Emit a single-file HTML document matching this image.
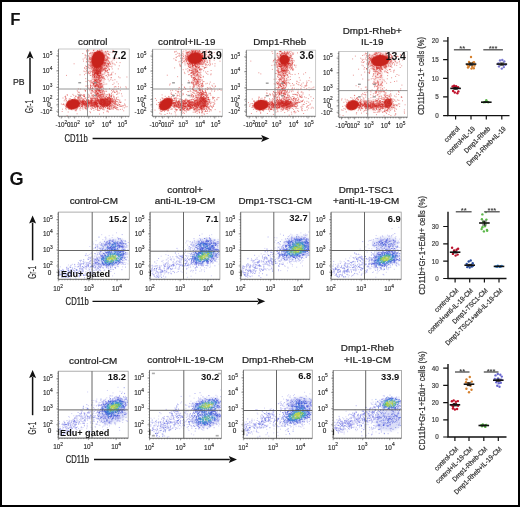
<!DOCTYPE html>
<html><head><meta charset="utf-8"><style>
html,body{margin:0;padding:0;background:#fff;width:520px;height:507px;overflow:hidden}
svg{display:block;will-change:transform}
</style></head><body>
<svg width="520" height="507" viewBox="0 0 520 507" font-family='"Liberation Sans", sans-serif'>
<rect x="0" y="0" width="520" height="507" fill="#fff"/>
<defs><filter id="bl" x="-50%" y="-50%" width="200%" height="200%"><feGaussianBlur stdDeviation="0.6"/></filter><filter id="bl2" x="-50%" y="-50%" width="200%" height="200%"><feGaussianBlur stdDeviation="1.5"/></filter></defs>
<text x="10.3" y="24.9" font-size="16.8" text-anchor="start" font-weight="bold" fill="#111" >F</text>
<text x="9.6" y="185.2" font-size="18.2" text-anchor="start" font-weight="bold" fill="#111" >G</text>
<text x="92.7" y="44.6" font-size="9.8" text-anchor="middle" font-weight="normal" fill="#222" stroke="#222" stroke-width="0.22" >control</text>
<rect x="58.5" y="49" width="70.8" height="67.3" fill="#fff" stroke="#c4c4c4" stroke-width="0.9"/>
<clipPath id="cf0"><rect x="58.9" y="49.4" width="70" height="66.5"/></clipPath><g clip-path="url(#cf0)">
<ellipse cx="98" cy="62" rx="9.5" ry="12" fill="#e04848" opacity="0.3" transform="rotate(10 98 62)" filter="url(#bl2)"/>
<ellipse cx="98" cy="82" rx="5.5" ry="10" fill="#e04848" opacity="0.2" transform="rotate(0 98 82)" filter="url(#bl2)"/>
<ellipse cx="104" cy="102" rx="10" ry="6" fill="#e04848" opacity="0.25" transform="rotate(0 104 102)" filter="url(#bl2)"/>
<ellipse cx="88" cy="103.5" rx="9" ry="4" fill="#e04848" opacity="0.18" transform="rotate(0 88 103.5)" filter="url(#bl2)"/>
<path d="M95.6 65.2h0m1.6-7.2h0m-4.3 0h0m10.9 8.1h0m-0.1-1.7h0m-3.7-1.3h0m-13.3 3.5h0m13.4-0.6h0m-6.5-10.2h0m6.3 5.2h0m2.3-5h0m-3.1 8.8h0m-8.1 10.6h0m8.1-3.2h0m-3.4-18.5h0m0.5 6h0m5.1 4.2h0m-4.2-11.9h0m-4.3 19.1h0m0-8.9h0m3.1 10.4h0m-9.2-16.8h0m12.1-2.1h0m2.2 7.3h0m-13.1 5.6h0m12.3 3.5h0m5.6-4.2h0m-3.1-9.6h0m-9.4-1.1h0m-4.3 6.2h0m16.5 6.4h0m-4.1-12.9h0m-11.7 13.4h0m14.5-4.6h0m-5.5 1.4h0m7.6 3.3h0m-6.2-2h0m-13.6 4h0m16.2-3.6h0m-15.2-13.7h0m7.6 16.7h0m-7.7 3.8h0m14.1-13.3h0m-2.8 6.8h0m-2 4.1h0m-1.8-14.6h0m9.2 5.9h0m-13 5.8h0m16.3-9.5h0m-17.3-0.6h0m7.6 0h0m10.4-4.6h0m-0.4-2.3h0m-15.5 14.3h0m10.9 4.3h0m-3.3-7.2h0m-1.9 3.6h0m-1.4-3.1h0m4.9-1.5h0m0.1 5.2h0m7.7-0.6h0m-13-9.1h0m0.1 11.9h0m-1-5.1h0m-4.3-2.2h0m8.9 1.8h0m-5.6 2.7h0m6.3-9.6h0m11.1 10.3h0m-16.8-7.5h0m1.9 0.7h0m-14-6.7h0m23.2-1.6h0m-10.1 17.4h0m4.5 5.9h0m-11.8-19.3h0m6.3 10.2h0m2 5.6h0m-0.1-9.2h0m5.6 0.7h0m-7.7 11.2h0m10-14.7h0m11.5-5.5h0m-12.3 5.5h0m-6.4 7.7h0m0.7-0.5h0m5.1-13.7h0m0.8 15.9h0m4.2-14.6h0m-8.3-3.6h0m-0.3 25h0m-9.7-2.2h0m14.1-13.1h0m-20.2 10.5h0m14.6-15.5h0m1.1 9.5h0m9-11.3h0m-6.6 21.7h0m4.9-14.4h0m-15.1 8h0m6.7-6.9h0m8.3-1.8h0m-21.6-5.6h0m0.4 11.2h0m15.4-10h0m-4.5 12.3h0m-0.4 4.5h0m-0.3-2.7h0m8.1 6.9h0m-11.4-9h0m-8 0.1h0m6.3-8.7h0m6.1 1.1h0m-2.8 1.9h0m14.4 1.1h0m-9.2 7h0m-6.5-0.7h0m-3.4-16h0m13.1 15.4h0m-5.9-1.1h0m4.5-17.3h0m-11.2 2.7h0m14.5 3.6h0m-10.3-4h0m-4.9 5h0m1.2 4.7h0m-6.9-1.7h0m19.3-1.7h0m-16.3-8.8h0m14 6.7h0m0.7 11.2h0m0.1-3.8h0m3.4 3.7h0m-3.8 5.2h0m-3.8-17.1h0m-0.7 26.4h0m-5.1-16.9h0m18-3.8h0m-9.6 7.4h0m-6.9-10.5h0m5.4 9.5h0m-0.1-9.4h0m-5.4-2.6h0m10.4 6.4h0m-8.6-10.4h0m17.1 21.6h0m-10.8-8.2h0m6.3 0.8h0m-10.4-1.3h0m-12 2.3h0m16.5-12.6h0m1.4 23.3h0m-11.7-25h0m8.5 9.5h0m-2-11.1h0m11.2 20.8h0m-2.4-0.9h0m1.1-1.5h0m-14.9-8h0m-5.8-10.5h0m10.1 13.7h0m-2.8-6.5h0m6.1 5.9h0m1.4-1.3h0m-6.7 4h0m5.1-13.8h0m-5.5 6.5h0m2.8 2h0m0.6 0.3h0m1.8-12.9h0m-0.9 21.1h0m2.3-11h0m1.5-6.8h0m-15.7 6.3h0m4.5 7.1h0m-2.1 7.3h0m3.5-9h0m8-1.5h0m4.9 5.8h0m-8.7-2.8h0m9.2 5.3h0m0-18.8h0m-10.2 14.6h0m-1.5 2.8h0m5.6-0.4h0m-7.7 13.5h0m13.5-22.6h0m-11.8 23.4h0m0.5-15.7h0m9.4-6.1h0m-13-0.9h0m7.3 10.1h0m4.5-9.3h0m-0.5 4.7h0m-3-5.1h0m-3.8 5.1h0m-2.4-12.6h0m0.1 11h0m8.4-4h0m6.4 6.5h0m-1.8-13.2h0m-5.1 15.7h0m-14-11.9h0m10.8 4.9h0m2.8 4.7h0m4.3 5.2h0m-13.6-18.1h0m2.5-4.8h0m3.8 10.8h0m-6.7-1.7h0m6.6-1.3h0m1.6-3.8h0m2.5 10.8h0m-2.8-10h0m-6.5 5.2h0m-3.4 0.8h0m8.3-3.1h0m2.5 9h0m-0.3-13.5h0m-2 6.9h0m4.5 4.2h0m-4.7-10.5h0m-5.4 4.7h0m3.2 2.6h0m6.9-3.3h0m10.4 2.9h0m-7.9 2.5h0m-11.2-1.1h0m4.3 20h0m0.2-9.6h0m3.2-2.4h0m0.5-10.1h0m1.6-8.1h0m3.9 1.3h0m-11.1 26.6h0m1-19.1h0m8.1 1.7h0m-12-0.3h0m7.4 5.7h0m-9.9 7.5h0m17.5-12.4h0m-7.5-5.6h0m7.3-1h0m-4.8 1.1h0m-10.2 8.9h0m13.3-4h0m-13.3 4.9h0m4.6-3.7h0m7.7 9.1h0m-14 7.7h0m5.7-12.6h0m-2.3-8.1h0m-9.8 14.9h0m23.7-22.8h0m-2.5 6.4h0m-7.5-0.1h0m1-6.9h0m-2.2 12.3h0m4.2-4.1h0m-8.8 1.8h0m0 12.9h0m10.3-13.3h0m-6.2-6.7h0m-3.4 2.6h0m5.7 9.1h0m-1.2 14.3h0m-3.8-19.9h0m0.8 1.6h0m3.6 2.9h0m-2.3-0.9h0m1 4h0m-8.4-17h0m11.3 1h0m-9.1 13.4h0m2.3 0.5h0m8.8-1.2h0m-0.6-3.9h0m-11.4-1.6h0m11.8-2.2h0m-5.5 10.6h0m-4.4-1.9h0m18.2-7.3h0m-10.8 1.5h0m7.4 5.8h0m-2-9.6h0m-6.6 4.9h0m-12.9 10.7h0m17.6-10.9h0m-2.6 4.1h0m-10.4-7.5h0m18.2 0.4h0m-17.6 4.8h0m17 4.3h0m-11.8 14.2h0m0.8-26.6h0m3.9 12.1h0m-0.8-3h0m-8.6-5.8h0m3.3 6.7h0m3.5-4.3h0m-3.5 9.8h0m12.8-10.5h0m-2.5-4.1h0m-7.2 12.4h0m10.5-8.3h0m-10.4 3.2h0m-8-3.2h0m4.2 4.1h0m4.4-0.2h0m-4.6 4.9h0m4.3-12.9h0m-3.4 4.7h0m9.2 0.6h0m-2.3-5h0m-4.2 20.4h0m-7.1 5.1h0m4.5-20.7h0m3 9.8h0m2.9-1.5h0m-3.1 16.2h0m1.8-21.4h0m4 1.9h0m7.2-13.3h0m-6.6 6.6h0m-3.8 22.4h0m-1.2-22.4h0m-1.8-5.7h0m-3.4 12.9h0m4.9-4.3h0m-2.8 7.3h0m5.9-8.6h0m1 0.2h0m-13.6 12h0m13.8-19.4h0m1.3 12.2h0m-17.8 8h0m12.5-4h0m1-9.4h0m-12.2 7.8h0m11.5-9.2h0m1.2 3.6h0m2.7-3.6h0m-8.3 8h0m12.2-7.1h0m-12 15.4h0m0.3-7.7h0m13-3.7h0m-1.3-7.2h0m-7.1 4.4h0m-2.7 10.5h0m16.5-13.1h0m-19.5 6.7h0m-2.8-0.6h0m11-4.9h0m-7-3.9h0m-0.8 12.8h0m5.1-10.5h0m-0.8 18h0m-1-11.4h0m7.4 0.6h0m-18.8 16.6h0m11-16.8h0m5.5 3.5h0m-4.2-16.7h0m-1.5 18.8h0m-3.4-19.6h0m3.8 6.2h0m4.7-1.5h0m-8.4 1.2h0m5.4-1.4h0m-2.2 12.5h0m5.2 9.9h0m-7.8-21.1h0m-14.1 18.4h0m13.8-15h0m7 1.5h0m-14.1 0.1h0m15.7 2.4h0m-2.4 1.7h0m6.1-4.9h0m-2.2-2.2h0m-0.2-3.7h0m-9.4 21.4h0m6.6-16h0m-8.2-7.4h0m4.8 16.8h0m2.1-3.4h0m-4.3 6.8h0m1.4-17.2h0m6.4 6.9h0m-5.7-7h0m-2 10.6h0m6.8-15.4h0m-2 12.3h0m-9.5 3.5h0m6.3-8.9h0m3.3 15.9h0m-7.1-9.6h0m-4.5 16.4h0m4.3-9.4h0m-0.3-3.6h0m1.9-2.5h0m4-9.9h0m11.9 9.3h0m-23.7 2.3h0m-1 2.5h0m8.5-7.5h0m10.9 1.9h0m-1.6 5.4h0m-11.9-1.3h0m8.1-0.3h0m-14.5-11.7h0m16.7 12.9h0m-3.9-3h0m16.6-9.9h0m-18.7 5.3h0m8-2.8h0m2.2-2.7h0m-5.7 1.3h0m-0.3-1.6h0m-13.5 13.6h0m14.1-12.3h0m-3.4 13.6h0m-5-11.1h0m7.8 7.4h0m4.5-0.9h0m-6.1-6.8h0m1.7-1h0m-7-4.3h0m2.3 1.6h0m-5.6 10.3h0m-0.9 0.1h0m2.3-2.4h0m14.3 1.5h0m-12.1-3.8h0m0.5 1.1h0m1-0.6h0m5.8 7.5h0m1.4-1.3h0m-6-6.8h0m0.7-2.6h0m-0.9 2.5h0m-3.8-0.8h0m9 0.6h0m-2.3 25.4h0m-15.9-26.5h0m18.5-0.1h0m0.7 6.3h0m-3.1-9.5h0m3.4 1.7h0m-2.4-0.7h0m-15.4 1.2h0m13 9.9h0m-4.9-8.2h0m8.5 3.3h0m0.3 17h0m-1.4-4.5h0m1.7-6.2h0m-6.4-15.3h0m9.3 0h0m-15.8-4h0m20.1 30.9h0m-13.9-27.1h0m5.4 0.9h0m5.1 7.2h0m-16.5 9.4h0m4.9-9h0m4.3-4.1h0m2.6-2.9h0m-9.2-2.5h0m5.9 8.7h0m3.3 1.2h0m-6.5-8.9h0m-8.8 3.2h0m14.1 9.2h0m-2.3-6.9h0m5.9 3h0m-2.2 4.7h0m-4.4 5.8h0m-1.6-15.6h0m-0.6-4.2h0m9.3 25.4h0m-6.9-12.4h0m6.4 3.5h0m3.8-18.2h0m-13.9 12.9h0m12.9-0.6h0m-12.7-6.8h0m2.1-4.2h0m12.2 4.7h0m-13.6 22.8h0m10.1-14.7h0m-10.7-1.5h0m12.7 4.5h0m-1.2-5h0m-3.8-3.6h0m-3.2 13.2h0m-8.5-14.3h0m10.7-2.5h0m-5.6 11.4h0m13.8 1.3h0m0.6-4.9h0m-9.4-12.9h0m-0.2 0.2h0m-2 13.9h0m0.1-1.7h0m-7.3 9.1h0m7.9-18.6h0m-5.6 2.7h0m9.1-5.8h0m-7.2 22.5h0m7.7-12.9h0m-3.3-0.4h0m-2.6 7.3h0m3.1-14.3h0m3.4 3.3h0m-7.9 24h0m-1.1-30.6h0m-7.6 12.2h0m1.9 2.7h0m5.9-7.9h0m3.4 16.6h0m10.1-1h0m-9.1-9.6h0m7.5 12.9h0m-10.6-11h0m4.2-2.9h0m4.6 5.4h0m-15.8 4.7h0m19-1.6h0m4.9-17.7h0m-11.9 12.8h0m-1.5-2.6h0m-3.1-7.8h0m3.9 8.8h0m-0.3-8.7h0m-5.7 13.8h0m8.6-6.1h0m-9 11.5h0m0-8.3h0m12-6h0m-0.5-7.9h0m-1.2 11.9h0m-16.1 1h0m3 6.2h0m3.8-12.5h0m6-0.3h0m0.2-2h0m1.4 5.4h0m2.9 0.9h0m-17.5-3h0m11.5 11.3h0m-9.9 2.4h0m3.9 8.5h0m3.1-15.1h0m1.9-16.1h0m5 19.6h0m2.7 0.1h0m-10.1-16.1h0m-3.2 10.9h0m8.2-6.2h0m-1.1 0.9h0m-1.4 8h0m7-11.8h0m-18.3 15.7h0m10.1-0.9h0m-7.8-14.8h0m4.8 10.7h0m7.8 9.5h0m-2.1-6.4h0m2.1-20.1h0m-0.3 19.1h0m0.9-11.5h0m-3.7 10.9h0m0.7-2.7h0m-2.6 3.3h0m-1.8-9.3h0m0.5 6.1h0m12.6-5h0m-0.4 16.2h0m-5.8-9.8h0m7.1-5.6h0m-9.5-10h0m-0.8 21.9h0m2-8h0m-3.9-3.1h0m-8.8 6.3h0m9.9-17.8h0m-2.5 2h0m6 18.6h0m-12.7-3.8h0m15.9-10.7h0m-13.7-4.2h0m3.1 10.6h0m11.8-11.9h0m-10 1.2h0m-3 19.2h0m9.4-4.5h0m-6-11.8h0m-4.6 8.8h0m-23.3 37.4h0m-2.9-5.2h0m12.2 12.1h0m-4.3-9h0m7 4h0m-0.7 5.2h0m-0.5-8.1h0m0.6 5.1h0m-15.7-1.9h0m0.9 1.1h0m10.6-6.3h0m-13 12.8h0m14-2.1h0m-10 0.3h0m20.1 0h0m-14.5-4.6h0m1 3h0m6-5.1h0m-13.1 5.4h0m5-1.5h0m5 3.3h0m3.2-9.6h0m-2.6 10.1h0m-6.2-4.5h0m10.5 1.4h0m-6-9.8h0m-8.8 8.5h0m11.3 7.5h0m-8.2-4.3h0m6.9-13.5h0m-7.5 9.4h0m1.6-1.7h0m4.9-3.8h0m0.1 0.7h0m-4.7 6h0m-0.4-1h0m12.1-3.5h0m-9.3 4.9h0m-1 1.7h0m-5.6-0.9h0m3.2-6.7h0m13-2.8h0m1.1 6.2h0m-3.1-6.4h0m0.6 10.3h0m-8.8-5h0m14.9-1.7h0m-17 0h0m5.7 2.9h0m-0.4 6.1h0m-3.9-4.6h0m9-8.1h0m-0.1 12.1h0m-16-9.3h0m1.2-3.4h0m8.4-1.8h0m3 13.6h0m-13.4-4.8h0m-0.9 4.8h0m5.9-5.6h0m5.2 2.4h0m-2.8-1.7h0m-1 0.6h0m-3.6 0.5h0m-4.8-1.4h0m22.4-2.1h0m-17.9 4.4h0m0-8.2h0m3.3 9.6h0m5.7-4.7h0m-8.3-2.6h0m14.1 2.9h0m-15.1-7.1h0m1.5 19.4h0m-0.9-10.8h0m7.7-1.9h0m-3.8-4.4h0m-1.9 13.5h0m1-3.8h0m-6.3-3.6h0m12.2 3.2h0m-8.2-0.3h0m7.5-7.2h0m0.4-0.7h0m-6.5 5h0m-2.4-5.7h0m5.1 8.5h0m0.6 2.1h0m-6.5-9.8h0m16.9 4h0m-4.5-4.4h0m0.1 4.6h0m-1.1-0.7h0m2.6-3.5h0m-13-0.9h0m12.7 0.6h0m-12.7 1.7h0m3.1-2h0m1.4 2.5h0m-1.7-1.1h0m3.7 1.4h0m1.1 2.8h0m-0.8-10.3h0m-3.8 6.7h0m6.8-4.7h0m-7.4 7h0m3.2 4.9h0m-0.6 0h0m-8.1-10.3h0m17.1 6.2h0m27.3-1.2h0m0-5.4h0m3.2 2.8h0m0.3 2.5h0m-20.7-5.5h0m21.7 4.6h0m-10.7 1.5h0m-0.2-3.2h0m3.7 2.8h0m9.9-0.4h0m2.6 7h0m-1.2-3h0m-11.1-3.7h0m-1.9-3.4h0m0.5 0.3h0m12 4.7h0m-14.6-9.8h0m2.7 6h0m-7.2-2.8h0m-8.2 6.8h0m15.3 8h0m0.3-10.9h0m10.3 1.1h0m-8.9-2h0m-5.4 7.5h0m11.2 0.9h0m-9.4-6.8h0m-3.8 3.8h0m-3.6-1.6h0m17.5 3.3h0m-14.3-1.2h0m1.6-7.4h0m-4.3 7.6h0m20.8-7h0m-16.8 1h0m22.9 5.4h0m-21.4-11.2h0m-0.9 11.9h0m17.8-5.8h0m-17.9-0.9h0m-8.4 5.6h0m5.6 0.7h0m-4.4-9.4h0m14 2h0m3.5 3.1h0m-13.7 2.5h0m14.1-10.2h0m6.9 9.7h0m-7.5-9.4h0m-10.3 6h0m12.5-4.4h0m-13.7-2.3h0m4.5 9.5h0m-10.1-3.8h0m15.4 8.7h0m1-7.5h0m-12.8-2.5h0m3.6 4.3h0m4.3 6.1h0m2.3-11h0m8.8 8.1h0m-10.1-6.7h0m-13.8-1.2h0m19.5 0.9h0m-15.6 4h0m10.9 1.6h0m2.9 3.2h0m-10.5-1.7h0m-1-1.1h0m8.2-1.8h0m5.5-1.1h0m1 3.6h0m-6.9-5.8h0m-6.2 0.2h0m3.9 2h0m22.3 2.7h0m-15.5-6h0m-10.4 2.1h0m6.3-2.8h0m10 1.8h0m-3.8-7h0m-7.5 10.4h0m1.3 1.3h0m0.7-1.8h0m-15.2-3.5h0m-3.2 5.4h0m18.6-3.3h0m-7.9-1.5h0m18.6 9.2h0m-13.3-1.7h0m-10.7-12.9h0m7.7 4.2h0m-0.5 4.3h0m25.1-3.4h0m-20.9 3.7h0m-0.5 2.6h0m12.6-8.7h0m-11.3 3.9h0m1.4-5h0m-14.8-3.2h0m16 10.1h0m-3.2-10.3h0m-3.1 6.5h0m-7.3-0.7h0m14.8 5.9h0m-5.1-0.1h0m-4-1.8h0m4.5 1.9h0m-0.8-2.8h0m-0.4-2h0m16.5 4.7h0m-12.6 7.1h0m6.8-15.4h0m-4.9 9.6h0m8.3 1.9h0m-7.8-10h0m-11.5 5.8h0m9.6-5.2h0m-6.2 2.5h0m3.1 2.9h0m-2.4-6.2h0m10.7 11.3h0m-9.4-2.3h0m3.8-1.5h0m0.3-5.7h0m0.6 7.1h0m-10.3 3.9h0m20.9-0.6h0m-0.7-4.3h0m-16.3-5.4h0m-3.3 2.9h0m5.5 2.2h0m-13.9 6.5h0m30-9.3h0m-11.2 2h0m-2.8-2.7h0m-2.8-2.5h0m2.1 3.2h0m1-3.3h0m-1.9 3.6h0m3.9-4.5h0m-1.3 8.2h0m1.3-5.4h0m-7.6 0.6h0m8.5 7.1h0m-6.2-8.8h0m3.7 3.4h0m-9-3.7h0m5.7 5.6h0m-7.7-6.8h0m11.9-0.8h0m-2.7 6.3h0m-1.6-5.5h0m0.4 2.8h0m2.8-2.1h0m5.2-3.3h0m-8.8 6.7h0m7.9-2.4h0m-2.9 0.1h0m1.4 9.2h0m-8-5.1h0m-3.7 2.1h0m15-3.8h0m-16.4 1.5h0m15.9 2.8h0m-2.3-11.7h0m-10.5 13h0m-3.8-1.2h0m21.8-1.5h0m-5.4-4.3h0m-16.4 0.9h0m7.2 0.2h0m6.3-0.4h0m-3.6 2.3h0m-1.3 5.7h0m3.1-7.1h0m-4.6-2.8h0m10.9 3.1h0m-17-2.8h0m6.6 0.4h0m8.6-2.8h0m-4.2 5.2h0m-11.6-0.4h0m7.5 1.8h0m-2.5-0.8h0m-8.5-5.5h0m17.2 8.5h0m-5.6-6.6h0m7.7-6h0m-13.2 11.1h0m10.2-6.8h0m-17.8 9.9h0m14.3-9.4h0m-0.7 7.2h0m-18.5 0.8h0m23.3-12.7h0m0.2 1.2h0m2.6 8.7h0m7.8-4h0m-15.8 6.6h0m-4.5-7h0m1.9 2.5h0m-5 2.2h0m11.4-1.6h0m8.1-1.6h0m-2.8-0.9h0m-3.8-5.5h0m-3.9 7h0m-4.9-1.7h0m1.1-0.5h0m-13 0.5h0m11.6 0.3h0m-3.6 1.6h0m12.9-0.5h0m-8.9 6.4h0m10.2-1.7h0m1.3-5h0m-9 5.8h0m-3-5h0m6.5 2h0m-4.5 2.4h0m0.7-1h0m8.7-0.3h0m-2.4-7.2h0m-14.3 2.1h0m12.5 8.5h0m-11.9-4.8h0m2.6-4.1h0m4.1 5.7h0m3.4 1.9h0m-8.4-1.1h0m13.4-3.3h0m-3.2-2.6h0m-10.9 0.7h0m3.1 13.2h0m1.1-5h0m4.8-5.4h0m3.8-4.3h0m1.2 4.6h0m-17 0.9h0m14.5-0.6h0m7.2-3.5h0m-7.5 4.7h0m-9.9 1.8h0m-3.9-10h0m13.9 0.8h0m-4.5-2.2h0m1.3 2.1h0m1.9-1.6h0m0.7 5h0m-2.7 0.8h0m0.5-5h0m-18.9 5.4h0m11.4-1.9h0m9.6-6.1h0m-8.3 5.5h0m-2.1 3.7h0m6.4-4.6h0m-5.9 6.5h0m2.3-0.9h0m7.7-9.9h0m-10.7 7.6h0m10 3.1h0m3.2 1h0m-8.2-4.9h0m8-0.9h0m2-4.7h0m-2.8 5.7h0m-18.4 4.6h0m16-3.8h0m-9.7-2h0m18.1-1.4h0m-34.9-0.1h0m15.9 2.9h0m5.6-3.1h0m-3.1 7.8h0m-4.2 3.6h0m6.3-12.2h0m9.3 6.7h0m-12.8 0.7h0m-5.6-6.7h0m20.8 2.7h0m-17 3.1h0m15.5-2.2h0m-19-1.3h0m15.5 4.5h0m10.1-4.1h0m-16.4 0.8h0m11.8-3.6h0m0.7-7.2h0m-3.5 8.3h0m-2.4 5.5h0m-11.5-3.1h0m10 2.6h0m-8.2-6.3h0m-7 14.2h0m12.2-11.1h0m-9.2 4.6h0m6.8 2h0m9.7-5.6h0m-0.9-4.5h0m-7.4 2.1h0m-6.6 2.4h0m7.9 5.6h0m-22.5-8.4h0m17.1 0.8h0m9.4 3.5h0m-2.8-3.5h0m3.3 3.3h0m-16.4-2.4h0m3.3-3.7h0m10.6 4.9h0m-0.2-3.7h0m-2.2-0.2h0m4.1 6.5h0m9.6 2.3h0m-17.9-6.9h0m-1 3h0m20.5 1.6h0m-29.3-7.8h0m6.4 7.1h0m9-0.9h0m12.5-4.5h0m-18.4 11.2h0m8.3-11h0m-16.6-3h0m-2.9 6.4h0m17.4 3.7h0m-1.3-6.8h0m-4.2 10.4h0m-7.2-6.9h0m12.6 1.8h0m-3-0.5h0m8.5-2.6h0m-8.9-0.1h0m-3.6-0.1h0m4.7 1.6h0m11.5 4.4h0m-12.5-2.8h0m5.2 0.6h0m-1.9-1.9h0m-3.5-4.2h0m9.4 8.3h0m-1.5-3.5h0m-2.7-3.5h0m-14.4 4.5h0m13.9-4.9h0m-8.2 7.3h0m-5.8 1.9h0m17.1 2.5h0m-9.5-9.6h0m1.5 0.7h0m2-3.6h0m9-0.1h0m-11.1 5.3h0m-0.2-3.9h0m6.3 0.2h0m-11.2 1.1h0m7.2 7.2h0m-6.2-2.9h0m2.2-5.3h0m3.2 2.5h0m8.3 5.9h0m-10.5-1.7h0m11.5-2h0m-12.3 0.3h0m4.5-2.2h0m-1.1 1.3h0m9.7 1.8h0m-9.2-0.5h0m11.6-7.7h0m0.1-1.6h0m-6.5 7.7h0m6.6-1.3h0m-13.8-4.3h0m-5.4 6.3h0m7.1-6h0m5.4-0.2h0m-6.8 1.3h0m14.7 7.7h0m-12.7-12.2h0m3 6.6h0m0.5 2h0m-4.6 1.4h0m8.1-2.9h0m-8.7-2.7h0m7.6-2.5h0m-5.9 1.4h0m-8.7 5.4h0m9.6-2.3h0m6.3-6.1h0m-6.6 7.2h0m6.3-5.5h0m-0.8 5.2h0m4.5 3.7h0m-5.7 4h0m-3.8-10.3h0m-2.4-2.1h0m2.2-3.7h0m-0.4 9.2h0m7.5-3.1h0m2.8-1.2h0m-10.6-4.9h0m-4.4 4.3h0m15.5 5.3h0m-17.7 0h0m10.8-3h0m-3.1-0.3h0m-3.9-5.7h0m3.1 11.9h0m10.4-6.1h0m-14.9 0.3h0m11.2 2.2h0m-10.1 0h0m2.6 0.6h0m-1.4-7.7h0m3.2 8.7h0m-8-3.4h0m13.6-1.1h0m-10.4 9.4h0m10.1-3.9h0m-12.2 2.4h0m-4.8-8.4h0m16.3 7.2h0m-11.3-7.8h0m7.6-4.9h0m3.1 9.7h0m-7.4-0.1h0m8.3-0.9h0m-1.7 4.7h0m-6.8-5.3h0m-0.4 3.4h0m0.8-2.2h0m3.7-1.5h0m10.7-0.6h0m-2 3.5h0m-0.7-3.8h0m-2.6 3.5h0m-10.5-1.9h0m3.3-1.1h0m9.7-2.7h0m-20.2-3.9h0m8.3 4.2h0m3.2 4.7h0m11.8-1h0m-8.8-4h0m0.8 8h0m5.2-12.7h0m-3.1 13.6h0m-0.4-11.9h0m-7.7 8.1h0m4.9-5.4h0m-8.8 6.8h0m-3 1.8h0m9.1-4.3h0m-9.1-3.5h0m13.6-3.4h0m9.4 0.3h0m-22.2 5.6h0m11.4 2.6h0m-5.7-3.6h0m0.9-1.4h0m-15.8 5.9h0m19.1-3.1h0m-5.9 0.4h0m4.1-1.3h0m7.5-6.3h0m-5.7 2.5h0m-3.8 9.9h0m-5.2-6.2h0m3.3 4h0m-2.6-10.1h0m10.1 5.1h0m-5.6 5.6h0m-3.9-5.6h0m7 3h0m-4.5 2.4h0m18.6-5.6h0m-2.5-6.5h0m-3.1 6.8h0m-8.6 0h0m-5.2-3.6h0m1.6 9.9h0m10.4-6.3h0m-11.2-1.4h0m-4.6 9.6h0m12.6-6.4h0m-7.8-4.4h0m12.1 6.9h0m-15.2 0.8h0m-1-1.3h0m0.9-4.1h0m9.8 3.3h0m3.5-4.9h0m3.8 8.4h0m-10.7-3.4h0m-5.1-2.4h0m-3.7 0.9h0m10.2 4.9h0m5.1-2.1h0m-8.8-4h0m0.1 1.8h0m-10.7 2.1h0m2.5-5h0m10.6 0h0m11.1 1.6h0m-0.6 4.9h0m-13.9-3h0m12-2.8h0m-8.1-0.8h0m-0.2 0.7h0m0.2 5.2h0m8.8-3.3h0m-8 2.8h0m-3.3-7.4h0m9.4 0.5h0m-1.2-0.1h0m6-0.3h0m-6.6 9.8h0m-12.2-0.1h0m1-12.5h0m10.4 9.5h0m-6.3-12.4h0m1 8.5h0m-2.1 0.1h0m-9.5-1.1h0m24.1 8.1h0m-14.5-8.6h0m5.1 6.8h0m2.2-8.6h0m-3.8 5h0m8.6 4.1h0m-6.2 0.1h0m-6.2 1.2h0m-0.2-4.4h0m9.1-5h0m-10.9-3.3h0m5.8 6.6h0m-3.3 2.1h0m-12-2h0m14.8-0.9h0m4.7 7.7h0m-8.3-10.3h0m-1.1 4h0m8-3.7h0m2.8-0.6h0m-1.1 5.5h0m-2.5 6.7h0m-4.9-8.9h0m5 3.9h0m-3.6-42.2h0m2.8 2h0m10.2-3.3h0m-7.1 0.8h0m-13.7 3.3h0m16.9-3.5h0m-4.6-5.1h0m1 11.2h0m0.4 0.8h0m-11.8-10.4h0m13.6 2.5h0m-9.3-3.7h0m14-3.6h0m-10.8 1.1h0m2.2 10h0m5.5-15.4h0m4.1 8.3h0m-9.8 13h0m2.4-16.7h0m-2.7 2.9h0m-1.7 2.3h0m9 3.9h0m-10.8 14.1h0m1.8-15.4h0m5 3.7h0m-1.8-1.8h0m11.7-2h0m-15.3 1.3h0m1.3-4h0m4.8 4h0m-2.3 3h0m0.5-12.4h0m5.1 5.4h0m1.6-1.7h0m-3.1 5.6h0m-15.6-10.4h0m7.5 16.7h0m-3.7-2.8h0m14.3-2.4h0m-2-5.8h0m-3.3 4.2h0m2.1 2.8h0m-3-8.1h0m-1.7 6.4h0m-5.3-9.6h0m6 4h0m0.4 1.8h0m5.3-10h0m-5.2 14.1h0m3.8 4.2h0m-9.6 25.4h0m-7.5-3.6h0m3.9-1.9h0m-1.7-0.6h0m1.6-0.1h0m-1.3-2.3h0m0.5 1.6h0m-1.8-13.6h0m6.4 18.1h0m-2.7-4h0m-0.4 2.9h0m3.4-14.2h0m-3.8 6.3h0m-2.6-12.6h0m9.9 21h0m-13.9-18.4h0m8-0.9h0m-9.4 9h0m5.2 10.8h0m0.7-15h0m5.3 10.3h0m-3.7 8.9h0m-0.4-24.2h0m-0.5 14.7h0m2.4 9.8h0m-4.8-13.6h0m4.4 8.8h0m-1-4.6h0m1.5 7.6h0m-1.8-15.3h0m-0.4-5.5h0m-0.5 22.3h0m-2.3-15.3h0m-3 17.7h0m4.4-25h0m3 17.3h0m-3.7-0.6h0m5.5 4.4h0m-6.2-17.2h0m1-0.6h0m-1.8-5.7h0m4.9 13h0m-1.8-9.1h0m2.5-1.4h0m0.4 23.3h0m-0.8-6.1h0m-3-13.8h0m1.4 8.7h0m2 2.6h0m1.1 8.5h0m-1.6-15h0m-1.7-0.8h0m-3.9 17.8h0m4.9-11.4h0m-5.1-11.2h0m9.1-5.6h0m-2.1 17.4h0m-1.9 2.4h0m-3.2-4.2h0m5.5-6.3h0m-0.2 4.3h0m-7 2.2h0m0.2-8.8h0m7.5 5.9h0m1.2 11.2h0m-4.1-17h0m1.9 6h0m-1-11.9h0m-2.3 21.3h0m-1-13.6h0m-1 4.4h0m1.4-1.1h0m-0.7 8.3h0m-1.8-13.8h0m1.3 3.4h0m2-6.1h0m0.8 5.3h0m-2.3 15h0m4.4-2.2h0m-3.9-12.7h0m3.6 0.9h0m-4.4 5.4h0m3.3 10.7h0m0.2-25.7h0m5.6 13h0m-6.7 2.5h0m4.1 7.1h0m-3.4-10.3h0m-1.1 6.1h0m-0.9-5h0m0.3-11.2h0m1.1-1.8h0m-0.3-0.4h0m-0.5 18.5h0m-2.7 8.8h0m2.6-13.8h0m0.8-7.1h0m-7.2 8.4h0m9-14.3h0m3.1 5.3h0m-2.1 7.1h0m-3.5-4.2h0m2.2 15.5h0m-6-13.9h0m2.6-4.1h0m6.1 9.2h0m-5.5-4.9h0m-1.4-10.4h0m0.7 14.6h0m3.4-2.9h0m-2.4-3.8h0m-4.9-2.9h0m2.6 15.6h0m6 3h0m-3.8-23.1h0m1.9 4.3h0m-3.9 9.4h0m-2.4-12.5h0m2.1 7.9h0m5.5 4.6h0m3 5.4h0m-8-18.2h0m6.3 22.8h0m-7.8-11.4h0m0.6-0.6h0m2.9-8.4h0m1.5 19.4h0m-1.7 3.9h0m-1.6-10.2h0m2.5 3.6h0m-3.7-12.6h0m1.2 12.7h0m2.7-21.2h0m0.9 15.8h0m-1.6 2.6h0m2.7 3.9h0m-7.3-18h0m3 10.6h0m4.6-11.5h0m-4.2 7.6h0m-1.9-4.7h0m3.7 19.5h0m0.4-10.6h0m1.3-8.5h0m1.1 7.7h0m-6.4-9h0m1.7 12.6h0m4.8-18.5h0m1.9 21.1h0m-6.9-21.1h0m0 11.2h0m5.4-7.2h0m-4.1 3.4h0m2.3 14.5h0m-6.5-0.2h0m7.3-5.4h0m-3.3-13.1h0m-6.2 15.6h0m0.2 4.7h0m13.3-2h0m-8.5 1h0m-5.5-7.4h0m7.4 12.1h0m0.9-21.9h0m-5.4 8.4h0m8.7 6.9h0m-5.4 6.4h0m-1.1-2.9h0m2.9-1h0m-1.1-20.8h0m3.8 14.4h0m-6 6.6h0m3.5-21.9h0m-1.2 21.8h0m-1.6-22.4h0m-5.7 10.9h0m5.1 3.9h0m3.1-1.6h0m-1.3 9.6h0m0.7 3h0m0.8-21h0m0.5 9.4h0m0.2 9.3h0m1.8 2.8h0m0.5-10.4h0m1.5-2.2h0m-9-13.6h0m6.5 19.2h0m-4.9 1.9h0m-3 3.9h0m2.5-9.7h0m6.7-9.3h0m4.8 6.9h0m-4.6 5.6h0m-3.1 0.6h0m-4 2.7h0m8.1-18.9h0m-9.9 1.3h0m11.3 3h0m-6 0.2h0m0.6 0.4h0m-4 2h0m-0.8-4.6h0m8.3 15.5h0m0.3-1.4h0m-1.8-12h0m-1.1 6.3h0m-7.4-13.9h0m2.7 9.3h0m1.6 4.4h0m0.1-3.2h0m-3.5 15.4h0m12.3-5.5h0m-5-10.9h0m-6.5-5.8h0m5.6 21.1h0m0.5-23.4h0m1 14.1h0m-7.7-8.2h0m6.3 9.9h0m-6.4 7.9h0m10.4-0.9h0m-3.9-4.7h0m-3.4 3.3h0m-2.5-16h0m4.3 2.2h0m0.4 13.4h0m0.5-15.3h0m-1.8 7.8h0m0.7-9.9h0m1.1 3.4h0m1.8 13.4h0m-4.4-22.4h0m-0.2 0.9h0m5.2 14.7h0m-0.7 8.4h0m4.4 3h0m-10.5-23.1h0m6.5 15.7h0m-6.4-10.8h0m5.1 5.2h0m-1.6-7.2h0m-1 21.1h0m3.8-8h0m-8-19.8h0m6.5 10.3h0m-0.4 17.4h0m-3.4-3.2h0m0-21.7h0m7.8 23.8h0m-7-12.9h0m-1.4 0.9h0m-2.7-12.5h0m8 9h0m-3.4 11.8h0m0.5-6.7h0m-0.8 8h0m-0.4-9.2h0m-1.8 2.1h0m4.6-11h0m-1.2-3.4h0m-4.2 12.9h0m-0.4-2.6h0m2.5-2.9h0m3.2-4.2h0m-1.1 19.2h0m-3-19.4h0m-1.1 16.6h0m-2.6-21h0m6.3 1.1h0m1.5 2.4h0m3.3 2h0m-10.5 14.5h0m8.9 1.5h0m-6.5-20h0m3.2 20.3h0m2.8-9.5h0m-2.9-12.6h0m-5 11.3h0m4.7 10.3h0m0.6-3.4h0m-5.7-3.6h0m1.4 5.3h0m2.2-12.9h0m-3.4 9.3h0m4.4-15.2h0m4.5 11.3h0m0.6 10.7h0m-6.9 2.3h0m1.5-2.3h0m-2.4-19.3h0m5.3 3.6h0m5.8-7.4h0m0.7 17.9h0m-6.7 1.7h0m-1.1-15.3h0m-2.2 4.5h0m6.6 5.2h0m-3.4-8.2h0m-1-2.9h0m-3.4 11.9h0m7.3 11h0m-5-19.1h0m-3.5 20.7h0m5.9-9.6h0m1.2-11.9h0m-1.3-1.9h0m1.6 12.3h0m-4.3-8.5h0m0.9-4.6h0m2 22.6h0m-0.8-23.8h0m5 16.8h0m-10-10.4h0m5 13.9h0m3.4-16.1h0m-5.5 17.3h0m3.1-19.7h0m3.6 21.8h0m-4.2-25h0m-4.8 1.9h0m6 18.7h0m-3.9-7.6h0m3.7-4.8h0m-2.8-5.2h0m-2.7 8.4h0m2 6h0m-1-15.8h0m-0.5-0.5h0m0.8 9.6h0m9.1-3.2h0m-7.3-4h0m-6 20.6h0m1.4-10.6h0m5.4 8.7h0m-7.8-10.9h0m8.4-0.9h0m1.1-9.2h0m-7.1 2.1h0m4.8 7.2h0m3.5-6.3h0m-0.4 16h0m3.6 1.7h0m-8.4-7h0m-1.8-10.3h0m1.1 13.9h0m2.3-8.7h0m-0.7 1.5h0m-3.7 1.1h0m-0.9-8.3h0m2.2 0.1h0m2.4 12.8h0m0.1-14.7h0m1.3 8h0m-1.1-8h0m-0.6-0.5h0m-0.4 21.7h0m-3.3-11.8h0m-1.4 5.1h0m-0.1-6.3h0m3.2-9.7h0m-5.6 22.7h0m6.8-1.8h0m1.1-17.5h0m-6.6 16.9h0m6.5 2.1h0m1.8-6.2h0m-2.7 0.7h0m7-2.4h0m-5.2-4.8h0m-1.9 6.1h0m4.4-6.7h0m-9.5 0.2h0m1.2-2.4h0m5.1-6h0m-1.3 0.6h0m6.4-2.9h0m-2.9 18.5h0m-6.2-5.7h0m2.8 11.9h0m4.9-7.9h0m-2.1 3.8h0m4.5 1.3h0m-2.5-17.8h0m-2 15.3h0m-0.1-1.2h0m-0.8-11.9h0m1 18.5h0m1.3-17.5h0m-4.2-1.2h0m-1.8-2.8h0m6.7 16.8h0m-4.5-7.6h0m0.9-10.1h0m1.3 16.5h0m1.2-3h0m-2.4 6.1h0m-1.8-7h0m-0.6 0.3h0m-0.6-4.8h0m2.5-11.2h0m-4.2 18.2h0m7.1-13.2h0m-4-0.3h0m-3.5 15h0m4.1 0.4h0m-2.4-17.2h0m-2.3 21.6h0m8.9-22.6h0m-6.5 12.3h0m5.9-13h0m-7.4 5.3h0m4.7 11.6h0m-1.4 7.4h0m3.2-11.8h0m-2.2 11.8h0m1.8-8.8h0m5-5.1h0m-7.6-9.7h0m-3.6 1.8h0m9.9 0.1h0m-6.3 17.4h0m2.3-18h0m-0.8 16.2h0m-4.1-6.6h0m1.1 6.6h0m1.3-14.3h0m4 1.7h0m-4.3 20.5h0m0.7-6.6h0m-2.4-9.5h0m3.7 8.8h0m5.4 6h0m-3.6-16.1h0m-3.2 0.7h0m4.6 5.8h0m-8.7-8.9h0m6.8 12.6h0m4.7-2.2h0m-8.6-9.4h0m-1.5 15.7h0m-1.6-4.3h0m2.1-19.5h0m3.9 19.8h0m1-14.5h0m-3.3-5.9h0m-2.4 2.1h0m1.7 7.6h0m6-3h0m-4.3 14.7h0m-5.8 14.1h0m-3.3-4.4h0m4.9 1.2h0m1.1 5.6h0m-13.4-6.9h0m0.3-0.4h0m14 1.1h0m-9.3-3.9h0m3.2 2.9h0m-3.4 2.5h0m-1.9-2.8h0m14.9 1.2h0m-2.4 2.1h0m-0.9-1.2h0m-10.8 4.1h0m11.8-6.9h0m-4.9 5.3h0m-0.1-3.9h0m-3.3-0.6h0m-1.5 1.6h0m-0.9 1.2h0m11.6 2.8h0m-4.6-3.5h0m3.2-1.7h0m1.9 1.8h0m-4.4 2.2h0m-1.2-0.1h0m-7.6-2.9h0m7.6 0.5h0m-8.3 2.2h0m0.1-3.3h0m13.3 1h0m-5.6 2.2h0m6 0h0m-8.7-3.9h0m7.2 2.8h0m-0.8-1.9h0m-8-2h0m2.4 1.8h0m-1.9 0.4h0m2.9 0.9h0m-2.8-0.4h0m8.7 0.3h0m-7.8 3.6h0m-2.3-8.6h0m-0.6 4h0m9.4 0.6h0m1.3 1.8h0m-10.3-0.4h0m-1.2-0.5h0m-1.6 0h0m11.4 2.5h0m-4.5-1.3h0m-6.4-3.4h0m4.3 5.8h0m10-6.9h0m-15.2 6.6h0m0.7-3.3h0m8.9 2.4h0m-5.1-2.4h0m10.6 3.2h0m-15.4-1.2h0m-1.4-4.6h0m12.9 2.5h0m1.8-3h0m0.7 5.6h0m-13.1-1.5h0m11.5-2.2h0m-15.1 1.6h0m12.3-2.3h0m5.1 4h0m-11.1-0.8h0m6.8 1.1h0m0.9-3.6h0m-11.1 2.6h0m0.1 3.1h0m-0.6-3.6h0m6-2.7h0m6.4 3.8h0m-6.3 0.3h0m4.9-4.1h0m-9.3 1.5h0m2.5 5.5h0m4.6-6.4h0m-2.9 3.2h0m-5.7-3.1h0m10.9 6.1h0m-11-6.3h0m2.3 1.2h0m11.2-0.2h0m-7-3.3h0m8.4 1.5h0m-1.9 2.3h0m-11.4-0.5h0m11.9 0.2h0m-3.3 4.4h0m-1.2-9h0m5.8 3.8h0m-2.7 1.6h0m2.9-5.3h0m-6.9 3.8h0m-1.2 3.1h0m0.3-1.6h0m-0.8 2.7h0m-6.8-8.9h0m4.5 7.3h0m-3.1-3.8h0m8.3 0.8h0m-0.3-3.5h0m-0.7 4.2h0m-5.9 2h0m-1-1.3h0m10.8-0.5h0m-2.1-3h0m-10.7-2.1h0m-2.3 8.8h0m11.4-3.3h0m5.6 1.7h0m-11.7-0.6h0m3 3.6h0m7.5-4.1h0m-12.9-1.8h0m15.3 7.1h0m-14.6-9h0m3.5 4.5h0m-4.4-1h0m1-3.9h0m7.2 2.4h0m-1.4 1.3h0m-3.6 4.1h0m2.8-6.3h0m6.6 5h0m2-4.3h0m-9.7 2h0m1.6-1.4h0m-5.7 0.5h0m13.1-0.8h0m-13 0.8h0m0-1h0m-0.9 0.1h0m8.2 1.6h0m-8.3 0.7h0m2.5-1.7h0m13.5 2.2h0m-5-1.9h0m-9.3-1.7h0m14.3 1.6h0m-14.5-0.4h0m12.7-0.8h0m-13.7-0.8h0m9.4 1.2h0m1.4 0.4h0m-6.9 3.2h0m5.7-4.1h0m-6.8 4.1h0m8.6-3.5h0m-11.4 3.8h0m10.1-1.7h0m-7.2 3.4h0m9.7-1.1h0m1.4-7.5h0m-7.4 3.3h0m-2.2-2.2h0m1.9 4.5h0m4.2-0.9h0m0.2 2.1h0m-8.7-0.8h0m2.8-1.9h0m1.3-1h0m-3.4 2.2h0m8.7-1h0m-2.1-4.4h0m-6.3 7.5h0m3.5-3.8h0m6.3 1.2h0m-2.2 1.4h0m-8-4.8h0m10.2-0.1h0m-9.4 4.3h0m11.4-0.9h0m-2 1.1h0m-7.2 2.5h0m0.5-6.8h0m-1.3 2.9h0m-0.8-0.7h0m-2-2.4h0m7.2 2.9h0m-8-4.4h0m2.6 5.5h0m3.4-3.5h0m-3.6 0.6h0m12 1.8h0m-13.8-1h0m10.5 2.5h0m-5.9-1.4h0m2.9-0.6h0m-1-2.5h0m1.3 4.3h0m-10.1-2.7h0m-0.5 1.7h0m8.8-3.2h0m-7.7 2h0m4.1 2h0m-1-3.3h0m0.6 6.5h0m5.3-4h0m-5.8-0.7h0m0.8 3.1h0m5-4.7h0m1.9 2.7h0m-6.6-0.8h0m5.5 4.5h0m-3.2-4.9h0m-4.5-2.7h0m7.3 3.7h0m-10 2h0m1.5-4.7h0m10.4 0.7h0m-6.3 2.6h0m1.8-3.7h0m3.2 5.9h0m5.2-3.3h0m-1.2 1.2h0m-1.3-1.4h0m-3-4.2h0m-5.2 8.7h0m-5.2-1.4h0m3.4-0.9h0m10.1 1h0m-9-2.3h0m7.3-0.4h0m-2.2-2.2h0m1.5-2.7h0m4.3 5.4h0m-1.1-1.6h0m-11.4 1.4h0m4.7-1.4h0m6.2-3.1h0m-10 2.7h0m-2 2.2h0m5.3-1.1h0m6.3-2.2h0m-3.6-0.6h0m-2.5 1.9h0m-5 1.5h0m-1.6-3h0m12.4 3h0m-2.3-3.2h0m-10.3 0.6h0m13.3 3h0m-12.3-3.1h0m3.7 2.3h0m-6.6 2.1h0m9.7-1.8h0m5-2h0m-3.6 4.5h0m-10.9-4.7h0m13.8 4.3h0m1.7-1.1h0m-14.8-0.7h0m4.4-2.8h0m-3.5-1.4h0m4.6 6.3h0m-2.1-9.9h0m2.7 8.7h0m9.2-1.4h0m-9.6-0.4h0m1-0.3h0m3.8-2.6h0m-1.4 1.8h0m-4.6 6.3h0m6.2-5.7h0m-8.6-0.6h0m7.8-1.3h0m-10.5 0.2h0m1.5 0.7h0m12.9 0.4h0m-0.5 0.4h0m-14.5 0.7h0m8.9 2h0m2.1-4.4h0m-6.2 3.9h0m6.4-0.6h0m-8.5-2.5h0m13.8 2h0m-14.3-2.2h0m14.6 2.1h0m-17.4-0.6h0m5.6-1.5h0m-3.2 4.7h0m-1.2-3.7h0m2.3 1.1h0m-0.5 1.4h0m5.3 1.7h0m7.9 0.9h0m-9-2h0m-4.2 0h0m2.3-4.2h0m4 1.1h0m3.9 2.8h0m-3.3-2.7h0m3.3 0.7h0m5.2 0.2h0m-0.9-3.7h0m-3.7 4.8h0m-2.1-4.1h0m-7 2.9h0m9.6 2.4h0m-11.7-5.7h0m2.1 2.5h0m4.2-1.9h0m-1.7-1h0m-3.5 9.3h0m5.4-13h0m3.6 6.5h0m-7.1-3.8h0m1.4 2.5h0m5.8-1.4h0m-1.3 4.1h0m2.3 1.1h0m-7.6-0.7h0m-5.8 1.5h0m0.1 0.5h0m4.3-2.9h0m-3.1-1.2h0m4.7 0.9h0m11.9 0.7h0m-4.5-2h0m-3.5 1.4h0m-2.1 0.5h0m-1.9-12.9h0m1.3-4.8h0m3.8-0.1h0m1.8 2.4h0m-1.7-2.3h0m-7.1 9.9h0m6.6-7.2h0m-11.4 7.9h0m14-8.1h0m-14.1 5.9h0m0 2.6h0m11.7-9.7h0m-2.8 0.2h0m-3 7.5h0m-7.4-4.4h0m2.3 9.6h0m4.7-4.4h0m1.2-5.2h0m-1.4 3.8h0m-0.7 0.5h0m-5.4 2.1h0m9.2-7.6h0m4.7 2.6h0m-1.5-7.3h0m-10.5 9.3h0m8.8 0.2h0m-1.3-12.3h0m-11.6 14.8h0m14.3-5.9h0m-4.7 0.1h0m-7.4 7.4h0m0.8 0.4h0m2-3.9h0m3.6-5h0m6.2-2.6h0m-6 9.5h0m-6.9-2.6h0m2.6 1.2h0m0.3 1h0m-2.9 1h0m2.3-1.2h0m8.5-8h0m1.1 1.6h0m-8.2 5.1h0m10.8-4.3h0m-4.1-4.7h0m2.5 3.1h0m-3.2-3.5h0m-6.7 10.2h0m-2-3.3h0m0.5 5.4h0m3.5-2.4h0m7.3-7.3h0m-6.3 11.9h0m-4.9-2.5h0m13.1-7.1h0m-13.7 7.8h0m7.6-12.1h0m-6.6 10h0m4 3.1h0m35-10.6h0m-7.3 7.3h0m5.7-4.6h0m-3.9-1.8h0m8.8 4.3h0m-6.1-20h0m-5.9 14.9h0m-5.5-14h0m5.2 19.1h0m-3.5-25.4h0m20.7 19.6h0m-12.8 2.7h0m-7.3-20.4h0m7.7 18.8h0m3.6 4.8h0m-2.7-1.5h0m-6.5-17.4h0m3 2.6h0m-0.7-2.7h0m2.1 5.4h0m-1.1-7.2h0m-4-2.8h0m-1.4 5.1h0m-2.3 4.6h0m-2.8-13.2h0m19.1 23.8h0m-11.8-26.2h0m2.3 15.3h0m3.3 3.4h0m-9.1-13.2h0m13.4 14h0m-6.7-9h0m7.4 18.2h0m-9.2-18.1h0m-0.1-12.8h0m3.2 10h0m-4.9 0.9h0m12.4 14.1h0m-10 11.5h0m-1.7-22.9h0m-3.4-5h0m2.4-7.5h0m0.4 15.9h0m8.7 2.7h0m-4 2.6h0m-3.6-15.1h0m-0.5-3.9h0m7.2 21.4h0m-11.5-18h0m12.6 22.2h0m-1.9-4.6h0m-6.1 11.2h0m-1-23.2h0m8 15.3h0m1.2 2.4h0m-13.3-23.3h0m10.9 10.8h0m-0.6 7.4h0m4.2-0.4h0m-4 5.3h0m9.9 15.8h0m-4.6-5.9h0m-1.7 0.8h0m9 4h0m-16-6.1h0m0.4 3.2h0m7.8 2.3h0m-3.5 1.9h0m-0.8-1.2h0m-2.6-6.8h0m-2.7 3.6h0m4-6.5h0m8.5 8.5h0m2.4-1.7h0m-9.6 0.4h0m5.5-1.9h0m-11.2-0.7h0m14.4 9.1h0m-3-4.3h0m-4.9-3h0m-4.1 4.7h0m1.1-6.4h0m-0.2 2.9h0m-0.2-6h0m-1.8 0.8h0m15.2 7.3h0m-15.3-7.8h0m7.8 4.9h0m6.9 1.3h0m-7.5 2.4h0m4.4-11.5h0m-7.2 7.3h0m-0.9 4.6h0m6.8-2.9h0m-6.3-3.7h0m8.8 4.1h0m-2.9 3.9h0m-9.5-8.3h0m8.5 3.4h0m1.7-2.3h0m-4.1 2.3h0m-2 1.2h0m2.3-6.1h0m-7.5 6.4h0m8.5-6.5h0m-7.8 1.1h0m5.3 0.6h0m6.6 8h0m-2.3-3.1h0m2.8 0.7h0m-56.4-31.4h0m19.2 3.2h0m-11.6-14.8h0m-6.9 30.8h0m0.2 0.7h0m11.9-3h0m4.5 4.1h0m-5.5-7.5h0m-0.5 2.9h0m-6.8 4.6h0m9.6-7.3h0m30.4-11.3h0m7.6-0.9h0m-2.9 25.4h0m-5.7-4.9h0m3.3 11.7h0m13.6-32.1h0m-7.6-11.2h0m-4.3 26.6h0m5-14.6h0m-13.3-11.3h0m11.6 2.4h0m-5.6 23.3h0m13.1-5.4h0m-14.2 3.7h0m0.5 10.2h0" stroke="#d42a26" stroke-width="0.62" stroke-linecap="square" fill="none" opacity="0.78"/>
<ellipse cx="98" cy="59.3" rx="6.6" ry="8.6" fill="#c8201a" opacity="1" transform="rotate(15 98 59.3)" filter="url(#bl)"/>
<ellipse cx="73" cy="104.2" rx="7.2" ry="5.3" fill="#c8201a" opacity="1" transform="rotate(-12 73 104.2)" filter="url(#bl)"/>
<ellipse cx="105" cy="102.6" rx="6.3" ry="4" fill="#c8201a" opacity="0.72" transform="rotate(0 105 102.6)" filter="url(#bl)"/>
<ellipse cx="97.5" cy="70" rx="4.4" ry="5" fill="#c8201a" opacity="0.5" transform="rotate(0 97.5 70)" filter="url(#bl)"/>
</g>
<path d="M58.5 89H129.3M87.5 49V116.3" stroke="#8a8a8a" stroke-width="0.9" fill="none"/>
<path d="M58.5 49V116.3H129.3" stroke="#777" stroke-width="0.8" fill="none"/>
<rect x="78.3" y="82" width="2.8" height="1.4" fill="#8a8a8a" opacity="0.85"/>
<rect x="93.9" y="82" width="2.8" height="1.4" fill="#8a8a8a" opacity="0.85"/>
<rect x="78.3" y="94.7" width="2.8" height="1.4" fill="#8a8a8a" opacity="0.85"/>
<rect x="93.9" y="94.7" width="2.8" height="1.4" fill="#8a8a8a" opacity="0.85"/>
<path d="M56.3 55.7h2.2M56.3 70.9h2.2M56.3 87.4h2.2M56.3 99.5h2.2M56.3 104.9h2.2M56.3 111.3h2.2M57.4 51h1.1M57.4 53.8h1.1M57.4 56.6h1.1M57.4 59.4h1.1M57.4 62.2h1.1M57.4 65h1.1M57.4 67.8h1.1M57.4 70.6h1.1M57.4 73.4h1.1M57.4 76.2h1.1M57.4 79h1.1M57.4 81.8h1.1M57.4 84.5h1.1M57.4 87.3h1.1M57.4 90.1h1.1M57.4 92.9h1.1M57.4 95.7h1.1M57.4 98.5h1.1M57.4 101.3h1.1M57.4 104.1h1.1M57.4 106.9h1.1M57.4 109.7h1.1M57.4 112.5h1.1M57.4 115.3h1.1M61.3 116.3v2.2M68.8 116.3v2.2M74.6 116.3v2.2M88.7 116.3v2.2M106.2 116.3v2.2M121.5 116.3v2.2M59.5 116.3v1.1M62.3 116.3v1.1M65 116.3v1.1M67.8 116.3v1.1M70.5 116.3v1.1M73.3 116.3v1.1M76 116.3v1.1M78.8 116.3v1.1M81.5 116.3v1.1M84.3 116.3v1.1M87 116.3v1.1M89.8 116.3v1.1M92.5 116.3v1.1M95.3 116.3v1.1M98 116.3v1.1M100.8 116.3v1.1M103.5 116.3v1.1M106.3 116.3v1.1M109 116.3v1.1M111.8 116.3v1.1M114.5 116.3v1.1M117.3 116.3v1.1M120 116.3v1.1M122.8 116.3v1.1M125.5 116.3v1.1M128.3 116.3v1.1" stroke="#555" stroke-width="0.6" fill="none"/>
<text x="52.3" y="58" font-size="6.3" text-anchor="end" fill="#2a2a2a" stroke="#2a2a2a" stroke-width="0.132">10<tspan dy="-3" font-size="4.8">5</tspan></text>
<text x="52.3" y="73.2" font-size="6.3" text-anchor="end" fill="#2a2a2a" stroke="#2a2a2a" stroke-width="0.132">10<tspan dy="-3" font-size="4.8">4</tspan></text>
<text x="52.3" y="89.7" font-size="6.3" text-anchor="end" fill="#2a2a2a" stroke="#2a2a2a" stroke-width="0.132">10<tspan dy="-3" font-size="4.8">3</tspan></text>
<text x="52.3" y="101.8" font-size="6.3" text-anchor="end" fill="#2a2a2a" stroke="#2a2a2a" stroke-width="0.132">10<tspan dy="-3" font-size="4.8">2</tspan></text>
<text x="50.8" y="107.2" font-size="6.3" text-anchor="end" font-weight="normal" fill="#333" stroke="#333" stroke-width="0.22" >0</text>
<text x="52.3" y="113.6" font-size="6.3" text-anchor="end" fill="#2a2a2a" stroke="#2a2a2a" stroke-width="0.132">-10<tspan dy="-3" font-size="4.8">2</tspan></text>
<text x="61.3" y="126.9" font-size="6.3" text-anchor="middle" fill="#2a2a2a" stroke="#2a2a2a" stroke-width="0.132">-10<tspan dy="-3" font-size="4.8">2</tspan></text>
<text x="68.8" y="126.9" font-size="6.3" text-anchor="middle" font-weight="normal" fill="#2a2a2a" stroke="#2a2a2a" stroke-width="0.22" >0</text>
<text x="75.2" y="126.9" font-size="6.3" text-anchor="middle" fill="#2a2a2a" stroke="#2a2a2a" stroke-width="0.132">10<tspan dy="-3" font-size="4.8">2</tspan></text>
<text x="89.5" y="126.9" font-size="6.3" text-anchor="middle" fill="#2a2a2a" stroke="#2a2a2a" stroke-width="0.132">10<tspan dy="-3" font-size="4.8">3</tspan></text>
<text x="106.7" y="126.9" font-size="6.3" text-anchor="middle" fill="#2a2a2a" stroke="#2a2a2a" stroke-width="0.132">10<tspan dy="-3" font-size="4.8">4</tspan></text>
<text x="122.3" y="126.9" font-size="6.3" text-anchor="middle" fill="#2a2a2a" stroke="#2a2a2a" stroke-width="0.132">10<tspan dy="-3" font-size="4.8">5</tspan></text>
<text x="126.4" y="59.1" font-size="10.4" text-anchor="end" font-weight="bold" fill="#111" >7.2</text>
<text x="186.8" y="44.6" font-size="9.8" text-anchor="middle" font-weight="normal" fill="#222" stroke="#222" stroke-width="0.22" >control+IL-19</text>
<rect x="152.6" y="49.3" width="69.8" height="67" fill="#fff" stroke="#c4c4c4" stroke-width="0.9"/>
<clipPath id="cf1"><rect x="153" y="49.7" width="69" height="66.2"/></clipPath><g clip-path="url(#cf1)">
<ellipse cx="195" cy="58.5" rx="10.5" ry="8.5" fill="#e04848" opacity="0.3" transform="rotate(0 195 58.5)" filter="url(#bl2)"/>
<ellipse cx="201" cy="102" rx="8" ry="7" fill="#e04848" opacity="0.22" transform="rotate(0 201 102)" filter="url(#bl2)"/>
<ellipse cx="186" cy="105" rx="10" ry="4" fill="#e04848" opacity="0.18" transform="rotate(0 186 105)" filter="url(#bl2)"/>
<ellipse cx="196" cy="78" rx="4" ry="9" fill="#e04848" opacity="0.15" transform="rotate(0 196 78)" filter="url(#bl2)"/>
<path d="M199 62.3h0m-18.5 2.9h0m17.7-3.4h0m1-0.4h0m-7.1 3h0m3-12.1h0m-7.2 8h0m-7.2 6.1h0m16.2 9.2h0m-13-17.3h0m7.3 4.1h0m15.5 4.8h0m-18.1-0.5h0m-2.1-5.4h0m10.4 0.9h0m-6.7 5h0m4.6-8.7h0m-2.1-6.1h0m8.1 7.7h0m-1 9.3h0m-11.1-11.9h0m7.2 6.2h0m-1.4 0.6h0m-1.6-8h0m6.9 2.9h0m-4.2 7h0m3.4-15.4h0m-8.6 10.3h0m17.4-4.9h0m-13.6 4.1h0m6.8-2.8h0m-3.8-1.6h0m-6.4-1.6h0m9 0.5h0m-0.2 5.8h0m-12.2-8.6h0m7.2 11.5h0m20.3 2.5h0m-9.3-6.1h0m-12.8 2.2h0m-13 3.7h0m15.9-3.5h0m-8.7-9.5h0m3.5 6h0m7.2-2.6h0m0.6 6.2h0m-11.6-3.5h0m-3.2-2.4h0m18.1-2.9h0m7.8 6.6h0m-7.5-1.6h0m0.4 5.9h0m-6.5-9.2h0m-3.4 15.3h0m1.3-14.6h0m-1.9 4.9h0m-0.5-6.5h0m7.3 6.7h0m-6.3-0.3h0m-3.7 3.7h0m-0.8-7.2h0m8.3-1.3h0m-8 16h0m7.3-21.1h0m1.4-0.4h0m3.1 10.9h0m8.7 3.2h0m-16.1 0h0m-0.7-6.3h0m2.1 3.6h0m-3 1.3h0m13.5 4.2h0m-22.2-4.7h0m10 0.8h0m-9.5-4.5h0m17.4-4.8h0m-8.1-1.2h0m-3.6 4.3h0m5.8 14.2h0m2.6-18.1h0m3 6.8h0m-2.5-2.2h0m0.7-6.8h0m-11.8 5.7h0m1.4 6.7h0m22.8 1h0m-11.6-4.3h0m-9.3-9h0m7.9 6.2h0m3.5 0.8h0m-5.2-3.3h0m-13.3 2.8h0m18.7 6.6h0m3.8-12.8h0m-16.1 11.9h0m4.7 10.9h0m-1.4-6h0m-10.2-7.5h0m4.1 8.3h0m5.4-16.5h0m-9.2 2.9h0m-6.1 2h0m35.4 0h0m-18.9-5.8h0m4.9 3.7h0m-7.6 12h0m8.1-14.6h0m8.2 4.3h0m-7.1 1.9h0m5.3 2.3h0m-11.2 1.8h0m-0.7-3.5h0m14.3-8.7h0m-19.4 6h0m5 9.8h0m-7.5 6.8h0m21.8-18.9h0m-10.2 1.6h0m4.2 5.8h0m0.6 0.5h0m8.2-6.5h0m-9.1 0.9h0m-4.7 2.9h0m-0.6 0.8h0m-6.2-2.4h0m1.2-6.3h0m-0.3 4.1h0m2.9-4.1h0m-3.3 8.3h0m14.3-0.8h0m-12.3-3.2h0m-0.8 3.1h0m4.1 9.4h0m4.2-10.9h0m3.5 0.2h0m-12.4 7.9h0m17.2-0.8h0m-19.4 5.8h0m4.9-7.5h0m12.9 8.5h0m-22.9-18.3h0m21.6 7h0m-5.8-3.5h0m-20.9 19.5h0m-1.2-19.6h0m19 2.9h0m5.3-3.6h0m-12.3 0.7h0m-9.3-3.7h0m30.4-0.4h0m-13.6 17.1h0m7.3-11.5h0m-2.6-2.2h0m-11.4 8.9h0m8.1 2.9h0m-4.2-11.7h0m4.6 0.7h0m-5.2-3.8h0m4.9 7h0m11.4-3.3h0m-26.2 5.6h0m29.4-8.5h0m-22.7 4h0m-15.4 0.5h0m25.1-5.8h0m-17.8 2.7h0m20 14.1h0m3.5-10.9h0m-13.3-1.4h0m10.8-2.6h0m-3.2 9.3h0m-10.8-8.4h0m10.4 2.6h0m-4.5-2.8h0m1.9 14.3h0m-0.3-10.7h0m-1-8.9h0m-0.3 9.4h0m-4 1.4h0m-14.1-9.7h0m20 9.6h0m-2.5-4.9h0m3.5 9h0m4.6-7.5h0m-9.4 7.9h0m7.4-1.9h0m-7.2-9.9h0m3.6 1.1h0m8.1 8.2h0m-24.9 1.3h0m26.3-0.3h0m-14.5-10.1h0m11.8 10.2h0m-8.1-12.4h0m-10.9 9.8h0m4.7-6.3h0m10.4 9.5h0m-19.6-8.5h0m25.3 1.3h0m-11.8 5.3h0m-7-10.6h0m10.3 15.9h0m6.4-10.2h0m-0.2-2.4h0m-4.7 8.4h0m0.1-5.7h0m-5 7.4h0m12.1-11.8h0m-6.9 4.6h0m5.1 1h0m1.2-0.3h0m-12.9-3.1h0m8-2.8h0m2.4 3.4h0m-14.1-2.5h0m7.4 15.4h0m5.7-11.3h0m-11.3 12.7h0m3.5-12h0m-0.2 8.2h0m3.3-11.3h0m-0.2-3.3h0m-8.7 6h0m-12.8 9.5h0m34.8-17.5h0m-12.7 9.4h0m-6.3-4.7h0m4.5 17.5h0m-1.1-14.1h0m-1.8 5.3h0m23-0.1h0m-9-12.7h0m-2.8 7h0m2 6.1h0m-9.2-8.6h0m2.6 3h0m-8.8 0.2h0m7.6-2.8h0m-2.3 3.1h0m7.9-1.9h0m-28-5.4h0m23.3 6h0m-3.4-3.5h0m-2.2 9.7h0m5.2-5.7h0m-6.1 2h0m12.3-2.6h0m-12.2-5.9h0m3.6 1.3h0m-10.4 11.9h0m6 5.4h0m2.6-19.6h0m-6.2 13.1h0m11-4.2h0m-4.4 2.1h0m13-1.3h0m-13.9-10.2h0m6.4 17.6h0m-0.2-17.3h0m-1.9 15.8h0m-6.6-4.2h0m14.4 5.5h0m-6.8-5h0m-5.8-3.9h0m0.3 7.5h0m-14-4.4h0m6.4-6.4h0m-2.1-1.2h0m11.8 4.6h0m13.4-2.9h0m-10.4 4.6h0m0 6.8h0m-1.7-7.9h0m-1.9-0.7h0m1 6h0m0-5.7h0m-0.1 4.2h0m-3 1.5h0m-0.9-1.5h0m18.2-4.6h0m-15.8-7.1h0m6.9 6.6h0m0.9-4.2h0m-1.4 15.3h0m-2.2-12.9h0m-12.5 3.2h0m15 2.2h0m-14.3-8.5h0m1.1-0.1h0m6 7.3h0m16.4-2h0m-2.5 3.9h0m-8.2 1h0m2 6.5h0m-17.9-0.1h0m12.3-3h0m-3.2-11.8h0m0.6 5.9h0m3.4-6.1h0m3.4 7.3h0m-11.9-9.5h0m-7.3 5.7h0m14.5-3.8h0m-4.3 3.8h0m5.2 3.9h0m5.9-1.5h0m1.3-8.7h0m-3 8.5h0m-13-5.1h0m11.6 3.4h0m-13.1-2.5h0m21.6 6.4h0m-10.5 4.2h0m-8.3-8.6h0m13.9-2.4h0m-15 7.2h0m8.4-12.1h0m-3.5-0.7h0m22.1 2.3h0m-19.1 1.8h0m-7.6 2.3h0m10.3 12.5h0m0.5-1.2h0m-11-8.1h0m9.3-6h0m-6.3-1.1h0m12.3 2.7h0m-8.4 4.4h0m-8 1.1h0m8 0.5h0m-1.9-2.3h0m7.4 5h0m-9.1 0.9h0m-2.9-6.8h0m8.6 1.2h0m-20.4-4.9h0m18.5 9.9h0m-3.5 3.9h0m-9.1-7.9h0m17.4-2.1h0m-1.5 5.8h0m-8.2-1.3h0m13.5-6.4h0m-25.8-3.3h0m11-0.3h0m9.7 0.6h0m16.2 6.8h0m-28.8-2.4h0m21.7 3.8h0m-18.8 4.1h0m4.8 6.8h0m-1.6-9.9h0m7.7-7.1h0m-4.3 10.3h0m4.1-7.9h0m0.7 11h0m2.9-8.1h0m-6.6-5.3h0m4.4-1.1h0m-2.4-2.5h0m3.5 1.6h0m-6.1 8.6h0m-2.5-3.2h0m11.4 9.7h0m-23-14.2h0m19.6 9.4h0m-9.1-4.3h0m3.5 13.1h0m-2.2-21.1h0m-10.2 0.5h0m21.9 3.3h0m5.5 5.7h0m-11.7 1.2h0m3.2 1.4h0m-14.1-7.7h0m3.6 3.7h0m1.4-8.3h0m-1.5 18.7h0m19.4-18.2h0m-12.5 6.3h0m-8.7 5.5h0m6.4 5.2h0m2.7-12.4h0m-23 3.6h0m25.7-6.4h0m1.1 8.5h0m-20.3-3.4h0m16.2 4.3h0m-1.8-4.6h0m-3.9-1.3h0m2.2-5h0m5.2 4h0m-1-1h0m-0.5 4h0m3.8 1.6h0m0-3.8h0m-7.5 0.1h0m-8.8 1.8h0m18 3.7h0m-14.8-1.4h0m9-0.8h0m3-0.7h0m8.8-4.9h0m-4.3 10.6h0m-10.3-13.7h0m10.2 5.7h0m-6 3.8h0m3.5 2.9h0m-19.2-12.9h0m12.6 7.4h0m4.6-1.3h0m-5.8 13.9h0m11.1-6.5h0m-3.7-11.6h0m-8 5.2h0m-8-4.1h0m9.2-3h0m3.8 10h0m-6.3-4.4h0m6.8 4.4h0m-2.8-10.2h0m-12.9 21.4h0m5.8-15.4h0m-9-1.8h0m9.1 8.9h0m-15.6-11.9h0m17.2 3.8h0m-2.7 0.6h0m-5.5 4.9h0m20.6-2.8h0m-12.2 8.1h0m6.2-14.7h0m-7.7 3.3h0m5.1 10.7h0m-5.8-7.8h0m5.5-6.9h0m-3.3 11.4h0m8.3-6.4h0m4.9 5.1h0m4.9-2.4h0m-18.4-5.1h0m-6.9 9.1h0m14.8 0.2h0m-7.6-5.8h0m4.9 5.7h0m9.1-3.8h0m-26.8-5.3h0m-0.4 1.6h0m7.6 5.3h0m7.8 4.6h0m8.8-10.5h0m-0.7 3h0m-2.9 8.4h0m-12.8-7.3h0m19.6-6.3h0m-9.3 6.4h0m-5.6-8.2h0m-1.8 2.2h0m13.9 6.1h0m-3.7-8.4h0m-0.7 8.2h0m3.6-5.6h0m-0.5 12.8h0m6-14.7h0m-22.2-1h0m16.9 10.9h0m-5.6-8.4h0m8.3 14.3h0m-10.6-9.5h0m9.5 2.9h0m0.6-5.7h0m-7.5 1.2h0m-6.7 0.9h0m2.6 4.7h0m-0.4-2.6h0m-4.6-7.5h0m16.9-0.2h0m4 11.3h0m-31.6-6.4h0m14.4 2.5h0m1.4-3.9h0m11 1.8h0m-2.5-3.2h0m-11.1 13.5h0m1.5-15h0m2.2 12.9h0m-1-10.7h0m7 9.7h0m-7.1-7.3h0m0.6 18.4h0m0.8-5.9h0m-0.6-8.1h0m-14.2 0h0m15.3-4.5h0m-4.1-6h0m-7.1 10h0m6.2-2.2h0m3.2-2.8h0m-2.7 14.7h0m-4.2-14h0m5.6-4.5h0m-3.7 12.6h0m13.6-5.8h0m17.7 2.5h0m-16-8.4h0m0.4 15.2h0m-10.8 1.8h0m-5-17.4h0m5.9 1.4h0m4.9-2.3h0m-3.7 13.5h0m-2.2-4.3h0m9.3-9.5h0m-16.9 8.8h0m11.3-3.2h0m-8.4 9.8h0m-2.3-8.7h0m8.9 5.1h0m-3.9-9h0m18.3-2h0m-8.6 5.1h0m-9.5 1.6h0m1.9 2h0m-17.3-0.4h0m19-7.6h0m-1.5 20.3h0m15.7-11.9h0m-12.6-4.5h0m8.5-1.7h0m-15.8 8.5h0m-2-8.8h0m7.3 4.8h0m-1.5-2.6h0m16.9 6.4h0m-20.1 1.2h0m9.9-7h0m-6.7-0.3h0m-10-1.1h0m19.8 10.6h0m5.7-11.7h0m-16.3-3.7h0m-5.7 1.5h0m11.9 10.6h0m-9.2 6.8h0m6.4-16.6h0m1.9 4.8h0m3.8 1.8h0m10.7 3.9h0m-21.4-0.2h0m9.4-11.8h0m-40.7 51.8h0m8.5 6.2h0m-5.1-3.4h0m9.6-1.3h0m-7.8-6.5h0m15.7 0.5h0m-2.6 6.2h0m-3.1-5h0m-4.5 4.4h0m-10.5 8.3h0m1.9-3.6h0m0.6 1.3h0m6.1-5.4h0m-8.3 1h0m4.7-3.3h0m-3.7-0.9h0m8-2.5h0m-6.7 8.9h0m-1.4-2.1h0m-0.4-4.2h0m1.8-0.7h0m-2.4 8.6h0m0.3-10.9h0m4 7h0m5-2.3h0m-0.3 1.5h0m-8-2.8h0m7.2-2.6h0m-0.4 6.6h0m6.7-1.3h0m-13.4-0.2h0m4-9h0m-4.4 15.1h0m-0.7-8.6h0m11.8 0.5h0m-1.7-3.9h0m-6.7 4.5h0m-1.4-9h0m2.1 14.7h0m-2.6-2.7h0m6.6-1.1h0m-7.9-4.4h0m17.6-9.5h0m-7.2-1.2h0m-4.6 12.3h0m16 2.2h0m-13.4-8.8h0m-9.2 7.8h0m4.4 3h0m-2.9-1h0m17.1-1.8h0m-10.5 6.4h0m1.9 2.3h0m2.5-4.5h0m-11.5-2.4h0m12.8-3.6h0m-18.3 7.5h0m13.8-4.1h0m-1.5 7.5h0m3.6-4.1h0m-2.4-6.4h0m-7.4-2.3h0m11.8 3.2h0m-2.7-4.8h0m-10.7 7.3h0m4.8-1.1h0m4.7-8.5h0m-3.7 12h0m11.8 0.8h0m-10.5-10.8h0m-8.4 6.1h0m8.9 0h0m-3.1-2.9h0m0.8 2.6h0m4.8-2.3h0m-11.2 0.2h0m15.6-4.3h0m-9 6.5h0m6.4-6h0m-5 3.9h0m0.1-4.7h0m3.5 9.6h0m4.3-5.3h0m-2.3 7.1h0m1.8-2.2h0m-17.3-2.8h0m13.2-4.2h0m-8.6 1.9h0m9.9-8.2h0m-8.2 4.4h0m8.5 15.6h0m6.8-20.8h0m-13.1 21.5h0m-8.5-14.2h0m8.5-1.8h0m-3.8 15.6h0m-2-11.4h0m7.3 0.1h0m6-2.5h0m5.4 2.4h0m1-0.8h0m-10.9 4.2h0m-6-8.2h0m-0.4 13.6h0m-2.7-2.8h0m2.2 0.3h0m2.6-6h0m-8.3-4.5h0m7.6 0.2h0m2.5 8h0m41.7-1.1h0m1.9-12.3h0m-3.6 17.3h0m-1.2-15.5h0m0 3.4h0m-4.6 9.2h0m2.1-12.7h0m-2.2 17.9h0m-0.8-7.5h0m4.6 2.9h0m-2.1-12.3h0m-1.6-0.5h0m14.3 7.1h0m-12.8 6.2h0m4.3-8.3h0m-0.2 2.6h0m2.2 8h0m-6.3-9.8h0m0.6 7.3h0m2.5-2.5h0m2.2-8.3h0m-3.4 11.8h0m3.5-3.4h0m-5.3-6.8h0m-2.5 0.5h0m3.5-6.7h0m5.4 3.9h0m-4 7.9h0m-3.6-14h0m6.7 12.9h0m-5.3 4.2h0m5-12.1h0m-4.3-4.7h0m-0.8 18.4h0m-2.5-3.4h0m-3-6.5h0m10.8 11.7h0m-2.1-5.6h0m5.5-18.5h0m-15 25.1h0m18.3-7.5h0m-10.5-2h0m-0.2-5h0m-0.2 2.8h0m3 4.7h0m1.4-0.6h0m-8.6 4.7h0m-7.5-7.4h0m13.2-3.8h0m6.8-3.2h0m-13.4 3.4h0m7 7.5h0m-1.3-0.7h0m-3.6-7.4h0m3.6-4.3h0m0.3 5.5h0m2.2-3.6h0m-5.3 2.6h0m0.7-2.5h0m0.4-2h0m3.5 11.7h0m-2.4-5h0m-3.8-4.5h0m2.9 0.4h0m-4.2 6.2h0m5.1-3.3h0m-3.5 2h0m0.5-2.2h0m3.9 6.7h0m2.5-7.7h0m2-3.2h0m-6.1 14.3h0m11.1-6.8h0m-11.9-2.9h0m-3.7 1.3h0m3.4-3.6h0m7.1-0.1h0m2.2 9.4h0m-4.6-8.3h0m-5-8.2h0m3.4 10.1h0m0.5-2.4h0m0.4-4.8h0m-11.7 11.5h0m14.3-21h0m0.9 16.2h0m-6.3-6.9h0m-3.7 13h0m1.2-4.3h0m2.5 11.7h0m4.6-19.1h0m-6 1h0m-4 2.7h0m10.9 4.2h0m-1.9-1.1h0m-4.8 1.3h0m1.5 10.7h0m8.2-9h0m-5.2-13.7h0m-3.2 25.4h0m-2.9-9.2h0m8.8-7h0m-6.3-0.3h0m4.4 2.7h0m3.1 6.8h0m-7.9-10.4h0m0.3-1.6h0m-0.8 4.7h0m5.7-8.8h0m-9.9 4.7h0m4.7 7.1h0m-2.1 6.2h0m1.2-10h0m2.5 8h0m1.1-6.6h0m-3.7 0.8h0m4.1-3h0m-1.8-8.7h0m-2.2 17.6h0m8.4-7.3h0m-15.5 11.1h0m7.6-4.9h0m-0.9 2.2h0m7.7-14.2h0m-6-0.8h0m2.2 4.7h0m-7.7-3.8h0m7.5-2.7h0m3.6 11.4h0m-5.4 5.6h0m-3.3-4.2h0m-1.8-5.9h0m8.6-1.2h0m-3.2 6.9h0m7.1 3.8h0m-4.7-9.1h0m-8.2 11.5h0m14.4-22.5h0m-4.4 12.3h0m-0.7 2h0m-3.9-1.8h0m0.7 6.8h0m-1-10h0m4 7h0m-1-2.1h0m4.5 4.8h0m-5.4-7.7h0m1.9-9.7h0m-5.1 6.8h0m3 1.9h0m9.9 6.5h0m-8.9 8.8h0m-1.8-15h0m5.4 6.7h0m-1.3 2.3h0m-5.6-10.9h0m-1.6 4.4h0m7.5-6.7h0m-6.7-1.7h0m11 12.5h0m-7.7-11.8h0m-5.4 3.3h0m4.6-3.6h0m-1.1 14.5h0m1-6.5h0m-9.1-2.2h0m8.4-2.4h0m-5.3 3.6h0m1.5-2.8h0m-2.5 2.7h0m10.9-4.4h0m-2.6-4h0m1.1 12.1h0m-4.1 2h0m-2.2-4.9h0m11.1-0.4h0m-12.1 6.8h0m7.2-8.3h0m-10.2-9.4h0m1.3 19.7h0m7.8-13.7h0m3.7 13.6h0m-8.6-5.8h0m-3.5-0.6h0m15-10.5h0m-7.6 4.6h0m-0.7 4.2h0m1.7 4.7h0m1 0.9h0m2.1 0.3h0m-7.3-4h0m1.3-7.3h0m10.1 6.6h0m-8.3-14h0m-1.2 16.8h0m0.2-7.7h0m7.2 1.4h0m-7.8 1.2h0m0.4 6.8h0m3.5-6.6h0m-4-0.9h0m8.8-0.5h0m-4.4-7.4h0m-1.5 13.2h0m4.1-2.1h0m-3 0h0m2.1 10.1h0m-3.7-16.8h0m1.7 4.2h0m0.2 5.1h0m-2.1-7.1h0m0.7-4.7h0m-0.2 2.1h0m0.8 5.9h0m-2.9-7.7h0m1.2 3h0m-0.9 8.1h0m4.7-11.6h0m0 15.5h0m0.8-6.4h0m-5.2 8.6h0m-1-19.1h0m1.7 10.6h0m-4.8-8.8h0m13 7.8h0m-5.2-4.1h0m-9.9 2.4h0m12.3-2.9h0m-13.5 2.9h0m6.5 1.1h0m-3.2-1.9h0m2.1 7h0m3-0.1h0m-0.9-17.6h0m-8.2 15.6h0m12.2 2h0m-4.1-15.6h0m-1.8 12.9h0m8.1-4.4h0m-8.4-2.5h0m6.8 9.6h0m-12.2 2h0m3.9-15.7h0m-2.9 4.3h0m1.5 0.4h0m6 6.3h0m-2.7-11.7h0m0.3 5.3h0m-6 4.8h0m1.4-11h0m12.9 15.7h0m-0.3-4.8h0m-8-1.2h0m-4.1 4.8h0m7-6.1h0m-9.2 1.2h0m15.1 9.1h0m-3.3-10.6h0m-3.2 5.4h0m0.3 2.8h0m-3.7-19.7h0m-7.6 8.3h0m4.5 9.2h0m10.6-3.9h0m-2.3 0.5h0m-1.6-3.3h0m-2.5 9.8h0m0.6-7.2h0m6.3 6h0m-6.8-4.3h0m-2.7-0.7h0m5.7-0.8h0m-0.6 2.1h0m-11.7-6.9h0m11.3 1.9h0m-4.5 1.5h0m11.1 0.1h0m-9.7-1.5h0m-2.4 5.6h0m0.9 2.5h0m8.2-1.9h0m0.5-3.9h0m-12 0.1h0m10.3-8.7h0m-8 15.5h0m7.1 1.5h0m1-7.5h0m-1 4.6h0m-2-6.2h0m1.5-0.6h0m9-2.7h0m-16.9-3.1h0m11.1 5.2h0m-3.9 1.1h0m0.6-7.2h0m-0.9 5.1h0m4.3 7.1h0m-10.1-9.4h0m7.9 12.7h0m0.9-7.9h0m1.5-12.9h0m-7.2 8.1h0m-2.1 9h0m5.7-1.6h0m-1.8 1.9h0m3.9-7h0m0.7-2h0m3.6-2.2h0m-8.9 1.2h0m1.4 14.1h0m-3.4 2.7h0m9.4-8.1h0m-8.7 3h0m-9.8-9.8h0m16.5 4.3h0m6.6-3.8h0m-16.5 2.7h0m8.3 11.3h0m-10.2-9.1h0m13.1-4.9h0m-7.4-3.1h0m5.3 12h0m-0.8-3.5h0m1.8-2.1h0m-1.2 5.5h0m2.5-1.8h0m-5.3 1.2h0m-7.1-14.6h0m13.8 11.2h0m-11.6-4.2h0m3.9 3.8h0m-2.7 5.5h0m-1.4 3.9h0m7.7-19.7h0m-8.3 10.3h0m6.5-2.9h0m-1.1 3.5h0m-5-0.6h0m14.9-4.2h0m-14.4 7.7h0m10.3 2.3h0m-8.6-6.6h0m3.6-0.8h0m0.9 7.6h0m0.7-6.5h0m-3.3 10.7h0m-4.5 1.2h0m8.6-11.3h0m-6.5 10.3h0m8.6-5.4h0m3.8-16h0m-8.7 8.8h0m-3.6 2.2h0m5.5 2.7h0m-3-10.9h0m3.1 11.4h0m6.9 1.9h0m-9.3-12.3h0m12 2.8h0m-11.2 8.4h0m1.4 3.5h0m-6.8-12h0m5.3-3.2h0m-3.4 15.5h0m4-8.8h0m-3.9 0.9h0m2.4-6.7h0m3.6-1.2h0m2.2 5.6h0m-15.7-7.2h0m11.3 4.1h0m6.8 13.3h0m1.3-2.9h0m-3.3-8.9h0m-0.3 1h0m-6-5.5h0m0.5 10.5h0m-0.5-9h0m4.3 12h0m-4.4-0.7h0m-3.3-3.3h0m-9.1-2.8h0m-8.9 7.3h0m1.4-0.2h0m11-7.7h0m-7.5 11.3h0m4.4-4.4h0m-6.4-5.5h0m-7.9 14.2h0m12.6-11.9h0m2.6-3.4h0m11.5 11.6h0m-19.2-4.4h0m-1.3 1.7h0m0.5-3.2h0m19.2 2.2h0m-14.6-6.5h0m-11.3 8.6h0m18.8-3.6h0m6.7 0.3h0m-17.8-0.8h0m5.6 0.3h0m23.3 1.8h0m-19.9-2.6h0m-8.6-2.4h0m-10.7 1.7h0m3.2-4.4h0m5.2-0.6h0m20.7 10.5h0m-21 2.5h0m14.6-14.6h0m-5.7 4.9h0m-15.8 2.4h0m26 2.2h0m-23.5-3.5h0m6.3 5.8h0m5.9-6.8h0m-7.3-3.2h0m0.6 9.2h0m-9.6-2.3h0m16.2 2h0m-9.3 0.3h0m24.3 4.4h0m-28.7-7.4h0m12.8 0.5h0m-7 2.3h0m30 2.1h0m-29.7-6.6h0m15.2 2.2h0m-13.5 3.6h0m11.6-0.7h0m-6.3 0.8h0m-2.6-7.7h0m4.1-0.9h0m11.4 6.8h0m-26.5-1.8h0m22.8-1.6h0m-3.9-0.8h0m-4.4 1.6h0m5-2.8h0m-14.5 4.2h0m5.6 0.6h0m0-5.9h0m11.2 5.1h0m0-2h0m-9.9 5.1h0m-12 1.6h0m19.9-5.8h0m-3.8 2.1h0m-7.8-1h0m-1.7-6.8h0m10.5 6.2h0m4 1.5h0m0.5 0.7h0m-15.9 1.4h0m33.8-5.7h0m-35.6 4h0m19.6 1h0m5.6-7.6h0m-10.4 5.9h0m7.9-4.4h0m-11.1 1.7h0m-1.7 0.7h0m0.1-5.2h0m1 5.9h0m-3.1-11.6h0m-2.8 9.3h0m-1.6 7.2h0m16.2-5.7h0m-17.1 2.1h0m3.3 3.3h0m15.5-5.2h0m-4.5-2.2h0m-19.9 5.3h0m29.1-3.7h0m-19.5-4.8h0m24.2 1.9h0m-28.2 3.3h0m19.7 0.8h0m-11.1-0.1h0m7.8-0.2h0m-6.2-0.1h0m-11.5 4.5h0m3.7-8.5h0m2.4 4.3h0m11.3-4.8h0m-18.9 5.3h0m15-4.1h0m-13.7 4.1h0m8.9-5.8h0m-6.6 10h0m-1.7-1.4h0m-4.2 1.4h0m28.3-6.8h0m-20.6 4h0m-5.1-0.2h0m22.2-1h0m-8-1.3h0m6.1-2.1h0m5.3 2.5h0m-17.3-5.1h0m-1.1 6h0m15.3-6h0m-12.4 3h0m-9.7 2.2h0m3.9 2.8h0m-17.5-0.4h0m7.2-8.7h0m21.9 5.2h0m-3.5-2h0m-10.7 0.7h0m9-0.3h0m-3.3-0.1h0m5.9-0.9h0m-20.9-4.7h0m18.6 8.7h0m8.9-2.7h0m-19-2.4h0m17.2 2.8h0m2 1.7h0m-11.4-5.7h0m-3.6 8.5h0m0.6-0.3h0m-9.4 1.1h0m40.1 0.3h0m-22.3-7.6h0m-7.7 1.9h0m6.5-4.4h0m-9.5 9h0m9.1-0.1h0m6.4-6.1h0m-19.9 5.2h0m12.5-1.2h0m-7.6 3h0m11.8 0.4h0m-7.7-1.5h0m2.7-5.2h0m-0.2-2.3h0m-0.9 5.9h0m7.9-4h0m-18.3 1.1h0m-6.7 0.2h0m42.3 2.6h0m-30.5-2.7h0m22.9-1.5h0m-17 3.4h0m-5.6-2h0m-8.6-0.4h0m26.9 7.2h0m-14.2-2.2h0m6.7-1.9h0m-5.4 3.5h0m6.3-4.6h0m-7.2 3.7h0m-3.3-5.3h0m2.9 0.7h0m13.9 2.7h0m-12.2-2.8h0m13.6 3.1h0m6 1.5h0m-20.7-4.7h0m-0.7 2.4h0m9.7 1h0m7.1-6.5h0m-13.9 0.3h0m-9.6 2.7h0m3.4-1.2h0m-7.8 6.8h0m10.8-0.6h0m-7.1-10.5h0m4.6 10.2h0m0.4-1.5h0m-4.7 3.2h0m13.6-1.1h0m-6.4 0.7h0m3.1-5.7h0m-6.4 1.8h0m-2.4-4h0m9.4 6.1h0m-3.8 0.4h0m16.9-6.8h0m-12 1h0m-8.1 3.7h0m-15.6 1.3h0m29-0.2h0m-1.8 4.1h0m-9.1-2.3h0m16.4-1.9h0m-29.2-2.1h0m13.4-4.7h0m2.2 7.6h0m-1.8-3h0m15.6-1.4h0m-21.8 2.1h0m18.6 1.8h0m-9.4-3.5h0m10.4 4.4h0m-26.8-1.7h0m-6 3.7h0m27.2-6.8h0m-17.2 1h0m-4.1 2.8h0m11.2-7.5h0m4.4 9.5h0m-11.3-4.9h0m27.9 1.7h0m-21.4 0h0m12-3.8h0m-7.9-2h0m-13.4 0.3h0m21.9 5.9h0m-1 2.9h0m-6.2-3.1h0m3.3 0.7h0m-13.3-2.4h0m8.2 1h0m-5.4-0.5h0m9.4 1h0m2.7 2h0m-0.3 0.5h0m2.6 1.4h0m-1.9-6.5h0m15.3 5.6h0m-9.7-1.3h0m-10.9-6h0m3.5 2.6h0m-7.5-5.8h0m17.6 3.2h0m-23.9 5.2h0m15-4h0m-5.2 3.3h0m1.5 0.9h0m5.6-2.9h0m-21.6 8.1h0m11.1-10.1h0m10.3 5.1h0m-12.4 5.6h0m-15.6-3.4h0m20.8-3.1h0m3.3-1.7h0m0-3.5h0m-6.5 10.1h0m-19.7-2h0m3.1-6.6h0m28.1 1.4h0m-13.1-3.5h0m4.1 4.2h0m-4.7-4.4h0m7.2 6.3h0m8.9 0.3h0m3.4 2.2h0m-39.2 1.5h0m24.5-8.7h0m4.9 6.5h0m-17.9-7.1h0m20.2 2.2h0m7 2.5h0m-18.2-5h0m10.4-1.2h0m-17.2 1.3h0m27.2 9.7h0m-17.4-6.7h0m8.3 5.2h0m-13.6 3.1h0m5.4-3.5h0m-19.4-3.8h0m15 6.6h0m4.4-10.5h0m19.5 1.9h0m-17.6-1.8h0m6.1 4.6h0m-8.7-1.9h0m-2.6-1h0m-7.5 6.2h0m20.8-8.4h0m-18.6 5.8h0m30.9-2h0m-23.2-0.1h0m5 0.2h0m7.6 3.8h0m-4.8 1.9h0m-7.1-6.9h0m29-4.4h0m-41-1.4h0m17.3 4.2h0m6.4-3.3h0m-10.9 5.4h0m-8.5 4.9h0m6.2-2.2h0m-1.2-0.9h0m0.7-0.3h0m3.2-2.4h0m4.8 1.6h0m-12.7-2.8h0m12.8 7.7h0m-15.9-5.6h0m16 4.6h0m2.3-7.1h0m-6.1 6.7h0m1.9-3.6h0m7.6-26.2h0m-2.9 12h0m-2.4-12h0m5-9.2h0m1.4 2.4h0m-2.7 23.5h0m-3.2-27.4h0m0.4-2.7h0m2.2 15.6h0m-3.8 5.8h0m8.3-17.9h0m-8.7 14.9h0m8.3 1.6h0m-4.3-1.8h0m1.6 2.8h0m3.1-6.9h0m-5.9-8.4h0m-7.6 3.3h0m2.8 20.7h0m2.1-12.8h0m3.7 10.5h0m-2.9-19.4h0m8.4 8.6h0m-7.1-15.6h0m-2.2 2.1h0m6.3 15.6h0m-6.3 12h0m1.8-22.9h0m-4.3 18.1h0m8.5-14.7h0m3.8 9.4h0m-7.9-22h0m4.7 26.1h0m-3.8-7.1h0m-5.9-9.6h0m1.6 3.6h0m6.1-3.2h0m-4.1 6.6h0m2.5 1.1h0m-0.4-12.2h0m-2.5 23.4h0m4.5-9.5h0m-4.5-18.2h0m5.1 11.5h0m-4.4 5.1h0m-3.1 12h0m4.7-26.8h0m1.4 3.5h0m-4.2 17.6h0m-0.6-16.4h0m0.9 6.7h0m9.2 12.4h0m-9.1 4.9h0m4.8-3.3h0m0.1-20.3h0m-4.2 13.3h0m1.6 9.8h0m-3-15.3h0m5.4 1.7h0m-4.1 10.5h0m4.7-27h0m-2.9 19.7h0m-1.8 1.7h0m4-5.3h0m3.2-6.1h0m5.4-1.9h0m-4.1 18.2h0m-10.7-18.7h0m9.5 19.9h0m-1.3-7.6h0m-7.3-1.3h0m6.4-11.3h0m-9.8 2h0m13.3 11.9h0m-3.3 6.1h0m-1.3-0.8h0m-2.5-13.1h0m-1.3 5.7h0m5.4 9.3h0m-4.4-14.5h0m-7.4-10.5h0m6.8 10.5h0m8 5.1h0m-9.7-16.3h0m-0.1-2.9h0m12.8 23.7h0m-4.9 1.1h0m-8.1-7.8h0m2-2.2h0m2.4-15.4h0m2.3 2.7h0m-4.8-3h0m7.9 19.6h0m-12.3 4.9h0m12-2.3h0m-0.7 7.7h0m-8.5-7.1h0m-3.6-17h0m7.9 1.4h0m6.1 14h0m-11.8-3.3h0m8 6.9h0m-2.9-9h0m4.8 3.6h0m-1.8 10.7h0m0.8-1.9h0m-2-24.6h0m-6.8 4.7h0m2 0.8h0m4.4 3.6h0m-10.1 14.7h0m7.1-14.1h0m-3.9 18.1h0m-0.7-28.4h0m3.8 7.9h0m2.6-7.6h0m4.7 22.5h0m-3.1-11.9h0m-0.6 2.6h0m1.8 9.3h0m-2.6-7.4h0m-3.3-7.7h0m8.3 5.5h0m-4.8 7.1h0m-8.6-6.7h0m5.4-3.2h0m-3.9 9.4h0m5.8-7.5h0m-3.9 15h0m5.3-12.6h0m0.9 6.8h0m-5.4 1.1h0m3.7-9.9h0m0.4-10.1h0m5.7 13.8h0m-2.1-0.4h0m-3.5 2.7h0m-7.8-3.7h0m5.3-12h0m-2 18.4h0m1 8.6h0m7-22.3h0m-5.9 5.1h0m1.8 4.1h0m1-10.8h0m-3 4h0m2.9-2.6h0m-4 15.1h0m0.1-18.5h0m5.6 3.8h0m-0.6 8.3h0m1.5 5.3h0m-4.3-10.2h0m3.8 3.5h0m-5.7-11.9h0m-4.4-0.1h0m6.6 12.9h0m3.8 7.7h0m-3.6-23.8h0m-7.3 24.9h0m4.9-13.9h0m1.3 3.3h0m1.2-8.6h0m7.1 4.7h0m-11.8-3.6h0m4.2-3h0m1.6 3.7h0m-3.7-0.8h0m-1.3-7.3h0m-0.7 16.5h0m4.3 1.9h0m7.2-3h0m-9-3.6h0m9.5 13.6h0m-11.7-16.1h0m5.4-4h0m-5.7-0.5h0m2 19.8h0m-1.2-24.9h0m10.6 27.3h0m-4.1-13.2h0m-8.3-7h0m2.1 0.3h0m1.4 13h0m2.4-19.6h0m-0.1-2.4h0m-1.3 26.9h0m-2.5-16.9h0m-0.2 20.4h0m5.6-0.3h0m1.8-1.2h0m-2.9-17.5h0m5.4 17.5h0m-7.9 0.5h0m5.8-4h0m-1.4 0.5h0m-7.3-17.6h0m-1.2 18.1h0m3.6-22.8h0m-2.6 8h0m3.7-0.1h0m2.2 6.2h0m1.8 2.4h0m9.2 3.9h0m-9.4-12.8h0m-2.7-4.2h0m2.1 23.5h0m-8.8-27.2h0m11.4 24.6h0m-2-9.7h0m-0.1 3.9h0m-6.9-10.3h0m3.4 5.7h0m-2.1-4.1h0m7.4 3.8h0m-0.5-1.2h0m-7.2-8.5h0m3.2 11.4h0m2.1-4.7h0m0.5-11.2h0m0.7 22.2h0m-6.8-20h0m4.8-4.6h0m7.5 29.7h0m-12.5-24.2h0m6.5-2.4h0m-1.1 15.1h0m-1.5 1.1h0m-2.4 5.8h0m0-2.6h0m3.8-12.2h0m0.4 6.8h0m-0.1-2h0m-0.8-0.3h0m0.3 1.5h0m-3.6-2.3h0m-1.5 4h0m5.5-10.9h0m3.8 13h0m-8.2-19.3h0m6.5 21.2h0m-7.4 2.4h0m3.2-17.5h0m-4.1 5.4h0m6.2 15.2h0m-4.1-12.2h0m2.7-0.4h0m5.3 5.8h0m-8.1-0.4h0m4-13.9h0m1.1 14.2h0m-0.5-0.2h0m-5.1 4.4h0m4-14.8h0m-3.8 20.9h0m10-19.3h0m-4.1-3.5h0m-5.6-1.6h0m1.5 24.9h0m5.9-18.8h0m-3.8-6.1h0m0.6-0.7h0m-1 22.2h0m-0.1-2.2h0m-3.2-7.4h0m7-5.9h0m-9.6-1.5h0m11 11.5h0m-5.9 3.3h0m2.7-2.2h0m-7.1-5.3h0m1-10.8h0m2.3 1.5h0m6.2 12.9h0m1.1-1.6h0m-5.5-12.5h0m2.5 21.3h0m-5.4-9h0m2.1-8.5h0m4 0h0m-1.7 27h0m-9.1-2h0m-0.5 4.6h0m0.8 2.9h0m-11.1-4.1h0m0.1 0.3h0m15.9-3.4h0m-15.8 2.9h0m-2.2-2h0m8.5 1.1h0m0.8-0.7h0m5.2 3.6h0m-13.5-4.9h0m6.4-1.2h0m-5.7 1.4h0m19.2 7.7h0m-5.5-6.8h0m-7.2-1.6h0m1.6 1.5h0m0.2 0.7h0m-2 3h0m7-1.8h0m-8-0.1h0m4.6-1.9h0m4.5-4.7h0m-11.5 4h0m-5.3 1.5h0m0.3-0.7h0m9.1 5.6h0m-2.1-0.5h0m-3.3-4h0m2.6 4.3h0m10.3 0.2h0m-10.2-7h0m-7.8-1.4h0m20.7 1.1h0m-13 3.2h0m4.1-1.1h0m3.5 1.3h0m-2 3.8h0m11.2-5.7h0m-4.8 3.6h0m-20.2-0.2h0m0.4-3.2h0m0.2 2h0m16 3.1h0m-8.8-4.8h0m16.3 1.7h0m-19.8-3.1h0m18.2-0.9h0m-8.3 0.5h0m-13.7 1.9h0m15.6 0h0m-4.7 1h0m12.4 1.9h0m0.8-1.1h0m-14.3-3.1h0m9.2 2.8h0m-1.7 0.9h0m2.5-1.1h0m-12.8 2h0m6.8-5.6h0m-13.3 1.5h0m22.9 0.8h0m-0.8-0.2h0m-20.2 3.5h0m18.5 2.4h0m-17.1-5.8h0m1.8 2h0m4.8 3.6h0m8.1-4.7h0m-14.5-2.3h0m-2.2 4.2h0m-3.3-2.8h0m6.1 4.4h0m4.6-4.2h0m-9 2.7h0m21.9-2.1h0m-18.6-5.4h0m9.7 3.1h0m4.5-1.9h0m2.7 7.3h0m0.4-3.5h0m-11 1.6h0m-8.5 2.2h0m-0.2-3h0m-2.3-0.7h0m17.5 2.7h0m-5.9-2.2h0m2.1 0h0m0 2.9h0m-10.7-5.8h0m0.6 6.1h0m-0.4-1.7h0m14.1-1.1h0m4.4-1.7h0m-2.5 3.3h0m-1.9 0h0m-15.7-7.9h0m17.8 3.7h0m5 2.2h0m-6.5 0.9h0m3-1.8h0m-7.9 0.5h0m3.7-0.6h0m2.7 2.4h0m-2.9 1.5h0m-16.4-4.6h0m10.7 2.9h0m-7.5-4.2h0m17.8 2.6h0m-9.4 2.2h0m-11.1-3.4h0m26.2 1.5h0m-4.2 4h0m-9.3-7.8h0m13.8 6.1h0m-4.6-4.2h0m-7.3 4.3h0m9.1-4.3h0m-1.2 5.2h0m-8.2-5.4h0m11.1 2.7h0m-3.1 2.1h0m-16.5-5.5h0m0.7 4.9h0m12.4-2.7h0m-18.2 3.5h0m22.9-2.9h0m-18.4-2.8h0m3.7 6.4h0m-8-2h0m5.4 0.7h0m9.9-6.1h0m4.9 6.6h0m-14.6-1.9h0m0.1-1.2h0m2.1-3.4h0m11.8 4.8h0m-19.6-2.1h0m2.7 3.5h0m1.3-2.9h0m-0.2 4.1h0m6.9-1.7h0m14.3-0.9h0m-1.9-2.4h0m-18.5 0.2h0m16.2 3.3h0m-17.8-1.9h0m1.5-4.5h0m2.9 2.9h0m2.6-0.6h0m6.2 2.1h0m3.7 1h0m-4.9-0.9h0m-12.4-1.6h0m-1.1-1.2h0m4.9 0.2h0m-3.2 1.4h0m0.7 1.7h0m15.2 2.6h0m1.9-2.7h0m-4-2.5h0m0.6 2.8h0m-13.4-3.5h0m1.6 3.2h0m14.9 1.6h0m-12.2-5.6h0m17.3 1.5h0m-11.6 3.1h0m8.3-1.8h0m-21 2.1h0m18.4-4.1h0m-11.2 8.1h0m12.9-3.7h0m-11.7 0.9h0m-2.4-3.4h0m-0.3 4.1h0m11.1-4h0m2.6 2.3h0m-5.5-1.2h0m-11.1-0.3h0m11.7 3.4h0m-14.6-1.6h0m22.4-3.2h0m-18.9 2.7h0m1.2 0.3h0m11.5 1.6h0m-5.1-5.8h0m-11.1 2.6h0m14.8-1.6h0m-4.1 6.5h0m-3.8-2.6h0m6-3.2h0m-7.4-3h0m-4.1 5.8h0m17.1-2.9h0m-3.1-1.4h0m5.6 1.5h0m0.3 1.3h0m-12-5.5h0m-8.1 6.9h0m6-3h0m-10.2 3.5h0m17 1.9h0m-16.6-4.9h0m9.1 2.6h0m-7-3h0m16.3 1.9h0m-8.4-1.9h0m1.6 3.4h0m-11.3-1.7h0m0.1 1h0m14.5-3.9h0m-4.9 3.6h0m-2.1-4.2h0m18.6 2.4h0m-22.5-1.4h0m1.2 1.9h0m5.5 2.3h0m-4.2-2.7h0m-3.8 0.9h0m-1.8-6.1h0m8.9 4.3h0m-8.7 2h0m0.8 0.9h0m10.6-2.8h0m-1-3h0m7 3h0m3.8 2h0m0.3-0.6h0m-6.4-1.8h0m-5.6 6.9h0m-5-7.1h0m18.4-2.8h0m1.5 4.3h0m-18.8 5.4h0m15.4-4.3h0m-12.2 0.1h0m13.3-1.8h0m0.5-2.9h0m-5.9 0.6h0m-5.5 5.4h0m4.2-3h0m-10.5-0.9h0m-6.2-1.9h0m15 4.4h0m0.8 0.7h0m-5.7-1.9h0m4.4 3.3h0m2.2 0.7h0m-14.2-1.7h0m16.1 1h0m-15.3-0.5h0m10.3-1h0m2-3.2h0m4.6 5.9h0m-18.3-5h0m3.1-2.6h0m13.6 1.2h0m-9.4-0.4h0m11.9-2.7h0m-3 4.7h0m-11 6.6h0m18.5-5.9h0m-25.2-0.8h0m5.2 2.7h0m4-4.2h0m1.8 8.5h0m0.3-7.2h0m-10.1 1h0m25.6-3.7h0m-6 5h0m-19.4-1.2h0m2.5-1h0m10 2.2h0m-4.8 1.5h0m15.7-1.9h0m-8.4 0.2h0m5.2-1.2h0m-5 1h0m-13.7 1.5h0m-2.8-3.6h0m23.9 3.9h0m-7.1 0.9h0m6.1-3.3h0m-20.1 0h0m5.3 0.8h0m16.7-4.7h0m-18.1 4.7h0m11-0.8h0m-13.4 2.5h0m11.1-5.9h0m-6.2 3.5h0m14.6-1h0m-21.1 6.2h0m8.9-5.8h0m0.2 2.5h0m-3.7-3.5h0m5.3-0.1h0m-11.4-12.5h0m2.8-1.1h0m0.5-1.8h0m-2.2 8.6h0m-2.9 2.2h0m1.6-0.5h0m6.3-13h0m-5.6 13.2h0m2.2-6.7h0m-5.2 4.4h0m12-6.7h0m-4.7 2.7h0m3.7-4.6h0m-8.4 12.5h0m8.6-12.2h0m-2.4 3.1h0m2.7 10.2h0m-3-5h0m-3.1-3.8h0m-5 8.8h0m3.4-5.7h0m6.1-0.9h0m-10.1 2.4h0m2.5-3h0m0 9.2h0m4.2-6.3h0m3.5-6.9h0m-12.1 3.3h0m14.4-4.1h0m-14.3 7.9h0m7.6-1.1h0m0.6-1.4h0m-6.7 0.6h0m4.8 0.9h0m-5.1-5.3h0m-0.5 8.5h0m-0.5-4.3h0m11.4 0.2h0m-5.7-3.4h0m5.6 2h0m24.9-21.8h0m6.7 19.7h0m0.8-4.9h0m-4.2-12.4h0m0.2 14.6h0m-11.7-18.8h0m12.4 15.6h0m2-1.6h0m0.9 6.2h0m0.4-3.8h0m-5.8-2.1h0m-10.9-4.5h0m2.3-1.8h0m0-9.1h0m7 5.7h0m3.2-3.8h0m-15 4.3h0m22.8 22.8h0m-15.6-34.7h0m2.8 29.7h0m-5.8-21.8h0m10 11.3h0m-1.4 6.7h0m-8.7-15.7h0m17.6 24.6h0m-10.7-8.1h0m2.7-24h0m8.1 24.4h0m-17.9-10.5h0m4 2h0m6.8-6.7h0m-7.2-4h0m17.5 19.5h0m-15.2-6.5h0m1.6 5.8h0m-40.2-14.4h0m2.9 8.7h0m-0.6 1.1h0m43 13.9h0m-7.1-3.5h0m7.2-9.1h0m-0.7 3.1h0m-2.7 22.2h0m10.3-22.3h0m-5.2 10.8h0m-8.5-5.5h0m7.6 3.7h0m0.6-10.4h0m0.7 15.8h0m-6.8-1.3h0m11.9 9.4h0m-5-10.7h0m2.1-1.9h0" stroke="#d42a26" stroke-width="0.62" stroke-linecap="square" fill="none" opacity="0.78"/>
<ellipse cx="195.2" cy="58.2" rx="7.7" ry="5.9" fill="#c8201a" opacity="1" transform="rotate(-8 195.2 58.2)" filter="url(#bl)"/>
<ellipse cx="166" cy="104.2" rx="7.9" ry="5.5" fill="#c8201a" opacity="1" transform="rotate(-38 166 104.2)" filter="url(#bl)"/>
<ellipse cx="202.8" cy="102" rx="3.9" ry="5.3" fill="#c8201a" opacity="0.55" transform="rotate(0 202.8 102)" filter="url(#bl)"/>
</g>
<path d="M152.6 89H222.4M181.4 49.3V116.3" stroke="#8a8a8a" stroke-width="0.9" fill="none"/>
<path d="M152.6 49.3V116.3H222.4" stroke="#777" stroke-width="0.8" fill="none"/>
<rect x="172.1" y="82.1" width="2.8" height="1.4" fill="#8a8a8a" opacity="0.85"/>
<rect x="187.5" y="82.1" width="2.8" height="1.4" fill="#8a8a8a" opacity="0.85"/>
<rect x="172.1" y="94.8" width="2.8" height="1.4" fill="#8a8a8a" opacity="0.85"/>
<rect x="187.5" y="94.8" width="2.8" height="1.4" fill="#8a8a8a" opacity="0.85"/>
<path d="M150.4 56h2.2M150.4 71.1h2.2M150.4 87.5h2.2M150.4 99.5h2.2M150.4 104.9h2.2M150.4 111.3h2.2M151.5 51.3h1.1M151.5 54.1h1.1M151.5 56.9h1.1M151.5 59.6h1.1M151.5 62.4h1.1M151.5 65.2h1.1M151.5 68h1.1M151.5 70.8h1.1M151.5 73.6h1.1M151.5 76.3h1.1M151.5 79.1h1.1M151.5 81.9h1.1M151.5 84.7h1.1M151.5 87.5h1.1M151.5 90.3h1.1M151.5 93h1.1M151.5 95.8h1.1M151.5 98.6h1.1M151.5 101.4h1.1M151.5 104.2h1.1M151.5 107h1.1M151.5 109.7h1.1M151.5 112.5h1.1M151.5 115.3h1.1M155.4 116.3v2.2M162.7 116.3v2.2M168.4 116.3v2.2M182.4 116.3v2.2M199.6 116.3v2.2M214.7 116.3v2.2M153.6 116.3v1.1M156.3 116.3v1.1M159 116.3v1.1M161.7 116.3v1.1M164.4 116.3v1.1M167.2 116.3v1.1M169.9 116.3v1.1M172.6 116.3v1.1M175.3 116.3v1.1M178 116.3v1.1M180.7 116.3v1.1M183.4 116.3v1.1M186.1 116.3v1.1M188.9 116.3v1.1M191.6 116.3v1.1M194.3 116.3v1.1M197 116.3v1.1M199.7 116.3v1.1M202.4 116.3v1.1M205.1 116.3v1.1M207.8 116.3v1.1M210.6 116.3v1.1M213.3 116.3v1.1M216 116.3v1.1M218.7 116.3v1.1M221.4 116.3v1.1" stroke="#555" stroke-width="0.6" fill="none"/>
<text x="146.4" y="58.3" font-size="6.3" text-anchor="end" fill="#2a2a2a" stroke="#2a2a2a" stroke-width="0.132">10<tspan dy="-3" font-size="4.8">5</tspan></text>
<text x="146.4" y="73.4" font-size="6.3" text-anchor="end" fill="#2a2a2a" stroke="#2a2a2a" stroke-width="0.132">10<tspan dy="-3" font-size="4.8">4</tspan></text>
<text x="146.4" y="89.8" font-size="6.3" text-anchor="end" fill="#2a2a2a" stroke="#2a2a2a" stroke-width="0.132">10<tspan dy="-3" font-size="4.8">3</tspan></text>
<text x="146.4" y="101.8" font-size="6.3" text-anchor="end" fill="#2a2a2a" stroke="#2a2a2a" stroke-width="0.132">10<tspan dy="-3" font-size="4.8">2</tspan></text>
<text x="144.9" y="107.2" font-size="6.3" text-anchor="end" font-weight="normal" fill="#333" stroke="#333" stroke-width="0.22" >0</text>
<text x="146.4" y="113.6" font-size="6.3" text-anchor="end" fill="#2a2a2a" stroke="#2a2a2a" stroke-width="0.132">-10<tspan dy="-3" font-size="4.8">2</tspan></text>
<text x="155.4" y="126.9" font-size="6.3" text-anchor="middle" fill="#2a2a2a" stroke="#2a2a2a" stroke-width="0.132">-10<tspan dy="-3" font-size="4.8">2</tspan></text>
<text x="162.7" y="126.9" font-size="6.3" text-anchor="middle" font-weight="normal" fill="#2a2a2a" stroke="#2a2a2a" stroke-width="0.22" >0</text>
<text x="169" y="126.9" font-size="6.3" text-anchor="middle" fill="#2a2a2a" stroke="#2a2a2a" stroke-width="0.132">10<tspan dy="-3" font-size="4.8">2</tspan></text>
<text x="183.2" y="126.9" font-size="6.3" text-anchor="middle" fill="#2a2a2a" stroke="#2a2a2a" stroke-width="0.132">10<tspan dy="-3" font-size="4.8">3</tspan></text>
<text x="200.1" y="126.9" font-size="6.3" text-anchor="middle" fill="#2a2a2a" stroke="#2a2a2a" stroke-width="0.132">10<tspan dy="-3" font-size="4.8">4</tspan></text>
<text x="215.5" y="126.9" font-size="6.3" text-anchor="middle" fill="#2a2a2a" stroke="#2a2a2a" stroke-width="0.132">10<tspan dy="-3" font-size="4.8">5</tspan></text>
<text x="221.8" y="59.1" font-size="10.4" text-anchor="end" font-weight="bold" fill="#111" >13.9</text>
<text x="279.7" y="44.6" font-size="9.8" text-anchor="middle" font-weight="normal" fill="#222" stroke="#222" stroke-width="0.22" >Dmp1-Rheb</text>
<rect x="246.4" y="50.2" width="69.2" height="66.1" fill="#fff" stroke="#c4c4c4" stroke-width="0.9"/>
<clipPath id="cf2"><rect x="246.8" y="50.6" width="68.4" height="65.3"/></clipPath><g clip-path="url(#cf2)">
<ellipse cx="284.3" cy="61" rx="7.5" ry="8.5" fill="#e04848" opacity="0.3" transform="rotate(0 284.3 61)" filter="url(#bl2)"/>
<ellipse cx="283" cy="79" rx="4.5" ry="10" fill="#e04848" opacity="0.16" transform="rotate(0 283 79)" filter="url(#bl2)"/>
<ellipse cx="283" cy="104" rx="12" ry="5" fill="#e04848" opacity="0.22" transform="rotate(0 283 104)" filter="url(#bl2)"/>
<path d="M280.9 58.6h0m0-7.7h0m1.6 2.4h0m-1 2.7h0m6.2 1.2h0m-7.1-2.6h0m5.7 4h0m4.3 5.4h0m-7.9-8.1h0m-2.5-1.6h0m-1.1 5h0m6.2-3.5h0m4.4-4.2h0m-12.8 3.3h0m2.3-1.3h0m11.2 16.1h0m1.9-15h0m-7.3 3.2h0m-6.5 5.1h0m5.1 4.9h0m3.2-6.5h0m0.3 6.8h0m-2.6-9.2h0m4.2 2.6h0m-1.8 10.1h0m7.4-10.8h0m-15.7 11.8h0m13.8-9.3h0m-9.9 2.1h0m-3.2 1h0m4.7-6.8h0m1-3.1h0m-2.5 6.9h0m-0.8 0.8h0m-0.5-0.8h0m-4.6 3.4h0m5.6-9.6h0m5 3.8h0m-0.4-2h0m1.5 2.1h0m-3.7-7.9h0m-0.8 12.2h0m6.5-1.8h0m1.1 3.5h0m1.7-6.9h0m-7 2.8h0m0.6 1.2h0m0.2 2.2h0m-2.6-13.9h0m4.8 10.7h0m-4.1 0.9h0m-3.9-2.3h0m6.1-1.8h0m-15.2-8.5h0m17.3 5.4h0m-3.9 1.4h0m3 2.5h0m4 5.4h0m-5.4-5.7h0m-4.6 7.8h0m0.7-10.3h0m-1.6 5.5h0m11.6-1.2h0m-9-0.3h0m-3.3 5.2h0m5.6 3h0m2.9-6.5h0m-8.6 0.8h0m8.2-3.7h0m-5.7-1.4h0m-0.9-1.8h0m3.4 9.4h0m2-10.3h0m5.9 12.6h0m-12.7-17.9h0m3.3 5.6h0m5.5-2.1h0m-3.1 15.5h0m-3.1-6.8h0m-2.6 0.3h0m3.6-4.8h0m-10.7 1.2h0m6 6.1h0m7-11.6h0m5.4 12.6h0m-11.3-5.9h0m-3.5-8.3h0m5.3 17.3h0m-5-4.6h0m13.8-9.8h0m-9 9.7h0m6.2-2.4h0m-7.9 10.9h0m-5-12.1h0m14.8-6.6h0m-6.1 8.3h0m1.4 7.4h0m-5.5-4.5h0m2.5-8.7h0m2.2-4.8h0m1.9 9.6h0m-2.6-3.5h0m-1.6 4.8h0m1.3-6.8h0m-6.2 4.2h0m11.9-4h0m-3.8 1.2h0m-0.1-2.5h0m-13.2-3h0m10.8 3.7h0m0.7 2.7h0m-7.6 4.6h0m10 3h0m1.8 5.6h0m-4.1-2h0m3.4-7.5h0m2.5-5.8h0m-17 4.1h0m9.4-2.9h0m-3.5 4.4h0m9.8-1.2h0m-4.6-4h0m-6.1 6.8h0m2.5-4.7h0m12.3 8.3h0m-4-8.1h0m-3.6 6h0m6.4 2.3h0m0.7 0.9h0m-0.2 0.1h0m-4.8-16.8h0m-4.9 11.3h0m-0.5 3.9h0m1.9-6h0m-3.9 7.6h0m4.6-13.3h0m-0.3 9.7h0m-5.5 6.3h0m4.9-12h0m-7.6 4.9h0m16.1-4.6h0m-10.3 2.1h0m3.1-0.2h0m7.2-0.3h0m0.1 1.5h0m-4.8-7.3h0m-1.8 3.1h0m-10.4-0.2h0m5.2-3.9h0m2.5-2.2h0m-1.1 13.6h0m9.6-1.7h0m-15.2-1.8h0m9.9-2.8h0m-9-4.7h0m9.1-0.2h0m-0.6-2.8h0m4.7 4h0m0.8 3.2h0m-6.8-6.7h0m-12.6 12h0m13.4-1.5h0m6.9-5.1h0m-0.9 1.8h0m-7.2-4.2h0m-2.5 3.7h0m10-1.7h0m-9.6 1.3h0m-0.6 12.4h0m5.1 1.8h0m-8.1-4.1h0m6.4-16h0m-3.5 12.7h0m1.8-3.9h0m7.9-11.2h0m-3.3 16.8h0m-7.1-1.6h0m6.2-0.7h0m1.5-1.2h0m-10-8.3h0m5.6 15.1h0m-3.4-13.4h0m4.3-0.3h0m-4.3-2.4h0m6.8 4.9h0m0.1-3.8h0m-6.8-5.5h0m7.5 6.3h0m-3.7 2.3h0m6.5-2.7h0m-12.3 2.9h0m1.2 1.1h0m-1.7-1.1h0m9.6-7.2h0m-10.9 17.7h0m4.6-6.5h0m-2.7-3.7h0m9.4 3.9h0m-5.9-11.3h0m2.5 10.7h0m-0.4 0.4h0m8.1-1.9h0m-10.9 7.6h0m14.3-2.4h0m-16.4-7.3h0m2.7 1.6h0m-6.6 12.1h0m12-14.5h0m2.8-5.5h0m-6.6 4.9h0m-0.5 6.4h0m-4 1h0m8.2-2.6h0m1.9-4.1h0m-13 3.2h0m10.6 6.8h0m-4.1-5.5h0m7.6-2.5h0m-4-2h0m-4.5 6.9h0m7.8-2.7h0m-5.7-2.9h0m-2.4 0.9h0m2.2 8.8h0m1.5-8.7h0m-1.4 0.1h0m2.1-5.3h0m0.3 8.4h0m5.6 3.4h0m-3.9-1.7h0m1.6-2.5h0m-3.4 1.6h0m-1.2-13.3h0m0.8 16.1h0m-2.1-1.1h0m5.8-9.3h0m-10.1-6.2h0m10.2 16.4h0m-8.2-7h0m0.1-6.8h0m7.4 5.2h0m-4 7.8h0m-1-4.5h0m1.3 11.1h0m-0.3-8.3h0m3.3 5.1h0m-6.2-14.5h0m0.8-0.8h0m-6.2 5.6h0m11.8-6.9h0m-1.2 13h0m-6.8-7.9h0m11.5 3.8h0m-6.4 5.6h0m-0.1-13.8h0m-3.2 1.9h0m1 5.7h0m7.9-7h0m-4.1 11.3h0m-5.3-6.5h0m1.2-1.8h0m1.5 3.4h0m3.2-3.5h0m-1.8 7.1h0m-2.9-5.7h0m3.9-6h0m-4.7 0.3h0m6.6 3.9h0m-3.7 4.5h0m7.5 2.6h0m-6.4-10.6h0m-6-2.8h0m6.5 2.2h0m0.3 13.1h0m-2.1 1.5h0m-1-12.4h0m5.6 11.8h0m-0.8-4.2h0m-6.7-5.7h0m-0.4-4.2h0m10.6-1h0m-7.3 12.2h0m2 7.6h0m-0.9-6.4h0m1.7-9.1h0m-1.4 12.6h0m6.1-5.8h0m-13.3-5.2h0m-3.5-0.3h0m7.6-5.1h0m-5.9 0.4h0m8.2 4.7h0m-3.6 3.5h0m9.4 2.4h0m-6.5-7.2h0m-5.5 6.6h0m6.2-6h0m5.5 7.6h0m-2.3-11.5h0m-10.8 17.7h0m6.1-8.1h0m6.8-8.1h0m-9.6 0.2h0m0.5 5.6h0m9.2 6.6h0m-10.7-15.7h0m-5.7 7.5h0m15.8 5.9h0m-12.7 1.8h0m6.8-4.9h0m9.2-7.9h0m-6.4-3h0m0.3 7.9h0m-7.3-2.9h0m1 10.6h0m4.6-1.3h0m-1 3.9h0m-11-8.8h0m13.8-3.8h0m0.4 10.9h0m2.8-2.4h0m-1.2-5.5h0m1.2 6.6h0m-2.6-4.9h0m-4.5-0.3h0m2.1 4.1h0m-7.5-4.8h0m16.1 4.2h0m-4.9-4.7h0m-11.6 1.6h0m6.6 4.8h0m10.1-0.8h0m-13.3 2.8h0m4.8-3.7h0m7 5.8h0m-12.9-8.7h0m-4.2 0.8h0m4.5-2.7h0m3.5-1.7h0m-5.4 12.2h0m6-18.9h0m2.8 2.1h0m-6.7 10.8h0m4-4.3h0m6.5 8.4h0m-10.1-7.9h0m-3.7 2h0m10.9-10.5h0m-6.9 0h0m6.9 6.1h0m-0.5 5.7h0m1.3-5.5h0m-5.8 2.7h0m1-1.3h0m-4.6 4.8h0m2.4 4.8h0m4.4-16.7h0m4.4 5.2h0m-10.4-2.6h0m-1.9 2.7h0m9.1-1.6h0m-8.6 7h0m6.5-5.2h0m0.4-3.5h0m-2 2.9h0m8.2 3.5h0m-16.3-1h0m12.2-1.3h0m-0.8 4.5h0m-2.9-2.6h0m-1.3 0.6h0m-5.4-1.5h0m7.2 2.8h0m-2.4-2.4h0m5.6 4.9h0m-15.6 4.3h0m6.9-5.6h0m0.2 0.4h0m5.9-1.7h0m0.5 1.7h0m1.2 1.4h0m-1.7-2.2h0m-2.5 6.6h0m2.4-10.9h0m-2 9.6h0m-5.5 3.5h0m14.6-18.5h0m-11.2 6.8h0m4.6-2.5h0m-8.7 2.4h0m8.9-4.4h0m-2.8-2.4h0m9.4 5h0m-8.9-1.2h0m-3.3-5.9h0m4.6 13.8h0m1-6.6h0m3.5-0.7h0m-5.2 1.8h0m-1.4 0.4h0m7.3 6.2h0m-5.5-2.3h0m-7.3-6.9h0m9 3.5h0m-12.2 4.3h0m13.5-13h0m-5.8 11.5h0m11.8-10.4h0m-15.6 15.4h0m4.2-10.6h0m-1.3 1.4h0m7.7 4.6h0m-10-6.3h0m4.9-2.8h0m13.9-1.9h0m-11.6 1.7h0m1.6 8.8h0m1.8-10.9h0m-1 10.6h0m-0.8-6.5h0m-32.2 49.9h0m3.6-9.4h0m6.5 7.4h0m-11.2-3.1h0m6.4 5.6h0m0.7-0.8h0m13-1.9h0m-9.3-6.6h0m-7.9 5.5h0m-0.7 2.1h0m5.7 0.8h0m-7.3-1h0m10.1-3.3h0m-3.9 2.2h0m3 2.6h0m4.3-3.7h0m-4.4 2.8h0m-5-3.7h0m5.5 6.1h0m-2.4-9.9h0m2.6 6h0m3.6 5.1h0m-13.1-6.4h0m7.8 4.2h0m10.3-7.7h0m-6.4 8.1h0m-5-2.4h0m4.4 4.4h0m5.2-8h0m-1.7 5.7h0m3.8-10.3h0m-13.1 9.7h0m-8.1-7.6h0m8.5 0h0m1.5 5h0m2.6 2.5h0m13.1-4.8h0m-17.3 5.7h0m6.2-17.2h0m-7.1 16.4h0m0.4 3.1h0m6.6-8.9h0m-16.8 4.1h0m-1.5-2.3h0m21-8.6h0m-18.4 9.6h0m18.8 5.1h0m-17.5-3.3h0m5.5 2.3h0m7.7-4.1h0m-6.2 0.4h0m-1 2.7h0m6.5-9.4h0m-6.5 11.3h0m2.2 4.3h0m5.7-17.5h0m-13.2 10.3h0m4.2-2.3h0m6.7-2.5h0m-0.4 10.1h0m-12.2 2.5h0m35.1-7.9h0m-25.8 7.4h0m-11-6.7h0m4.3-5.7h0m-1.5 2.9h0m15.1 2.8h0m-4.4-0.5h0m-7.8-1.4h0m-1.1 0.7h0m2.4 6.5h0m9.3-7.5h0m-1.4-5h0m-1 11.1h0m-9.7-8.7h0m9.6 1.1h0m-4.8 0.9h0m11.6 5.9h0m-12.1-0.9h0m19.5-5.1h0m-21.3 1.5h0m5.9 0.2h0m-5.4 3.9h0m-5-1.6h0m0.8-1.1h0m10-2.2h0m-3.5-6.8h0m0.9 11h0m5.9-6.6h0m-5.7 5.3h0m9.4-2.1h0m-5.1 1.5h0m11.8-1.9h0m-17.9-3.4h0m0 7.7h0m3.4-4.5h0m-1.4 4.5h0m-1.8-10h0m15.5 5.8h0m-11.1-3.9h0m-1.5 1.6h0m7.9 6h0m-9.9 1.2h0m3.6-1.8h0m-7.3 1.3h0m7-3.7h0m3.7-4h0m3.2 2.1h0m-10 7h0m11.7-1.2h0m-18.1 0.1h0m17.5 0.4h0m-5.2-3.8h0m8 0.1h0m-19.1-1.8h0m0.1-1.5h0m2.1 1.9h0m0.6-1h0m5.2 6.9h0m3.3-9.1h0m-2.4 6.9h0m-5-8.2h0m1.5 11h0m20.1-8.5h0m-4.1 9.5h0m-23.2-4.7h0m11.9-1.2h0m-2.3-1.9h0m-4-3.2h0m3.9 3.5h0m20.8-3.1h0m-20.6 0.7h0m32.7 1.1h0m-17.3 8.4h0m-18.1-7.4h0m36.8 2.5h0m-1-12.3h0m6.2 7.1h0m-45.1 4.9h0m12.8-7.7h0m26 7.7h0m-3.8 7.6h0m-18.3-8.3h0m22.4-7.2h0m-2.4 2.1h0m-11.5 6.2h0m-3-2.3h0m-7.9 4h0m13.6-11.4h0m-7.3 6.5h0m11.6 2.4h0m-16.4-2.6h0m-3.6 2.7h0m35.6-9.3h0m-36.1-1.5h0m11 10.5h0m8.6-8.4h0m-6.6 4.7h0m7 2.6h0m-4.8 1.1h0m-2-4h0m-7.9 1.9h0m20.7 0h0m3.3-1.2h0m0 0.5h0m-7-0.7h0m-11.7 5.3h0m3.9-4.7h0m18.2 3.9h0m-20.4-3.8h0m-3.2 4h0m8.2-3.2h0m0.5-6.2h0m-3.7 4.8h0m13.1-2.4h0m-4.7 5.4h0m6.2-2.5h0m-13 2.9h0m-3.1-5.4h0m6 1h0m-9.6-1.8h0m3.8 2h0m4.6 6.3h0m-1-8.6h0m17.3 2h0m0.1 0.2h0m-14-1.2h0m-5.7 7h0m30.9 0.6h0m-31.5-2.2h0m-9.1-3h0m17.9-1.7h0m-7.7 2.6h0m-9.8 1.2h0m29 3.4h0m-18.4-0.2h0m0.2 0.2h0m3.2-10.6h0m15.8-5h0m-20.4 13h0m11.4-0.8h0m-7.7-1.7h0m-2.7 1.1h0m12.4 2h0m-13.3 3.9h0m3.7-7.5h0m-5.3 8.5h0m-3.4-0.3h0m1.4-13.8h0m2.6 10.8h0m13.9-6.8h0m-2.8 1.7h0m-3.2 3.4h0m-18.6 2.4h0m15.7 0.2h0m1 0.2h0m19.3-7.7h0m-10.5 1.5h0m10 4.3h0m-20.1-2.5h0m15.2-7h0m-2 4.9h0m-9.2-0.8h0m-3.3 4.8h0m8.3-5.7h0m-12.4 4.9h0m13.4-6.8h0m-6.7 3.5h0m-8.3 2.7h0m4.9 0.3h0m-14.5 0.3h0m21.2-5.7h0m13.1-2.3h0m-12.2 6.9h0m-6.5-0.1h0m12-9.2h0m-7.1 11h0m-18.9 8.1h0m12.2-9.5h0m-2.4-3.3h0m5.9-2h0m-10.4 5.4h0m9.4-7.4h0m0.8 1.9h0m3.1-0.4h0m-17 3.2h0m1.5 5.3h0m26.4-1.3h0m-15.3-0.7h0m10.3-3.5h0m-14.9-4.2h0m1.9 4.9h0m-2.3 0.2h0m-4.1-1.2h0m10.7 5h0m-14.2-1.3h0m0.4 1.3h0m16.7-1.6h0m-4-1.7h0m-2.1-1h0m1.8 2.2h0m-30.7 2.8h0m30.7-0.8h0m-2.9-7.9h0m27.2 8.4h0m-30.6-7.4h0m-10.3 3.5h0m15.3-4.4h0m9.9 9.1h0m-12.7-8.1h0m7.2 2.9h0m-6.2 9.8h0m-11-8.6h0m12.5-1.4h0m4.7 2h0m-23.9-11h0m12.5 10.3h0m12.7-3.9h0m0.7 6.6h0m13.4-3.1h0m-28.1 0.5h0m15.5-5.5h0m0.8 6.7h0m-31.4 0.8h0m26-10.2h0m12.9 1.1h0m-12 8.9h0m-13.3-7.6h0m20.8-3.3h0m-34.5 7.2h0m46.3-7.2h0m-21.7 5.1h0m-11.1 4.6h0m6.4-2.1h0m13.9 2.2h0m-16.3-0.9h0m1.5-3.1h0m12.6 1.7h0m-19.9 5h0m-0.5-7.8h0m19.5-2.8h0m4.7 5.8h0m-6.7 1h0m1.5 2.3h0m-20.7-2.3h0m23.4 8.5h0m-24.8-6.8h0m27.3-6.4h0m8.9 11h0m-18.5 0.7h0m-10.8-9.3h0m5.6 3h0m25.1 1.2h0m-27.7-5.3h0m15.9 2.3h0m-4.7 2.4h0m-9.6-4.3h0m-3.8-5.7h0m10.8 8.4h0m-20 8h0m18.2-7.8h0m-2.1 1.1h0m15.5 2.5h0m-23.9-2.2h0m6.1-1.9h0m20.2 1.3h0m-24.1-5h0m2.2 3.9h0m-5.3-2.8h0m24.2 1.7h0m-23.1 0.7h0m1.3-2.1h0m7.2 0.3h0m8.2 5.7h0m-3.9-5.5h0m2.5-6.9h0m-7.7 11.3h0m-5.5-0.9h0m9.5 4.3h0m-13.7-6.2h0m-10.1-1.4h0m24.1 5.8h0m1.8-3.5h0m-9.2-1.8h0m5.5 2.8h0m10.3-7.2h0m-30.2 4.7h0m24.6 3.9h0m-3.9-2.4h0m-2.2 3.8h0m7.7-13h0m-2.2 7.2h0m-5.2 5.9h0m11.3 3h0m-13.7-6.7h0m10.7-4.6h0m-4.8 3.7h0m1.5 9.2h0m-2.2 3h0m-7.3-16.5h0m14 5.4h0m-5.4 3.3h0m-4.4-2.3h0m-11.2-1.1h0m21.9-3.2h0m-12.4-6.7h0m8.7-3h0m2.2 12h0m-14.2 6.2h0m-2.2-8.4h0m9.3 1.1h0m-7.4-0.9h0m6.5-7.2h0m11.5 5.4h0m-19.4-0.4h0m-2.8 1.8h0m4.7 4.2h0m17.3 6.5h0m-20.9-11.5h0m8.9 2.5h0m-2.1-6.4h0m1.8 9.3h0m-1.1-0.3h0m11.1-10.1h0m-25.8 10.4h0m18.6-9.4h0m-1.5 11.7h0m0.1-5.2h0m-11.3 1.8h0m12.9-0.3h0m-14.6-6.7h0m7.9 6.6h0m-6.2-6.7h0m25.5 13h0m-8.4-11.7h0m-4.7 5.1h0m19.9-1.3h0m-14.8 9.7h0m-0.6-7.7h0m-10 1.4h0m9 2.9h0m-4.3-1h0m-14.4-16h0m11.9 10.7h0m8.3 0.7h0m5-1.6h0m-11.8-9h0m0.2 15.5h0m-10.5-1.1h0m1-9.8h0m8.6 8.3h0m11.9-5.3h0m-12.3 0.9h0m0.2 1.4h0m-3.8-0.1h0m4.8-0.5h0m-2.2 2.3h0m-0.5 0.9h0m-5.9 2.4h0m5.1 0.2h0m13.5-3.6h0m6.3-3.7h0m-16.4 0.8h0m-4.7 2.4h0m7.6 0.4h0m2.8 2.2h0m1.6-7.9h0m-4.3-0.7h0m-8.5 2.5h0m-2.5 5.1h0m2.8-1.5h0m5.7 7.6h0m-12-14.4h0m20.5-2.3h0m-18.3 12.3h0m3.3-3.9h0m14.7 5.4h0m-12.6-5.2h0m4.5-6.7h0m12.7 0.6h0m-6.1 14.8h0m-21.7-8.6h0m2.4-2.6h0m32.6 5.5h0m-36.2 3.4h0m19.4-6.7h0m-9.5-1.3h0m14.1 2.2h0m-4.8 2.7h0m4.1 4.9h0m-7.2-10.6h0m2.4 3h0m4.5-5.5h0m-17.1-0.7h0m15.2-0.8h0m-14.1 6h0m-8.3 5h0m17.3 2.1h0m10.6-1.1h0m6.6-6.4h0m-13.9 0.5h0m-10.4-2.1h0m13.5-0.5h0m-16.2-0.4h0m-5.9 9.8h0m11.7-10.4h0m7.7-0.2h0m9.7-1.7h0m-18.9 9.2h0m-9.1 0.8h0m6.5-6.5h0m-11.9-5.1h0m20.1 7.5h0m4.1 3.8h0m-15.1 2.3h0m6.6-5.7h0m7.8 2.7h0m-9.1 0.1h0m14.3-3.8h0m-22.2 8.3h0m17.1-8.9h0m-12.4 6.1h0m2.3-4.2h0m1.1-2.7h0m19-0.2h0m-28.4 2.3h0m11.4 1.2h0m-0.1-0.6h0m10.3-2.1h0m-8.1-0.2h0m2.3 0.1h0m5.2 7.9h0m3.7-3.1h0m-10 0.6h0m-7.2 0.1h0m3.3-8.7h0m1.3-5.5h0m17.5 4.4h0m-6.3 2.3h0m-10.2 9.5h0m-17.4 0.3h0m19-5.7h0m-12.5-5.7h0m19.9 8.3h0m0.4 0h0m9.1-1.7h0m-27.4 0.2h0m-2.3-3h0m5.8 2.7h0m-7.8 2.5h0m13.5-9.5h0m9.6 5.7h0m6.7 1.9h0m-20.8-2h0m-3.2-0.1h0m16.6 1.7h0m-22.1-6h0m22.9 6h0m-15.4 2.3h0m-2.9-9h0m-5.5 6.7h0m24.6-1.3h0m-12-4h0m9.1-0.6h0m-4 5.9h0m-7.5-1.8h0m-3.6 4.8h0m12.9-0.8h0m2.3-1h0m1.4 7.1h0m15-8.2h0m-14-6.3h0m-18.6 10.8h0m22-6.9h0m-10.6-4.2h0m2.8 0.9h0m6.1 1.5h0m4.5 10.2h0m-23.4-3.1h0m11-8.2h0m-5.7 6.4h0m13.5-0.4h0m-7.7-14.6h0m12 4.4h0m0.6 5.4h0m-28.6 7.8h0m5.6-5.2h0m-4.2 2.8h0m-7.9 7.5h0m18.8-4h0m11.8-16.9h0m8.8-11.5h0m-6.3 4.3h0m-7.3-0.2h0m5.3-11.5h0m-1.6 7.5h0m-1.8-6.8h0m5.1 5.8h0m3 2.7h0m3.3 0.3h0m-14.5 7h0m2.5-2h0m1.5-22.9h0m-6.5 8.2h0m8.5 10.9h0m5.6-10.3h0m-2 10h0m-5.1-0.5h0m9.1-10.9h0m7.3 15.2h0m-13.6-10.2h0m-2.2 4.1h0m9.3 3h0m-0.6 0.8h0m3.8-7.8h0m-24.7 10.5h0m-1.1-6.6h0m-6.3 1.7h0m6.1-1.4h0m0.8 14.7h0m-10.3-17.4h0m10.3 6.5h0m-1-17.8h0m-0.2 3.6h0m-4.9 12h0m12.1-9.5h0m-3 20.7h0m-5.8-1.6h0m0.7-22.6h0m0.3 11.7h0m-3.7 5.1h0m-2.7-8.4h0m3.4 10.3h0m3.6-6.9h0m-0.6-14.2h0m1.5 29h0m1.9-5.2h0m-4.7-18.2h0m-3.4-7.8h0m13.7-1.1h0m-6.7 5.6h0m-0.7 21.8h0m0.1-2.9h0m-4-11.4h0m-0.3-3.3h0m1.6 1.1h0m-4.3-5.4h0m-2 13.8h0m11.2 1.8h0m-4-22.4h0m-3.5 29.5h0m0.4-28.4h0m5.5 8.8h0m2.5 17.9h0m-5.2-2.1h0m3.3-17h0m-5.7 11.6h0m-0.3 10.7h0m6.2-6.8h0m1.4-17.5h0m-4.4 0.4h0m1.7-0.4h0m-5.4 5h0m3.1-5h0m2.9-4.5h0m-0.9 0.5h0m-6.1-1.8h0m6.1 24.3h0m-0.1-24.4h0m-2.8 5.8h0m-0.2 8.2h0m0.3-7h0m6.6-5.8h0m-11.6 21.9h0m7.5-6.6h0m4.6 8.2h0m-3.7-18.8h0m-3.2-1.6h0m-2.6 22.3h0m11.4-14.3h0m-6.4 5.8h0m-0.3 3.3h0m-0.1-0.8h0m-5.6-9.1h0m8-11.7h0m-6.5 33.5h0m0.6-18.4h0m1.4 7.3h0m4.1-16.5h0m-4.1-4.6h0m-1.8-1h0m6.1 26.3h0m-5.7 3.4h0m3.1-28.9h0m3.8 17.4h0m-3.9-8.8h0m4.1-2.5h0m-4.8 10.2h0m3.7 10.7h0m-2.2-22h0m0.8-5.6h0m-6.6 28.4h0m4.6-8.9h0m-2.6 6.3h0m5.8-9.2h0m0.3-0.5h0m-2 2.2h0m-3.8 6.2h0m-3.8-6.6h0m2.1-0.4h0m-11.8 10.6h0m10.7-16.2h0m4.3 0.6h0m0-1.2h0m2.5 3.3h0m3.1-9.1h0m-4.4 5.2h0m1.7-10.4h0m3.7 5.2h0m-8 15.3h0m5.6 7.4h0m-5.3-17.5h0m1.2 16.5h0m10.2-17.4h0m-9.7 10.2h0m3.1 5.6h0m-3.3-0.8h0m2.6 4.8h0m-3.3-28.8h0m3.9 9.6h0m-5.4 17.9h0m2.9 2.3h0m3.8-15.2h0m-2.3 10.8h0m-2.8 2.9h0m3.3-18.4h0m-1.6-4.7h0m0.4 24.1h0m-1.2-22.4h0m-5.2 9.2h0m10.3 13.9h0m-4.4-19.7h0m3.8 4.2h0m5.5 3.5h0m-6.9 0.3h0m-3.4 13.1h0m2.5-16.5h0m-1.9 3.2h0m1.3-0.3h0m-2.3-19.3h0m1.2 24.8h0m-3.8-4.7h0m4 11.2h0m2.5-10.7h0m-0.8-12.9h0m-5.8 12.6h0m4.8-12.2h0m-1 10.1h0m6.4-10.8h0m-5.5-0.6h0m-4 16.7h0m7.8-12.3h0m-7.7 19.1h0m-5.2-5.4h0m8.8-15.5h0m7 6.1h0m-10.2-4h0m1.4 13.4h0m-3.6-1.1h0m1.8 3h0m3.3-0.8h0m-1.5-23.7h0m3.6 29.7h0m3.9 0.6h0m-7.7-20h0m2.4 11h0m-8.6 5.6h0m9.5-22.8h0m-5.4 2h0m5.2 4.1h0m-3.3-8.2h0m0.1 25.4h0m8.3-21.1h0m-10.8 22.5h0m4.1-28.9h0m-1.7 26.2h0m-1.7-11.3h0m7.7-17.1h0m-10.6 19.2h0m6.3-4.5h0m-1.5 8h0m-1.4-15.4h0m-0.9 22.3h0m5.7-26.5h0m-2.2 23h0m2.8-24.6h0m-4.7 6.7h0m3.8-6.9h0m-1.4 27.8h0m-5.4-19h0m2.4-1.2h0m3.1 4.7h0m-3.6 8.3h0m-0.1 7.1h0m6.7-7.3h0m-8.3-1.6h0m9.3 5.6h0m-7.3-23.5h0m7.4 9h0m-1.4 16.2h0m-2.5-25.8h0m4.9 27.2h0m-3.9-17.2h0m2 7.2h0m-6.2 1.9h0m-0.7-18.3h0m-4 28.5h0m8.8-18.8h0m-6.1-4.8h0m3.8 18.5h0m1.7-15.7h0m-2.6 12.3h0m2-14.7h0m1.3 11.8h0m-4 2.1h0m1.8 3.5h0m-2.3 4.5h0m3.3-8.2h0m6.2-19.7h0m-9.6 0.8h0m2.9 6.3h0m-2.5-7h0m1.7 25.1h0m3.5-7.7h0m-1.1-0.2h0m-6.9 8.7h0m4.8-13.9h0m-0.8-8.7h0m4.2 1.7h0m-8.4 14h0m8 5.4h0m-3.2-12h0m-3.3 12.9h0m-0.5-13.6h0m0.7-3.7h0m0-5.5h0m9.7 26.6h0m1.1-11.3h0m-1.8-6.3h0m-3.9 16.3h0m-0.5-18.7h0m3.2-2.6h0m-5.2-1.5h0m0.6-0.7h0m1 11h0m4.8-17.1h0m-14.6 28h0m11 4.8h0m-1.3-3.3h0m-4.3 2.5h0m3.7-21.8h0m-4.9 9h0m9-4.7h0m2.4 4.5h0m-5.2-13.5h0m7 16.3h0m-6.8 4.7h0m-0.6 5.2h0m-3.7-1.5h0m-0.9-8.9h0m-1.1 5.2h0m8 3.9h0m-7.2-7.9h0m1.3-21.6h0m-0.4 14.9h0m0.2-5.2h0m7-7.7h0m-3.1 3.7h0m-0.2 19.8h0m-4.5-7.8h0m6.4-17.9h0m-6.3 27.9h0m7.3-23.3h0m-0.7 4.2h0m-3.4 16.9h0m-7.4 5.9h0m11.6-12.1h0m-1.6-1.5h0m-8.3 6.9h0m5.8-18h0m-6.5 17.2h0m5.6-9.1h0m4.2-7.8h0m-5.9 6.8h0m-1-4.5h0m2.4-8.3h0m2.1 21h0m-4.4-7.3h0m-3.9-14.8h0m9.1 5.8h0m-0.1 5.1h0m2.7 21.6h0m-4.4-8.9h0m-3.5-22.1h0m6.5 15.9h0m-4.2 1.4h0m3.5-1.2h0m-1.5 10.7h0m2.6-5.8h0m-4.7-0.9h0m-1.9-14.1h0m9.4 4.6h0m-12-3.5h0m7.2 14.5h0m-2.6 7.1h0m-1.3-1.3h0m4 0.1h0m-3-29.3h0m3.7 14.1h0m3.4-3.8h0m-9.1-3h0m8.1 3h0m-5.5-7.5h0m-5 27.8h0m3.6-14.3h0m-2.1 2.6h0m6.5 9.9h0m4.8-13.3h0m-6.5-10.1h0m1.2 11.2h0m-2.3 2.8h0m-0.3-4.5h0m1.2 9.2h0m1.9 3.2h0m0-12.7h0m-4.1 0.2h0m4.7 14.8h0m-6.7-5.8h0m-0.3-0.3h0m-0.1-18.8h0m-0.4 1.8h0m8.1-0.1h0m-3 17h0m-1-7h0m2.9-17.2h0m-2.6 7.3h0m-0.2 21.4h0m8-0.3h0m-5-21.4h0m-4.6 14.8h0m1.7 6.4h0m0.9-10.4h0m5.8 0.9h0m-1.7-15h0m-9.3 0.1h0m8.3 26.7h0m0.4-29.3h0m-5.5 27.3h0m-0.4-20.7h0m-5.3 24.9h0m3.4-22.1h0m8.5 9.6h0m0.8-14.7h0m-7.1 10.3h0m3.8-2.4h0m0.5 3.9h0m4-16.7h0m-3.9 24h0m-4.2-22.3h0m-5.1 26.9h0m5-8.7h0m4.1-12h0m-1.2 1.3h0m-6 16h0m-3.2-5.7h0m-4.5 17.8h0m16.5 3h0m-15.9-0.3h0m19.3 4.4h0m-18.4-6h0m3.6 5h0m4.8-4.1h0m4.5 4h0m4.8-4h0m-6 6.3h0m-9.5-5.8h0m4.1 1.4h0m-2 1.4h0m-6.6-4.1h0m19-0.8h0m-11.9 3.4h0m-6.9 1h0m18.8-1.8h0m-8.3 3.5h0m-6.6-3.6h0m-4.4 1.6h0m5.9-7.7h0m5.7 1.1h0m-11.8 4.5h0m9.9-0.1h0m-3.7 2.1h0m8.7-0.3h0m6.6 2.4h0m-4.6-4.1h0m-0.2-0.2h0m0 0.9h0m-4.7-2.1h0m3.7 1.5h0m-7.2-2.4h0m6.9 1.3h0m-5.4-2.6h0m-1.7 7.1h0m-4.1-1.9h0m1.9-4.4h0m4.5 5.7h0m3.9-3.6h0m-2 0.2h0m-9-0.4h0m7.2 4.3h0m1.3-3.1h0m4.7-2.4h0m-16.6 5.6h0m9.2-2.7h0m2-1.7h0m-11.3 5.4h0m7.7-3.3h0m8.6-1.6h0m-15.2 3.7h0m2.5-7.3h0m2.6 2.3h0m14.2 2h0m-8.8-0.2h0m-10.9-0.5h0m8.7 0.1h0m-6.4 0.8h0m16.9-0.9h0m-16.7 2.7h0m2.5-5.5h0m12.7 3.3h0m0.1-5.8h0m0 2.5h0m-17.2 3h0m0.3-3.8h0m20.4 2.3h0m-19 5.4h0m15.5 1.2h0m-16.1-6.6h0m15.9 5.1h0m-9.7-0.4h0m10.2-3.7h0m-5.9 2.7h0m3.8-1h0m-11.9 1.8h0m11.6-3.2h0m-8.4 0.9h0m3 1.9h0m4-0.8h0m-11.6-0.5h0m0.5-1.1h0m16-3.4h0m-6.1 1.7h0m6.9-3.2h0m-5.9 9.6h0m-2.7-8.3h0m5.8 2.8h0m-4.9-2.4h0m4.3 1.7h0m0 1h0m-17 1.3h0m3.3-1.1h0m14.8 2.1h0m-0.8-3.8h0m-16.5 2.3h0m12.7-2.1h0m-6.7 3.4h0m-1.4-0.9h0m-2.6-2.3h0m-2.1 3.6h0m14.9-0.2h0m3.7 0.9h0m-17.1-3.1h0m13.5-1.6h0m-4.4 3.1h0m-7.6-3.2h0m14.1 5.5h0m-3.2 1.9h0m4.6-6.4h0m-1.2 0.3h0m-11.3-0.4h0m0.1 1.9h0m9.9-5.6h0m-8.4 9.1h0m-0.8-6h0m0.5-2.3h0m-8.9 6.9h0m20.9-4.9h0m-19.6 0.7h0m4.4 3.1h0m9.1-3.9h0m-8 3.1h0m-2 4.1h0m6.1-5h0m-6.3-1.7h0m6.5 3.2h0m-6.9-1h0m15-0.1h0m-12.4 0h0m-2.2-3.5h0m17.4 3.4h0m-8 4.8h0m1.9-8h0m4.1-1.2h0m-14.9 7h0m0-1.3h0m15.8 2.5h0m-3.3-4.8h0m-5.5 2.9h0m6.4-1.5h0m-7.6-2.2h0m-9.6 7.6h0m10.2-7.5h0m0.2-0.6h0m-5.9 3.9h0m3.7 1.2h0m-1.4-0.2h0m3.3-0.6h0m-5 1.3h0m5.4-0.5h0m-1.3-3.3h0m5.8-1.6h0m4.4 0.6h0m-3.6 0.9h0m-7.3-0.9h0m-6.2 1.8h0m10.4-0.2h0m7.9-2.8h0m-16.2 5.6h0m12.4-3.4h0m-11.2 5.4h0m12.2-4.3h0m-13.6 1.8h0m3.7-5.5h0m-3.2 2.3h0m10 2.8h0m1.5-1.2h0m-0.2 1h0m-2.9 0h0m-8.4-1.4h0m8.2-1.6h0m3.9-2.6h0m-10.9 4h0m-2.8 0.1h0m14.7 0.6h0m-2.2 0.8h0m-15.3 1.3h0m10.3 0.1h0m6.6-7.5h0m-16.1 2.6h0m-1.9 0.2h0m4.8 2.8h0m3.7-3.4h0m12 1.5h0m-0.8 1.2h0m-16.5 2.1h0m8.8-1.9h0m-10.2-3.6h0m15.6 1h0m-14.7 3.9h0m8.7-4.8h0m-6.3 8.3h0m15.4-4.5h0m-5.9-1.1h0m-1 0.6h0m6.1-3.3h0m-15.2 5.9h0m-2.6-1.6h0m17.7-1.3h0m-18.5 0h0m7.1 0.3h0m12.2 1.7h0m-15.8 1.2h0m11.6-4.2h0m-14.1 5.9h0m17.5-6.2h0m-4 1.7h0m-8.6 1.2h0m0.7-2.8h0m6.5 3.7h0m4.7-5.4h0m-1.3-1h0m-16.9 5.3h0m5.5 1.1h0m2.8 1.5h0m7.9 0.2h0m-0.4-5.2h0m-10 2.2h0m11.6-3.4h0m-16.6 2.3h0m7.4 0.8h0m5.3 0.1h0m-7-2.4h0m7.1 0.2h0m-11.3 3.9h0m3.5-2.5h0m-2.8-2.7h0m-3.3 2.5h0m9.2-2.5h0m12.3 0.7h0m-8.9 0h0m-6.8 0.3h0m-4.5 0.4h0m15.9-2.1h0m-0.1 4.4h0m4.1 2.4h0m-15.7-3h0m18.3-17.2h0m16.5-0.1h0m-7.2 4h0m-3.4-2.6h0m3.4-3h0m-4.4 9.6h0m13.7-7.5h0m-6.3-2.4h0m-4.8 10.6h0m-12.6-5.9h0m19.4-5.3h0m-5.6 6.9h0m-9.5-3.2h0m15.5-6.3h0m-15.7 9h0m7.5-9.1h0m-8.1 14.8h0m13.2-10h0m7-5.5h0m-5.2 4.4h0m-4.8 1.9h0m-2.2-3.3h0m1.8 4.2h0m-3.9 0h0m1.3 2h0m15.8-4h0m-19.8-2.1h0m3.3 7.4h0m-3.1 1.9h0m10.6-5.1h0m-6.6 4.5h0m-5.5-4.8h0m13.9-0.4h0m2.2-7.9h0m0.3 9.5h0m-36 4.6h0m6.7-3.2h0m0.8-0.9h0m-6.8 5.4h0m3-1.4h0m1.3-2.2h0m-3.5 3.4h0m0.6-1.3h0m-2.2 0.7h0m9.8-6.6h0m-8.5 4h0m6.9-3.2h0m2.3 0.2h0m-1.2 0h0m-0.1 1.7h0m-7.3 1.1h0m0.8 0.6h0m3.5-0.8h0m-5.2 5.9h0m3.4-4.2h0m-4.9-0.1h0m12.9 0.2h0m-15.1 0.3h0m11.1-2.2h0m-2.8-4.6h0m-8.4 7.6h0m6.5-2.6h0m-1 2.6h0m8.6-4.4h0m-2.7 4.6h0m-20.9-21.4h0m-2-1.1h0m-8-11.7h0m62.7 37.3h0m-9.9 15.1h0m-0.6-19.5h0m8.9 6.8h0m-3.5-2.2h0m-8.4-1.8h0m10.3 7.1h0m-1.7 4.2h0m-1.4-1.1h0m-6.1-11h0m3.9 14.5h0m-3.4-1.4h0m9.6-0.9h0m-11.5-13.4h0m11.2 2h0" stroke="#d42a26" stroke-width="0.62" stroke-linecap="square" fill="none" opacity="0.78"/>
<ellipse cx="284.3" cy="59.8" rx="5" ry="5" fill="#c8201a" opacity="1" transform="rotate(-20 284.3 59.8)" filter="url(#bl)"/>
<ellipse cx="261" cy="105" rx="7.7" ry="5.2" fill="#c8201a" opacity="1" transform="rotate(-8 261 105)" filter="url(#bl)"/>
<ellipse cx="285.5" cy="104" rx="8" ry="3.6" fill="#c8201a" opacity="0.45" transform="rotate(0 285.5 104)" filter="url(#bl)"/>
</g>
<path d="M246.4 89.6H315.6M275 50.2V116.3" stroke="#8a8a8a" stroke-width="0.9" fill="none"/>
<path d="M246.4 50.2V116.3H315.6" stroke="#777" stroke-width="0.8" fill="none"/>
<rect x="265.8" y="82.5" width="2.8" height="1.4" fill="#8a8a8a" opacity="0.85"/>
<rect x="281" y="82.5" width="2.8" height="1.4" fill="#8a8a8a" opacity="0.85"/>
<rect x="265.8" y="95.1" width="2.8" height="1.4" fill="#8a8a8a" opacity="0.85"/>
<rect x="281" y="95.1" width="2.8" height="1.4" fill="#8a8a8a" opacity="0.85"/>
<path d="M244.2 56.8h2.2M244.2 71.7h2.2M244.2 87.9h2.2M244.2 99.8h2.2M244.2 105.1h2.2M244.2 111.3h2.2M245.3 52.2h1.1M245.3 54.9h1.1M245.3 57.7h1.1M245.3 60.4h1.1M245.3 63.2h1.1M245.3 65.9h1.1M245.3 68.7h1.1M245.3 71.4h1.1M245.3 74.1h1.1M245.3 76.9h1.1M245.3 79.6h1.1M245.3 82.4h1.1M245.3 85.1h1.1M245.3 87.9h1.1M245.3 90.6h1.1M245.3 93.4h1.1M245.3 96.1h1.1M245.3 98.8h1.1M245.3 101.6h1.1M245.3 104.3h1.1M245.3 107.1h1.1M245.3 109.8h1.1M245.3 112.6h1.1M245.3 115.3h1.1M249.2 116.3v2.2M256.4 116.3v2.2M262.1 116.3v2.2M275.9 116.3v2.2M293 116.3v2.2M308 116.3v2.2M247.4 116.3v1.1M250.1 116.3v1.1M252.8 116.3v1.1M255.5 116.3v1.1M258.2 116.3v1.1M260.8 116.3v1.1M263.5 116.3v1.1M266.2 116.3v1.1M268.9 116.3v1.1M271.6 116.3v1.1M274.3 116.3v1.1M277 116.3v1.1M279.7 116.3v1.1M282.3 116.3v1.1M285 116.3v1.1M287.7 116.3v1.1M290.4 116.3v1.1M293.1 116.3v1.1M295.8 116.3v1.1M298.5 116.3v1.1M301.2 116.3v1.1M303.8 116.3v1.1M306.5 116.3v1.1M309.2 116.3v1.1M311.9 116.3v1.1M314.6 116.3v1.1" stroke="#555" stroke-width="0.6" fill="none"/>
<text x="240.2" y="59.1" font-size="6.3" text-anchor="end" fill="#2a2a2a" stroke="#2a2a2a" stroke-width="0.132">10<tspan dy="-3" font-size="4.8">5</tspan></text>
<text x="240.2" y="74" font-size="6.3" text-anchor="end" fill="#2a2a2a" stroke="#2a2a2a" stroke-width="0.132">10<tspan dy="-3" font-size="4.8">4</tspan></text>
<text x="240.2" y="90.2" font-size="6.3" text-anchor="end" fill="#2a2a2a" stroke="#2a2a2a" stroke-width="0.132">10<tspan dy="-3" font-size="4.8">3</tspan></text>
<text x="240.2" y="102.1" font-size="6.3" text-anchor="end" fill="#2a2a2a" stroke="#2a2a2a" stroke-width="0.132">10<tspan dy="-3" font-size="4.8">2</tspan></text>
<text x="238.7" y="107.4" font-size="6.3" text-anchor="end" font-weight="normal" fill="#333" stroke="#333" stroke-width="0.22" >0</text>
<text x="240.2" y="113.6" font-size="6.3" text-anchor="end" fill="#2a2a2a" stroke="#2a2a2a" stroke-width="0.132">-10<tspan dy="-3" font-size="4.8">2</tspan></text>
<text x="249.2" y="126.9" font-size="6.3" text-anchor="middle" fill="#2a2a2a" stroke="#2a2a2a" stroke-width="0.132">-10<tspan dy="-3" font-size="4.8">2</tspan></text>
<text x="256.4" y="126.9" font-size="6.3" text-anchor="middle" font-weight="normal" fill="#2a2a2a" stroke="#2a2a2a" stroke-width="0.22" >0</text>
<text x="262.7" y="126.9" font-size="6.3" text-anchor="middle" fill="#2a2a2a" stroke="#2a2a2a" stroke-width="0.132">10<tspan dy="-3" font-size="4.8">2</tspan></text>
<text x="276.7" y="126.9" font-size="6.3" text-anchor="middle" fill="#2a2a2a" stroke="#2a2a2a" stroke-width="0.132">10<tspan dy="-3" font-size="4.8">3</tspan></text>
<text x="293.5" y="126.9" font-size="6.3" text-anchor="middle" fill="#2a2a2a" stroke="#2a2a2a" stroke-width="0.132">10<tspan dy="-3" font-size="4.8">4</tspan></text>
<text x="308.8" y="126.9" font-size="6.3" text-anchor="middle" fill="#2a2a2a" stroke="#2a2a2a" stroke-width="0.132">10<tspan dy="-3" font-size="4.8">5</tspan></text>
<text x="313.9" y="59.2" font-size="10.4" text-anchor="end" font-weight="bold" fill="#111" >3.6</text>
<text x="372.2" y="33.5" font-size="9.9" text-anchor="middle" font-weight="normal" fill="#222" stroke="#222" stroke-width="0.22" >Dmp1-Rheb+</text>
<text x="372.2" y="44.7" font-size="9.9" text-anchor="middle" font-weight="normal" fill="#222" stroke="#222" stroke-width="0.22" >IL-19</text>
<rect x="338.8" y="51.5" width="68.7" height="65.7" fill="#fff" stroke="#c4c4c4" stroke-width="0.9"/>
<clipPath id="cf3"><rect x="339.2" y="51.9" width="67.9" height="64.9"/></clipPath><g clip-path="url(#cf3)">
<ellipse cx="380" cy="61" rx="11.5" ry="8.5" fill="#e04848" opacity="0.3" transform="rotate(0 380 61)" filter="url(#bl2)"/>
<ellipse cx="372" cy="105" rx="12" ry="4.5" fill="#e04848" opacity="0.2" transform="rotate(0 372 105)" filter="url(#bl2)"/>
<ellipse cx="379" cy="80" rx="4" ry="9" fill="#e04848" opacity="0.12" transform="rotate(0 379 80)" filter="url(#bl2)"/>
<path d="M391 61.6h0m-14.2-8.6h0m-8.9 19.5h0m11.2-4.7h0m9.5-2h0m-13.1-11.5h0m2.6 8.1h0m0-2.7h0m1.9-7.3h0m7.5 1.3h0m-7.5 2.3h0m10.1 1.5h0m-18.4 2.1h0m14.4-6.2h0m-17.5 5.3h0m19 16.9h0m-9.4-8h0m-2.1-2h0m-5.9-5.5h0m3.9 4.2h0m25.4-3.2h0m-30.2 11.6h0m7.5-13.7h0m6.8 7.2h0m-2.4-2.5h0m-0.8-9.9h0m5.6 13h0m-11.5-3.8h0m16.4-0.6h0m-38.3-3.5h0m27.3 4.2h0m-13-3.2h0m13.8 6h0m5.8 5.9h0m-12.9-12.7h0m2.3 5.8h0m19.8-3h0m-15.3-6.3h0m-10.9 17.8h0m9.6-2.7h0m6.8-12.7h0m-4.8-2.4h0m3.4 4.7h0m1.7 8.9h0m-11.4-2.3h0m8-8.9h0m-0.8 11.4h0m-1-1.7h0m1.6 1.8h0m-4.4-10h0m-2.5 12.1h0m-1.8 2.1h0m18.5-16h0m-19.1 6.7h0m14.1 8h0m4.3-16h0m-5.4 1.5h0m2.1 6.2h0m2.8-3.7h0m-5.4-7.4h0m-14.2 12.2h0m9 1.9h0m17.5-10.5h0m-28.7-1.4h0m5.3 14h0m7.8-9.8h0m2.4 0.8h0m-3.3 1.1h0m-13 6h0m13.1 8.5h0m-1.6-18.2h0m0.6-0.9h0m-1.6 2.4h0m2.8-3.7h0m-3.4 3.5h0m-7.1 2.5h0m14.1 4.5h0m-3.5-5.3h0m5.3-1.3h0m-17.9-2h0m19.4 2h0m-5.8-5.1h0m-15 25.9h0m25.7-8h0m-14.3-14.9h0m2.2 2.6h0m14.1-7.5h0m-19.3 11.7h0m0.6-0.9h0m10-6.2h0m-3.2 3.5h0m-15 3.4h0m2.2 4.8h0m8.7-6.1h0m7.9-6.9h0m-14.2 15.4h0m12.3-7.1h0m-22.6-1.5h0m8.4-4.5h0m4.6 6.1h0m-0.8-3.6h0m5.4 9.7h0m-5.9-7.7h0m27.8-2.4h0m-16.5-6.7h0m-15.5 5.6h0m34.5-2.9h0m-13.8 1.5h0m-10 10.6h0m-8.5-9h0m-2.7-2h0m17.9 0.3h0m-16.9 8.3h0m10.8-4.8h0m15.2 1.5h0m-8.1-9.6h0m-9.5 16.8h0m6.8-2.7h0m-19.2-6.8h0m27.2 10h0m-2.8-4.2h0m-10.8 0.6h0m9.1-12h0m-0.9 11.5h0m-13.1 5.8h0m15-5.2h0m-14.9-3.3h0m4.1 8.8h0m20.4-17.4h0m-3.4 8.6h0m-23.3-6.4h0m19.3 5.8h0m-19-2.4h0m2.4 0.3h0m18.6-4.5h0m-10.6 11.1h0m12.8-10.8h0m-20.1 2.4h0m-8.1 3h0m4-1.7h0m8.3 6h0m-0.2 10.7h0m1.7-12.3h0m1.4-4.1h0m4 1.5h0m-20.2-3.5h0m27 2.8h0m-12.6 8h0m-0.8-11.1h0m-20.9 0.1h0m9.1 8.1h0m10.5-11.2h0m10 11.4h0m8.9-4.5h0m-30.1 0.4h0m17.6 4.3h0m-18.2-1.8h0m17.3-1.4h0m-20.3-4.5h0m13.2 0.8h0m8.9-1.5h0m-3.9-2.5h0m-3.9 12.6h0m-4.6-7.2h0m-8.3-7.2h0m18.4 14.5h0m-11.3-8.2h0m8.5-2.1h0m-2.2 0.4h0m4.6-1h0m-9.7-5h0m3.7 15.1h0m-10.6-11.5h0m5 8.3h0m3.8-5.3h0m-5.7 0.6h0m5.1-3.7h0m15.8 7.6h0m-13.8-0.5h0m21.5 0.9h0m-24.9-2.9h0m14.8 2.4h0m-12.5-1.7h0m-7.4-2.4h0m6.2 0.2h0m15.5 1h0m-1.8-0.1h0m-22.8 9h0m8-9h0m14.8 9h0m-8.3-0.4h0m-5.9-3.7h0m-3.5 2.3h0m2.9-2.3h0m-5.3 5.4h0m24.1-12.2h0m-13.8-3.8h0m6 5.4h0m3.9 0.3h0m-12.4-4.7h0m7.7 4.1h0m2.8 0h0m-9.1-2.4h0m-3.8 3.6h0m5.9-7.8h0m20.6 12.4h0m-38.5-3.5h0m26.2-5.9h0m-21.3 8.7h0m6.3-3.8h0m19.8-0.9h0m-3-4.9h0m-27.4 3.9h0m12.8 6.2h0m-6.7-6.8h0m3.4-1.5h0m3.7 4.9h0m-10.6-6.4h0m5.8 13.3h0m12.1-2.3h0m-18.9-12.8h0m18.3 7.2h0m1.9 9.8h0m0.3-3.9h0m-9.9 3.1h0m-2.2-6.7h0m-11.7-4.2h0m24.3-4.4h0m-10-2.1h0m3.8 5.2h0m-6.5 1.2h0m2.5 2h0m1.7 7.2h0m13.5-9.3h0m-8.8-4h0m2.7 9.3h0m-10.7-10.3h0m9.8 9.5h0m-14.1 0.4h0m20.2-9.7h0m-16 0.1h0m8.1 1.4h0m12 8.2h0m-16.6-5.5h0m10.5-0.5h0m-12 3.8h0m12.9 7.8h0m-12.9-16.2h0m-4.6 6.9h0m13.7 3h0m-5-5.6h0m-8.7 7.5h0m18.8-3.6h0m-5.5 5.4h0m-5.1-8.7h0m12.5-1.9h0m-15.2 6.8h0m-1.4-8.1h0m13.4 5.3h0m-15.6-2.8h0m11.5 8.2h0m-3.2 2.3h0m-1.7 2.8h0m7-17.6h0m-8.1 9.7h0m0.2-8.3h0m4.5 5.6h0m-17.2-6.8h0m10.2 13.4h0m2.8-4.8h0m8.3-3h0m-8 1.4h0m7.5-4.1h0m-4.5-0.2h0m-2 11.6h0m-7.6-3.5h0m7.3-2h0m3.7-1.1h0m0.4 10.8h0m-11-17.6h0m12.6 8.6h0m10.3-6.8h0m-10.7 1h0m-10.3 0.2h0m-2.9-2h0m4.4 4.7h0m3.5 5.9h0m-8.3-5.2h0m0.5 5.7h0m-0.7-7.4h0m1.6 8.9h0m-4.3-13.7h0m7.1 4.6h0m-4 9.5h0m5.3-15.6h0m-3.5 5.3h0m-2.1 0.6h0m4.6 6.2h0m24-9.4h0m-24.4 12.7h0m18-3.1h0m-16 8h0m2.6-4.8h0m-6-14.8h0m15.8 1.3h0m-19.5 7.4h0m1.1 3.3h0m8.1-5.9h0m-4.8 10.7h0m16-2.9h0m-22.2 4.4h0m11.8-0.2h0m2.8-15.1h0m-18.2 0.9h0m23.9 0.2h0m3.4-5.4h0m-8 7.7h0m-16.8 4h0m8.1-4.6h0m-14.2-3.8h0m12.1 4.8h0m-0.8 13.7h0m3-11.6h0m1 6.6h0m7.4-2.1h0m-17.8-4.3h0m11.7 2.4h0m-4.5-2.9h0m-2.8-3h0m11.1-1.4h0m-9.9 2.7h0m9.9 3h0m-12.8-4.6h0m0-3.7h0m30.1 12.4h0m-14.4-8.6h0m1.8 11.4h0m2.9-5.3h0m-17.9 11.3h0m14-10.2h0m-3.6-2.9h0m12.6 13.2h0m-11.4-11.4h0m-4.1 0.7h0m-1.4-5.2h0m12.8-2.5h0m-6.8 6.5h0m9.1 6.3h0m-24.9-15.3h0m16.2 4.5h0m-11.4 6.6h0m-1.8-9.9h0m8.2 9.7h0m-2-7.5h0m3.3-0.3h0m-16.7 8.9h0m19.5 0.2h0m-3.2-3.8h0m-15.5-10.8h0m-1.4 16h0m10.3 0.5h0m8.9-11.6h0m-4.6-2h0m-2.6 7.3h0m9.1-5.7h0m-18.3 11.2h0m3.8-2.9h0m-3.9-10h0m-3.5 10h0m21 14.3h0m11.1-19.2h0m-32.9-0.6h0m19.4 2.8h0m-1.3-8.6h0m-3 18.3h0m-2.6-14.1h0m-5.6-1.2h0m20.4 5.2h0m-14.6-3.9h0m11-1.8h0m-13.4 2.3h0m-14.2 9.8h0m14.4-3.1h0m6.8 1.2h0m-3.9 9.3h0m8.2-17.2h0m-6.2 15.3h0m-11.2-10.7h0m18-4.6h0m7.1 2.5h0m4.9 3.5h0m-10.6 0.1h0m6.1-1.4h0m-9.2-1.3h0m-1.6 1.7h0m-6.7-1.5h0m6.5 0.3h0m4.6 0.1h0m-9.1-3h0m-6.3-1.7h0m8.4 4.7h0m-12.3 5.2h0m11.8-3.9h0m1.8-6.3h0m-8 4.4h0m8.8 0h0m-4.3 6h0m-12.4-7.1h0m17 4.5h0m-4.1-2.3h0m1.1 4.4h0m-3.6-3.7h0m14.4-7.7h0m-19.4 0.5h0m16.8 0.7h0m-0.8-3.3h0m-8.3 14.4h0m-2.3-6.9h0m-10.3 9.8h0m12.9-8.2h0m-1.8-9.2h0m0.5 4.4h0m-5.7 1.3h0m0.4-2.1h0m-15.6-2.2h0m26.6 6.1h0m-4.6 1.5h0m16.3-1.2h0m-13.5-2.1h0m2.1 4.4h0m-20.9 10.2h0m26-11.5h0m-13.2-2.9h0m-0.9 9h0m3.8-13.8h0m3.8 6h0m-4.9-8.7h0m1.6 9.1h0m-1.7 0h0m0.4 9.1h0m-12.2-16.3h0m24-2h0m-3.9 6.4h0m-5.5-7.1h0m-3.1 7.9h0m-14.2 1.8h0m18.9-3.3h0m-13.4 10h0m10.7-14.7h0m-5.9 9.1h0m3 2.4h0m-6-2.4h0m14.2 0.9h0m-10.9-8.6h0m-2.4 6.6h0m-6.9 17h0m14.4-10.6h0m-0.4 0.8h0m0.4-1.9h0m10.2-5h0m-18.6 1.7h0m11.4-5h0m-2.9 6.3h0m-15.2-0.1h0m29.9-9h0m-3.1 1.4h0m-12.5 1.3h0m2.2-2.6h0m-4.6 3.5h0m-2.6 1.1h0m15.7-5.5h0m-6.8 0.8h0m-10.8 5.1h0m7.4 5.8h0m7.8-5.9h0m-10.7 8.3h0m-6-12.7h0m17 6.3h0m-1-3.8h0m1.2 8.4h0m-42.1 42.6h0m12.5-10.6h0m-7.9 8.5h0m7.3-3.9h0m-10.9 4.3h0m6.9-4.6h0m3.5-8.7h0m-2.7 7.5h0m2.7 0.3h0m6.3 0.3h0m-13.5-3.7h0m3.3 5.8h0m9.6-1.2h0m-8.4-2.9h0m0-0.2h0m-6.3 8h0m2.6-8.5h0m11 7.6h0m-6.9-10.2h0m-5.5 4.6h0m9.7 0.7h0m-10.3-2.3h0m2.5 6h0m2.8 0.5h0m1.8-7.6h0m3 4.1h0m3.6-1.8h0m-9.7 3h0m8.6 0.1h0m0.4 2.1h0m-2.6 6.4h0m-5.2-9.4h0m4.9-5.5h0m-1.4 9.7h0m-9.5-9.5h0m1.1 12.7h0m16.9-14h0m-19.3 4.4h0m16.8 3.5h0m-6.3-4.4h0m0-0.1h0m-0.5 0.1h0m-8.8 4h0m9.3 0.5h0m-4 3.8h0m-8.8-9.7h0m13.2 3.7h0m-3.6-0.2h0m3.7 1.8h0m2.8-5.9h0m-12.1 7.2h0m4.8-2.2h0m-8.7 5.5h0m19.1-5.9h0m-1.9 1.6h0m-5.1 0.7h0m4.2-1h0m-2.8-1.4h0m-6.4 3.8h0m2 0.4h0m-7.7 7.4h0m17.4-6.4h0m-7.7-8.7h0m-4.1 0.8h0m5.5 3.4h0m-3.5-7h0m-8.7 1.2h0m17.8 6.1h0m-7.8-1.2h0m-9.3 2.7h0m6.3-3.9h0m5.7-6.9h0m-0.7 12.5h0m0.4-10.1h0m-14.6 16.9h0m19.3-12.6h0m-7.9 4.6h0m6.5-3h0m-7 2.6h0m5.9 6.1h0m31.3-13.6h0m6.7 11.4h0m-1.6-11.5h0m-7.2-2h0m1.6 12.7h0m3.8-6h0m-2.5 2h0m-1.3-7.2h0m-2 12.7h0m-0.8-13.1h0m5.3 3.7h0m-3.2 2.4h0m0.7-8.6h0m3.8 8.9h0m2.8 2.9h0m-8.1-6h0m-0.5-8.4h0m5.1 7.2h0m0.9 4.1h0m-3.9 6.8h0m-2.9 0.6h0m2 1.9h0m5.5-12.6h0m2.1 4.5h0m-5-3.9h0m-1.4-0.1h0m-1 5.7h0m4.1 2.1h0m1.3-6.2h0m-1.6-0.8h0m-0.6 4.1h0m-0.7-6.7h0m-5.5 11.8h0m1.4-10.9h0m4.2 1.1h0m0.1 8.2h0m-7-6h0m7.6-7h0m0.5 13.6h0m-2.5-4.8h0m-1.1 2.4h0m-0.8-4.6h0m-0.5-3.4h0m6.4 3.1h0m-0.9-7.2h0m-7.4 3.2h0m11 9.8h0m1.1-7.6h0m-5.7 3.8h0m-3.1 1.1h0m0.8-0.5h0m-6.2-7.2h0m2.8 12.8h0m6.7-12.5h0m-1.4 1.9h0m-5.8-1.6h0m14.6 4.7h0m-10.9 5.5h0m1.3-11.1h0m6.7 15.6h0m-4.8-14.4h0m-3.1 4.6h0m-3.7 11.9h0m4-15.1h0m-1 1.1h0m-8 2.2h0m13.1 0.4h0m-2.6-1.4h0m-7.7 3.1h0m8.6-7.7h0m-6.5 2.2h0m-0.6-9h0m3.2 8.9h0m1.9 8.4h0m-3.7-12.9h0m2.9 10.5h0m5.4 1.2h0m-4.6-4.2h0m-6.6 3.1h0m8.9-3.7h0m-3.8 2.4h0m2.6 0.4h0m-0.1-9.6h0m-3.4-0.6h0m4.8 20h0m-5.7-12.8h0m3.7-2.7h0m5.1 4.3h0m1.7 9.7h0m-5.9-14.2h0m2.9 2.3h0m-7.5 0.2h0m6.8-2.8h0m-4.8 7.9h0m-0.2 0.1h0m5.4-6.5h0m-8.6-3.3h0m8.7 8.2h0m-4.2-4.4h0m3.5-0.4h0m5.9 3.7h0m-15.4 3.5h0m6.6-5.1h0m-1.5 5.7h0m-1.1 1.7h0m-1-3h0m-2.6 0.2h0m1.9-5.6h0m6.1-2.5h0m-0.8 3.6h0m2.7 4.2h0m-3.7-5.1h0m-4.1 7.5h0m2.4-12.5h0m-2-3h0m-0.3 6.8h0m4 6.4h0m2-12.8h0m-4.6 11.3h0m2.9-2.9h0m-4 3.4h0m2.5-4.5h0m-0.1 0.1h0m1.4 6.2h0m-0.8-8.1h0m-0.6 2.2h0m2.1 4.3h0m4.1 0.6h0m-11.8-8.1h0m1.5 5.3h0m12.8 0.8h0m-10.3 4.3h0m4.2-10.3h0m-5.6 10.7h0m6.1-16.6h0m-5.4 12.4h0m-2.1-2.7h0m1.6-7.8h0m1.3 5.3h0m2.8-5.5h0m0 6.3h0m-6.6 7.4h0m4-3.7h0m7.2 0h0m-2.2-1h0m-5.4-0.1h0m-3.6 1.4h0m8.6-0.2h0m-5.4-7.7h0m-0.2 4.3h0m-2.4 10.3h0m2.1-8.4h0m1.2 0h0m-5.9-5.4h0m7.5 4.6h0m1.5-2.3h0m1.5 3.6h0m-3.1-1h0m4-0.2h0m1.7 0.7h0m-4.6-0.5h0m0.2 2.1h0m-3.3 1.5h0m11.4-1.1h0m-8.8-6.3h0m-3.1-0.1h0m3.6 0.6h0m4.8 1.3h0m-8.9-2.3h0m2.9 3.6h0m3.6-2.7h0m-2.1 7.8h0m-2.2-12.6h0m1.8 12.9h0m0.6-4.7h0m-8.3 7.5h0m6.2-13.1h0m-0.5 6.3h0m1.3-5h0m8.5 10.1h0m-5-2.9h0m-5-8.4h0m-3.2 10.4h0m4.9 2.7h0m-8.4-1.5h0m9.7-8.7h0m1.5-0.6h0m-4.1 5.6h0m1.5-1.1h0m0.3 3.5h0m-3.8-14.2h0m-0.3-2h0m10.2 8.2h0m-7.1 4.7h0m-2.6-3.9h0m3.7 2.4h0m2-1.2h0m-5.3-5.7h0m-3.6 8.1h0m7.1-3.2h0m3.2-10.7h0m-2 7.1h0m-3.5 4.4h0m-1.5-0.2h0m3.7 12.5h0m-1-7.8h0m2.9-7.8h0m-1.2 2.5h0m1.5-0.8h0m0.6-1.5h0m-5.5 8.2h0m5.3 0.1h0m3.5 0.7h0m-7.2-0.4h0m-2.9-0.6h0m4.4-4.5h0m-4 5.7h0m-4.6-5.8h0m2.1-0.8h0m3.5-2.2h0m-0.6 5.2h0m9.2 6.8h0m-7.7-10.1h0m2.9-2h0m-7.5 8.5h0m3.8 2.6h0m2.7-14h0m-0.2 9.1h0m-0.8-8.7h0m-5.6 15.2h0m-33-9h0m28.6 8.1h0m-1.2-5.4h0m-2.2 3.4h0m-7.2 0.4h0m6.2-3.1h0m1.5 0.3h0m-10.8 3.7h0m3.4-5.4h0m-14.8-4h0m23.2 4.5h0m-5.3-0.8h0m5.7-0.8h0m-16.6-2.9h0m5.3 5.7h0m17.9 0.8h0m-16.9-5.6h0m12 5.4h0m-7 0.3h0m5.1-0.3h0m5.9-6h0m-15.8 2.9h0m-2.7 7.4h0m10.8-4.6h0m3.4-1.9h0m0.4 0.1h0m-0.7 2.2h0m4.4-6.1h0m-17.7 2.3h0m0.8 3.3h0m14.2-2.1h0m0.9 3.6h0m-13.2-0.7h0m16-3.3h0m-28.8 3h0m19.7 0.2h0m1.8-1.9h0m-4.1-2.3h0m15.6 7h0m-16.6-7.1h0m4.5 7.2h0m-3.1-7.1h0m7.1 3.2h0m-13.7-1.4h0m7.6-2.7h0m1 7.1h0m6.1-0.1h0m-2.5-3.9h0m-1 3.8h0m-4.5-2h0m-5.3-1.5h0m1.1-3.2h0m7 9.7h0m-16.6-8h0m15-0.7h0m-0.3 4.6h0m-14.1-2.8h0m17.5 2h0m9.8-1.1h0m-4.6-2.2h0m-17 0.1h0m3.7 4.2h0m9.4-2.6h0m-13 0.4h0m3.8-1.5h0m-10.4 5.7h0m18.3 4.1h0m16.6-8.6h0m-3.7-1.4h0m4.5 1.1h0m-36.6 0.1h0m21 5.1h0m1.3 0.2h0m-6.2-9.7h0m-0.2 1.9h0m5.3-3.7h0m-14.3 2.8h0m8.6 6.5h0m-3.3-6.9h0m-1.6 3.4h0m13.2 0.8h0m1.8-8.7h0m3.1 14.9h0m-18.2 1.5h0m-8.2-5.2h0m2-4.6h0m14.3 2.5h0m-1.6-1.3h0m-17-4.2h0m7.9 1.8h0m3-2.1h0m2.8 6.5h0m-3 2.5h0m5.6-1.2h0m-8.7-2.1h0m-4.3-6.3h0m-2.6 4.5h0m15.8 7.5h0m0.6-7.4h0m5.9 1.4h0m-8.3 0.1h0m7.7 4.4h0m-19.1-4.5h0m7.6-0.3h0m22.6-0.7h0m-38.4 3.3h0m15.7-5.4h0m21.5 8.8h0m-9.5-5.3h0m-13.9 3.6h0m3.8-3.6h0m0.5-0.2h0m-14.4-4.2h0m5.6-2.8h0m0.9 5h0m7.8 1.2h0m-1.9 3.4h0m-13.1-4.7h0m14.6-1h0m12.9 2.2h0m-2.2 2h0m-10.9 1.3h0m-9.5-6.6h0m8.4-3.5h0m-0.2 6.6h0m-10.5-2.5h0m3.5 10.2h0m20.4-5.3h0m-8.3 2.1h0m-0.8-0.2h0m6.2 2.6h0m1.4-8h0m-3.6 5h0m0.4 3.2h0m-2.9-7.8h0m4.7 4.7h0m-7.2-1.9h0m1.2-0.8h0m1.9-1.9h0m2.9 2.3h0m8-0.2h0m-12.9-4.6h0m17.1 3h0m-22.1-0.2h0m4.1 0.6h0m13.5-1.2h0m-15.4 0.1h0m6.7-3.5h0m3.1 3.8h0m-19.3 5.5h0m0.8-2.3h0m10.7-4.1h0m-13.4-0.2h0m19.3 1.9h0m-10.6 3.1h0m4.9-2.6h0m-7.3-4.4h0m3.2 5h0m0.4 0.1h0m1.3-1.7h0m1.7 1.8h0m-17.6-1.1h0m16.3-1.3h0m9.4 4.8h0m1.4-1.3h0m-5.5-1.8h0m2.4-2.3h0m-7.1 2.9h0m-0.1-4.7h0m0.4 2.5h0m-4.4 3.1h0m13.7-1.6h0m-17.8-0.8h0m7.7-2.6h0m-3.3 3.5h0m0.1 0.9h0m-5.8 0.7h0m4.9-1.6h0m5.8-1.9h0m8.1-3.8h0m-6.7 7.2h0m-3.6-2.1h0m-7.2 0.1h0m10.5-1.7h0m-1.2 0.7h0m-8.3 0.8h0m1.9 2.9h0m0 1.5h0m6.1-4.2h0m-5.7 1.3h0m-2.4-5.8h0m11.7-1.6h0m5.7 4.6h0m3.5 2.3h0m0.5-5.1h0m-16.7 5.1h0m-0.9-0.5h0m3.2 1.7h0m12.7-8.3h0m-6.4 2.9h0m8.1-0.9h0m-19.9 5.9h0m5.4 0.5h0m4.3-4.3h0m-16.1 5.7h0m11.4-3.8h0m-0.7-0.4h0m-3.4 0.9h0m7.9-3.8h0m-14.8 5.3h0m19.8-3.3h0m-8.4 0.2h0m4.6 1.2h0m-7.7-2h0m8 3.3h0m-7 0.1h0m-21.6-2.5h0m26.4-4.6h0m-6.1 6.6h0m14.9 0.5h0m-20.1 1.5h0m7.7-0.2h0m-9-7.3h0m-1.7 6.6h0m22.5-1h0m-8.1-1.1h0m0.1-2.7h0m8.4 5.4h0m-2.2-2.6h0m-0.9 3.1h0m13.5 0.3h0m-26.4-5.5h0m13.1 3.8h0m-2.6-1.3h0m-11 0.3h0m-5.2 0.4h0m30.2 1.3h0m-25.4-4.7h0m26.5 4.4h0m-23.7-0.2h0m1.5-4.8h0m3.8 4.6h0m9.4-5.1h0m1.5 2.9h0m-28.2 3.6h0m24.3-1.3h0m-1.4-4.2h0m-2.5-2.2h0m-9.6 12.3h0m18.9-6.3h0m-9.4-0.9h0m1 0.3h0m-12.7-1.6h0m-8-1.5h0m14.2 3.7h0m19.6-5.9h0m-1 3.5h0m-20.7 1h0m21.4-2.9h0m-21 4.8h0m10.5-39.4h0m-3.2 24.2h0m4.2-7.5h0m-1.1-11.3h0m-4.1 9.4h0m5.4-5.5h0m-9.8 17.3h0m6.9-6.7h0m-0.1-13.1h0m-2.2 3.4h0m5.6-10.4h0m-1.9 29.3h0m2.9-5.6h0m-5-24h0m7.1 27.4h0m-8.2 0.6h0m5.9-20.7h0m0.5 11h0m-3.7-3.8h0m-3.5-2.3h0m3.1 3.5h0m0.4 1.4h0m0.2 3h0m-2.1-1.2h0m-0.2 3.8h0m6.1-1.8h0m-6.7-13.3h0m2.2-4.1h0m-0.4 18.3h0m3.3 2.8h0m-7.4-23.8h0m-1.4 21.5h0m12.1 1.1h0m-7.7-23.7h0m-0.5 26.2h0m-3.4-9.7h0m0.8-9.6h0m7.9 10.1h0m-2.9-11.7h0m0 11.4h0m1.1-7h0m0.3-3.7h0m-0.8-4.6h0m-1.4 5.8h0m-2.7 8.8h0m1.1 0.1h0m2.1-0.7h0m2.4-9h0m-4.1-6.5h0m1.3 20.9h0m-0.7 10.6h0m-0.3-7.7h0m5.3-13.2h0m-6.7 14.2h0m-1.1-7.2h0m2.1-1.7h0m6.5 6.4h0m-1.5-5.9h0m0.7-10.6h0m-4.6 9.4h0m-4.4-4h0m0.7-2.7h0m2.8 16.3h0m7.9-20.9h0m-6.6-2.8h0m-0.7-1.1h0m0.7 14.2h0m-0.3-0.4h0m0.5 13.6h0m-7.7-3.8h0m11.9-9.2h0m-1.3 7.8h0m5.3 3.6h0m-2-5.2h0m-3.3-17.6h0m-0.1 17.6h0m-7.7 8h0m-3.5-25.9h0m7.8 16h0m1.3-19.5h0m-3.7 16.6h0m3-15.4h0m0.2 16.7h0m-9.1-4.4h0m12.1-11.8h0m-7.2 13.1h0m0.7-10.5h0m3.6 6.9h0m-0.5 17.4h0m-2.4-18.4h0m3.8 19.9h0m-3-18.6h0m13.7 16.9h0m-9.8 1.3h0m-4.6-22.9h0m4.9-4.2h0m2.4 21.9h0m-5.6-17.2h0m-3.8 20.1h0m0.6-22.2h0m0.2-3.7h0m-0.1 14.1h0m6-2.5h0m-1.9 12.2h0m-5.4 5.5h0m7.2-3.4h0m-0.7-25.7h0m-2.7 23.8h0m4.2-16.3h0m-5.6 17.6h0m2.1 1.7h0m-8.2-22.1h0m9.6 20.1h0m0.7-1.2h0m2.2 5.4h0m0-1h0m-4.4-18.6h0m-1.6 14.2h0m15-0.7h0m-13.1-19.5h0m-3 15.3h0m6.4-10.8h0m-5.7 9.3h0m5.8-1.1h0m1.3-1.7h0m-1 8.5h0m-5.1-21.8h0m7.9 22.5h0m-7.1-1.6h0m2.9-20.4h0m-8.6 9.2h0m9.2-7.7h0m-2 19.4h0m-4.4-11.4h0m6.3 11.3h0m-4.1-18.6h0m1.5-3.5h0m-0.2 17.7h0m5.4-6.3h0m-8 6.5h0m5.3 5.1h0m1.7-5.9h0m-8.1-15.8h0m-0.5 13.3h0m8.8-0.1h0m-4.2 6h0m-3.4-17.1h0m11.7 17.8h0m-6.1-4.2h0m-1.3 0.3h0m3.5 19.2h0m-18.1-4.6h0m-3.7 4.8h0m23-3h0m-1 2.4h0m-17.8-2.5h0m9.4 2.5h0m3 2h0m-4-4.9h0m-3.6 4.4h0m-9-1.4h0m10.3-1.2h0m-10.7 2.2h0m5.7 3h0m-0.4-5.7h0m-2.8 5.4h0m19.2-3.5h0m-16.6 0.2h0m8.8 1.4h0m-8.3-1.1h0m0.6 2.5h0m13.9-1.2h0m-14.1-1h0m18.4-3.4h0m-10 3.2h0m-10.7 0.4h0m-2.7-1.3h0m10.5-2.2h0m-10.1 2h0m13.3 0.1h0m1.7-3.7h0m-12.4 2.3h0m-0.5-3.1h0m12.6 5.6h0m7.6-0.5h0m-24.6 1.2h0m-0.4-2h0m18.4-1h0m-8.1 3.5h0m6.1-5.2h0m-11.1 2.7h0m8.6-0.7h0m4.6-3.1h0m-15.3 0.4h0m3.8 3.8h0m11.5-1.7h0m-4.4 1.1h0m-5.2 0.5h0m6.5 1.8h0m3-5.1h0m4.8 5.4h0m-16.2-6.1h0m6 8.1h0m-4-5.1h0m-3.4 0h0m2.5 1.1h0m-1.9 0.4h0m19.1-2.9h0m-22.2 2.1h0m5.2-3.3h0m2.1 5h0m-7.3 2.9h0m19.3-4.9h0m-12.9 1.5h0m-0.1-1.2h0m8.6 1.5h0m-15.5 0.6h0m2.8-0.5h0m18.4 0.4h0m-7.3-5.8h0m-14.9 3.3h0m11.4-2h0m-5.7 4.6h0m12.8-0.7h0m7.1-3.6h0m-3.9-2.9h0m-6 9.2h0m-9.5-2h0m14.7-2.1h0m-6.4 4h0m-15.4-2.4h0m17-2h0m2.4 1.8h0m-1.3-1h0m-18.4 0h0m18.4 2.2h0m1.9-3.3h0m0.7 1.7h0m-13.8-2.3h0m18.2 2.1h0m-8.8 0.7h0m-16.5 2.2h0m21 1.1h0m-6.3-4h0m-1.5 1.3h0m4.2-1.4h0m-9.1-1.7h0m-6-0.2h0m-0.6 0.9h0m20.2-0.3h0m-2-1.9h0m-12.6 3.3h0m10.2-4.3h0m-16.4 1.9h0m3.9 0.5h0m-0.8 1.8h0m12.4 0.4h0m-5.4-3.1h0m9.8 2.6h0m-19.9-2.7h0m19.5 0.1h0m-13.1 4.1h0m-1.8-2h0m7.8 2.8h0m-13-5h0m13.8 2h0m-8.3 2.8h0m0.1-3.9h0m-2.6 0.4h0m13.4 2.8h0m6.4-1.7h0m-17.3 0.7h0m11.4 3.4h0m-13.1-3.8h0m15.4-1.7h0m-6.9 4.6h0m0-1.6h0m-11.7-7.1h0m-1.9 0.4h0m19.5 2.4h0m-5.3 5.6h0m-12.9-2.1h0m0.5-2.3h0m7.8 1.9h0m5.2 1.3h0m-0.5-0.8h0m-4.5-0.8h0m11.4 0.2h0m-10.8 1.7h0m14.4 0.1h0m-4.1-3.9h0m-13.6 1h0m-4.8 2.6h0m19-5.2h0m-1.8 2.3h0m-10.8 0.7h0m-7.2 1.7h0m12.7-1.3h0m10.7 1.6h0m-23.3 1.2h0m8.1-0.4h0m3.4-5.9h0m-9.5 4.5h0m2-3.9h0m1.2-0.2h0m13.7-2.5h0m-0.3-0.1h0m-3.8 3h0m1.4 4.7h0m-5.5-1.2h0m-4-0.4h0m8.8 1.7h0m6.6-1.4h0m-16.9-0.7h0m13.2 0.7h0m-9.2-0.1h0m11.1-3.7h0m5.3 4.5h0m-5 0.5h0m1.5 0.4h0m-15.5 1.2h0m-5.6-5h0m23 0.2h0m-3.6-0.2h0m-9.6-5.3h0m-12.1 5.5h0m11.5 2.8h0m-2.6 0.7h0m6.4-0.9h0m-14.2 0.4h0m6.7-0.1h0m13-0.9h0m2.7 0h0m-3.1-4h0m-16.7 5.4h0m8.4-0.2h0m-1.7 0.1h0m3.1-2h0m6.8 0.2h0m6.2 0.8h0m-23 0.1h0m10.6-0.2h0m-2.8 0.7h0m3.5-2.2h0m-5.4-0.4h0m15.8 3.2h0m-0.4-3.9h0m-7.1 5.8h0m-2.5-3h0m7.3-3.6h0m-14.9-0.2h0m4.9 6.5h0m-6.5-4.1h0m3.9-2.8h0m6.9 4h0m8.5 1.3h0m-22.4-5.3h0m7.4 6.4h0m14.8 0.7h0m-4.5-7.4h0m-11.4 4.9h0m16.6-0.3h0m-11.5-0.7h0m-5.2 1.2h0m2.2 0h0m-2.4-3.2h0m-0.8-0.7h0m8.2 1.2h0m7.9 1.4h0m-14.4-0.4h0m16.3-4.6h0m-10.3 6.2h0m-7.7-1.8h0m18-1.6h0m-10.2 3.6h0m3.9-1.9h0m-18.4-0.6h0m20-1.2h0m-3.2 1.8h0m5.2-0.6h0m-13.8-3.5h0m10.3 6.3h0m-3.2-2.3h0m-15.3 1.8h0m2.7-1.2h0m17.3-4.3h0m-18.9 6.8h0m22.4-1h0m0.7-3.4h0m-13.7 5.2h0m-0.7-7.8h0m-9.8 2h0m18.8 0.6h0m1.4 2.8h0m2.6-4.3h0m2.2 1.3h0m-8-2.6h0m-13.7 5h0m3.9-3.8h0m10.8 5h0m-21.4-8.2h0m-0.1 0.2h0m2.7-1.4h0m5.4-2.3h0m-3.6-5.8h0m4.7 6.2h0m5.1-3.2h0m-13.5 5.8h0m8.8-10.6h0m1.2 2.5h0m-9.2 10.7h0m4.8-5.8h0m2.6 2.6h0m-1.8 1.2h0m1.5-11.1h0m-3.4 9h0m5.1-3.8h0m-9.1 6.8h0m7.3-4.8h0m1.6-5.1h0m-2.1 3.2h0m-7.6 5.4h0m4.2-3.1h0m6-3.4h0m-4.7 2h0m27.5-24h0m8.7 5.9h0m-13.9 6.4h0m12-7.2h0m1.4 16.3h0m-11.8-7.6h0m4.2-11.9h0m3.3 28.4h0m7.2-2.3h0m-14-18.6h0m13.4 10h0m-1.8 11.6h0m-4.3-4.4h0m2.2-14.9h0m5.1 4h0m-10.3-7.3h0m8.9 12.6h0m-6-8.9h0m6.9 15.1h0m-3.8 3.3h0m-1.2-5.8h0m2.2-2.5h0m-7.9-9.2h0m-3.5-9.8h0m0.9 0.4h0m-32 12.7h0m-2.7-10.5h0m5.3 11.6h0m46.4 18h0m-6.5-10.3h0m-2.6 2.3h0m3.6 9.7h0m-4.4-2h0m9.3 8.7h0m-0.2-1.3h0m-4.6-8h0m-4.8 11.4h0m4.2-23h0m5.3 17.6h0m-2.5-12.6h0m-7.1 8.7h0m1.7-1.1h0m6-4.1h0" stroke="#d42a26" stroke-width="0.62" stroke-linecap="square" fill="none" opacity="0.78"/>
<ellipse cx="380.2" cy="60.6" rx="9" ry="5.7" fill="#c8201a" opacity="1" transform="rotate(-5 380.2 60.6)" filter="url(#bl)"/>
<ellipse cx="352.5" cy="105.2" rx="6.6" ry="5" fill="#c8201a" opacity="1" transform="rotate(-18 352.5 105.2)" filter="url(#bl)"/>
<ellipse cx="388" cy="103.2" rx="3.8" ry="4.6" fill="#c8201a" opacity="0.8" transform="rotate(0 388 103.2)" filter="url(#bl)"/>
</g>
<path d="M338.8 90.6H407.5M367.7 51.5V117.2" stroke="#8a8a8a" stroke-width="0.9" fill="none"/>
<path d="M338.8 51.5V117.2H407.5" stroke="#777" stroke-width="0.8" fill="none"/>
<rect x="358" y="83.6" width="2.8" height="1.4" fill="#8a8a8a" opacity="0.85"/>
<rect x="373.1" y="83.6" width="2.8" height="1.4" fill="#8a8a8a" opacity="0.85"/>
<rect x="358" y="96.1" width="2.8" height="1.4" fill="#8a8a8a" opacity="0.85"/>
<rect x="373.1" y="96.1" width="2.8" height="1.4" fill="#8a8a8a" opacity="0.85"/>
<path d="M336.6 58.1h2.2M336.6 72.9h2.2M336.6 88.9h2.2M336.6 100.8h2.2M336.6 106h2.2M336.6 112.3h2.2M337.7 53.5h1.1M337.7 56.2h1.1M337.7 59h1.1M337.7 61.7h1.1M337.7 64.4h1.1M337.7 67.1h1.1M337.7 69.9h1.1M337.7 72.6h1.1M337.7 75.3h1.1M337.7 78h1.1M337.7 80.8h1.1M337.7 83.5h1.1M337.7 86.2h1.1M337.7 88.9h1.1M337.7 91.7h1.1M337.7 94.4h1.1M337.7 97.1h1.1M337.7 99.8h1.1M337.7 102.6h1.1M337.7 105.3h1.1M337.7 108h1.1M337.7 110.7h1.1M337.7 113.5h1.1M337.7 116.2h1.1M341.5 117.2v2.2M348.8 117.2v2.2M354.4 117.2v2.2M368.1 117.2v2.2M385.1 117.2v2.2M399.9 117.2v2.2M339.8 117.2v1.1M342.5 117.2v1.1M345.1 117.2v1.1M347.8 117.2v1.1M350.5 117.2v1.1M353.1 117.2v1.1M355.8 117.2v1.1M358.5 117.2v1.1M361.1 117.2v1.1M363.8 117.2v1.1M366.5 117.2v1.1M369.1 117.2v1.1M371.8 117.2v1.1M374.5 117.2v1.1M377.2 117.2v1.1M379.8 117.2v1.1M382.5 117.2v1.1M385.2 117.2v1.1M387.8 117.2v1.1M390.5 117.2v1.1M393.2 117.2v1.1M395.8 117.2v1.1M398.5 117.2v1.1M401.2 117.2v1.1M403.8 117.2v1.1M406.5 117.2v1.1" stroke="#555" stroke-width="0.6" fill="none"/>
<text x="332.6" y="60.4" font-size="6.3" text-anchor="end" fill="#2a2a2a" stroke="#2a2a2a" stroke-width="0.132">10<tspan dy="-3" font-size="4.8">5</tspan></text>
<text x="332.6" y="75.2" font-size="6.3" text-anchor="end" fill="#2a2a2a" stroke="#2a2a2a" stroke-width="0.132">10<tspan dy="-3" font-size="4.8">4</tspan></text>
<text x="332.6" y="91.2" font-size="6.3" text-anchor="end" fill="#2a2a2a" stroke="#2a2a2a" stroke-width="0.132">10<tspan dy="-3" font-size="4.8">3</tspan></text>
<text x="332.6" y="103.1" font-size="6.3" text-anchor="end" fill="#2a2a2a" stroke="#2a2a2a" stroke-width="0.132">10<tspan dy="-3" font-size="4.8">2</tspan></text>
<text x="331.1" y="108.3" font-size="6.3" text-anchor="end" font-weight="normal" fill="#333" stroke="#333" stroke-width="0.22" >0</text>
<text x="332.6" y="114.6" font-size="6.3" text-anchor="end" fill="#2a2a2a" stroke="#2a2a2a" stroke-width="0.132">-10<tspan dy="-3" font-size="4.8">2</tspan></text>
<text x="341.5" y="127.8" font-size="6.3" text-anchor="middle" fill="#2a2a2a" stroke="#2a2a2a" stroke-width="0.132">-10<tspan dy="-3" font-size="4.8">2</tspan></text>
<text x="348.8" y="127.8" font-size="6.3" text-anchor="middle" font-weight="normal" fill="#2a2a2a" stroke="#2a2a2a" stroke-width="0.22" >0</text>
<text x="355" y="127.8" font-size="6.3" text-anchor="middle" fill="#2a2a2a" stroke="#2a2a2a" stroke-width="0.132">10<tspan dy="-3" font-size="4.8">2</tspan></text>
<text x="368.9" y="127.8" font-size="6.3" text-anchor="middle" fill="#2a2a2a" stroke="#2a2a2a" stroke-width="0.132">10<tspan dy="-3" font-size="4.8">3</tspan></text>
<text x="385.6" y="127.8" font-size="6.3" text-anchor="middle" fill="#2a2a2a" stroke="#2a2a2a" stroke-width="0.132">10<tspan dy="-3" font-size="4.8">4</tspan></text>
<text x="400.7" y="127.8" font-size="6.3" text-anchor="middle" fill="#2a2a2a" stroke="#2a2a2a" stroke-width="0.132">10<tspan dy="-3" font-size="4.8">5</tspan></text>
<text x="405.9" y="60.3" font-size="10.4" text-anchor="end" font-weight="bold" fill="#111" >13.4</text>
<text transform="translate(13 84.7) rotate(0) scale(0.92 1)" font-size="9.5" text-anchor="start" fill="#222" stroke="#222" stroke-width="0.22">PB</text>
<path d="M30 93.8L30 57.7" stroke="#111" stroke-width="1.5" fill="none"/>
<path d="M30.00 50.70L33.50 58.70L30.00 57.10L26.50 58.70z" fill="#111"/>
<text transform="translate(33.2 112.9) rotate(-90) scale(0.65 1)" font-size="10.0" text-anchor="start" fill="#333" stroke="#333" stroke-width="0.22">Gr-1</text>
<text transform="translate(64.5 141.7) rotate(0) scale(0.73 1)" font-size="10.5" text-anchor="start" fill="#222" stroke="#222" stroke-width="0.22">CD11b</text>
<path d="M92.6 138.5L262.2 138.5" stroke="#111" stroke-width="1.3" fill="none"/>
<path d="M269.40 138.50L261.20 141.90L262.80 138.50L261.20 135.10z" fill="#111"/>
<path d="M447.9 37V115.6H509.5" stroke="#111" stroke-width="1.4" fill="none"/>
<path d="M443.1 115.6h4.8M443.1 96.9h4.8M443.1 78.3h4.8M443.1 59.6h4.8M443.1 41h4.8M455.6 115.6v4M471 115.6v4M486.3 115.6v4M501.8 115.6v4" stroke="#111" stroke-width="1.2" fill="none"/>
<text transform="translate(438.7 117.9) rotate(0) scale(0.9 1)" font-size="7.0" text-anchor="end" fill="#444" stroke="#444" stroke-width="0.22">0</text>
<text transform="translate(438.7 99.2) rotate(0) scale(0.9 1)" font-size="7.0" text-anchor="end" fill="#444" stroke="#444" stroke-width="0.22">5</text>
<text transform="translate(438.7 80.6) rotate(0) scale(0.9 1)" font-size="7.0" text-anchor="end" fill="#444" stroke="#444" stroke-width="0.22">10</text>
<text transform="translate(438.7 61.9) rotate(0) scale(0.9 1)" font-size="7.0" text-anchor="end" fill="#444" stroke="#444" stroke-width="0.22">15</text>
<text transform="translate(438.7 43.3) rotate(0) scale(0.9 1)" font-size="7.0" text-anchor="end" fill="#444" stroke="#444" stroke-width="0.22">20</text>
<circle cx="452.6" cy="86.5" r="1.2" fill="#c0102a"/>
<circle cx="454.1" cy="85.8" r="1.2" fill="#c0102a"/>
<circle cx="456.1" cy="86.1" r="1.2" fill="#c0102a"/>
<circle cx="458.1" cy="87.3" r="1.2" fill="#c0102a"/>
<circle cx="453.1" cy="91" r="1.2" fill="#c0102a"/>
<circle cx="458.4" cy="91.4" r="1.2" fill="#c0102a"/>
<circle cx="454.8" cy="92.5" r="1.2" fill="#c0102a"/>
<circle cx="457.4" cy="93.2" r="1.2" fill="#c0102a"/>
<circle cx="454.6" cy="87.3" r="1.2" fill="#c0102a"/>
<path d="M453.4 87.4h4.4M453.4 89.3h4.4M455.6 87.4V89.3" stroke="#111" stroke-width="0.9" fill="none"/>
<path d="M450.3 88.4h10.6" stroke="#111" stroke-width="1.6" fill="none"/>
<circle cx="467.5" cy="64.9" r="1.2" fill="#d6812e"/>
<circle cx="469" cy="61.9" r="1.2" fill="#d6812e"/>
<circle cx="471" cy="57" r="1.2" fill="#d6812e"/>
<circle cx="473" cy="62.6" r="1.2" fill="#d6812e"/>
<circle cx="474.5" cy="65.6" r="1.2" fill="#d6812e"/>
<circle cx="468" cy="67.5" r="1.2" fill="#d6812e"/>
<circle cx="471.5" cy="68.6" r="1.2" fill="#d6812e"/>
<circle cx="473.8" cy="68.2" r="1.2" fill="#d6812e"/>
<circle cx="470" cy="63.4" r="1.2" fill="#d6812e"/>
<circle cx="472.2" cy="66.7" r="1.2" fill="#d6812e"/>
<circle cx="474" cy="62.3" r="1.2" fill="#d6812e"/>
<circle cx="468.8" cy="66.4" r="1.2" fill="#d6812e"/>
<path d="M468.8 63h4.4M468.8 65.2h4.4M471 63V65.2" stroke="#111" stroke-width="0.9" fill="none"/>
<path d="M465.7 64.1h10.6" stroke="#111" stroke-width="1.6" fill="none"/>
<circle cx="483.8" cy="102.2" r="1.2" fill="#5cb84a"/>
<circle cx="485.3" cy="102" r="1.2" fill="#5cb84a"/>
<circle cx="486.8" cy="101.8" r="1.2" fill="#5cb84a"/>
<circle cx="488.3" cy="102.2" r="1.2" fill="#5cb84a"/>
<circle cx="486.3" cy="100.3" r="1.2" fill="#5cb84a"/>
<path d="M484.1 101.9h4.4M484.1 102.4h4.4M486.3 101.9V102.4" stroke="#111" stroke-width="0.9" fill="none"/>
<path d="M481 102.2h10.6" stroke="#111" stroke-width="1.6" fill="none"/>
<circle cx="498.3" cy="63.4" r="1.2" fill="#7a78d0"/>
<circle cx="500" cy="60.4" r="1.2" fill="#7a78d0"/>
<circle cx="502.3" cy="60" r="1.2" fill="#7a78d0"/>
<circle cx="504.3" cy="61.5" r="1.2" fill="#7a78d0"/>
<circle cx="505.3" cy="64.9" r="1.2" fill="#7a78d0"/>
<circle cx="499" cy="66.4" r="1.2" fill="#7a78d0"/>
<circle cx="501.8" cy="68.6" r="1.2" fill="#7a78d0"/>
<circle cx="503.8" cy="67.1" r="1.2" fill="#7a78d0"/>
<path d="M499.6 63h4.4M499.6 65.2h4.4M501.8 63V65.2" stroke="#111" stroke-width="0.9" fill="none"/>
<path d="M496.5 64.1h10.6" stroke="#111" stroke-width="1.6" fill="none"/>
<path d="M453.9 49.8H470.7M483.3 49.8H502.9" stroke="#666" stroke-width="1.5" fill="none"/>
<text x="462.3" y="51.4" font-size="7.6" text-anchor="middle" font-weight="bold" fill="#444" >**</text>
<text x="493.1" y="51.4" font-size="7.6" text-anchor="middle" font-weight="bold" fill="#444" >***</text>
<text transform="translate(424.4 76) rotate(-90) scale(0.825 1)" font-size="9.2" text-anchor="middle" fill="#333" stroke="#333" stroke-width="0.22">CD11b+Gr-1+ cells (%)</text>
<text transform="translate(460.1 129.3) rotate(-45) scale(0.92 1)" font-size="6.9" text-anchor="end" fill="#333" stroke="#333" stroke-width="0.22">control</text>
<text transform="translate(475.5 129.3) rotate(-45) scale(0.92 1)" font-size="6.9" text-anchor="end" fill="#333" stroke="#333" stroke-width="0.22">control+IL-19</text>
<text transform="translate(490.8 129.3) rotate(-45) scale(0.92 1)" font-size="6.9" text-anchor="end" fill="#333" stroke="#333" stroke-width="0.22">Dmp1-Rheb</text>
<text transform="translate(506.3 129.3) rotate(-45) scale(0.92 1)" font-size="6.9" text-anchor="end" fill="#333" stroke="#333" stroke-width="0.22">Dmp1-Rheb+IL-19</text>
<path d="M448 211.7V278.5H506.5" stroke="#111" stroke-width="1.4" fill="none"/>
<path d="M443.2 278.5h4.8M443.2 261.2h4.8M443.2 243.8h4.8M443.2 226.5h4.8M455.1 278.5v4M469.7 278.5v4M484.4 278.5v4M499 278.5v4" stroke="#111" stroke-width="1.2" fill="none"/>
<text transform="translate(438.8 280.8) rotate(0) scale(0.9 1)" font-size="7.0" text-anchor="end" fill="#444" stroke="#444" stroke-width="0.22">0</text>
<text transform="translate(438.8 263.5) rotate(0) scale(0.9 1)" font-size="7.0" text-anchor="end" fill="#444" stroke="#444" stroke-width="0.22">10</text>
<text transform="translate(438.8 246.1) rotate(0) scale(0.9 1)" font-size="7.0" text-anchor="end" fill="#444" stroke="#444" stroke-width="0.22">20</text>
<text transform="translate(438.8 228.8) rotate(0) scale(0.9 1)" font-size="7.0" text-anchor="end" fill="#444" stroke="#444" stroke-width="0.22">30</text>
<circle cx="452.1" cy="247.7" r="1.2" fill="#b8102a"/>
<circle cx="454.1" cy="250.4" r="1.2" fill="#b8102a"/>
<circle cx="456.6" cy="249.7" r="1.2" fill="#b8102a"/>
<circle cx="458.1" cy="248.7" r="1.2" fill="#b8102a"/>
<circle cx="452.9" cy="253.9" r="1.2" fill="#b8102a"/>
<circle cx="455.6" cy="255.6" r="1.2" fill="#b8102a"/>
<circle cx="457.6" cy="254.6" r="1.2" fill="#b8102a"/>
<circle cx="454.6" cy="251.8" r="1.2" fill="#b8102a"/>
<path d="M452.9 251.3h4.4M452.9 253h4.4M455.1 251.3V253" stroke="#111" stroke-width="0.9" fill="none"/>
<path d="M449.8 252.2h10.6" stroke="#111" stroke-width="1.6" fill="none"/>
<circle cx="466.7" cy="263.9" r="1.2" fill="#2a4ea0"/>
<circle cx="468.7" cy="261.5" r="1.2" fill="#2a4ea0"/>
<circle cx="470.7" cy="260.5" r="1.2" fill="#2a4ea0"/>
<circle cx="472.7" cy="263.2" r="1.2" fill="#2a4ea0"/>
<circle cx="467.2" cy="267.1" r="1.2" fill="#2a4ea0"/>
<circle cx="469.7" cy="267.6" r="1.2" fill="#2a4ea0"/>
<circle cx="471.9" cy="266.5" r="1.2" fill="#2a4ea0"/>
<circle cx="468.5" cy="265.7" r="1.2" fill="#2a4ea0"/>
<circle cx="471.2" cy="265.3" r="1.2" fill="#2a4ea0"/>
<circle cx="472.9" cy="265.8" r="1.2" fill="#2a4ea0"/>
<path d="M467.5 264.4h4.4M467.5 265.9h4.4M469.7 264.4V265.9" stroke="#111" stroke-width="0.9" fill="none"/>
<path d="M464.4 265.2h10.6" stroke="#111" stroke-width="1.6" fill="none"/>
<circle cx="482.4" cy="214.4" r="1.2" fill="#5cb84a"/>
<circle cx="485.9" cy="212.1" r="1.2" fill="#5cb84a"/>
<circle cx="481.9" cy="219.2" r="1.2" fill="#5cb84a"/>
<circle cx="486.4" cy="219.6" r="1.2" fill="#5cb84a"/>
<circle cx="483.4" cy="222" r="1.2" fill="#5cb84a"/>
<circle cx="485.4" cy="223.4" r="1.2" fill="#5cb84a"/>
<circle cx="481.6" cy="229.1" r="1.2" fill="#5cb84a"/>
<circle cx="483.9" cy="231.4" r="1.2" fill="#5cb84a"/>
<circle cx="486.9" cy="230" r="1.2" fill="#5cb84a"/>
<circle cx="482.4" cy="227.2" r="1.2" fill="#5cb84a"/>
<circle cx="484.9" cy="226.3" r="1.2" fill="#5cb84a"/>
<circle cx="487.2" cy="230.8" r="1.2" fill="#5cb84a"/>
<path d="M482.2 221.1h4.4M482.2 225h4.4M484.4 221.1V225" stroke="#111" stroke-width="0.9" fill="none"/>
<path d="M479.1 223h10.6" stroke="#111" stroke-width="1.6" fill="none"/>
<circle cx="495.8" cy="266.4" r="1.2" fill="#3a8ee0"/>
<circle cx="497.8" cy="265.7" r="1.2" fill="#3a8ee0"/>
<circle cx="499.8" cy="266.9" r="1.2" fill="#3a8ee0"/>
<circle cx="501.8" cy="266" r="1.2" fill="#3a8ee0"/>
<circle cx="497" cy="266.7" r="1.2" fill="#3a8ee0"/>
<circle cx="500.8" cy="266.5" r="1.2" fill="#3a8ee0"/>
<path d="M496.8 266.1h4.4M496.8 266.6h4.4M499 266.1V266.6" stroke="#111" stroke-width="0.9" fill="none"/>
<path d="M493.7 266.4h10.6" stroke="#111" stroke-width="1.6" fill="none"/>
<path d="M455.8 211.8H471.6M484.2 211.8H499.7" stroke="#666" stroke-width="1.5" fill="none"/>
<text x="463.7" y="213.4" font-size="7.6" text-anchor="middle" font-weight="bold" fill="#444" >**</text>
<text x="491.9" y="213.4" font-size="7.6" text-anchor="middle" font-weight="bold" fill="#444" >***</text>
<text transform="translate(425 245.4) rotate(-90) scale(0.85 1)" font-size="9.2" text-anchor="middle" fill="#333" stroke="#333" stroke-width="0.22">CD11b+Gr-1+Edu+ cells (%)</text>
<text transform="translate(459 290.9) rotate(-45) scale(0.92 1)" font-size="6.9" text-anchor="end" fill="#333" stroke="#333" stroke-width="0.22">control-CM</text>
<text transform="translate(473.6 290.9) rotate(-45) scale(0.92 1)" font-size="6.9" text-anchor="end" fill="#333" stroke="#333" stroke-width="0.22">control+anti-IL-19-CM</text>
<text transform="translate(488.3 290.9) rotate(-45) scale(0.92 1)" font-size="6.9" text-anchor="end" fill="#333" stroke="#333" stroke-width="0.22">Dmp1-TSC1-CM</text>
<text transform="translate(502.9 290.9) rotate(-45) scale(0.92 1)" font-size="6.9" text-anchor="end" fill="#333" stroke="#333" stroke-width="0.22">Dmp1-TSC1+anti-IL-19-CM</text>
<path d="M448 363.9V437H506.5" stroke="#111" stroke-width="1.4" fill="none"/>
<path d="M443.2 437h4.8M443.2 419.8h4.8M443.2 402.6h4.8M443.2 385.4h4.8M443.2 368.2h4.8M454.9 437v4M469 437v4M483.8 437v4M498.3 437v4" stroke="#111" stroke-width="1.2" fill="none"/>
<text transform="translate(438.8 439.3) rotate(0) scale(0.9 1)" font-size="7.0" text-anchor="end" fill="#444" stroke="#444" stroke-width="0.22">0</text>
<text transform="translate(438.8 422.1) rotate(0) scale(0.9 1)" font-size="7.0" text-anchor="end" fill="#444" stroke="#444" stroke-width="0.22">10</text>
<text transform="translate(438.8 404.9) rotate(0) scale(0.9 1)" font-size="7.0" text-anchor="end" fill="#444" stroke="#444" stroke-width="0.22">20</text>
<text transform="translate(438.8 387.7) rotate(0) scale(0.9 1)" font-size="7.0" text-anchor="end" fill="#444" stroke="#444" stroke-width="0.22">30</text>
<text transform="translate(438.8 370.5) rotate(0) scale(0.9 1)" font-size="7.0" text-anchor="end" fill="#444" stroke="#444" stroke-width="0.22">40</text>
<circle cx="451.9" cy="401.2" r="1.2" fill="#c0102a"/>
<circle cx="453.7" cy="400.4" r="1.2" fill="#c0102a"/>
<circle cx="455.9" cy="401.7" r="1.2" fill="#c0102a"/>
<circle cx="457.9" cy="401.1" r="1.2" fill="#c0102a"/>
<circle cx="451.7" cy="405.2" r="1.2" fill="#c0102a"/>
<circle cx="458.1" cy="405.7" r="1.2" fill="#c0102a"/>
<circle cx="452.9" cy="408.6" r="1.2" fill="#c0102a"/>
<circle cx="454.9" cy="409.5" r="1.2" fill="#c0102a"/>
<circle cx="457.1" cy="409" r="1.2" fill="#c0102a"/>
<circle cx="454.1" cy="404" r="1.2" fill="#c0102a"/>
<circle cx="456.1" cy="404.5" r="1.2" fill="#c0102a"/>
<circle cx="453.1" cy="406.7" r="1.2" fill="#c0102a"/>
<path d="M452.7 403.8h4.4M452.7 405.9h4.4M454.9 403.8V405.9" stroke="#111" stroke-width="0.9" fill="none"/>
<path d="M449.6 404.8h10.6" stroke="#111" stroke-width="1.6" fill="none"/>
<circle cx="466.5" cy="379.4" r="1.2" fill="#d6812e"/>
<circle cx="469.8" cy="377" r="1.2" fill="#d6812e"/>
<circle cx="466" cy="382.3" r="1.2" fill="#d6812e"/>
<circle cx="471.8" cy="381.6" r="1.2" fill="#d6812e"/>
<circle cx="468" cy="384.7" r="1.2" fill="#d6812e"/>
<circle cx="470.5" cy="385.7" r="1.2" fill="#d6812e"/>
<circle cx="466.4" cy="388.8" r="1.2" fill="#d6812e"/>
<circle cx="471.5" cy="389.7" r="1.2" fill="#d6812e"/>
<circle cx="469" cy="392.3" r="1.2" fill="#d6812e"/>
<circle cx="468.5" cy="383.3" r="1.2" fill="#d6812e"/>
<path d="M466.8 382.8h4.4M466.8 385.6h4.4M469 382.8V385.6" stroke="#111" stroke-width="0.9" fill="none"/>
<path d="M463.7 384.2h10.6" stroke="#111" stroke-width="1.6" fill="none"/>
<circle cx="481.3" cy="425.1" r="1.2" fill="#5cb84a"/>
<circle cx="482.8" cy="424.4" r="1.2" fill="#5cb84a"/>
<circle cx="484.8" cy="425.6" r="1.2" fill="#5cb84a"/>
<circle cx="486.3" cy="425" r="1.2" fill="#5cb84a"/>
<circle cx="482" cy="426.3" r="1.2" fill="#5cb84a"/>
<circle cx="485.3" cy="426.9" r="1.2" fill="#5cb84a"/>
<path d="M481.6 425.1h4.4M481.6 425.8h4.4M483.8 425.1V425.8" stroke="#111" stroke-width="0.9" fill="none"/>
<path d="M478.5 425.5h10.6" stroke="#111" stroke-width="1.6" fill="none"/>
<circle cx="495.5" cy="375.4" r="1.2" fill="#6a68d0"/>
<circle cx="497.8" cy="374" r="1.2" fill="#6a68d0"/>
<circle cx="500.3" cy="374.7" r="1.2" fill="#6a68d0"/>
<circle cx="501.8" cy="376.6" r="1.2" fill="#6a68d0"/>
<circle cx="494.8" cy="378.9" r="1.2" fill="#6a68d0"/>
<circle cx="501.3" cy="379.6" r="1.2" fill="#6a68d0"/>
<circle cx="496.3" cy="382.3" r="1.2" fill="#6a68d0"/>
<circle cx="498.8" cy="383.3" r="1.2" fill="#6a68d0"/>
<circle cx="500.8" cy="382.8" r="1.2" fill="#6a68d0"/>
<circle cx="497.3" cy="385.7" r="1.2" fill="#6a68d0"/>
<circle cx="499.5" cy="386.8" r="1.2" fill="#6a68d0"/>
<circle cx="498.1" cy="378.5" r="1.2" fill="#6a68d0"/>
<path d="M496.1 379.2h4.4M496.1 381.3h4.4M498.3 379.2V381.3" stroke="#111" stroke-width="0.9" fill="none"/>
<path d="M493 380.2h10.6" stroke="#111" stroke-width="1.6" fill="none"/>
<path d="M455 372H469.5M483.8 372H498.5" stroke="#666" stroke-width="1.5" fill="none"/>
<text x="462.2" y="373.6" font-size="7.6" text-anchor="middle" font-weight="bold" fill="#444" >**</text>
<text x="491.1" y="373.6" font-size="7.6" text-anchor="middle" font-weight="bold" fill="#444" >***</text>
<text transform="translate(425 400.7) rotate(-90) scale(0.85 1)" font-size="9.2" text-anchor="middle" fill="#333" stroke="#333" stroke-width="0.22">CD11b+Gr-1+Edu+ cells (%)</text>
<text transform="translate(458.8 449.4) rotate(-45) scale(0.92 1)" font-size="6.9" text-anchor="end" fill="#333" stroke="#333" stroke-width="0.22">control-CM</text>
<text transform="translate(472.9 449.4) rotate(-45) scale(0.92 1)" font-size="6.9" text-anchor="end" fill="#333" stroke="#333" stroke-width="0.22">control+IL-19-CM</text>
<text transform="translate(487.7 449.4) rotate(-45) scale(0.92 1)" font-size="6.9" text-anchor="end" fill="#333" stroke="#333" stroke-width="0.22">Dmp1-Rheb-CM</text>
<text transform="translate(502.2 449.4) rotate(-45) scale(0.92 1)" font-size="6.9" text-anchor="end" fill="#333" stroke="#333" stroke-width="0.22">Dmp1-Rheb+IL-19-CM</text>
<text x="93.8" y="204.3" font-size="9.9" text-anchor="middle" font-weight="normal" fill="#222" stroke="#222" stroke-width="0.22" >control-CM</text>
<rect x="58.3" y="212.1" width="71" height="67.2" fill="#fff" stroke="#999" stroke-width="0.8"/>
<clipPath id="cg0"><rect x="58.7" y="212.5" width="70.2" height="66.4"/></clipPath><g clip-path="url(#cg0)">
<ellipse cx="112.5" cy="258.3" rx="13.8" ry="7.3" fill="#5a6ade" opacity="0.22" transform="rotate(-17.2 112.5 258.3)" filter="url(#bl2)"/>
<ellipse cx="113" cy="245" rx="12.9" ry="5.8" fill="#5a6ade" opacity="0.22" transform="rotate(-5.7 113 245)" filter="url(#bl2)"/>
<path d="M107 266.5h0m15.5-8.4h0m-21.3-1.4h0m17.3 10h0m-13.3-1.8h0m-8.2-1.2h0m20.2 1.3h0m1.5-1.4h0m6.1 0.8h0m1.1-1.6h0m-25.8 4.6h0m14.9-0.2h0m-16.9-9.8h0m25.5 2.9h0m-24.6-3h0m22.9 12.2h0m-25.5-8.3h0m-3.1 0.2h0m22.3 3.6h0m-12.4 3.3h0m21.5-11.2h0m-35.4-2.7h0m17.8-2.6h0m-16.2 5.3h0m13.1 13.4h0m-8.2-6.9h0m21.2 0.1h0m5.6 3.1h0m-21.2-15.2h0m1.6 0.7h0m17.5 9.9h0m-24.3-3.6h0m30-11.2h0m-10.3 16.5h0m11.2-11.5h0m-35.2 6.8h0m25.3 7.2h0m-18.3 1.2h0m1-14.1h0m-8.9 7.1h0m-1.1 2.6h0m28.5-12h0m7.1 13.2h0m-3.7 0.1h0m-6.5 3.5h0m-16.6 2.7h0m23.3-8.9h0m-15.7 5.9h0m20.2-7.8h0m-27.6-3.3h0m26.1-8.5h0m-1 12.6h0m-2.1 9.1h0m-15.4-17.7h0m18.6-2.1h0m3.2 10.8h0m-16 8.4h0m13.1-17.1h0m1.4 1.2h0m-35.8 0.4h0m5.1 7.7h0m29.4-14.2h0m-17.6 20.8h0m-10.7-3.4h0m14.7 1h0m11.1-1.7h0m2.9-13.4h0m-31.7 10.5h0m33.8 2.9h0m-28.9-0.1h0m9.3 4.5h0m-6.6-19.1h0m-8.4 14h0m20.1-23.4h0m5.2-1.2h0m-2.2-5.8h0m-10.8 4.2h0m4.4 3h0m14.3 6.4h0m-22.7-11.7h0m-1.4 7.4h0m2.3 8.5h0m3.1-4.7h0m16.8-2.9h0m-1.3-3.1h0m-15.1 4h0m-9 3.3h0m27.2-1.4h0m-26.7 1.7h0m28.1-0.7h0m-13.7-6.2h0m0.2-3h0m-12.1 4.9h0m4.9-5.1h0m18.4 3h0m2.1 0.5h0m-16.3-5.2h0m0.6 3.3h0m-13.7 1.7h0m-3.3 1.3h0m0.8 2h0m11-2.8h0m17.6-2.1h0m-14.2 1.9h0m12.7 0.7h0m-7.9-6.5h0m-21.3 17.7h0m34.9-9h0m-15.6 5.4h0m-5.1-9.6h0m-7.7 6.6h0m4.8-6.7h0m-3.7 4.3h0m1.4 4.7h0m27.4-2.7h0m-0.9 1.5h0m-23.6-0.1h0m17.3-6.9h0m-0.6 1.5h0m-17.9 11.2h0m16.8-6.3h0m6.8-5.3h0m-17.1 7.3h0m16-0.7h0m-22.6 2.7h0m-2.9-2.4h0m-9.4-1.9h0m31.4-5.7h0m0.4 0.3h0m-12.2-0.3h0m13.5 3.9h0m0.7-1h0m-0.3 2.8h0m-10.7 29.4h0m9.8-13.2h0m-7.9 10.7h0m-19.5-17.6h0m14.1 15.6h0m-13.2-11h0m-2.8-10.2h0m30.6 14.2h0m-29 3.7h0m5.9-16h0m-5.1 15.6h0m-0.9 8.8h0m-4.9-17.7h0m24.4 6.7h0m-19.6-3.5h0m27.9-18.7h0m-20.5 10.1h0m-1.6 12h0m-1.6-13.2h0m1.5-7.6h0m-6.3 13.7h0m0-10h0m-7.8 7.4h0m6.8 14.6h0m4.1-2.2h0m-19.4-3.7h0m-3.7 8.8h0m17.9-16.2h0m31.4-8.9h0m-31.7 24.5h0m-3-15.2h0m20.3 11.2h0m14.1-23.9h0m-36 21.3h0m6 11.7h0m31.5-26.2h0m-23.1 14.8h0m-4.4-16.3h0m-5.2 23.9h0m5.5-13.4h0m-13.9 3.2h0m19.4 3.6h0m25.6-17h0m-10.5 16h0m6.6-19.6h0m-24.4 23.3h0m-3.1-18.1h0m5.6 2.3h0m-5.7 0.9h0m25.9-0.1h0m-32.1 17.8h0m-0.7-9.3h0m10.3 3.2h0m-5-7.5h0m20.3 8.7h0m-20-0.1h0m-0.5-6.5h0m0.1 1.2h0m-9.2 6h0m-2.1-6.5h0m16.8 6h0m-36.6 3.9h0m17.5 0.6h0m14.3-9.3h0m-1-6.4h0m-25.4 14.8h0m-1-6.6h0m18.2-1.7h0m-12.5 11.2h0m10.3 0.9h0m13.3-7.1h0m-12.9-3h0m-14.3 5.5h0m18.7-7.7h0m-18.7 2.3h0m-10.1 8.9h0m4.7-1.8h0m30.1-13.4h0m-25.8 8h0m15.4 0.1h0m8.3-1.9h0m-31.2 5.6h0m21.6-3.4h0m-3.6 2.5h0m3.5-0.9h0m5.2-3.8h0m-5.4 6.1h0m7.1-8.1h0m-14.7 14.1h0m17.1-21.4h0m-16.9 17.8h0m16.1-7.9h0m-29.8 9.3h0m5.1-8h0m11.2 5.7h0m-9.7-2.9h0m-5.2 4.1h0m23.2-10h0m2 4.9h0m-8.1 7.1h0m-17.7 1.3h0m11.6-6.6h0m6.7-1.7h0m5.7-1.7h0m-7-1.9h0m-4.7 1.2h0m4.5 9h0m-4.2-6.7h0m-11.8 5h0m-3.5-3.1h0m18.2-4.7h0m16.5-7.4h0m-24 10.8h0m13.5-1.7h0m1.9-0.5h0m7.1-9h0m-4.9 7.8h0m4.6 0.2h0m-24.8 9.7h0m24.8-11.2h0m-26.5 3.7h0m18.7-6.5h0m-2.6 9.5h0m-5.4-1.1h0m-2.4 1.1h0m15.7-14h0m-18.2 6.7h0m-7.5 11.1h0m0.5 2.1h0m17.4-11h0m-3.6 9.3h0m16.2-13.6h0m-16.3 4h0m1.5 6.5h0m-12.9-4.2h0m15.4 2.9h0m-11 0.2h0m7.2 5.2h0m-10.7-0.4h0m24.9-8.9h0m-28 4h0m0.8 5.7h0m11.3-4.1h0m-2.7-6.9h0m-6.3 5.8h0m11.2-3h0m14.2-4.9h0m-5.9 1.5h0m-18.8 7.8h0m22-7.7h0m-19.9-0.5h0m18.3 6h0m-7.7-1.1h0m-7.8 2.1h0m8.6-3.2h0m-8.2-4.2h0m-9 11.6h0m6.4-1h0m11.5-10.8h0m4.7-0.1h0m-28.1 10.5h0m8.7-2.5h0m-4.8-0.7h0m23.2 2.4h0m-11.2 4.4h0m-1.9-7.7h0m20.1-7.3h0m-6.2-4h0m-20 9.8h0m20 1.3h0m-27.7-3.9h0m20.6-2.6h0m-16.1 9.8h0m23.8-8.1h0m-8.8 1.1h0m-14.5 7.5h0" stroke="#acacee" stroke-width="0.8" stroke-linecap="square" fill="none" opacity="0.72"/>
<path d="M126 254.6h0m-9.1-4.4h0m-8.4 2.4h0m0.5-0.8h0m17.1 7.9h0m-29.4-2.8h0m27.3 5.6h0m3.7-12.4h0m-7.3 1.3h0m-0.4 12.3h0m-26.9 0h0m7.4-8.3h0m19.5-0.6h0m-23 2.7h0m0.6 6.8h0m3.1 6.5h0m-1.4-4.4h0m27.9-9.3h0m-9 7.3h0m-15.4-14.1h0m-8.8 22.7h0m8.1-14.8h0m20.4-10.3h0m-6.9 20.1h0m2.3-17.6h0m-18.3 19.4h0m-4-16h0m12.5 13.3h0m9.2-23.1h0m6 9.5h0m-37.9 1.9h0m14.1-1.1h0m5.2 15.7h0m19.1-13.8h0m1.5 1.3h0m-10.3 10h0m-4.3 0.1h0m11.7-5h0m-12 4.1h0m0.8-17.1h0m10.2 9.8h0m4 0.2h0m-20.6 5.4h0m-5.9-1.6h0m20.1-0.5h0m3.5-11.6h0m-4.2 11.8h0m-16.2-6.5h0m-0.9 10.2h0m6.5-24.3h0m-1.2 0.1h0m-4.9 0.9h0m26.7-1h0m-14.5 6h0m4.9-8.9h0m-12.8-1.4h0m4.7 9h0m17.2 6.9h0m-23.3-12.6h0m7.8-1h0m-12.2 8.1h0m7.5-1.6h0m-0.8-5h0m6.2-2.4h0m-6.4 4.6h0m-3.5-0.3h0m-3.9 4.1h0m9.8-4.8h0m5 0.6h0m7.6-3h0m-2.7-2.2h0m-22.9 7.4h0m19.2-5.9h0m3.9 8.2h0m4.6-0.4h0m-26.3-1.6h0m25.2-2.3h0m-0.7 5.5h0m-14.5-4.1h0m3.8-4.4h0m11.2 0.8h0m-17.3 3.9h0m16.1-1.4h0m-2.2-5.7h0m-1.3-0.8h0m-16 6.7h0m7.8-3.1h0m-6.1 5.3h0m19.1-0.3h0m-12.2-4.2h0m-7.2 8.3h0m-5.7-1.4h0m-2-1.1h0m0.4-3.4h0m16.2 4.1h0m-9.8 0.5h0m15.5-5.8h0m-0.4 2.5h0m4.9-4h0m-13.1 0.2h0m13.1-7.5h0m-26.7 24.8h0m8.5-6h0m15.4-2.7h0m-0.9-6.4h0m-20.7 8.9h0m27.7 13.9h0m-12.1 2.5h0m-16.9-9.6h0m-8.6 3h0m35 0.6h0m-19.3-10.1h0m-6-8.6h0m6.5 4.9h0m4 24.6h0m-1.6-6.8h0m-18.6-12h0m18.7 10.6h0m-11.4-6.5h0m-5.4 2h0m5.2 0.5h0m6.5 3.4h0m9-17.5h0m-4.4 18.1h0m-8.5 1.5h0m-7.8 0.1h0m29.5-7.7h0m-10.4 9.8h0m-11-0.1h0m-0.6-7.8h0m10 2.9h0m-11.5 1.6h0m28.1-17h0m-0.7 8.2h0m2.4-13.5h0m-15.1 23.2h0m-9.4-19.4h0m-13 17.7h0m15 1.9h0m-2.2-16.1h0m10 19.9h0m-32.5-8.7h0m6.9 3.9h0m4.3 3.1h0m-18.8-2.4h0m9.5-2.4h0m-3 2h0m19-6.8h0m-14.4 3.7h0m8.2 8h0m-10.8-0.6h0m-5.1 4.6h0m-12.8-1.6h0m18.5-13.7h0m14.8-6.9h0m-28.2 13.8h0m16.7-5.9h0m-3.5 12.6h0m3.4-10.6h0m-4.1 0.5h0m11.7-3.7h0m5.3 3.3h0m-24.6 9.8h0m18.7-9.5h0m-27.4 5.5h0m21.8 8.4h0m-4.7-9.4h0m0.7-3.2h0m9.6-3.9h0m-21.6 7.1h0m15-1h0m-3-5.6h0m5.7-7.9h0m-4.4 18.4h0m13.9-7.1h0m-28 5.6h0m-0.6 3.6h0m3 1.1h0m16.1-6.3h0m-26.7 0h0m17.3 0.5h0m9.2-5.5h0m-22.9 6.2h0m23.7-4.1h0m1.7-6.9h0m-18.3 16.1h0m6.7-2.9h0m19.5-7.8h0m-1.3-5.2h0m-20.4 4.8h0m6.2 6.7h0m14.9-4.2h0m-9.1-0.9h0m-0.8 5.8h0m-14.6-1.9h0m3.2-1.5h0m21.6 2.2h0m-27.5 1.5h0m24.8-5.6h0m-2.9 5.4h0m-18.7-0.7h0m22.5-10.3h0m-23.7 13.4h0m18.6-17h0m-0.6 9.4h0m5.3-6.9h0m-13 8h0m-8.8 1.8h0m-4.5 7.4h0m24.5-10.3h0m-24.5 6.3h0m-0.7-3.7h0m21.9 6.2h0m-6.6-6.6h0m-6.8 3.5h0m4.5 2h0m0.3-0.7h0m8.5-10.7h0m1.9-4.7h0m-26.6 18.8h0m4.3 0.5h0m-2.2-6.1h0m19.8-4.8h0m8.2 3.9h0m-32.2 6.9h0m25-15.1h0m0.5 2.5h0m-17 8.8h0m10.2-7.3h0m4.6 7.6h0m-21.4-2h0m29-6.4h0m-27 11.2h0m4.4 1.4h0m-6.5-4.6h0m17.1 1h0m-1.6-3.6h0m10.1 2.7h0m8.6-11.2h0m-28.3 8.8h0m10.4-2.5h0m-0.9-4.8h0m-13.5 12.1h0m-2-5.9h0m28.2-0.9h0m-13.3-2.6h0m9.5-7.8h0m-2.9 16.4h0m-14.6-2.5h0m29.5-5.2h0" stroke="#7a7ae6" stroke-width="0.8" stroke-linecap="square" fill="none" opacity="0.72"/>
<path d="M117.6 248h0m-18.4 15.3h0m19.4-1.8h0m8.1-15.6h0m-20.1 7.2h0m-3.7 11.4h0m-0.4-2.2h0m7.7-8.1h0m1.5-5.2h0m6 15.6h0m-5.8-0.4h0m5.2-2.3h0m-13.4 2.8h0m17.1-10.3h0m-7.6 10.5h0m0.2-0.6h0m10-14.8h0m-5.3 6h0m4 2.3h0m0.6-6.2h0m2.9 2.3h0m-19.7 9.6h0m4.1-10.7h0m4.8-2.8h0m8.1 1.2h0m-6.2 11.6h0m-10.4 1.1h0m14.8-9.4h0m-23.1 7.2h0m12.9-14.2h0m-11.2 13.4h0m23-5.7h0m-8.5 9.1h0m-10.5-10.6h0m4.1 0.8h0m13.5-7.9h0m2.2 8.1h0m-13.5-3.9h0m2.1-6.7h0m-2.8 20h0m11.3-5.9h0m-12.6 7.8h0m3.8-15.6h0m11.5 4.5h0m-23.1 12.1h0m21.7-11.2h0m-0.1-1.8h0m-2.4-7.7h0m-20.8 14h0m-3 2.5h0m11.7 1.5h0m-3.7-5.7h0m11.1 4.7h0m9.7-5.1h0m-12.8-6.5h0m11.3 1.4h0m-2.9 7.8h0m4-7.3h0m-11.7-5.7h0m9.6 9.6h0m-13.3 7.9h0m0.9-1.1h0m11.7-16.9h0m-1.4 5.1h0m-14.4 3h0m14.6-4.7h0m-13.4 7.5h0m11.1-8.5h0m3.6 12.9h0m-11.9-10.7h0m-8.2 6.4h0m22.8-4.2h0m-9.4-6.3h0m-8.3 4.5h0m-4.1 10.9h0m17.5-1h0m-10.3-12.8h0m6.9 13.4h0m3.3-0.4h0m-4.8-12.8h0m6.2 2.1h0m-0.7 10.1h0m-8 4.9h0m11.7-13.4h0m-13.5 9.9h0m13.6-19.7h0m-14.4 20.8h0m-8.3-4.5h0m2.8-6.5h0m16.5-2.4h0m1.8 9.3h0m-12.7-8.3h0m2.3 11.4h0m-11.7 0.7h0m4.9-8.3h0m14.8 1.8h0m-17.1-1.7h0m1.7 0.1h0m-6.2 4.3h0m9.4-7.7h0m-5.2 10.4h0m14.7-11.5h0m-15.1 12h0m15.3-10.1h0m-14.8 1.8h0m18.1-4h0m0 8.2h0m-10.9-7.9h0m11.9 6.5h0m-16.6-6.8h0m15 3.2h0m-17.9 2.6h0m-1.3 7.6h0m22-11.6h0m-0.9-6.7h0m-25 12.2h0m7.5-7.7h0m13.4 10.3h0m-12.4 4h0m1 0.3h0m3.1 0.3h0m-0.5-1.8h0m7.1-13.3h0m-9.4 5.6h0m-3.4 4.4h0m6.1 3.8h0m-5.8-6.5h0m18-6.7h0m-6.4 11.1h0m-0.3-13.9h0m7.1-1.7h0m-23.3-9.6h0m22.8 8.9h0m-20.6-0.6h0m16.8 0.2h0m-9.4 2.2h0m3 0.8h0m-6.6-3.8h0m18.5 2.1h0m-9.6 1.1h0m-6.2 1.4h0m5.9-6.6h0m-7.3 2h0m9.3 1.5h0m-7.4-2.7h0m10.5 6.4h0m-8.9-2.7h0m9.2-1.5h0m-5.7-4.9h0m-5.3 10.7h0m0.7-3.4h0m4.6-0.7h0m0.8 2.3h0m5.1-5h0m-1.1-2.9h0m-17.9 9.8h0m10-3.6h0m8.1-2.6h0m2.7-2.4h0m-6.1 0.6h0m-7.7-2.1h0m9.5 9.4h0m-14.5-0.8h0m14-7.8h0m-0.8 4.7h0m1.4-3.5h0m-2.7-1h0m5.3 3.1h0m-21.6 9h0m27.1-5.1h0m-4.8-7.1h0m0.7 3.8h0m-10.6 1h0m-1-6.7h0m9.4 11.1h0m5-8.3h0m-13.3-3.1h0m-5.5 4.7h0m2.7 2.1h0m2-4.7h0m10.4 4.3h0m-8.4 4h0m-3.1-2.4h0m-0.2-1.9h0m3.5 3.5h0m1.1-8.4h0m7.6 1.7h0m-9.5 9.9h0m-0.4-5.1h0m4.6-3.1h0m4.3 2.6h0m-7.1 1.8h0m-6.5 0h0m11.8-3.1h0m-0.4-3.4h0m2.6 0.8h0m-8.9 2.5h0m-1.3 2.5h0m-1.1-4.8h0m12.9-0.7h0m-1.7 3.8h0m-7.6-2h0m12.9-3.9h0m-17.7 3h0m10.6-0.5h0m0.5 3.6h0m-3.6-3.4h0m5 2.1h0m-8.9 3.7h0m9.6-10.6h0m-2.4 5.4h0m4.8 1.1h0m-15.1 1.6h0m9.7 1.7h0m-3.2-5.8h0m-6.5 9.3h0m5.6-7.6h0m8.4-3.7h0m-7.3 10.7h0m1.1-8.2h0m-9.6-0.5h0m3.5 2.3h0m7.5-0.2h0m-6.1 2.4h0m1.3-5.8h0m10.5 1.4h0m-30.1 29h0m4.7-12.3h0m16.8-12.8h0m-19.2 17.1h0m9-0.8h0m0.9-8.3h0m-3.9-0.3h0m8-1.8h0m-5.6 4.6h0m3.8-5.1h0m13.5 0.4h0m-1-1h0m-2.2-9.7h0m-4.1 19.1h0m-2.2 4h0m11.6-10.2h0m-10.4-10.8h0m0.3 21.3h0m-7-21.3h0m-0.1 8.5h0m20.2-8.8h0m-31.4 21.5h0m24.1-2.1h0m-27.7 3.6h0m4.7-19.2h0m28.2 3.9h0m-10.9 11.8h0m-14.5 0.5h0m17-13.6h0m-10.8 0.1h0m-9.5 16.9h0m12.8-17.1h0m-6.5 5.7h0m1.3-0.1h0m0.5 1.4h0m22.6-4.6h0m-22.4 12.7h0m2.6-15.3h0m-7.2 14.2h0m11.1-16.3h0m-9.7 10h0m21.4 1.3h0m-21.1-9.1h0m20.9 0.9h0m-10.9 12.9h0m9.6-21.1h0m-7.3 4.6h0m2.5 2h0m-3.8 13.9h0m-4.6-10.3h0m-2.7 12h0m0.2-0.4h0m18.5-17h0m-19.5 0.8h0m8.1 4.4h0m-14.3 9.9h0m0.3-3.6h0m1 7.4h0m14.9-16.1h0m-14.2 8.7h0m5.4-4.2h0m11.9-5.5h0m-14.8 10.5h0m19.7-13.3h0m-6.6 6.8h0m-7.4-4.6h0m13-3.2h0m-18.7 10.3h0m9.3 13.4h0m-19.6-2.5h0m9.9-10.3h0m1 5.7h0m-3.9 3.2h0m1.6-12.2h0m14.5-3.3h0m8.4 7.1h0m-43.6 19.1h0m-2.8-5.6h0m19.5-7.4h0m-34.6 7.6h0m31.4-4.2h0m-14.5 5.8h0m12.8 3.1h0m-7.6-0.6h0m-12.9-7.5h0m-10.5 7.6h0m9.9 0.7h0m-10.8-3.8h0m23.1-2.7h0m10.8 4.5h0m-0.9-8.4h0m-32.2 7.8h0m39.9-8h0m-32.9 10.2h0m15.6-8.4h0m6-1.8h0m-21.6 9.9h0m31.5-6.4h0m-17.4-4.5h0m15.2 5.4h0m-25.4 2.7h0m26.1-9.3h0m-24.2 5.4h0m8.5-7.8h0m2.6 15.2h0m-0.7-4.9h0m0.7-10.8h0m-7 9.9h0m7.3-6.7h0m-15.5 7.3h0m5.3-0.1h0m-7.9 3.3h0" stroke="#3c4cd6" stroke-width="0.8" stroke-linecap="square" fill="none" opacity="0.72"/>
<path d="M120 260.2h0m0.6-4.5h0m-16.6 4.2h0m5 4.1h0m12.1-8.1h0m-12-1.7h0m10.2 5.2h0m-15.4 1h0m4.4 4.6h0m3.6-0.9h0m12.9-6.1h0m-6-3.6h0m-10 9.2h0m-6.8-4.6h0m4.1 4.5h0m0.5-1.5h0m1 0.5h0m-1.6-1.9h0m2.4-5.1h0m13.9 1.5h0m-3.6 4.3h0m3.3-6.2h0m-11.5-1.1h0m-4 5.1h0m3.2 4.1h0m-1.9-8.4h0m10.1 5.9h0m5.4-8.7h0m-14.6 11h0m-2.1-0.6h0m-3.5-5h0m11.7-4h0m3.8-1.2h0m-0.3 1.7h0m-1.5 0.5h0m-11.9 4h0m12.3-3.6h0m0.6 5.4h0m-9.8-6.7h0m9.3-1h0m-13.6 11.3h0m15.8-8.9h0m-4.2 7.7h0m1.5-7.7h0m-5.7 7.4h0m-2.3-7.4h0m4.5 7.8h0m7.3-6.9h0m-0.2 3.2h0m-1.8-7.4h0m-14.8 7.1h0m17.2-7.2h0m-6.9 11.8h0m-0.1-9.8h0m-7.7 10.6h0m4.1-0.9h0m10.2-10.8h0m-3.8 9.9h0m-1.5-10.9h0m-2-0.8h0m3.7 3.5h0m-0.2-2.6h0m-10.6 9.2h0m13-5.4h0m-8.2-1.3h0m8.5-1.4h0m-11.3 3.7h0m8.9-5.7h0m-1.9-0.2h0m-10.7 11h0m7.3-11.7h0m8.7 6.1h0m-9.8 7.2h0m4.9-0.1h0m-10.6-0.9h0m-1-1.4h0m9.4 1.6h0m-10.9-2.8h0m3 3.3h0m8.3-0.8h0m-1.3-8.4h0m-1.1 8.7h0m-8.6 0h0m6.5 2.2h0m3.7-2.3h0m1.7-12.6h0m-7.3 15h0m7.2-11.1h0m1.4 9.3h0m-14.3-4.5h0m3.6-2.7h0m10-4.1h0m1.5 2.1h0m-2.6 0.9h0m-4.6 8.7h0m13.5-9.1h0m-17.5 4.2h0m6.2-9.2h0m3-4.2h0m-12.1 1.1h0m6.9-2.2h0m3.2 1.3h0m0.6 0h0m1.8-3.3h0m0.6 4.8h0m5.5-2.5h0m-7.6 2.7h0m2.1 2.5h0m2.5 4.3h0m-5.8-8.5h0m5 3.9h0m-1.7-4.1h0m-0.2 0.3h0m6.6 4h0m-10-1.6h0m1.9-4.2h0m-4.7 1.4h0m4.4 5.6h0m-3.5-6.8h0m5.1-0.6h0m-4 3.6h0m2.8 0.5h0m-1.8 2h0m-5.3-1.2h0m4.3-1.3h0m0.3 4.4h0m2.7-3.7h0m1.3-0.1h0m-2.7-2.5h0m-2.2 0.2h0m3.2 2h0m-1.6 2.5h0m-2.6-6.3h0m5.3 7.1h0m3.7 4.2h0m-1.8-1.8h0m-8.2 0.8h0m-1.9 11.3h0m-3.9-5.6h0m15-3.2h0m-12.6 7.9h0m-2.6-5.7h0m1 5.7h0m9-1.3h0m-9.9-4.3h0m1.4-1h0m13.5-2.7h0m-4.1-5.3h0m-10.2 7.7h0m9-2.1h0m-10 8.4h0m6.4-1.2h0m-3.1-5.1h0m7-10.5h0m2.2 6.6h0m3.1 8.2h0m-16.3 0.5h0m14.4-0.6h0m-0.4-8.7h0m-9.9 10h0m5-9.6h0m-8 7.4h0m2.7 1.8h0m3.2 2.6h0m12.4-5.2h0m-18.7-10.3h0m16 1.6h0m2.9 4.4h0m-15.7-0.9h0" stroke="#3466d6" stroke-width="0.8" stroke-linecap="square" fill="none" opacity="0.72"/>
<path d="M105.9 257.6h0m2.8-5.9h0m8.4 6.3h0m-4.8 6h0m-6.9-3.8h0m11 0.2h0m-5.9-5.4h0m9.8 3.4h0m-13.5 2.9h0m8.8-6.3h0m-0.1-2.4h0m1.2 5.9h0m-14.4 0.2h0m14.6-0.5h0m-4.6 6h0m-4.9-7.3h0m-2 5.5h0m-0.8-3.4h0m11.4 2h0m-3.8-8.7h0m7.3 1.1h0m-16.1 6.2h0m6.7-3.6h0m5.2 4.8h0m-4.4 0h0m3.7-7.4h0m-4.5 0.5h0m8.1 1.1h0m-11.4 1.4h0m7.3-2.7h0m-9.4 9h0m0.6-0.2h0m2.1-2h0m0.2-4.4h0m-1.2 3.7h0m12.4-3.9h0m-1.1 4.6h0m-10-3.6h0m10.3-2.2h0m-16.5 5.1h0m18 1.3h0m-7.7 0.5h0m-6.2-1.2h0m10.9-1.5h0m-5.4-4.5h0m10.2-0.8h0m-2.8 4.8h0m-2.9-3.3h0m-1.6 6.1h0m-6.2 0.4h0m0.4-5.6h0m-0.5 6.8h0m12.1-5.9h0m-11.5 1.6h0m3.3 2h0m0.2-6.3h0m-5.9 2h0m9 3.3h0m0-4.9h0m-0.2-11.2h0m0.4 2.2h0m0.7 7.1h0m0.5-6.3h0m-4.2-0.6h0m2.6-2.1h0m0.2 10.1h0m-3-8.7h0m-4.7 2.5h0m4.4 13.9h0m3.6-8.5h0m-6.5 1.1h0m0.4 7.9h0m11.7-7.1h0m-7.4-2.9h0m-3.5 4.4h0m2.7 3.9h0m6.7 0h0m-1.4-0.2h0m-7.9-6.7h0m11.5 4.1h0m-2.8 1.1h0m-1.9-4h0m-8.3 1.5h0m4.9 0.9h0m-10.8 2h0m3.4-1.6h0" stroke="#3494d0" stroke-width="0.8" stroke-linecap="square" fill="none" opacity="0.72"/>
<path d="M114.7 257.5h0m-0.4-3.3h0m2.2 5.9h0m-10.3-0.9h0m6.6-4.4h0m0.7 0.3h0m-1.7 5.5h0m-0.5-2.7h0m7.2-1.8h0m-8.9 1.6h0m5.6 2.9h0m-2-4.2h0m-6.4 1.7h0m1.4-0.9h0m10.9-0.7h0m0.2 0.2h0m1.2 1.9h0m-1.5-2.6h0m-6.4 5.1h0m5.5-3.6h0m-7.7-3h0m-0.8 2.7h0m0.6 4.1h0m5.7-2.2h0m-10.6 0.3h0m3 0.6h0m-1.3 0.8h0m6.4-0.2h0m-7.5-4h0m6.3-0.7h0m0.2 3.3h0m-0.3 0.3h0m-4.1 2h0m2-3.3h0m0.3-2h0m-0.3 7.9h0m0.7-8h0m3.1 1.8h0m0.3-1.1h0m-4 4.7h0m-2.3 1.6h0m-2.9-1.6h0m10.3-3.9h0m-6.8 3h0m2.2-5.2h0m0.2-1.5h0m3.1 3.2h0m-0.5-2.7h0m-0.7 1.3h0m4.4 2.6h0m-1.6-2.4h0m-7.8 6h0m1.7-3.3h0m5.6-0.3h0m-4-1.1h0m2.3-2.9h0m-2.9 3.4h0m8.5-1.2h0m-8.2 4.6h0m6.3-1.9h0m-3.4 1.4h0m-7.4-0.9h0m1.5 2.6h0m0.4-5.9h0m-0.8 6.7h0m-1.4-1.8h0m7.2-3.4h0m0 1.3h0m3.9 1.4h0m-11.2-2.2h0m6.7-1.7h0" stroke="#3cacb0" stroke-width="0.8" stroke-linecap="square" fill="none" opacity="0.72"/>
<path d="M114.7 258.4h0m-1.5-1.3h0m3.3 1.8h0m-7.9 0.1h0m5.8-0.2h0m-3.5 3.5h0m0.9-6.3h0m1 4h0m2.6-3.7h0m-4 2.8h0m-3.4-1.2h0m8.4 1.2h0m-4.8 0.6h0m4.3-0.5h0m-4.1-2.6h0m-5 2.8h0m0 2.1h0m5.6 0.6h0m-2.3 0.1h0m-3.4-4h0m8.9-0.2h0m-7.5 3.5h0m6.5-4.7h0m-3.2 4.7h0m-1.9-2.5h0m1.1-0.3h0m2-3.2h0m-2.2 2.5h0m2.1 2.1h0m1.3-2.8h0m-3.5-1.2h0m2.1 0.7h0" stroke="#6cc250" stroke-width="0.8" stroke-linecap="square" fill="none" opacity="0.72"/>
<path d="M109.2 260h0m5.1-1.7h0m0.8 0.8h0m0-3.2h0m-4.2 2.5h0m5.3-2.4h0m-4.1 2.2h0m-0.2 0.4h0m-1.9-2.6h0m5.1 0.4h0m-3.2 1.9h0m0.6 1.3h0m1.4-1.9h0m-3.2 1.5h0m-2.9 0.1h0m0-0.4h0m4.2 0.3h0m0.6-2.6h0m-2.5 1.9h0m-0.5-0.8h0m-1.9 2.1h0m6.2-4.1h0m-3.5 2.2h0m0.9 1h0m-2.4-1.3h0m0-0.3h0m2.8 0.6h0m1.6-0.6h0m0.5 0.9h0m-5.8 0.7h0m5 0h0m-2.9 1.7h0m4.1-2.5h0m-4.5 0.6h0m5.9-0.9h0m-3.9-0.8h0m-1 1.4h0m3 1.8h0m1.5-4.5h0m-6.2 4h0m3.2-4.4h0m-0.8 3.3h0" stroke="#c8d83c" stroke-width="0.8" stroke-linecap="square" fill="none" opacity="0.72"/>
</g>
<path d="M58.3 250.5H129.3M92.2 212.1V279.3" stroke="#555" stroke-width="0.9" fill="none"/>
<path d="M58.3 212.1V279.3H129.3" stroke="#666" stroke-width="0.8" fill="none"/>
<path d="M56.3 219.7h2M56.3 233.9h2M56.3 250h2M56.3 265.9h2M56.3 272.2h2M57.3 214.1h1M57.3 216.9h1M57.3 219.7h1M57.3 222.5h1M57.3 225.3h1M57.3 228.1h1M57.3 230.8h1M57.3 233.6h1M57.3 236.4h1M57.3 239.2h1M57.3 242h1M57.3 244.8h1M57.3 247.6h1M57.3 250.4h1M57.3 253.2h1M57.3 256h1M57.3 258.8h1M57.3 261.6h1M57.3 264.3h1M57.3 267.1h1M57.3 269.9h1M57.3 272.7h1M57.3 275.5h1M57.3 278.3h1M58.3 279.3v2M88.8 279.3v2M117 279.3v2M59.3 279.3v1M62.1 279.3v1M64.8 279.3v1M67.6 279.3v1M70.3 279.3v1M73.1 279.3v1M75.9 279.3v1M78.6 279.3v1M81.4 279.3v1M84.1 279.3v1M86.9 279.3v1M89.7 279.3v1M92.4 279.3v1M95.2 279.3v1M97.9 279.3v1M100.7 279.3v1M103.5 279.3v1M106.2 279.3v1M109 279.3v1M111.7 279.3v1M114.5 279.3v1M117.3 279.3v1M120 279.3v1M122.8 279.3v1M125.5 279.3v1M128.3 279.3v1" stroke="#555" stroke-width="0.55" fill="none"/>
<path d="M58.7 270.3v6" stroke="#222" stroke-width="1" fill="none"/>
<text x="52.8" y="222" font-size="6.4" text-anchor="end" fill="#2a2a2a" stroke="#2a2a2a" stroke-width="0.132">10<tspan dy="-3.1" font-size="4.9">5</tspan></text>
<text x="52.8" y="236.2" font-size="6.4" text-anchor="end" fill="#2a2a2a" stroke="#2a2a2a" stroke-width="0.132">10<tspan dy="-3.1" font-size="4.9">4</tspan></text>
<text x="52.8" y="252.3" font-size="6.4" text-anchor="end" fill="#2a2a2a" stroke="#2a2a2a" stroke-width="0.132">10<tspan dy="-3.1" font-size="4.9">3</tspan></text>
<text x="52.8" y="268.2" font-size="6.4" text-anchor="end" fill="#2a2a2a" stroke="#2a2a2a" stroke-width="0.132">10<tspan dy="-3.1" font-size="4.9">2</tspan></text>
<text x="51.3" y="274.5" font-size="6.4" text-anchor="end" font-weight="normal" fill="#333" stroke="#333" stroke-width="0.22" >0</text>
<text x="58.1" y="290.6" font-size="6.4" text-anchor="middle" fill="#2a2a2a" stroke="#2a2a2a" stroke-width="0.132">10<tspan dy="-3.1" font-size="4.9">2</tspan></text>
<text x="88.8" y="290.6" font-size="6.4" text-anchor="middle" fill="#2a2a2a" stroke="#2a2a2a" stroke-width="0.132">10<tspan dy="-3.1" font-size="4.9">3</tspan></text>
<text x="117" y="290.6" font-size="6.4" text-anchor="middle" fill="#2a2a2a" stroke="#2a2a2a" stroke-width="0.132">10<tspan dy="-3.1" font-size="4.9">4</tspan></text>
<text x="127.1" y="221.7" font-size="9.4" text-anchor="end" font-weight="bold" fill="#111" >15.2</text>
<text x="60.9" y="277" font-size="9.1" text-anchor="start" font-weight="bold" fill="#111" >Edu+ gated</text>
<text x="185" y="193" font-size="9.9" text-anchor="middle" font-weight="normal" fill="#222" stroke="#222" stroke-width="0.22" >control+</text>
<text x="185" y="204.3" font-size="9.9" text-anchor="middle" font-weight="normal" fill="#222" stroke="#222" stroke-width="0.22" >anti-IL-19-CM</text>
<rect x="150.1" y="212.1" width="69.8" height="67.2" fill="#fff" stroke="#999" stroke-width="0.8"/>
<clipPath id="cg1"><rect x="150.5" y="212.5" width="69" height="66.4"/></clipPath><g clip-path="url(#cg1)">
<ellipse cx="205" cy="256.2" rx="13.8" ry="6.8" fill="#5a6ade" opacity="0.22" transform="rotate(-17.2 205 256.2)" filter="url(#bl2)"/>
<ellipse cx="205.5" cy="244.5" rx="12.9" ry="5.8" fill="#5a6ade" opacity="0.22" transform="rotate(-5.7 205.5 244.5)" filter="url(#bl2)"/>
<path d="M212.7 262.9h0m-24.7-9.6h0m25.3-3.6h0m-37.4 18.3h0m41.1-6.2h0m-13.4 3.8h0m-9.3-1h0m12.9-0.3h0m-21.9-11.7h0m10.5 11.2h0m-0.9-8.8h0m19.8 4.6h0m-26.7 3.3h0m3.6-0.8h0m25.8-14h0m-32.4 17.8h0m32.3-20.2h0m-37.2 16.5h0m35.9-3.6h0m-22.4 4.5h0m25.4-3.7h0m-28.4 7.9h0m24.3-8.3h0m-24.5 7.2h0m10.9 4.7h0m6.9-8h0m-12 4.6h0m17.5-8.1h0m-22.7 4.4h0m3.1-9.7h0m24.7-8.8h0m-23.8 6h0m23.5-1h0m-28.3 11.8h0m23.1 0.1h0m-11.2-28.2h0m-5.8 7.8h0m-3.9 8.5h0m26.8-9.5h0m-6.7 0.2h0m5.6-1.6h0m-29.7 7.6h0m4.1-5.2h0m9.2 1.4h0m-14.1 1.9h0m0.4-4.2h0m5.7 4.9h0m15.8-7.9h0m-10.8 3.1h0m6.6-2.4h0m-18.8 2.5h0m6.3 5.8h0m11.5-8.4h0m-6.5 6.2h0m8.7-6h0m-0.2-0.9h0m1.5 0.4h0m10.7 3.3h0m-11.5-1.2h0m2.7-1.8h0m-19.3 3.2h0m8.9 0.9h0m16.9 2h0m-18.2-4.4h0m-1.7 3.6h0m0.9-1.1h0m-2.5-1.7h0m0.9 2.4h0m-9.8-0.5h0m13.6-4.5h0m0.1 2.5h0m3-1.5h0m12.3 5h0m-20.5-3.9h0m-2.2 2h0m-2.2-0.6h0m25.2-2h0m-25.4 13.6h0m16.9 14.6h0m-18.4-4.1h0m6 0.8h0m-8.5 0.5h0m0.7-3.4h0m5.6 8.4h0m-1.4 1h0m-4.7-11.1h0m17.9 3.9h0m-7.5-11.7h0m-11.3 11.1h0m31.9-8.6h0m-35.1 10.9h0m22.4 4.1h0m-1.5-28.7h0m-1 28.4h0m-11.5-22.3h0m17.8 14.8h0m-19.9-5.2h0m17.3-16.6h0m-9.7 29.8h0m-28.3-1.2h0m33-1h0m-5.6-21.8h0m-11.9 23h0m26.6-33.7h0m-2.1 28h0m-7.6 7.9h0m-4.1 1.9h0m8.8-1.6h0m-18-15.2h0m-23.4 4h0m34.1-14.5h0m14.5-11.2h0m-29.5 37.5h0m7.2-7h0m4.1 5.3h0m-4.6-14.5h0m1.7-6.1h0m-5.2 8.4h0m3.3 9h0m6.9-4.3h0m-4.5 13.2h0m-0.8-27.9h0m11.7 16.6h0m-10.9 5.4h0m-5.6-5.1h0m30.3-3.8h0m-23 10.5h0m18.6 3.9h0m-24.4-20.2h0m1.3-6.8h0m2.7 7.2h0m13.7 11.7h0m-18.3-4.6h0m-6.8 4h0m-18.2 4.6h0m12.2-6.7h0m36.8 1.1h0m-6.9-0.1h0m6.3 1.5h0m-26.6-15.3h0m10.1 14.4h0m-13.6 2.2h0m6.8 4.4h0m0.9 4.1h0m25.4-14h0m0.8-5.7h0m-11.6 8.8h0m-27.8-6.4h0m44.8-5.3h0m-26.7-6.1h0m26.8 15.5h0m-23.3-11.6h0m-14.4 12.4h0m-5.6-1.8h0m1-5.2h0m-12.7 20.5h0m-5.9-6h0m0.6-0.2h0m11.4-12.9h0m-14 4h0m-3 11.4h0m35.3-10.7h0m-8 1.5h0m-3.3-5h0m-12.9 13.5h0m-3.6-3.4h0m12.9-4.1h0m-13.8 0.2h0m17.1 5.8h0m-17.2-3.9h0m19.1 0.8h0m-17.6-13.2h0m17.7 4.8h0m-12.7-1h0m-0.3-5.4h0m20.1 8.7h0m-18.8-12.2h0m-1.1 20.2h0m-1.7-4.8h0m20-5.5h0m-29.7 9.4h0m4 3h0m-2.9 3.6h0m26.9-21h0m0.2-1.1h0m-9 16.6h0m2.5-16.6h0m-15.4 19.2h0m10.2-8.6h0m-3.1-3.7h0m-9.3 7.9h0m-4.9 0h0m17.8-10.8h0m12.3 0.3h0m2.8 3.6h0m-22.8 5.5h0m-4.2 3.8h0m15.3-9h0m7.9-6.5h0m-19.9 15.1h0m20.4-12.8h0m-3.9 5.6h0m-21.7 8.2h0m7-1h0m11.1-5.8h0m6.1-10h0m-4.3-5.6h0m-5.9 19h0m13.6-8.8h0m-5.8 1.9h0m-18.2 12.5h0m2.9-4.2h0m-7.1 1.1h0m23.6-0.6h0m-8.3-2.7h0m0.1-0.3h0m-2.1-8.8h0m2.9 2.2h0m-2.9 9.5h0m-6.8-6.6h0m17.3-7.9h0m-15.6 7.3h0m2.9-0.7h0m-15.8 6.2h0m9.8 1.2h0m0.8-7.7h0m5.1-2.2h0m-12.6 6.1h0m12.4-1.4h0m-10.2 10.5h0m19.9-12.1h0m0.7-10.2h0m-22.5 19.8h0m8.5-7.1h0m13.8-8.1h0m-23.6 10.4h0m2.5-8h0m8.5 5.3h0m22.8-0.1h0m-14.8-2.2h0m-7.7-0.3h0m15.6-0.4h0m-29.1 7.9h0m15.8 2.9h0m-11.2 1.2h0m21.9-19.5h0m-26 17.4h0m13.1-9.1h0m0.8-4.3h0m-12.7 10.3h0m15.7-5.2h0m12.1-5.7h0m-8.2 6.8h0m2.6-2.7h0m-24.7 8.1h0m23.8-3.9h0m-15.6 2.1h0m-8.5 2h0m12.7-3.5h0m7-8.7h0m12.6 2.6h0m-22.4 8.2h0m13.8-1.3h0m-23.4 2.3h0m12.7-2.3h0m8.2-6.4h0m13.5-1.7h0m-16.9 5.2h0m5.4-0.8h0m3-0.9h0m-17.2 8.7h0m4.6-8.8h0m-7.8 4.2h0m13.5-1.8h0m-8.8-4.9h0m4.8 7.9h0m-6.8-0.9h0m-0.6-2.6h0m-1.3 8.3h0m-4.2-3h0m6.9 3h0m-6.5 0.3h0m2.2-5.4h0m10.6 1h0m20.9-5h0m-25.9-3.5h0m-2.9 14.9h0m-1.3-9h0m21.1 0.4h0m2.3-16.5h0m-7.4 11.5h0" stroke="#acacee" stroke-width="0.8" stroke-linecap="square" fill="none" opacity="0.72"/>
<path d="M212.9 260.1h0m2.8-4.1h0m-23.9 0.4h0m4.2-5.2h0m2.7 14.2h0m18-6.2h0m-21.6-7h0m-0.8-2.9h0m19.8 9h0m-14.7-5.8h0m11.9 6.8h0m2.6-12.5h0m-2.3-4.3h0m-9.9 21.4h0m13.3-9.5h0m-1.5-5.3h0m-5.8 14.5h0m-16.3-1.1h0m-2.2-2.3h0m10.6-8h0m-9.2 4.1h0m-0.5 8.3h0m20.6-2.2h0m-22.2-2.9h0m7.9 4.4h0m17.6-12.3h0m-11.1 13.4h0m-10.8-10.4h0m9.6 9h0m-6.2 4.2h0m-2.5-5.8h0m-2.5-3.4h0m2.3-1.3h0m18.1 2.5h0m-14.7 5.8h0m21.8-18.4h0m1 7.5h0m-24.3 9.1h0m7.3 1.6h0m-7.9-4.9h0m19.4-8.6h0m-16.1-2.1h0m-2.2 14.7h0m5.5-0.9h0m12.2-15.9h0m-6 15.3h0m4.3-4.8h0m0.6 3.7h0m4.4-5.9h0m2.1 1h0m-8.2 6.8h0m-11.7 0.4h0m3.8-21.7h0m10.6 2.7h0m-9.3-2.9h0m6.9-3.4h0m-16.6 5.5h0m7.7-0.8h0m17.4 0h0m-15.5-2.2h0m-5.4 0.2h0m-7 5.9h0m10-4.3h0m2.9-1.8h0m5.7 1.4h0m-12 1.5h0m3.5 0.5h0m-2.6 3.9h0m14.9-7.1h0m-1.9-0.9h0m-1.9 8.2h0m8.3-6.8h0m-14.8 1.5h0m-11.9 0.4h0m17.5 1.4h0m0.7-1.8h0m8.3-2.2h0m-11.8-0.2h0m-5.5 8.2h0m9.9-9.1h0m-0.1 7.3h0m5.4 1.6h0m1.3-7.1h0m-33.5 5.2h0m30.5-7.2h0m-19.9-1.4h0m-4.5 7.9h0m4.7-4.5h0m10.8 1.1h0m14.1-0.7h0m-8.2-1.1h0m-7.6 1.4h0m10.9 5.3h0m-6.4-6.6h0m-6 0.1h0m-10.9 3.1h0m21.8-1.5h0m-3.3-5.6h0m1.2 5h0m-18.2 0.3h0m6.4 22.1h0m15.6-15.7h0m-22 15.4h0m3-11.5h0m22 4h0m0.4-5.9h0m-20.8 12.6h0m-0.5 2.6h0m-3.3-20.7h0m-6.6 23.3h0m-0.9-13.6h0m-2.4 1.9h0m26.8 2.9h0m-15.1 7.8h0m-12.1-10.8h0m8.3 6.5h0m8.4-28.4h0m-14.1 14.4h0m-15.2 7.2h0m27.7-10.5h0m11 4.9h0m3.7 6.6h0m-38.2 14.6h0m11.8-13.3h0m1 1.8h0m29.3-4.6h0m-33.8 8.8h0m32.2-4.3h0m-18.8-15.5h0m1.5 17.5h0m-2.5-10.4h0m0.8-2.3h0m0 19.8h0m-1.6-21.2h0m-9.3 11.7h0m29.1-13.1h0m-37.7 17h0m15.5-11.8h0m22.9 13.1h0m-15.8-2.1h0m16.5-3.7h0m-57-1.5h0m1.8 10.9h0m12.6-4.5h0m-0.6-0.5h0m0.8 0.4h0m-21.6 4.4h0m5.6 2.6h0m9.7 0.5h0m-5-1.5h0m21.4-15.3h0m-11.6 13.9h0m12.6-3.6h0m-20.5-0.6h0m-10.6 9.5h0m15.1-19.3h0m8.7-7h0m-11.3 28.6h0m7.3-5.5h0m-15.3 5.3h0m1.4-7.5h0m22-8.5h0m0.3-3.1h0m-14 8.5h0m-13 10.4h0m31.3-12.9h0m-29.1 12h0m23.4-16.3h0m-20 7.9h0m9.6 0.4h0m1.3 5.5h0m-2.5-4.2h0m-4.9 7.1h0m3.1-4.8h0m18.1-12.1h0m-4.6 6h0m2-0.4h0m-15.2-2.2h0m13.1 0.2h0m-24.4 10.3h0m24.5-8.7h0m-8.2 1.8h0m-19.3 0.9h0m3.2-1.2h0m22.3 3.1h0m-21.8-0.1h0m20.1-7.3h0m-12.1 8.5h0m13.9 1.4h0m-23.5-9.5h0m14.1 4.8h0m-12.5 4.9h0m23.1-5.5h0m0.4-10.1h0m-23.6 14.3h0m14.6-1.8h0m-18.5-3.3h0m-1.4 0.5h0m22.6-1.3h0m-9.2 1.2h0m14-1.3h0m-20.6 12.3h0m3.9-4.3h0m22.1-8.9h0m0.5-9.7h0m-2.5 5.5h0m-3-1.3h0m-10.6 0.1h0m11.8 0.4h0m-17.9 11.8h0m5.3-3.1h0m8.9-10.7h0m-11.2 10.1h0m-3.8-0.8h0m10.1 8h0m15.8-12.5h0m-0.8 4.6h0m-26.1 10.1h0m26.1-12.8h0m-19 5.2h0m-2.3 2.1h0m0.1 2.3h0m0.2-8.3h0m-2.4 7.5h0m-8.7-5.8h0m0 9.1h0m23.9-13.6h0m-13 4.5h0m-12.9 2.2h0m4 8.9h0m16.6-20.5h0m-1.6 3.3h0m-19 13.4h0m19.7-8.2h0m-0.5 0.4h0m-12 1.7h0m14.6-8.3h0m-5.2 13.4h0m-10.1 2.5h0m28.2-6.7h0m-24.2 2.6h0" stroke="#7a7ae6" stroke-width="0.8" stroke-linecap="square" fill="none" opacity="0.72"/>
<path d="M214.9 256.8h0m0.1-1.1h0m-13.3-3.4h0m-2.4 11.3h0m-3.8-11.2h0m19.8-7.1h0m-8 15.4h0m-13-0.7h0m21.8-16.3h0m3 9.3h0m-22.9 1.2h0m19.7-4.7h0m-3.7 10.7h0m5.3-8.5h0m0 1.9h0m-18.6 8.7h0m10.7-15.2h0m-11.5 4.8h0m3-1.4h0m0.6-1.8h0m3.1 12h0m-11.6-1.8h0m16.2-7.2h0m-6.7 10.2h0m7.9-1.1h0m6.2-5.4h0m-20.8 3.3h0m16.8-9.9h0m-2 0.5h0m-10.4 0h0m-5.2 8.2h0m7.1-9.4h0m15.1 1.5h0m-5.8 0.8h0m-8.8-0.9h0m-5 4.6h0m-0.5-0.2h0m18.8-4.7h0m-7.5-0.4h0m5.2 4.9h0m-17.3 1.7h0m0.2 2.3h0m0.1 4.5h0m-0.5-1.1h0m15.3 0.5h0m4.8-11.4h0m-20.1 14.3h0m16.7-15.8h0m-23 0.3h0m8.2 12.1h0m6.7-14h0m1.7 14.3h0m7.8-9.9h0m-16.2 11.6h0m-4.7-2.5h0m5.8-6.4h0m1.7 8.1h0m13.6-12.4h0m-15.9 2.3h0m3.2-1h0m5.7 10.9h0m8.8-7.8h0m2.2-1.7h0m-3.9 8.1h0m-14.2-11.2h0m-7.9 13.2h0m19.3-9.6h0m-18.4 8.4h0m4.3-12.7h0m4.9 14.9h0m10.8-9.7h0m-20 3h0m16.9-7.7h0m-13.2 17.9h0m-7-15.9h0m9.1 1.5h0m-2.5 5.5h0m-4.8 1.8h0m1.5-1h0m8.2 5.9h0m-1.5-18.3h0m-8.8 14.7h0m8.5-8.6h0m6.2 12.7h0m7.5-13.4h0m-3.9-0.3h0m2.3-5.4h0m-20.3 7.2h0m-0.2 6.9h0m27.2-11.2h0m-1.6 0.7h0m0.7-0.1h0m-22.2 12.4h0m11.2-0.2h0m-11.3 0.6h0m21.3-13.5h0m-29.3 9h0m17.6-8.6h0m-2.3 0.1h0m9.9 0.5h0m-2.5 0.8h0m0.2 9.8h0m-3.4 1h0m4.9-0.5h0m-17.5-4.9h0m23.4-12.9h0m-20.7 10.4h0m15.2 2h0m-15.7-2.2h0m12.9-4.2h0m3.8 2.6h0m-21.1 7.2h0m26.6-8.9h0m-17.9 11h0m-6.9-6.2h0m0.7 3h0m3.5-2.9h0m18.8 2.2h0m-4.1-0.8h0m0.3-7.6h0m-6.8 1.3h0m-9.6 3.3h0m18.8 2.1h0m-16.8-3.1h0m12.1-2.7h0m5.2 4.2h0m-3.2-7.1h0m-11.9 4.5h0m14.1-1.9h0m-21.9 5h0m-0.5 3.5h0m15.3 4.2h0m0.1 1.2h0m11-8.7h0m-6.3-4.4h0m-5 15.3h0m-0.5-17.1h0m9.9-2.7h0m-14.1 1.6h0m0 0.9h0m-4.3-6.5h0m3.8 6.8h0m-1.2-5.6h0m3.2-4.7h0m-12.6 6.6h0m15.2-4.6h0m8.4 4.6h0m-19.2 2.5h0m12.1-6.6h0m-4 2.4h0m6.3 5.1h0m-10.3 0.3h0m10.6-2.9h0m-8.3-3.4h0m-3.5 2.4h0m7.3-3.4h0m1.3-0.7h0m1.6 3.8h0m-3.8 0.3h0m0.9-4.4h0m3.5 2.9h0m-7.2 5.1h0m-0.8 2.4h0m6.5-7.3h0m-8.6 2.2h0m11.2-2.1h0m1.8 4.4h0m2-4.3h0m1.8 0.8h0m-2-1.7h0m-4.6 1.7h0m-4.6 0h0m10-1.6h0m-1.7 3.9h0m-6.7-2.7h0m-5.6 3.1h0m5.5-4h0m2.1 4.1h0m0.5 2.5h0m-8.5-2.7h0m1.6 0.4h0m-2.6-3.5h0m6.5 0.3h0m4.3-4.1h0m-9.6 7.7h0m12.4-5.1h0m-13.7 4.3h0m0.6-8.1h0m-1 5.8h0m15.9-1.3h0m-13.6 1.4h0m7.7-6.1h0m-13.2 6.6h0m14.2-6.4h0m4 1h0m-6.9 2h0m-9.4 1.6h0m9.8-2.3h0m-2.6 2.3h0m1.2-4.1h0m-2.6 3.8h0m-0.6 1.3h0m0.3-0.8h0m2.7 0.7h0m1.6-3h0m5.3 4.1h0m-13.6-1.2h0m6.3-0.2h0m-2.6 1.2h0m-3-5.3h0m13.4 3.5h0m-12.6 5.7h0m14.5 0.8h0m-6.3-9.4h0m6 4.2h0m-8.3 1.5h0m4.3-0.6h0m-16.1 1.3h0m13.3-2.1h0m-2.1 3.7h0m4.7-5.4h0m-0.9 4.4h0m-1.7 1.8h0m-1.8-2.8h0m6.8 0.9h0m-16.7 0h0m5.8-4.3h0m8.3 4.7h0m-10.1-2h0m-2-4.3h0m7 0h0m6.2 4h0m0.5-0.1h0m-2.4 1.3h0m-4.6-3.8h0m-2.5 0h0m4.1 16.9h0m-16.1 3.2h0m17.6-12.6h0m-15.3 2h0m-2.9 1.5h0m14.6-6.4h0m-5.3 0.4h0m-6 14.5h0m1.8 0.4h0m17.9-4.3h0m-4.1-10h0m-6 12.7h0m7.8-18.5h0m-8.7 19.1h0m6.8-10.7h0m-9.3-0.9h0m7.7 10.1h0m-16.5-1.7h0m3.8 0.8h0m7.8-9.3h0m-5.3-1.8h0m12.2-2.3h0m-3.6 2.3h0m-4 2.3h0m11.6-8.1h0m-12.1-1.6h0m-4 13.2h0m16.2-2.8h0m-19.4 9.8h0m17.5-15.5h0m-29.5 20.1h0m30.3-7.7h0m2.2-12.8h0m-14.7 19.4h0m-2.2-9.1h0m-1.5 7.3h0m7.7-11.3h0m-15 7.3h0m6.2 1.7h0m19.3-9.8h0m-20.6 7.2h0m-0.9-7.7h0m-12 5.7h0m22.8-8h0m-0.3 13.3h0m-15.9 3.6h0m18-4.6h0m-6.3-11.4h0m8.5 12.6h0m5.3-2.8h0m-13.4 2.7h0m-5.1-4.1h0m10.6-15.5h0m1.4 19.2h0m-11.8-3.5h0m8.1-9.6h0m-10.3 8.5h0m14.9-8.1h0m-7.6 14.8h0m2.9-12.8h0m5.2 11h0m-12 1.5h0m-0.2-0.1h0m15.6-4.7h0m-49.5 13.5h0m25.1-6.1h0m-4.2-9.5h0m-9.3 9.4h0m-5.3 2.3h0m8.8-10.8h0m-22.9 11.6h0m28.1-11h0m-14.3 10.5h0m-11.2-2.3h0m1.6 11.8h0m10.9-11.2h0m-13.1 2.3h0m4.2 3.3h0m9.9-3h0m9.8-12.8h0m-5-3.2h0m-7.6 11.1h0m12-3h0m5.6 3h0m-23.8 13.2h0" stroke="#3c4cd6" stroke-width="0.8" stroke-linecap="square" fill="none" opacity="0.72"/>
<path d="M207.1 260.6h0m3.5-11.4h0m-18.1 6.9h0m13.3 4.2h0m2.7-1h0m-9.5-3.2h0m12.8-1.6h0m-12.6 6.5h0m-6.6-3.9h0m18-0.8h0m-8.8-2.9h0m6.8-3.3h0m-3.6 0.5h0m4.1 7.1h0m-6.4 4.7h0m-7.4-3.9h0m2.3-1.9h0m12.8-7.7h0m-3.5 4.3h0m1.7-1.2h0m-6 2.4h0m1.5 6h0m6.5-3.3h0m-6.6 2.6h0m2.3-0.5h0m-11.3-1.3h0m16.3-4.3h0m-8-2.5h0m4.9-0.3h0m-12.3 2.4h0m4-0.3h0m-2.1 5.3h0m13.9-5.7h0m-9 8.8h0m-2.2-8.4h0m-5.5 5.7h0m3.3-4.8h0m8.5-3.3h0m-12.5 4.2h0m-1.7 3.7h0m9.9 0.9h0m-5.5 0.3h0m2-6.6h0m7.9 7.1h0m-10.1 0.2h0m14.8-13.1h0m0.3 8.9h0m-5.5-12.5h0m0.8 8.6h0m5.4 3.6h0m-6.1-3.5h0m-10.7 7.4h0m12.7-8.2h0m-0.2-2.8h0m-17 10.3h0m17.6 0.9h0m-10.9-0.7h0m-0.2 0.5h0m12.7-7h0m-13.6 3.4h0m0.7 1.7h0m0.7-3.2h0m13.5 3.1h0m-1.3-2h0m-8.9-5.4h0m5.3 10.5h0m9-7h0m-11.5 7.6h0m7.7-6.5h0m2.8-2h0m-10.6-2.2h0m3.2-2.6h0m-5.8 3.4h0m-1.1 0.4h0m-5 6.6h0m6.5-5.9h0m-7.1 5.3h0m12.4 2.7h0m-4.1-9.3h0m-4.7 2.8h0m14.4 1h0m-9.7-2.8h0m8.7 4.4h0m-14.9 5.9h0m7.7-11.5h0m-6.7 9h0m9.2-7.9h0m-11.6 6.1h0m14.2-7.3h0m-8.2 12.3h0m5.1-3.6h0m5.5-2.8h0m-17.2 2.5h0m11.2-10.3h0m3.9 6h0m-9.6-1.5h0m4.5-6.2h0m-4.5 3.7h0m8.5-1.6h0m-3.7-2.4h0m-0.8-1.8h0m4.1 2.8h0m1 7.3h0m-13.2 0.5h0m8.5 2.7h0m-2.5-7.8h0m-2.5 1.6h0m9 6.8h0m-4.1 0.1h0m5.5-6.9h0m-11 9.3h0m5.4-17.4h0m8.6-0.5h0m-12.9-0.3h0m12.1 3.3h0m-5.1-1.2h0m-3.5 0.5h0m-3.3-1.9h0m-0.6 1.4h0m4.5-2.2h0m4.5 5.6h0m-6-5.2h0m-3.7 4.1h0m13.5-1.3h0m-14-0.3h0m-0.4-1.8h0m14.2 0.9h0m-11.7-2.7h0m6.2 5.1h0m1.2-6.6h0m-0.5 7.8h0m-7.9-3.8h0m6.9 1.2h0m-1.2-2.4h0m-1.7 0.8h0m3.9 1.5h0m2.7 2.7h0m1.7-2.8h0m-7.2-2.2h0m1.5-2.1h0m-4.1 7.1h0m5-5.7h0m-6.1 0.1h0m0.4-1.3h0m4.2 1.6h0m-5.2 0.3h0m1.1 4.1h0m3.4-1.4h0m2.1-1.7h0m-1.4 0.4h0m4.4-1h0m-4 1.3h0m-5.8 0.1h0m8.6-1.4h0m-7.9 6.2h0m3-7.5h0m-5 6.8h0m7.6-3.5h0m-1.5 3.5h0m5.3-8.5h0m1 4.7h0m-6.1 1.8h0m-6.4-4.7h0m8.8 1.8h0m1.3 3.4h0m-5.2-1.7h0m-2.9 4.5h0m3.4-1.2h0m6.9 2h0m-4.6 7.4h0m2-6.3h0m-1.9-2.4h0m-6.7 2.6h0m10.9-3h0m-13 4.9h0m13.4 2h0m-15.3 4.3h0m15.4-14h0m-13.5 11.9h0m14.9-3.7h0m-7.2 3.9h0m8.8-11.5h0m-20.3 5.8h0m13.8-6h0m-7.7 5.2h0m2.4 9.6h0m-8.5-3.4h0m10.8-7.1h0m-9.4 0.4h0m5.1 0.7h0m1.6-4.8h0m-3.7 4.6h0m15.8-1.8h0m-10.9-6.3h0" stroke="#3466d6" stroke-width="0.8" stroke-linecap="square" fill="none" opacity="0.72"/>
<path d="M208.8 252.3h0m-8.8 7.5h0m8.4-6.1h0m-9.6-0.1h0m14.7-2.5h0m-14.6 8.6h0m3.7-6.2h0m-9.8 3h0m7.8 1.6h0m-2.4-4.1h0m13.6 2.4h0m-10.6 4h0m-4.2-2h0m-0.8 1h0m4.8-2.1h0m1.5-3h0m-7.7 1.7h0m5 5.2h0m2.1-7.7h0m-0.3-0.5h0m7.5-0.6h0m-1.6 2.4h0m-2.7-1.5h0m1.3 7.6h0m-0.4-7.8h0m3 3.6h0m-6.5 2.3h0m9.7-3.1h0m-0.7 0.4h0m-10.2-4.1h0m1.9 0.8h0m10.6-0.9h0m-11.8 2.2h0m7.7-2.2h0m-0.1 1h0m-6.8 0.7h0m8.4 0.3h0m-2 2.5h0m-2-3.1h0m-10.8 2.6h0m13.4-0.3h0m-7.8 3.4h0m10.4-6.7h0m-7.4 5.6h0m3.8 0.2h0m-8.4-2.6h0m10.7-0.3h0m-5.9-2.3h0m-4.1 4.2h0m-2.1 0.3h0m8.9 1h0m-10.1 1h0m4.7-0.6h0m8-5.5h0m0.4 3.4h0m-10.6-1.1h0m4.1 4.7h0m-5.1 0.5h0m1.4-2.4h0m-0.9-0.7h0m8.1-2.9h0m-3.8-3.3h0m-3 7.9h0m-4.3 0.7h0m2.3-6.2h0m0 6.8h0m3.8-2h0m3.9-12.4h0m-2.9-2.1h0m-0.9 0.4h0m-4.9-0.1h0m4.4 6.7h0m6.5-0.5h0m-5.1-6.1h0m-0.2 1.8h0m-2.6-0.5h0m8.9-0.5h0m-12.4 15.1h0m8.6-9.5h0m2.8 5h0m-2.8-4.8h0m-3.2-7.4h0m5.7 13.7h0m-0.9-4.5h0m4 1.6h0m0.3-1.7h0m-8.1 6.4h0m1.2-6.4h0m-3.9 6.6h0m-2.9-2.8h0m-0.3 1.1h0m1.9-1.9h0m-4.6 2.9h0m5.4 2.4h0m4.8-9.4h0m-6.8 3.1h0m0.4 4.7h0m-0.7-4.1h0m2.8 4.3h0m-5.1-3.3h0" stroke="#3494d0" stroke-width="0.8" stroke-linecap="square" fill="none" opacity="0.72"/>
<path d="M202.2 258.5h0m2.6 1.9h0m0.4-5.9h0m2.8-1.8h0m-3.2 1.3h0m-5.3 1.5h0m2.3 0.7h0m-1.3 3.2h0m3.3-5h0m6.2 2.1h0m-8.5-2.3h0m1.3 0.3h0m5.6 1.1h0m-1 0.6h0m-0.4-0.4h0m-0.8-3.7h0m-5.4 8.5h0m1.2-2.7h0m5.7 1.1h0m2.8-3.4h0m-4.5 1.3h0m-0.4 1.8h0m-7.5-2.1h0m13.4-4.2h0m-4.5 3.2h0m-3.7-1.6h0m6.4 3.2h0m1.2-0.8h0m-6.2-2.6h0m-2.5 4h0m3.5 0.6h0m-7.7-3.6h0m11.8-3.4h0m-2.3 0.9h0m-5.5 6.8h0m6.7-4.1h0m-6.2-4h0m5.2 3.1h0m-6.4 2.2h0m1.1-0.4h0m7.2-1.6h0m-1.5 0.4h0m-6.8 3.7h0m9-6.7h0m-11.2 4.7h0m3.1-3.8h0m-3.8 4.2h0m8-9h0m-8.2 7.7h0m4.5-1.5h0m-1.3 4.4h0m1.4-6.4h0m5.9 2.1h0m-12.7 2.6h0m10.4-4.9h0m-5.9 4.2h0m10.8-1.6h0m-9.2 0.6h0m1.5-0.5h0m4.5-3.2h0m-0.3 6.9h0m0.2-5h0m-6.3 5.6h0" stroke="#3cacb0" stroke-width="0.8" stroke-linecap="square" fill="none" opacity="0.72"/>
<path d="M205.2 258.4h0m-0.3-2.9h0m1.9 3.6h0m-1.8-0.8h0m-3.8-1.9h0m0.4 2.6h0m7-5.5h0m-5.1 0.6h0m-3.4 2.6h0m4.9-0.7h0m-1 1.7h0m7.3-5.7h0m-9.2 3.8h0m6-1.7h0m-1.2 0.2h0m-5.1 1h0m-0.8 1.8h0m-0.1 0.7h0m2.1 1.7h0m-2.8-2.2h0m2.3-1.9h0m5-3.8h0m-5.1 5.4h0m5.9-2.7h0m-7.9 3.3h0m2.4-4.7h0m0.4 2.2h0m-1.8 1.7h0m6.8-3.5h0m-5 3.8h0m-4.3-0.8h0m8.1-0.1h0m-3.6-0.8h0m6.3-2.1h0m-5.6 0.2h0m-2.5 4.1h0m3.1-5.5h0m-3.7 7.7h0m7-7.7h0m-0.8 7.6h0m-7.5-0.6h0m5.2-1.1h0m6.3-3.5h0m-11.1 2h0m-0.8 0h0m-0.5 1h0m3.5 1.2h0m2.6 0.4h0" stroke="#6cc250" stroke-width="0.8" stroke-linecap="square" fill="none" opacity="0.72"/>
<path d="M202 258.6h0m2.1-2.4h0m0.8 0.1h0m-4-0.4h0m8 1.4h0m-7.1 0.1h0m5.6-1.9h0m-3 2.6h0m0-0.6h0m1.2-3.6h0m2.9-0.4h0m-1.6 3.7h0m-4.5 1.9h0m3.4-4h0m-2 2.9h0m-1.1 0h0m0.4-0.4h0m-1.4 1.2h0m0.9-2.8h0m-1.9 2h0m6.2-2h0m-3.2-0.9h0m-2.1 5.1h0m5-5.2h0m1.1-1.4h0m-2 1.9h0m-1.1-1.9h0m3.4 2.7h0m-5.4 0.5h0m2.1-0.1h0m0.5-0.6h0m-4.2 1.7h0m4.3-3.1h0m0 2h0m2-2.9h0m-0.7 1.5h0m-7 3.5h0m4.7-2.4h0m-0.3 0h0" stroke="#c8d83c" stroke-width="0.8" stroke-linecap="square" fill="none" opacity="0.72"/>
</g>
<path d="M150.1 251.2H219.9M183.5 212.1V279.3" stroke="#555" stroke-width="0.9" fill="none"/>
<path d="M150.1 212.1V279.3H219.9" stroke="#666" stroke-width="0.8" fill="none"/>
<path d="M148.1 219.7h2M148.1 233.9h2M148.1 250h2M148.1 265.9h2M148.1 272.2h2M149.1 214.1h1M149.1 216.9h1M149.1 219.7h1M149.1 222.5h1M149.1 225.3h1M149.1 228.1h1M149.1 230.8h1M149.1 233.6h1M149.1 236.4h1M149.1 239.2h1M149.1 242h1M149.1 244.8h1M149.1 247.6h1M149.1 250.4h1M149.1 253.2h1M149.1 256h1M149.1 258.8h1M149.1 261.6h1M149.1 264.3h1M149.1 267.1h1M149.1 269.9h1M149.1 272.7h1M149.1 275.5h1M149.1 278.3h1M150.1 279.3v2M180.1 279.3v2M207.8 279.3v2M151.1 279.3v1M153.8 279.3v1M156.5 279.3v1M159.2 279.3v1M161.9 279.3v1M164.7 279.3v1M167.4 279.3v1M170.1 279.3v1M172.8 279.3v1M175.5 279.3v1M178.2 279.3v1M180.9 279.3v1M183.6 279.3v1M186.4 279.3v1M189.1 279.3v1M191.8 279.3v1M194.5 279.3v1M197.2 279.3v1M199.9 279.3v1M202.6 279.3v1M205.3 279.3v1M208.1 279.3v1M210.8 279.3v1M213.5 279.3v1M216.2 279.3v1M218.9 279.3v1" stroke="#555" stroke-width="0.55" fill="none"/>
<path d="M150.5 270.3v6" stroke="#222" stroke-width="1" fill="none"/>
<text x="144.6" y="222" font-size="6.4" text-anchor="end" fill="#2a2a2a" stroke="#2a2a2a" stroke-width="0.132">10<tspan dy="-3.1" font-size="4.9">5</tspan></text>
<text x="144.6" y="236.2" font-size="6.4" text-anchor="end" fill="#2a2a2a" stroke="#2a2a2a" stroke-width="0.132">10<tspan dy="-3.1" font-size="4.9">4</tspan></text>
<text x="144.6" y="252.3" font-size="6.4" text-anchor="end" fill="#2a2a2a" stroke="#2a2a2a" stroke-width="0.132">10<tspan dy="-3.1" font-size="4.9">3</tspan></text>
<text x="144.6" y="268.2" font-size="6.4" text-anchor="end" fill="#2a2a2a" stroke="#2a2a2a" stroke-width="0.132">10<tspan dy="-3.1" font-size="4.9">2</tspan></text>
<text x="143.1" y="274.5" font-size="6.4" text-anchor="end" font-weight="normal" fill="#333" stroke="#333" stroke-width="0.22" >0</text>
<text x="149.9" y="290.6" font-size="6.4" text-anchor="middle" fill="#2a2a2a" stroke="#2a2a2a" stroke-width="0.132">10<tspan dy="-3.1" font-size="4.9">2</tspan></text>
<text x="180.1" y="290.6" font-size="6.4" text-anchor="middle" fill="#2a2a2a" stroke="#2a2a2a" stroke-width="0.132">10<tspan dy="-3.1" font-size="4.9">3</tspan></text>
<text x="207.8" y="290.6" font-size="6.4" text-anchor="middle" fill="#2a2a2a" stroke="#2a2a2a" stroke-width="0.132">10<tspan dy="-3.1" font-size="4.9">4</tspan></text>
<text x="218.6" y="221.7" font-size="9.4" text-anchor="end" font-weight="bold" fill="#111" >7.1</text>
<text x="275.2" y="204.3" font-size="9.9" text-anchor="middle" font-weight="normal" fill="#222" stroke="#222" stroke-width="0.22" >Dmp1-TSC1-CM</text>
<rect x="240.7" y="212.1" width="69.1" height="67.2" fill="#fff" stroke="#999" stroke-width="0.8"/>
<clipPath id="cg2"><rect x="241.1" y="212.5" width="68.3" height="66.4"/></clipPath><g clip-path="url(#cg2)">
<ellipse cx="297" cy="250.2" rx="14.7" ry="7.3" fill="#5a6ade" opacity="0.22" transform="rotate(-14.3 297 250.2)" filter="url(#bl2)"/>
<ellipse cx="297" cy="242" rx="12.9" ry="5.8" fill="#5a6ade" opacity="0.22" transform="rotate(-5.7 297 242)" filter="url(#bl2)"/>
<path d="M282.7 245.9h0m-2.7 0.2h0m12.7 13.8h0m10.2 0.6h0m-27.9-12.5h0m16.9 12.7h0m-9.8-3h0m15.4 0.7h0m0.2-20.1h0m6.2 20.1h0m-1.9 3.5h0m-24.1-2.2h0m7.6-7.2h0m-0.8 13.1h0m-7.3-12.3h0m8-6.5h0m-9.3 7.8h0m7.2-9.3h0m9.1 19.2h0m-13-12.9h0m28.7 1.9h0m-30.4-6.4h0m26.7-9.4h0m-7.7 24.2h0m-17.6-9.5h0m28.9 1.6h0m-2.7 1.6h0m-26-3.9h0m10.5 10.1h0m12.2-4.3h0m-21.1 2.2h0m-4.7-1.5h0m28.1-2.9h0m-21.3 7h0m-8.6-10.9h0m32.1 3.4h0m-21.5-8.8h0m-1.7-1.7h0m6.4 18.3h0m-13.1-11.1h0m8.7-6.3h0m23.7-6.3h0m-29.4 13.8h0m23.1 4.4h0m-29.6-2.8h0m27.1 3.3h0m-18.4-17.8h0m0.7 24.8h0m2.5-15h0m-12.1 9.8h0m35.1-5.2h0m-17.1 7.6h0m-0.1-27.6h0m13.7 2.9h0m0.9 5.5h0m-7.8-7.7h0m-22.9 2.7h0m27.4-0.8h0m-17 8.4h0m-0.2-0.9h0m18.6-9.4h0m-13.9 0.8h0m-15 6.5h0m14.5-0.8h0m-13.3-1h0m9.4 2.7h0m11.6-8.4h0m7.5 0.3h0m-12.8 3.8h0m10.1-1.9h0m-2.2 0.9h0m7.1 2.8h0m0.2-4.8h0m-22.7 6.2h0m7.1-4h0m1-2.9h0m-11.5 9.3h0m24.3-6.6h0m-15.3 1.2h0m8.7-2.5h0m-5.5 1h0m-21.9 31.8h0m19.8-12.3h0m-5.9 3.1h0m1.4-2.3h0m3.3 4h0m9.9-24.6h0m-0.8 22.2h0m-11.1 11.4h0m-9.9-17.4h0m-7.1-1.4h0m26.2 15.2h0m5.5-9.8h0m-6.2 3.8h0m-16.4-8h0m-8.4-3.3h0m9.2-15.8h0m-1.9 36.2h0m2.2-8.6h0m-1.6 4.4h0m-0.5 4.7h0m-4.3-13.1h0m-2.3 9.3h0m33.4-33h0m-34.5 26.1h0m8.3 1.3h0m-14.4-13h0m26.1 15.4h0m-14.8-0.5h0m-4.2 1.2h0m22.2-2.8h0m1.1-0.5h0m-17-3.6h0m-1.1-13.9h0m8 22.8h0m2.3-3.5h0m-0.8-20.6h0m1.2 24.8h0m19.4-13.3h0m-44.4 10.4h0m-6-2h0m14.6-0.6h0m37.1-7h0m-31.6-16.9h0m24.4 19.7h0m-8.9 8.6h0m-9.4-8.1h0m14.8 2.4h0m-4.8 0.7h0m7.9-28.2h0m1.6 33h0m-18.7-5.9h0m4.3 8.1h0m20.1-12.7h0m-22 2.3h0m0.6 2.5h0m-21.2-3.9h0m15 4.5h0m-2.1 8.7h0m6.3-27.8h0m-2.6 6.7h0m-14.4 6h0m17.1 6.5h0m-17.8-8h0m12.1-9.1h0m-9.7 17.8h0m8.8-5.8h0m20.6 5.7h0m-11.2-1.6h0m-7.7 4h0m2.7-18h0m-5.3 3.2h0m-7 16.7h0m7-2.7h0m3.3 7.5h0m19.9-7.5h0m-1.3-5.1h0m-16.5-1.8h0m-27.3 8.5h0m0 2.6h0m-0.5-4.7h0m9.9-8.2h0m-4.5 14.5h0m-17.1-2.5h0m10-0.6h0m2.7 2.7h0m-2.3-7.2h0m-3.2 9.2h0m7.1-11.1h0m17.8 2.1h0m-29.9 7.8h0m14.1-3h0m-9.8 10.1h0m19.1-7.1h0m-12.7-1.2h0m-5.7-0.3h0m-0.7 2.9h0m22.8-14.5h0m-1.7-1.4h0m3.4 1.7h0m-11.9 0.3h0m-17.1 21.6h0m16.5-17.4h0m-6.9 6.7h0m-4.3-2.5h0m10.6-11.4h0m-12.8 19.4h0m4.5-3.7h0m6.6 0.7h0m-12.4 2h0m18-3h0m-17.4 1.7h0m0.9 0.2h0m4.1-4.3h0m1.1-2.6h0m6.9 7.2h0m-12.7-5.6h0m-0.4 9.8h0m3.6-15h0m5.9 5.2h0m-9.8 7h0m8.2 0.3h0m2.2-9.1h0m10.5-3.9h0m-23 14.7h0m6.2-2.9h0m-1-7h0m1 7.4h0m16.8-7.5h0m-19.4 10.8h0m6.6-7.6h0m-6.4-3.2h0m15 4h0m-4.6 0.6h0m2.6 0h0m6.7-14.1h0m-23.3 17.4h0m9.8-9.8h0m14.9-6.2h0m-1 13.3h0m1.3-12h0m-26.4 10.5h0m12.4 2.2h0m14.8-11.5h0m1 5.1h0m0.1-0.1h0m-8.1-4.5h0m1.9 2.1h0m-2.6 5.2h0m-20 4h0m-0.1-4.1h0m13.1-7.8h0m-13.4 7h0m18.3-5.7h0m-13.4-2.1h0m11.6 10.2h0m7.6 0h0m4.5-8.2h0m-29.3 12.3h0m13.2-5.1h0m14.9-12.8h0m4.3 5.9h0m-5.4 2.2h0m-21.7 11.1h0m2.2-4.5h0m-4 4.6h0m3.8-7h0m15.5-3.5h0m-6.2-3.3h0m4.8-5.7h0m-7.7 7.9h0m8.9-10.7h0m3.4 13.3h0m-5.3-3.6h0m-15.9 3.4h0m-0.7 3.1h0m20.3-6.1h0m-7.8-5.7h0m15.6 4.8h0m-5 4h0m-23.7 9.1h0m4.4-0.9h0m23.2-12.5h0m-14.7 15.1h0m8.8-24.3h0m1.7 10.9h0m-13.8 4.2h0m12-1.6h0m-2.6-7.9h0m-9.5 7.6h0m-2.8 6.9h0m1.4-11h0m-10.8 8.4h0m3.1-2h0m1.7 3.1h0m18.3 0h0m0.2-20.9h0m7.4 12.5h0m-29.4 5.7h0m10.2-6.7h0m18.5 4.1h0m-22.3 7h0m4.1-6.6h0" stroke="#acacee" stroke-width="0.8" stroke-linecap="square" fill="none" opacity="0.72"/>
<path d="M284.6 259.4h0m-5.1-4.8h0m15.9 4.5h0m6.7-3.9h0m-4.1 0.2h0m-12.8-2.6h0m23.7-5.7h0m-26.3 17.1h0m-3.4-20.3h0m27.5 0.1h0m-5.8-5.5h0m-15.7 20.8h0m-2-11.8h0m4.6-3h0m-10.4 7h0m27-11.9h0m2.3 3.7h0m-3.2 11.3h0m-8.6 2.3h0m-14.3-7.7h0m27.3-9.9h0m-1.8 10.9h0m-0.9 1.6h0m-23.3-5.2h0m-9 5.6h0m-0.6 9.7h0m5-10.3h0m6.8 6.2h0m1.8 2.7h0m-7.6-6.6h0m15.9 3.1h0m14.1-8.4h0m-24.4 6.8h0m6.1-12.7h0m-0.8 18.1h0m19.3-18.2h0m-18.7 16.7h0m-5.9-6.7h0m11.7 5.4h0m-16.4-1.2h0m7.8 2.4h0m-3-10.5h0m7-6.2h0m-9.7 5.5h0m27-1.6h0m0.2 0.2h0m-24.2 3.4h0m15.3 5.7h0m-15.8-7.2h0m12.5-10.7h0m9.1-2.4h0m-10.8 4.1h0m-6.3-2.9h0m-21 12.5h0m18.6-3.6h0m-2.4-10.2h0m21.5 6.1h0m-13.4-3.2h0m-6 0.8h0m2-0.5h0m5.5 0.1h0m13.9 0.7h0m-8.4-2.3h0m-5.6 3.2h0m13.3-1.5h0m-9.5-1.6h0m12.2-5.1h0m-1.7 10.2h0m-23.9 5.4h0m14.3-7.4h0m-4-0.1h0m13.3-5.3h0m-18.6 6.4h0m17-3.8h0m-16.8 5.6h0m15.3-5.2h0m-9.4 0.4h0m-10.3 4.4h0m1.1-1h0m17.7-1.8h0m4.7-1h0m-29 13.6h0m-5.2 3.8h0m7.6-0.9h0m18.2 4.8h0m-26.4-5.6h0m19.2 4.4h0m3.8 1.8h0m-5-1.6h0m-2.6-1.9h0m-14.7-3.7h0m6.8 2.2h0m3.2-5.6h0m18.7 4.7h0m-17.5 1.1h0m-6.7 2.3h0m0.5 7.3h0m3-1.4h0m1-13.2h0m-0.6-2.9h0m0 10.2h0m18.3-1.3h0m-9.3 4.5h0m-22.9-24.4h0m27.2 21.7h0m-11.8 5.4h0m-5.1-5.8h0m7.4-12.2h0m-6.4 2.8h0m14.6 8.6h0m-10.7 1.1h0m-14.5 3.3h0m37.3-4.9h0m-24.9-2.5h0m-1.8-4.2h0m6.2-0.5h0m-16.4 16h0m-11.3-3.9h0m-0.3 0.2h0m1.5 13.8h0m1.2-5h0m-16.6 3h0m28.2-10.6h0m-7 1h0m6.1-3h0m2.4 1.5h0m-13.8-2.1h0m6.9 1.9h0m-23.5 3.4h0m12.2 0.3h0m3.4-4.9h0m12.1-1.1h0m-24.4 15.8h0m25.2-7.8h0m-5.6-10h0m5.7-6h0m-11.7 13.6h0m-3.6-1.4h0m-4.8-5.6h0m-7.4 13.5h0m27.2-14.1h0m-18.1 2.4h0m6.1 12.3h0m-0.2-10.9h0m7.5-3.1h0m-4.8 2.9h0m0.7 11.8h0m9.6-11.5h0m-8.1-2.3h0m-10.9 5h0m-3.2 2.3h0m2 3.2h0m12.7-11.6h0m-19.4 13.8h0m0.7 3.9h0m1.8 0.6h0m19.6-13.1h0m0.5-12.9h0m-19.3 20.5h0m-1.1-1.1h0m2.9 6.2h0m23.1-12.1h0m-18.9 8.9h0m-1.8-11.5h0m7.1 3.5h0m2.7-7.5h0m9.1 3.6h0m1.8-8.2h0m-22.5 18.2h0m14.2-2.5h0m3.3-8.3h0m-18.1 10.2h0m1.7-10.8h0m0.1 15.8h0m11.2-6.3h0m2.9-12.4h0m-1.4 0.4h0m-15.6 10.2h0m0.7 2.8h0m20-7.2h0m-16.5 9.2h0m14.9-17h0m-8.6 6.1h0m-3.6 6.7h0m-6.3-1.7h0m1.1-1h0m19.2-5.3h0m8.8 6h0m-28.2 5.4h0m4.8-0.1h0m-2.6-5.7h0m6-0.3h0m11.8-6.8h0m-2.4 2.3h0m-2.1 0.5h0m-2.2 0.9h0m-16.1 11h0m0.4-8.6h0m4.2 8.2h0m20.3-8.4h0m-15.8 0.7h0m6.5 4.5h0m-2.7 7.5h0m-6.2-22.3h0m9.1 9.6h0m3.7-6h0m-10.3-1.1h0m15.7 11.3h0m-11.7-2.9h0m-15.5 4.1h0m12-2.1h0m-9.7-9.4h0m16 9.1h0m-1.4-11.9h0m1.1 5.4h0m-13.1 8.7h0m-6.6 2.4h0m-0.8-4.1h0m27.9-16.1h0m-26.2 14.2h0m2.1 0.2h0m7.1-3.6h0m19.5-1.9h0m-1.7 1.8h0m-18.3 7.8h0m-10.9-3.1h0m21.3-1.3h0m-8.5-7h0m14.4 0.8h0m-4.5-8.5h0m-18.7 17.8h0m-4.7-0.3h0m26.1-7.5h0" stroke="#7a7ae6" stroke-width="0.8" stroke-linecap="square" fill="none" opacity="0.72"/>
<path d="M283.1 245.9h0m25.8 3.7h0m-14-11.2h0m10.7 5.3h0m-5.8 12.6h0m-3-0.3h0m12-3.5h0m-2.9-5.5h0m1.2 2.8h0m-10 6h0m-8 2.1h0m-3.2-7.9h0m21.5 1.5h0m-26.9 2.8h0m9.8 2.7h0m17.7-8.4h0m-18.6-3.4h0m11 10.2h0m7.3-3.9h0m-20.6 2.5h0m21.1-11.5h0m-12.1 14.3h0m-2.8 0.2h0m13.7-1.2h0m-24.1-4.5h0m9.6 4.9h0m13.4-8.7h0m-3.9 9.9h0m-18.1-6h0m24.3-6.5h0m-21.7 6.3h0m18.1-5h0m-11.9-3.5h0m-10.3 12.3h0m23-0.9h0m2.6-6.7h0m-17-5.9h0m0.7 5.5h0m4 11.5h0m12.8-9h0m-14.6 7.7h0m-5 0.6h0m20-13.2h0m-29.2 13.3h0m6.2-2.4h0m21-14.4h0m-9.5 14.4h0m-10.7-5.7h0m17.1 5.1h0m-0.6-0.7h0m5.8-11.2h0m-5.8 11.2h0m-18.9-3.6h0m1.9 1.7h0m15.7 1.6h0m-15.4-4.9h0m-0.2-3.2h0m19.9-6h0m-18.3 14.3h0m-1.9-2.8h0m-0.5-5.4h0m21.5 5.5h0m0.8-3.5h0m-5.1 7.3h0m-17.1-0.9h0m18.9-3.1h0m0.1 0.9h0m-3.3-13.1h0m-15.3 13.2h0m22.4-12.1h0m-0.4 9.7h0m0.4-1h0m-29 5.4h0m26.8-8h0m-3.2-4.6h0m-18.3 14h0m7.1-18.6h0m1.7 18.4h0m-8.9-1.6h0m18.4 1.2h0m-10.9 0.7h0m-4.6-6h0m6.4 7.7h0m13.1-4h0m-8.3 3.1h0m4.7-6.1h0m-16.5-5.1h0m17.7 3.9h0m-15.5-1.9h0m10.4 8.4h0m-6.3 1.4h0m12.8-5.4h0m-4-12.3h0m-19.2 17.1h0m23.9-6.9h0m-0.4 1.3h0m-16.2 4.7h0m18.2-6.2h0m-8.2 10.8h0m-18.4-7.3h0m8.6-7.7h0m-8.4 9.9h0m2.8-0.6h0m19.5-8.7h0m2.3-4.2h0m1.3 0.3h0m-3.5 2.7h0m-20 11h0m13.3-1h0m-4.7-13.8h0m14.3 1.1h0m-3.8 9.8h0m-19.6 6.6h0m5.8-17.4h0m5.2 14.9h0m-10.6-5.6h0m0.2-0.5h0m12.7 7.6h0m-4.9-2.2h0m-12.6 0.3h0m27.3-7.7h0m-17.7 6.9h0m16.9-9.4h0m-0.9 0.7h0m-6.5-5.6h0m6.9 2.5h0m-16-1.8h0m8.5-0.8h0m0.7-0.6h0m-7 1.6h0m-2.6 4.1h0m-2.6 1.1h0m0-5.1h0m21.1 2h0m-4 0.8h0m-4.2-3.1h0m7.2 4.2h0m-9.4-5.2h0m-2.4-0.4h0m2.1-1h0m10.1 4.1h0m-6.2-4.4h0m3.3 0.4h0m-15.6 4.1h0m-10.4-0.3h0m17.1-0.8h0m3 1.5h0m1.8-3.8h0m-10.1 4.2h0m13.3-4.4h0m4.1 5.8h0m-27.1-3.4h0m5.4 5.6h0m2.7-3.9h0m11.4-3.2h0m-13.5 5.7h0m15.2-6.6h0m2.5 3.5h0m-12.7-0.7h0m8.4-1.9h0m8.5 3.7h0m-7.2-3.4h0m-13.6 1.6h0m18.9-0.7h0m-1.3 1.8h0m2.9 0.1h0m-9.4-4.2h0m-10.1 4.1h0m7.3-2.1h0m-16.9 6.3h0m23.1-5.8h0m-9.4 1.3h0m3.9-3.8h0m5.4 0.9h0m1.4-1.7h0m-11.4 3h0m-3.1-1.1h0m17.1 0.1h0m-15.4 1.4h0m2.7 2.8h0m-5-2.9h0m11.4-2.3h0m-1.7 1.7h0m2-1h0m2.7 4.2h0m-16.6 5.5h0m1.8 6.2h0m-1.2 0.4h0m0.1-0.6h0m6.5 1.2h0m-9.7-7.5h0m-4.7 4.1h0m29.9-7.6h0m-32.9 17.6h0m13.8-21h0m-5.2 12.7h0m17.3 3.6h0m-14.4-10.1h0m-1.3-1.8h0m2.7-3.5h0m-2.6 6.8h0m-2.7 4.5h0m-3.7 0.5h0m0 8.9h0m0.7-14.5h0m28.8 5.9h0m-21.2-12.9h0m1.3 2.4h0m-4.5 6.1h0m14.8 5.8h0m7-17.8h0m0.4 4.6h0m-19.8 11.9h0m-4.9-0.2h0m24 2h0m-7.8-4h0m-5.8-10.4h0m5.6 16h0m-9.5-13.8h0m-8.8 11.2h0m-0.9 0.3h0m2.6-5.2h0m8.7-7.3h0m1.4-2.7h0m-9.5 8.2h0m-0.2 4h0m22.4 0.5h0m-17.5 5.6h0m-0.9-2h0m-1.7 0h0m3 0.3h0m-2.8 1.4h0m-1-3.1h0m-4.3 4.6h0m15.4-3.6h0m13.1-8.9h0m-26 11.6h0m0.5-5.5h0m4.1-5.5h0m6.6 10.6h0m-1.4-19.7h0m-4.3 11.5h0m-38.2 18.8h0m26.1-10.6h0m-32.4 11.5h0m18.9-1.9h0m-14 5.7h0m-2.7-0.1h0m13.9-9.2h0m5.4-7.7h0m-17.7 7.2h0m22.3-9.6h0m-14.7 14.3h0m8.5 0.6h0m-4.6-7.4h0m-13.1 12.5h0m10.2-4.6h0m-0.2-2.8h0m14.7-17.5h0m-10.3 14h0m13.2 6.5h0m-5.7 3.9h0m-18.9-11.2h0m12.2 2.2h0m-9.9 0.1h0m25.5-4.2h0m-8.9-4.1h0m-12.7 9.7h0m-9.7 6.9h0m21.7-10.3h0m-8-1.8h0" stroke="#3c4cd6" stroke-width="0.8" stroke-linecap="square" fill="none" opacity="0.72"/>
<path d="M303.9 252.4h0m-11.2 1.9h0m-3.1 0.2h0m3.7-11.1h0m15.2 4h0m-5.9-4.4h0m3 8.5h0m-1.9 0.5h0m-4.2 1.1h0m-9 2.2h0m6.1-4.3h0m-8.2 0.1h0m2.9 4.8h0m14.1-10.6h0m-6.2 8.6h0m5.2-3h0m0.3-4.2h0m-16.5-1.1h0m17.1 3h0m-4-5.4h0m-3.8 0.4h0m5.4 8.1h0m-11.2-3.6h0m-0.2 6h0m16.1-11.5h0m-6 10.6h0m5.4-6.6h0m-15.9 9.1h0m11.9-4.3h0m-18 1.8h0m21.2-3.9h0m-18.5 1h0m12.4-7.8h0m5.2 9.7h0m0-2.3h0m3.5-3.4h0m-18.6 6.3h0m14.4-7.3h0m-15.1 8h0m16.1-11.6h0m-17.4 9.2h0m14.6-0.9h0m2.2 0h0m-11.1 7.4h0m10.4-8.7h0m-13.7-0.4h0m0 2.7h0m6.4-11.4h0m-3.7 14.5h0m12.2-2.2h0m-10.7 3.7h0m-4.8-4h0m16-9.3h0m-4.8 0.1h0m-3.1 11.8h0m-12.8-3.8h0m17.5-5.8h0m-10.3 9.9h0m3.9-11.3h0m-10 12h0m15.1-4.8h0m3.1-2h0m-8.6 6h0m3.9-12.2h0m-7.3 13.7h0m12.6-9.2h0m-20 6.4h0m8.2-6.3h0m-4.6 2.6h0m9.3 6.2h0m-2.7-0.7h0m-7.8-4.2h0m20.6-4.9h0m-10.8 8.5h0m4.5-2.5h0m-9.8-8h0m13.8-1h0m-5.1 9.7h0m-10.9-2.9h0m15.5 0.7h0m-12.6 3.1h0m1.3 1.5h0m8.1-11.6h0m-11.3 1.5h0m14.4 2.1h0m-10.7-2.9h0m12.5 1.8h0m-3.8-3.6h0m1.7-0.6h0m0 0.6h0m-1.1 5.3h0m-6.7-8.2h0m-1.2 3.4h0m5-0.4h0m-10.5 0h0m9.8-2.3h0m-8.4 6.4h0m9.8-3.5h0m-4.7-2.6h0m3.1-0.5h0m-1.3 2.7h0m-5.8 3.6h0m4.2-2.5h0m0-1.6h0m-7.5 4.3h0m5.8-4.2h0m-1.8 3.1h0m-4.8-3.8h0m7-0.9h0m-0.3 4.1h0m8.3 0.1h0m-7.2-5.1h0m3.8 13.6h0m4.7-10.8h0m-9.6-3h0m9.6 6.1h0m-9.7-5.8h0m-0.7 1.1h0m5.4-0.6h0m-6.4 1.7h0m2.8-5.4h0m7.2 8.8h0m-13.3 0.4h0m14.8-6h0m-14 15.6h0m-1.6-8.8h0m14.9-4.8h0m-22 12.7h0m15.7-12.8h0m-26.2 17.1h0m34.8-9.5h0m-8.4-5.8h0m-3.3 11.3h0m11.5-14.5h0m-14.1 4.6h0m10.3-0.1h0m-3.2-3.7h0m-3.2 14.1h0m-6.9-5.1h0m17.5-4.1h0m-19 7.1h0m5.7-6.9h0m3.7 8.2h0m-4.9-10h0m5.3 10.9h0m-3.6-7.6h0m-7.8 8.5h0m-2.7-2.2h0m13.1 0h0m-0.1 2.9h0m-7.4-6.5h0m2.1 5.2h0m-1.5-9.8h0m-0.7 10h0m6.8-2.5h0m-1.5-9.3h0m-4.3 3.2h0m0.5 9.3h0m5.6-10.1h0m-9.6 8.4h0m8.9-8.3h0" stroke="#3466d6" stroke-width="0.8" stroke-linecap="square" fill="none" opacity="0.72"/>
<path d="M287.3 254.4h0m6.7-0.6h0m-1.6-5.1h0m-8.5 2.5h0m19.5-2.3h0m-1-0.6h0m-0.6 2.8h0m2.2 0h0m-6.5 2.8h0m-0.5-7h0m-6 0.5h0m2.7 5.1h0m-4.2-3.4h0m14.5 1.7h0m-4.1-2.4h0m-8.6 1.8h0m-2.6 3.6h0m10.4-1.6h0m-2.7 2h0m5.8-2.9h0m-5.1-4.4h0m-2 1h0m1.6-5.3h0m2.9 11.2h0m-11.2-0.2h0m15.6-8.8h0m-1.5-0.4h0m-14.8 7.7h0m4-3.2h0m-1.6-1.2h0m6.4-3.9h0m4.4 8h0m-12.9 0.4h0m11.3-5h0m-6.1 2.6h0m7.5 2.9h0m1.1-8.6h0m-15 8.3h0m1.4 1.6h0m4.3-7.1h0m9.7-1.8h0m-11.8 2.4h0m1.3 4.5h0m8 0.6h0m5.5-5.5h0m-7.1-0.4h0m-2.3 7.4h0m-3.4-5.7h0m11.9 1.2h0m-1.7 0.8h0m-7.8-4.4h0m5.1-1.9h0m0 5.6h0m-5 1.5h0m-3.1 1h0m10.1-3.7h0m1.5-1.4h0m-15.9 5.2h0m11.6-5h0m3.7-3.6h0m-13 10.5h0m5.4-5.4h0m4.9-5.1h0m1.1 6.6h0m-5.4-4h0m1.5 6.9h0m-1.8 0.2h0m1.1 1.5h0m-1-12.2h0m8.9 3.7h0m-1.8 5.9h0m-13.7-4.7h0m0.7 5.2h0m6.2 0.5h0m-0.9 2h0m4.1-1.4h0m-7.3-0.9h0m9.4-5h0m-4.9 5h0m-2.9-6.2h0m9.5-4.2h0m-3.8-0.6h0m0.2 1.8h0m1.8-0.7h0m-5.3 2.6h0m5.4-2.2h0m-8.2-1.3h0m8.7 6.5h0m-1.3-6.8h0m-3.7 2.5h0m-2 1.5h0m7.9-3h0m-5.4 0h0m-5.3 4.2h0m12.3 0.2h0m-9.7-1.2h0m2.1-4.4h0m5.2-2.1h0m-6.1 4.2h0m2.3-2h0m2.8 3h0m-5.2 0.3h0m2.7 9.5h0m-5.5-8.7h0m-3.3 7.3h0m1.1-5.8h0m7.2 5.3h0m-1.4-5.4h0m0.1 5.2h0m-2.4-8.7h0m8.3-0.3h0m-11.2 5.9h0m12.1 1.9h0m-13.7 2.7h0m10.4-5.2h0m0.8 2.6h0m-1.9-8.7h0m-9.6 0.9h0m5.8 10.9h0m-1.4-4.3h0m-1.4-0.2h0m-4.3 1.4h0" stroke="#3494d0" stroke-width="0.8" stroke-linecap="square" fill="none" opacity="0.72"/>
<path d="M299.9 249.1h0m0.9 2.8h0m-0.4-1.2h0m-1.7-6.7h0m-4.6 4.8h0m-0.4-3.2h0m6.8-0.3h0m-0.9 4.8h0m-8.8 4.9h0m2.7-3h0m7.3-1h0m-3.3-5.1h0m-4.5 3.3h0m7-1.1h0m-8.1 3.5h0m2-3.4h0m7.2 0.4h0m-2.6 2h0m1.4-6.5h0m-3.6 9h0m-3.3-2.7h0m3 1.1h0m-1.1-0.1h0m8.2-2.1h0m-4.3-0.3h0m-0.1 3.6h0m-4.1-1h0m-7.2-0.7h0m5.2-1.3h0m5.1-0.8h0m5.4-2.5h0m-0.9 0.1h0m-9.4 6.6h0m7.7-1.2h0m2-2.6h0m-3.4-3.8h0m-9.3 6.4h0m12.6-4.1h0m-3.4 0.1h0m-4.9-3.3h0m4.5 0.9h0m5 3.9h0m-12.6 3.9h0m11.3-3.9h0m-6.2-3h0m-2.9-2.3h0m6 3.5h0m3.3 0.7h0m-5.8-0.2h0m6.3 0.2h0m-2.2 4h0m-6 3h0m-1-9.4h0m-1.7 1.2h0m-1.1 3.7h0m0.3-4.1h0m7.8-2h0m-4.2 7.6h0m5.4-0.1h0m-10.2-1.7h0m8.8-4.8h0m-4.6 2.1h0m0.9 0.9h0m3.8-2h0m-2.3 0.5h0m-0.8-0.1h0m5.8 2.3h0m-1.4-5.9h0m-4 2.3h0m2.7-0.6h0m-0.6-2.3h0m4.6 2.2h0m-4.4-1.1h0m-4.3 2.7h0m9.3-1.8h0m-4.7 0.6h0m7.3 1.7h0m-10.8-4.2h0m2.2 1.4h0m5.1 2.4h0m-10 5.1h0m0.4-7.5h0m5.9 1.7h0m-5.4-2h0m-2.6 3.5h0m-0.8 3.5h0m1.6 0.4h0m8.8-3.8h0m3.1-0.6h0m-3.6 3.7h0m-0.3 0.6h0m-6.3 3h0m10.2-8.5h0m-5.4 6.2h0m4.5-7h0m-0.4-2.7h0m-1.9 10.7h0m-8.7-2.2h0m1.4-4.6h0m2.9 0.9h0m0.7-1h0m-3 2.7h0m-5.6 1.5h0m8.7 0.2h0m0.2-2.8h0m-2.1 3.3h0m0.2 1.5h0m-3-3.6h0m-3.1 0.1h0" stroke="#3cacb0" stroke-width="0.8" stroke-linecap="square" fill="none" opacity="0.72"/>
<path d="M298.3 248.6h0m-5.4 0.1h0m8.3 2.3h0m-4.5-4.1h0m-2.7 1.2h0m2.6 3.2h0m-1.6-0.9h0m0.8-0.2h0m3.8-5h0m-4.7 2.9h0m3.5 1.9h0m0.1 1.5h0m-3.2-1.9h0m1.7-1.8h0m-2 1.9h0m2.5 2.8h0m1.6-3.9h0m-5.8 1h0m4.6 0.3h0m-1.1-2.1h0m-5.9 4.5h0m10.1-7.3h0m-1.2 1h0m-5.7 8h0m1.2-0.6h0m3.6-0.6h0m2-4.1h0m-9.7 2.7h0m3.3-1.1h0m5.6-0.9h0m-6.4 0.9h0m3.7-5.6h0m3.5 5.1h0m-3.1 0.2h0m-4.3-3.3h0m2.6 5.6h0m1.4-6h0m3.4 2.3h0m1.5 0.5h0m-5.4-6h0m3.9 9.3h0m-4.1-2.8h0m-5.8 2.7h0m4.5-4.2h0m-3 0.2h0m9.7 2.3h0m-6.8-3.8h0m2.1-2.7h0m-0.4 0.3h0m-2.6 2.5h0m5.4-3.6h0m-1.2 4.4h0m-1.4-0.5h0m4.2 0.3h0m-7.8 1.9h0m2.9-3.4h0m2-1.3h0m-3.7 3.1h0m-3.8 6.9h0m10.6-5.9h0m-7.4 3.8h0m1.3-1.2h0m5.5-1.8h0m-7.7 2.3h0m4.6-0.8h0m-5.4-0.8h0m9.1-4.1h0m-7.9 4.9h0m1.7 1.2h0m4.3-4.2h0" stroke="#6cc250" stroke-width="0.8" stroke-linecap="square" fill="none" opacity="0.72"/>
<path d="M298.6 246.4h0m2.2 1.4h0m-7.1 2.6h0m7.6-2.8h0m-0.6-1.3h0m-5.3 1.7h0m0.8 2.8h0m4.4-3.5h0m-1.4 1.1h0m-6.2 4h0m8.2-3.6h0m-5.1 0.4h0m2.8 2.7h0m0.4-2.3h0m-1.7 0.4h0m2.3-3.2h0m-0.9 2.7h0m1.7 0.9h0m-3.4 1.3h0m-3-3.4h0m8.9-2.2h0m-5.7 3.7h0m-2.9 1.7h0m5.7-2.4h0m-2.3-4.6h0m0.6 6.9h0m-2.4-0.2h0m-1.7-4.2h0m3.9 1.1h0m0.6 0.5h0m-0.6 2.9h0m-0.1-1.4h0m-0.2-1.2h0m-5 1.4h0m3.4 0.3h0m-0.8-3h0m-3.3 1.5h0m4.5 3.2h0m2.2-3.9h0m-9 3.8h0m7.9-1h0m-1.7 0.6h0m-0.1-4.1h0m1.2-0.7h0m5.9 2.7h0m-7.4-0.5h0m-1-0.9h0m3.3 3.6h0m-4.1 1.1h0m3.5-3.9h0m-1.4-4.8h0m5.4 1.4h0m-5.7 2.2h0m2.4-4.2h0m2.1 5.8h0m-1.8-4.2h0m-3.9 6.3h0m0.1-3.7h0m7.4 1.2h0m-8.1-0.5h0m5.6-1.2h0m-2.8 2h0m1.4-0.1h0m-2.7 0.6h0m0.8-2.5h0" stroke="#c8d83c" stroke-width="0.8" stroke-linecap="square" fill="none" opacity="0.72"/>
</g>
<path d="M240.7 250.5H309.8M273.8 212.1V279.3" stroke="#555" stroke-width="0.9" fill="none"/>
<path d="M240.7 212.1V279.3H309.8" stroke="#666" stroke-width="0.8" fill="none"/>
<path d="M238.7 219.7h2M238.7 233.9h2M238.7 250h2M238.7 265.9h2M238.7 272.2h2M239.7 214.1h1M239.7 216.9h1M239.7 219.7h1M239.7 222.5h1M239.7 225.3h1M239.7 228.1h1M239.7 230.8h1M239.7 233.6h1M239.7 236.4h1M239.7 239.2h1M239.7 242h1M239.7 244.8h1M239.7 247.6h1M239.7 250.4h1M239.7 253.2h1M239.7 256h1M239.7 258.8h1M239.7 261.6h1M239.7 264.3h1M239.7 267.1h1M239.7 269.9h1M239.7 272.7h1M239.7 275.5h1M239.7 278.3h1M240.7 279.3v2M270.4 279.3v2M297.8 279.3v2M241.7 279.3v1M244.4 279.3v1M247.1 279.3v1M249.8 279.3v1M252.4 279.3v1M255.1 279.3v1M257.8 279.3v1M260.5 279.3v1M263.2 279.3v1M265.9 279.3v1M268.5 279.3v1M271.2 279.3v1M273.9 279.3v1M276.6 279.3v1M279.3 279.3v1M282 279.3v1M284.6 279.3v1M287.3 279.3v1M290 279.3v1M292.7 279.3v1M295.4 279.3v1M298.1 279.3v1M300.7 279.3v1M303.4 279.3v1M306.1 279.3v1M308.8 279.3v1" stroke="#555" stroke-width="0.55" fill="none"/>
<path d="M241.1 270.3v6" stroke="#222" stroke-width="1" fill="none"/>
<text x="235.2" y="222" font-size="6.4" text-anchor="end" fill="#2a2a2a" stroke="#2a2a2a" stroke-width="0.132">10<tspan dy="-3.1" font-size="4.9">5</tspan></text>
<text x="235.2" y="236.2" font-size="6.4" text-anchor="end" fill="#2a2a2a" stroke="#2a2a2a" stroke-width="0.132">10<tspan dy="-3.1" font-size="4.9">4</tspan></text>
<text x="235.2" y="252.3" font-size="6.4" text-anchor="end" fill="#2a2a2a" stroke="#2a2a2a" stroke-width="0.132">10<tspan dy="-3.1" font-size="4.9">3</tspan></text>
<text x="235.2" y="268.2" font-size="6.4" text-anchor="end" fill="#2a2a2a" stroke="#2a2a2a" stroke-width="0.132">10<tspan dy="-3.1" font-size="4.9">2</tspan></text>
<text x="233.7" y="274.5" font-size="6.4" text-anchor="end" font-weight="normal" fill="#333" stroke="#333" stroke-width="0.22" >0</text>
<text x="240.5" y="290.6" font-size="6.4" text-anchor="middle" fill="#2a2a2a" stroke="#2a2a2a" stroke-width="0.132">10<tspan dy="-3.1" font-size="4.9">2</tspan></text>
<text x="270.4" y="290.6" font-size="6.4" text-anchor="middle" fill="#2a2a2a" stroke="#2a2a2a" stroke-width="0.132">10<tspan dy="-3.1" font-size="4.9">3</tspan></text>
<text x="297.8" y="290.6" font-size="6.4" text-anchor="middle" fill="#2a2a2a" stroke="#2a2a2a" stroke-width="0.132">10<tspan dy="-3.1" font-size="4.9">4</tspan></text>
<text x="307.6" y="221.2" font-size="9.4" text-anchor="end" font-weight="bold" fill="#111" >32.7</text>
<text x="366.1" y="193" font-size="9.9" text-anchor="middle" font-weight="normal" fill="#222" stroke="#222" stroke-width="0.22" >Dmp1-TSC1</text>
<text x="366.1" y="204.3" font-size="9.9" text-anchor="middle" font-weight="normal" fill="#222" stroke="#222" stroke-width="0.22" >+anti-IL-19-CM</text>
<rect x="331.1" y="212.1" width="70.1" height="67.2" fill="#fff" stroke="#999" stroke-width="0.8"/>
<clipPath id="cg3"><rect x="331.5" y="212.5" width="69.3" height="66.4"/></clipPath><g clip-path="url(#cg3)">
<ellipse cx="386" cy="258.7" rx="13.2" ry="6.8" fill="#5a6ade" opacity="0.22" transform="rotate(-17.2 386 258.7)" filter="url(#bl2)"/>
<ellipse cx="385" cy="243.2" rx="12.9" ry="6.1" fill="#5a6ade" opacity="0.22" transform="rotate(-5.7 385 243.2)" filter="url(#bl2)"/>
<path d="M381 253.1h0m7.1 16.6h0m10.9-9.2h0m-6.1-9.3h0m-5.8 14.3h0m-3.9-14h0m11.4-2.6h0m-0.2 14.4h0m-9.9 5.4h0m-13.5-0.1h0m-1.4-9.4h0m11.7-10.8h0m5.5 20.8h0m-2.9 5.8h0m-19-9.8h0m23.1-15.7h0m-8.1 1.3h0m-16.1 14.8h0m36-17.9h0m-4.5 1.1h0m-29.9 15.9h0m13.8-11.4h0m0.5 14.5h0m9.5-0.1h0m-10-0.9h0m16.8-16.8h0m-26.9 10.6h0m13.3-9.6h0m10.3 12.8h0m1-24.4h0m-19.5 14.7h0m5.4 16.4h0m-8.9-12.7h0m27.2-4h0m-23.1 13.1h0m22.2-2.8h0m-26.4-0.1h0m19.1 0.1h0m-17.3-10.4h0m13.6 12.5h0m8.3 3.1h0m-23.5-11.4h0m2.6 6.9h0m-2.8-1.6h0m26.2 3.2h0m-25.5-2.9h0m25-0.5h0m-14.3 6.7h0m-5.7-15.1h0m18.9 9.4h0m-13.9 2.2h0m0.5 0.3h0m13.9-16.7h0m-5.3 15.8h0m8.2-5.4h0m-27.6-1.8h0m28.1 1.7h0m-18.4 5.5h0m-19.4 2.4h0m1.1-5.6h0m13.6 5.4h0m-8.8-15.7h0m-0.5 6.9h0m33.7-8.1h0m-23.8 14.8h0m18.7-3.3h0m-11.6 5.6h0m14.7-6.2h0m-23.5-4h0m-6.1 8.2h0m24.1-21.5h0m-22.8 23.4h0m27.6-15.2h0m-14.7-3.1h0m10.1 0.7h0m-21.1 16.4h0m6.7-17.3h0m-12 9.5h0m30.4 4.3h0m-1.2-26.6h0m-15.9 4h0m8.9 3.9h0m-9.7-2h0m5.3-3.7h0m-3.4 7.9h0m-3.7 3.1h0m0.6-7.9h0m0.1 6.6h0m19.8-5h0m-5.9-14.9h0m-4.2 11.7h0m1.7-4.4h0m-16.7 8h0m21.1-2.9h0m-20.5 0.9h0m2.1-3.5h0m2.1 10.5h0m1.2-10.1h0m3.3 1.4h0m9.7 3.9h0m-13.8 4.5h0m-1.4-3.3h0m23.1-6.2h0m-31 2h0m7.5-5.6h0m6.9 5.2h0m-8.5 1.9h0m24.2-0.4h0m-19.4-0.9h0m14 0.9h0m-20.8-0.1h0m14.9-6.9h0m-10.6 10h0m21.4-4.1h0m-15.4 1.8h0m14.2 4.1h0m1.7-19.6h0m-22.1 17.3h0m10.1 2.4h0m-12.4-1.9h0m18.6-10.6h0m-10 2.3h0m-22.9 12.2h0m29.6-7.5h0m6.5 6h0m-7.7-1.2h0m-3.6-7.3h0m-7 4.4h0m2.7-4.3h0m-10.8 1.2h0m1.9-0.2h0m10 9.1h0m6.9-13.2h0m4.1 3.2h0m2.6 4.9h0m3.7-1.3h0m-3.4 3.2h0m-5 0.2h0m1.8-2.4h0m-22-3.4h0m20.8-3.6h0m-25.4 10h0m12.5-1.6h0m2.2-5.3h0m0.1 4.7h0m14.6-7h0m-27.2 7.1h0m22.2-4.7h0m-8.2 8.7h0m-13.3 15.7h0m7.6-13.2h0m-11 12.7h0m10.5 13.2h0m-13.6-14h0m10.3 9.3h0m5.6-0.8h0m3.3-4.3h0m-6.4 1.7h0m-6.1-10.4h0m-15.1-0.8h0m26.8 9.5h0m14.3-7.8h0m-23.1-10.8h0m-10.2 19.2h0m26-17.4h0m-9.4 0h0m-14.7 8.5h0m36.7-2.4h0m-4.1 3.4h0m-27-11.7h0m26-6.1h0m-20.9 18.4h0m-19 9.4h0m24.3-17.8h0m-6 19.7h0m-16.8-2.9h0m12.8-8.6h0m6.3-6.4h0m21.9-8h0m-1.8 18.7h0m-16.9-12.4h0m-14.1 5.6h0m8.5 8.9h0m-8.2-8h0m-4.9 8.9h0m-4.3-11.1h0m37.9 5.6h0m-34-7.6h0m17.2 18.4h0m-11.3-22.9h0m-0.5 23h0m21-0.9h0m5-27.4h0m-17.4 23h0m-4.5-10.4h0m5 4.7h0m14.8-25.5h0m-19.6 22.7h0m27 1.5h0m-28.8 4.9h0m1 0.6h0m0.5-2.3h0m-8.5 5.5h0m28.9-31.2h0m-28.9 39.9h0m13.8-21h0m-6 6.1h0m25.2-17.3h0m-15.4 0.5h0m-14.8 12.2h0m30.8-16.8h0m-29.6 14.5h0m4.1 1.9h0m-11.6 2.5h0m12.6 8.1h0m-3.1 1.2h0m2.7-6.6h0m-11.8-3h0m9.5 5.7h0m-4.1 6.9h0m3.9-0.8h0m20.5-24h0m-23.3 23.2h0m34.8-29.2h0m-27.2 15.1h0m-26.3 13.1h0m3.9 0.6h0m10.5-6.7h0m-6-3.2h0m-3.4 6.3h0m-9.7 7h0m8.6-11h0m-12.4 2.7h0m4.9 10h0m-0.1-10.8h0m3.9 1.3h0m5.6 3.4h0m-4.2-6.1h0m14.9 4.5h0m-16.5-4.6h0m9.3 6h0m-3.8-5.1h0m-6.3 4.1h0m-0.5-1.7h0m16 0.2h0m-24.4 0.2h0m-0.2-3.1h0m17.2-2.5h0m-5.6 10.7h0m-13.7-1.3h0m2.8-2.3h0m23.5-4.5h0m-2 9.9h0m-23.5-3.7h0m17.2 0.7h0m-11.7 0.7h0m-6.9 1.9h0m-0.4-2h0m7.6-11.1h0m4.1 0.4h0m-8.5 13.2h0m7.5-6.6h0m6.1 7.3h0m3.5-6h0m-14.3 3.3h0m23.7-3.3h0m-13.6-0.5h0m7.7-15h0m-1.7 5h0m6.9-2.3h0m-6.3 11h0m-23.4 0.7h0m22.9-15.6h0m-5.3 11.1h0m8.5 3.3h0m-8.3-9.1h0m-14.6 11.5h0m19-0.2h0m-3.1-13.3h0m12.2 6.2h0m-2.8 2.9h0m-25.1 3.6h0m12 1.1h0m5.6-4.8h0m8-3.8h0m-21.7 15.9h0m0-10.9h0m-6.2 6.5h0m1.5 0.7h0m10-8.9h0m8.5-7h0m6.1 9.3h0m-25.4-2.6h0m10.9 9.1h0m-6.2-7.7h0m23.5-2.8h0m-20.6-0.8h0m-6.2 7.9h0m7.6 2.7h0m5.4-2.2h0m12.6-11.9h0m-23.8 10.7h0m9.2-2.7h0m-0.3-0.6h0m2.7 11.1h0m3.2-0.7h0m-0.1-10.4h0m-11.7 3.3h0m6.9-5.9h0m9.2-9.4h0m1.4 13.9h0m5.8-6.9h0m1.1 3.5h0m-19.4 4.5h0m13.9 0.7h0m-25.3 2.6h0m27.3-10.7h0m-24.4 12.8h0m26.5-10.2h0m-26.7 4.7h0m9.6-9.8h0m17.9 2h0m-19.3 9.5h0m-7.9-1.3h0m10.4-1.7h0m11.1-12.8h0m-15.2 16.7h0m19-12.4h0m-17 12.5h0m-10.7-0.3h0m27.5-15.2h0m-4.9 14.2h0m-1.7-6.9h0m1 2.3h0m-8.8 1.3h0m-1.7-3h0m6.8 3.8h0m5.6-8.7h0m-18.9 15.9h0m-1.2-7.6h0" stroke="#acacee" stroke-width="0.8" stroke-linecap="square" fill="none" opacity="0.72"/>
<path d="M387.5 253.2h0m9.1 7.2h0m-17.7-8.4h0m-4.2 3.4h0m0 10.5h0m4.8-1h0m3.6 1h0m-2.3-0.4h0m-12.9-6.2h0m15.8 10.6h0m3.2-19h0m4.6 0.5h0m8.5 9.5h0m-7.5 3.9h0m2.8-12.3h0m1 13h0m-22.7-10.4h0m-1.9 4.1h0m18.4 2.2h0m-13-1.4h0m-1.1 6.9h0m12.7-15.6h0m-14.1 10.7h0m-7.3 4.9h0m31.8-10.5h0m-24.3 0.5h0m0.9 13.5h0m-1.4-6.2h0m22.4-4.8h0m-23.6-1.3h0m23-2.7h0m3.2-1.9h0m-0.2 1.7h0m-11.6-3.4h0m-9.7 16.2h0m16.6-5.7h0m-2.8 0.6h0m-22.3 0.1h0m25.9-1.1h0m-6.7 6h0m8.1-20.1h0m-1.1 3.5h0m2.3 8.6h0m-18.9-6.2h0m12.7-5.1h0m-10.4 16.8h0m3.9-0.8h0m3.7-16.3h0m8.7 8.4h0m-9.9-4.4h0m-10.3 3.6h0m22.6 2.2h0m-33.9 6.4h0m22-14.5h0m-13.9 3.8h0m10.9-1.5h0m14.1 12.7h0m-27.9-1.4h0m1-3h0m12.4 4.4h0m-15.7 2.9h0m7.2-11.5h0m22.3-5.3h0m-17.4 1.3h0m13.4 9.7h0m3.5-9.6h0m-15-1.1h0m-2.1 1.2h0m16.7 6.9h0m-18.7-6.9h0m12.1-8.9h0m-19.7 7h0m11.2-14.7h0m9.3 4.8h0m-10.1 0.7h0m3.8 0.7h0m3 4.6h0m3.8-1.9h0m-8.6-5.2h0m-1.4 0.4h0m2.7 3.1h0m2.9-0.1h0m-10.6-0.5h0m-3.9 2.4h0m13 0.7h0m-2.9-0.9h0m4.2-4.7h0m-2.4 3.9h0m5-3.1h0m5 1h0m-14.6-4.7h0m-17.9 4.4h0m24.3-2.1h0m-4.3 0.5h0m3.7 0.4h0m-2.3 4.2h0m-2.7-4.4h0m12.1 2.6h0m-18.1 2.7h0m20.2-6.7h0m-13.7 5.8h0m12.3 3.8h0m-13.3-9.4h0m8.8-0.2h0m-7.9 7.3h0m-1.5-4h0m14.2 2.6h0m-14.3-3.8h0m8.7-0.9h0m5.9-6.4h0m0.4 7.1h0m-10.3 7.2h0m6.8-12.2h0m-8.7 12.9h0m2.2-3.4h0m7.4 5.6h0m-4.1-5.7h0m-9.8 5.4h0m19.2-3.3h0m-11.8-5.9h0m0 2.4h0m-9.7 1.3h0m1.3 5.8h0m16.6-8.2h0m-20.9-2.8h0m16.1 7.2h0m-20.2 10.2h0m6.9 7.6h0m9.4-14.1h0m8-1.4h0m-27.1 9.2h0m22.9-12.2h0m-15.1 18.9h0m12.4-19.1h0m0.3 19.4h0m9.7-11.6h0m-25.6 6h0m12.6 6h0m3.5-24.5h0m-21.4 30.7h0m4.1-12h0m-3.7 3.8h0m8.9-3.2h0m24.3-5.1h0m-5.9-15.2h0m-31.8 33.7h0m33.2-22.6h0m-11.7 22.9h0m6.4-25.4h0m-11-5.4h0m13.6 1h0m6.4 19.5h0m-8-22.7h0m-9.8 9.5h0m-14.9 10.3h0m2.4 5.2h0m25.6-17.7h0m-15.9 14.3h0m19-3.7h0m-14.2-7.6h0m-5.7 0.8h0m-5.5 13.5h0m26.2-16.2h0m-34.5 13.3h0m8.1-10.5h0m19.3 14.6h0m-36.7-0.5h0m32.3-17.8h0m-0.9-8.8h0m-12.3 14h0m-11.8 21.1h0m36.4-28.1h0m-49.7 13.6h0m-7.2 13.9h0m23.5-9.7h0m-7.8-6.1h0m-9.4 8.7h0m6.6 7.3h0m-13.2-4.1h0m13.1-12.8h0m5.4 5.4h0m-21.5 8.9h0m0.6 0.2h0m22.8-14.9h0m3.9 5.5h0m-5.3 4.3h0m0.2-1.6h0m-0.3 6.4h0m-4.9-18.9h0m4 1h0m-10.4 6.5h0m-9.9 16.7h0m1.3-2.5h0m14.6-8.3h0m-0.8-2.2h0m-15.4 3.3h0m0.8 2.3h0m21.2-2.7h0m1.3 3.2h0m-10.3-0.8h0m4.2-7.9h0m-12.6 12.3h0m21.7-13.5h0m-25.2 9h0m5 2.2h0m-0.2-4.4h0m4.8 4h0m4.8-10h0m9.6 7.3h0m-0.8-11.9h0m-24.6 9.3h0m5.5 2.3h0m5.1 1.6h0m-14.8-0.4h0m15.8 2.7h0m12.9-7.4h0m-29 3.9h0m13.5 1.6h0m8.7-12.8h0m-10.3 15.5h0m-4.6-5.6h0m20.3 2.1h0m-24.4 5.4h0m11.5-0.2h0m-10.6 1.4h0m18-8.2h0m-21.3 2h0m25.9-12.3h0m-24.7 17.7h0m0.7-6.9h0m8.1 1.8h0m0.9-7h0m15.7-6.4h0m-26.8 4.5h0m16.7 1.1h0m-2.5 3.7h0m-3.9 10.8h0m7.2-14.7h0m7.1-4.8h0m-14 13.4h0m14.2-12h0m-20.8 11.8h0m24.1-2.6h0m-25.4 5.3h0m-1.8-1.4h0m10.4-6.1h0m-2.8 9.7h0m3.3-12.8h0m-4 3.4h0m25.6 4h0m-23.3 1.6h0m-3.4 0h0m1.7 3.5h0m25.2-5.5h0m-8.1-9.6h0m-2.9-6h0m-4 21.2h0m-14.1-11.3h0m15.4 3.4h0m2 1.6h0m-4.1 3h0m12.9-8.7h0m-13.7 1.6h0m3-0.1h0m-17.1 9.8h0m10.4-2.6h0m-8.9-0.9h0m18.7-11.7h0m-14.5 8.8h0m4.8 2.3h0m14.3-5.9h0m-4.4 8.9h0m-8-12.5h0m-8.7 2.3h0m15.4 7.5h0m6.6-12.6h0m-15.4 16.2h0m0.7-5.1h0" stroke="#7a7ae6" stroke-width="0.8" stroke-linecap="square" fill="none" opacity="0.72"/>
<path d="M393.3 259.7h0m-20.6-0.4h0m22.7 1.1h0m-21.3 3.5h0m22.4-4.6h0m-6.6-6.6h0m3.3-6.9h0m-13.9 8.8h0m12.1 7.2h0m4.3-8.8h0m-20 7.6h0m0.5 3.2h0m17.7-3.2h0m-19.7 0.8h0m5.5-2.7h0m18 0.8h0m-2.8 0.3h0m-13.4 9h0m12.4-7.8h0m-17.5-0.9h0m18.4 1.2h0m-2.1-5.6h0m-19.4 7.8h0m13.3 3.1h0m6.8-12.8h0m-2.8-0.6h0m-1.8 11.2h0m-16.9 0h0m16.4-11h0m2.5 8.3h0m3.8-13.1h0m5.2 11.7h0m-14.8-7.8h0m9.2 7.4h0m-16.1 3.8h0m12.1-14.3h0m-4.3 0h0m14.1 4.3h0m-22.1 0.6h0m2.2 8.7h0m4.1-9.6h0m-4.5 11.5h0m-4.6-1.2h0m-1.3-3h0m18.2-8.9h0m-12.5 11.6h0m0.6 1.2h0m0.1-0.1h0m15.7-6.1h0m-21.7 4.3h0m21.5-7.9h0m-17.7 8h0m2.6-8.5h0m-1 0.6h0m-7.1 8.4h0m23-7.5h0m-3-3.1h0m4.2 10.3h0m-21.8-4h0m14.2-7.4h0m3.2-0.4h0m-3.3 1.9h0m-12.8 8.7h0m1.4 8.1h0m3.1-1h0m-2.4-14.2h0m3.2 7.6h0m-8.5 1.7h0m21-3.3h0m-9.1 4.4h0m3.3-0.5h0m3.4-3.6h0m3.1-10.1h0m-14.3 3.8h0m-3.1 9h0m17-5.1h0m1.1-3.3h0m-8.9 7h0m7.7 0h0m-17-8.8h0m12.7 7.9h0m-6.7 3.3h0m-4.6-6.2h0m19.3-1.5h0m-3.4-3.9h0m-7.5-2.4h0m6.2 2.9h0m-14.4 10.8h0m-4.5-0.9h0m0.5-11.5h0m14.7-1h0m5 2h0m-18.5 4.7h0m10.6-4.3h0m-13.4 10h0m12.4-13.4h0m5.4 4.3h0m1.5 6h0m-7-7.5h0m11.9-6.6h0m-6.6 4.6h0m5.5 3.1h0m-21.2 6.6h0m23.8-0.4h0m-16.7-6.1h0m2-0.8h0m-1.8 12.6h0m-7.3-4.8h0m-0.8-4.8h0m-5.3 5.2h0m7.2-3.7h0m18.7-0.3h0m-4.7-6.2h0m-4 13.6h0m6.8-2.4h0m0.9-5.2h0m-3.3 5.5h0m0.6-2.4h0m1.5-5.7h0m6.8 3.9h0m-12.6-7.4h0m-4.6 14.2h0m12.9-8.5h0m-14.5 10.9h0m1.3-15h0m-6.3 12.9h0m16.4-13.3h0m-16.1 3.9h0m1.4 1.9h0m-0.5 1h0m7.6 7.4h0m-0.3-0.7h0m-8.9-8.3h0m4-0.7h0m13.7-0.1h0m-9.1-4.5h0m2.8 15.7h0m13.4-8.2h0m-13.2 3.5h0m-7.9-8.7h0m-3.9 12.7h0m13.7-4.9h0m1.1-0.9h0m-6.7-9.2h0m1.2 17.3h0m-15.4-5.3h0m28-8.7h0m0.3-12.7h0m-16.5-1.1h0m2.3 3.3h0m5.6-0.6h0m-7.6-3.5h0m12.1-0.7h0m-4 7.3h0m-12.5-4.8h0m10.9-4.1h0m1.2 8h0m-3.2-2.1h0m-1-0.8h0m2.3-3.2h0m-6.1 3.5h0m-2 0.6h0m1.7-0.9h0m-6.3 2.3h0m19.6-2.1h0m-9.5-2.2h0m8.8 5.4h0m-11-4.2h0m4.5-0.6h0m-7.1 0h0m7.4 7.2h0m1.6-7.5h0m1.7 4h0m-7.2-3.7h0m-4-0.7h0m8.6 11h0m-5.5-9.7h0m1.2 1.5h0m-6.7 3.2h0m5.9-1.3h0m-8-2.8h0m7.7-0.5h0m-3-0.8h0m6.4-0.8h0m-5.8 3.9h0m4.3-1.1h0m0.3 4.1h0m5.1-6.9h0m-12.4-2.8h0m12.9 5.5h0m-4 0.5h0m-2.5 0.5h0m-1-2.4h0m-5.9 6.6h0m10.3-9.8h0m8.2 1.8h0m-13.3 1.6h0m-8.8 2.3h0m19.4 1.1h0m1.5-5.5h0m-3.2 5.2h0m-9.5-0.6h0m5-3.6h0m-4.2 1.7h0m3.8-1.1h0m-0.4 22.8h0m-8 2.5h0m-1.8-5h0m1.5 0.8h0m16.2-8.4h0m-0.8-0.1h0m-0.1-0.6h0m-2.1-3.8h0m-15.4 13.5h0m13.5-12.9h0m-13.1 5.1h0m-3.6 3.9h0m0.2 1.9h0m4.1 2h0m-10.5-7.7h0m19.5-4h0m-8.9 4.9h0m2.8-2.1h0m17.8-2.4h0m-4.3-4.1h0m-29.9 11.1h0m29.7 0.9h0m-11.5-6.1h0m-7.1 3h0m7.4-10.1h0m12.2 5.9h0m-16 0.7h0m5.3-3.8h0m-10.7 8.8h0m17.2-7.5h0m-7.9 12.9h0m1.7-11.6h0m2.4-7.3h0m-0.9 17.7h0m-9.3-4.7h0m3.2-5.7h0m-6.8 2.2h0m8.3-5.9h0m2.2 4.6h0m4.6-1.9h0m-3.9 3.4h0m-11 9.1h0m-13 2.1h0m26.6-4.9h0m3.7-10.6h0m2.9 0.1h0m-3.7-0.9h0m-11.7 16.6h0m2.2-8.5h0m6.7-12h0m-3.8 6.8h0m-5.5 13.3h0m-3.4-15.9h0m4.7 10h0m15.7-7h0m-8 11.3h0m6.3-16.3h0m-4.9-7.8h0m-29.5 17.6h0m8 12.2h0m-31.9-4.4h0m13.2 5.4h0m-1.9 0.6h0m-5 4.2h0m5-11h0m-5.5 4.2h0m18.8-7.8h0m-10.1 9.5h0m4-8.3h0m7.9-5.8h0m-22.2 19.2h0m15.5-14.4h0m5 3h0m3.8-6h0m5.2 12.8h0m-11.5-6.5h0m-6.1 1.9h0m14.5-0.1h0m-3.4-6.3h0m-24.6 8.6h0m8.7-0.7h0m3.8-4.7h0m-4.5 12.9h0m-3.8-5.4h0m1.8-4.2h0m4.5 3.8h0m10.1-4.7h0m-10.6 10.5h0m-8.2-7h0m16.3 0.3h0m1 3.3h0m-19.4-5.4h0m27.5 0.6h0m-10.1-1h0m4.3-8.2h0m-9.2 9.9h0m-0.3-3.3h0" stroke="#3c4cd6" stroke-width="0.8" stroke-linecap="square" fill="none" opacity="0.72"/>
<path d="M379.5 264.7h0m-0.6-5.1h0m-3.6 1h0m4.3 2.9h0m15.2-5.6h0m-4.8 1.7h0m-5.6 4.9h0m-4.2 0.7h0m2.3 0.3h0m10.1-9.1h0m4.4-0.6h0m-18.4 4.7h0m1.3-3.3h0m14.3-2h0m-16 7.1h0m2.3-5.5h0m1.6-3h0m-1.7 9.3h0m9.2-7.8h0m5-1.3h0m-7.3-0.6h0m-11.3 6.5h0m12.3 1h0m-0.9-6.5h0m-9.4 10.1h0m2.4-8.6h0m12.7-0.3h0m-16 1.2h0m1.3 4.3h0m2-4.6h0m3.2 6.4h0m-5.1-2.1h0m0.6 1.8h0m5.5-6.9h0m-6.8 6h0m10.4-7.1h0m-7.4 1.7h0m-2 2.2h0m8.1 4.3h0m-4.3 0.8h0m11.3-7h0m-4.3 4h0m3.9-1.3h0m-2.4 0.9h0m-3.3-5h0m2.6 4.4h0m-8.8 5.6h0m0.6 1h0m4-10.6h0m-3.5-2.4h0m9.6 1.8h0m0.8 1.9h0m-3.6-0.6h0m-0.4-2.1h0m-2.5-0.8h0m-7.8 6.3h0m5.5-5h0m-2.9 1.6h0m3.3-1.9h0m9.5 5.5h0m-8.3 3.7h0m2.1-9.7h0m-0.8 2.1h0m-0.3 3.9h0m-7.9 3.8h0m-2.7-1.2h0m10.3-9.6h0m9.1 3.4h0m-15.5 7h0m9.8-8h0m-7.9-0.2h0m12.3 5.1h0m-3.1-5.5h0m-9.9 2h0m-6.3 3h0m14-7h0m8.5 0.5h0m-1.7 4.4h0m-10.8-3.8h0m-2.9 1h0m4.8 8.6h0m4.1-5.4h0m-15 4.8h0m17.1-6h0m0.9 0h0m-13.6 5.6h0m-4-6.4h0m1.2 3.9h0m19.2-4.5h0m-5 2.5h0m-1.4 3.7h0m1.9-1.1h0m-5.5-6.2h0m-2.3 0.3h0m7.4 1.2h0m-7.6-1.7h0m-4.4 1.4h0m-0.7 5.7h0m11.4 1.9h0m-5.6 0.5h0m-7.9-7.4h0m5.7 7h0m0.8-0.1h0m-0.9-9h0m-4.9 5.6h0m12.1-15.6h0m6 2.5h0m-8.6-3.7h0m5.1 13.4h0m-5.5 6.6h0m-1.1-2.2h0m6.6-3h0m0.9-1.4h0m-9.6 5.2h0m-2-6h0m10.9 1.8h0m1.3-5.5h0m-11.4 11.3h0m9-19.6h0m-13.1 12.7h0m14.4 3.3h0m1.4 2h0m1.7-5h0m-7-3.2h0m-0.2 9.7h0m-5 0.6h0m9.8-10.9h0m-17 12.6h0m2.4-8.2h0m15.2 2.7h0m-14.4-1.1h0m-0.7 1.3h0m1.5 0.4h0" stroke="#3466d6" stroke-width="0.8" stroke-linecap="square" fill="none" opacity="0.72"/>
<path d="M388.1 261.8h0m-9.9-4.3h0m3.4 1.3h0m6.8-1.8h0m-11.2 3.4h0m10.9 1.1h0m-1.7-6.3h0m-4.6 6.1h0m11.7-3.9h0m-12.5 1.2h0m-0.2 0.5h0m-3.1 2.1h0m5.2-0.1h0m8.3-2.7h0m-2.4-3.3h0m-0.7-0.3h0m0.8 0.5h0m2.2 5.8h0m-2.7-1.1h0m5.1-3.9h0m-5.9 6.8h0m1.5-7.8h0m-9.9 5.5h0m10.7-5.9h0m-9.1 3.8h0m6.8 3.3h0m-3.7 0.7h0m-6.5-2.8h0m10.9 2h0m-5.7-3.8h0m-4 7.4h0m5.9-3.5h0m0.7-6.1h0m-10.3 6.4h0m13.1-0.5h0m0.9-0.1h0m1.7-2h0m-8.2 2.7h0m-1.3-5.5h0m4.8-1.4h0m-6 7.1h0m9.1-6.7h0m1.7 0.6h0m-3 0h0m4.2 0.9h0m-14.5 3.9h0m13.7-1h0m-8.2-3h0m12.4-1.2h0m-13.3 4h0m11.5-0.8h0m-4.9 0.9h0m-3.8-4.9h0m-1.3 7.8h0m8.7-4.9h0m-3.9-1.8h0m-9.6 0.4h0m10.7 3.8h0m-10.2-2.6h0m4.2 4.7h0m3.7-2.5h0m-5.9-2.3h0m11.5-1.8h0m-8.7 6.4h0m6.7-7.9h0m3.2 1.8h0m-9.7-0.3h0m-4.7 6.9h0m2.2-0.2h0m2.6 0.1h0m4.5-1.9h0m-12 2.2h0m8-1.8h0m-1.7-16.4h0m3.8 11h0m-0.6-0.4h0m-7 8.4h0m-0.9-4.1h0m6.4 3.7h0m5.5-8.1h0m-6.8 0.2h0m9 2.7h0m-15.5 3.4h0m7.1-6.2h0m-5.2 3.5h0m6.5 2.7h0m-6.8-2.7h0m2-2h0m0.1 2h0m-0.2-1.8h0m9.5-2.8h0" stroke="#3494d0" stroke-width="0.8" stroke-linecap="square" fill="none" opacity="0.72"/>
<path d="M389.1 262.3h0m-7-4h0m6.5-3.4h0m-2.8 1.5h0m-2.9 0.9h0m-1.4 0.5h0m3 3.6h0m1.9-6.7h0m-3.3 4h0m2.9-2.9h0m-2.7 2h0m8.4 0.4h0m-8.3 1.2h0m3.4-4.1h0m-1.6 3.1h0m-1.3 3.6h0m-2.5 0.4h0m2.9-0.9h0m-1.1-0.9h0m-2.7-2.1h0m0.1 2.1h0m2.6 1.6h0m-3.2-4.8h0m2.9-1.6h0m-1.8 2h0m3.7 4.3h0m-3.4-1.1h0m3.4-3.8h0m0.7-0.3h0m4.3 2.4h0m-1-1.8h0m1.5-0.1h0m-4.9-1.1h0m-4.2 5.5h0m0.8-2.4h0m9.2-0.5h0m-10.7-1.7h0m3.2 4.1h0m-2.4-3.2h0m4.1-2.8h0m6.3 4.1h0m-2.7-1.6h0m-9.5 5.3h0m2.2-1h0m6.2-3.6h0m0.4 1.6h0m-5.1 0h0m-3-1.1h0m6.9-3.8h0m-5 2h0m2.7 3.5h0m2.4 0h0m5.4-3.5h0m-3.4-1.7h0m-1.2-0.3h0m2.3 0.9h0m-5.6 1h0m-3.5 2.9h0m-0.5 0.3h0m4.1-4.4h0m0 0.1h0m-4.7 4h0m8.9 0.2h0m0-3.8h0m-10.8 4.9h0m2.1 0.9h0m3.4-1.1h0" stroke="#3cacb0" stroke-width="0.8" stroke-linecap="square" fill="none" opacity="0.72"/>
<path d="M389 256.8h0m-2 2.1h0m4.2 0.4h0m-8.3 1.2h0m5.9-2.2h0m-3.8-0.1h0m-2 0.1h0m8.3 1.5h0m-8.3 2.1h0m-1.3-2.3h0m7.9-2.7h0m-9 3h0m8.8-3.5h0m-3.2 3.8h0m-5.6-2h0m3.3 2.8h0m2.3-3h0m2.1-1.7h0m3.4 3.5h0m-7.7-2.9h0m2.3-0.7h0m0.2 4h0m-0.1-0.1h0m-1.4-1.8h0m4.7 0.7h0m-4.4 0.7h0m0.5 0.7h0m-1.7-1.6h0m-1.1-1.7h0m5.2 1.3h0m-4.8 0.1h0m3.7-2.4h0m-3 5.2h0m1.4-3.3h0m-3.9 4.4h0m1.1-3.2h0m-0.3 1.9h0m2.2-3.4h0m-3.6 1.9h0" stroke="#6cc250" stroke-width="0.8" stroke-linecap="square" fill="none" opacity="0.72"/>
<path d="M385.2 255.6h0m-1.5 3.6h0m5 0h0m-3.4-0.9h0m-0.3-1.9h0m-2 1.8h0m6.1-0.8h0m-1.8 3.2h0m-1.8 0h0m-4.5-0.5h0m6.5-1.4h0m-1.5 0.2h0m-2.5 1.6h0m4.4-4.7h0m0.4 3.2h0m-7.1-1.1h0m4-0.2h0m-2.7 1.6h0m1.8 1.6h0m-0.8-3.6h0m0 1.1h0m-0.8 0.1h0m2.1 0.9h0m1.8 0.3h0m0.6-0.4h0m0.5-1.9h0m-5.5 1.8h0m3-0.6h0m0.8-1h0m-2.1 0.8h0m2.1-1.3h0m-2.5 0.3h0m6.4-0.5h0m-5.5 3.4h0m1.4-1.3h0m3 0.7h0m-4.6 0.6h0m1.9-1.8h0m-2.1 0.5h0m3.7-1.8h0m-5 1.5h0m4.7 0.6h0m-6-0.2h0m4.7 1.4h0m1.4-0.5h0m-1.6-2.7h0m0.6 1.3h0" stroke="#c8d83c" stroke-width="0.8" stroke-linecap="square" fill="none" opacity="0.72"/>
</g>
<path d="M331.1 250.5H401.2M364.5 212.1V279.3" stroke="#555" stroke-width="0.9" fill="none"/>
<path d="M331.1 212.1V279.3H401.2" stroke="#666" stroke-width="0.8" fill="none"/>
<path d="M329.1 219.7h2M329.1 233.9h2M329.1 250h2M329.1 265.9h2M329.1 272.2h2M330.1 214.1h1M330.1 216.9h1M330.1 219.7h1M330.1 222.5h1M330.1 225.3h1M330.1 228.1h1M330.1 230.8h1M330.1 233.6h1M330.1 236.4h1M330.1 239.2h1M330.1 242h1M330.1 244.8h1M330.1 247.6h1M330.1 250.4h1M330.1 253.2h1M330.1 256h1M330.1 258.8h1M330.1 261.6h1M330.1 264.3h1M330.1 267.1h1M330.1 269.9h1M330.1 272.7h1M330.1 275.5h1M330.1 278.3h1M331.1 279.3v2M361.2 279.3v2M389.1 279.3v2M332.1 279.3v1M334.8 279.3v1M337.5 279.3v1M340.3 279.3v1M343 279.3v1M345.7 279.3v1M348.4 279.3v1M351.2 279.3v1M353.9 279.3v1M356.6 279.3v1M359.3 279.3v1M362.1 279.3v1M364.8 279.3v1M367.5 279.3v1M370.2 279.3v1M373 279.3v1M375.7 279.3v1M378.4 279.3v1M381.1 279.3v1M383.9 279.3v1M386.6 279.3v1M389.3 279.3v1M392 279.3v1M394.8 279.3v1M397.5 279.3v1M400.2 279.3v1" stroke="#555" stroke-width="0.55" fill="none"/>
<path d="M331.5 270.3v6" stroke="#222" stroke-width="1" fill="none"/>
<text x="325.6" y="222" font-size="6.4" text-anchor="end" fill="#2a2a2a" stroke="#2a2a2a" stroke-width="0.132">10<tspan dy="-3.1" font-size="4.9">5</tspan></text>
<text x="325.6" y="236.2" font-size="6.4" text-anchor="end" fill="#2a2a2a" stroke="#2a2a2a" stroke-width="0.132">10<tspan dy="-3.1" font-size="4.9">4</tspan></text>
<text x="325.6" y="252.3" font-size="6.4" text-anchor="end" fill="#2a2a2a" stroke="#2a2a2a" stroke-width="0.132">10<tspan dy="-3.1" font-size="4.9">3</tspan></text>
<text x="325.6" y="268.2" font-size="6.4" text-anchor="end" fill="#2a2a2a" stroke="#2a2a2a" stroke-width="0.132">10<tspan dy="-3.1" font-size="4.9">2</tspan></text>
<text x="324.1" y="274.5" font-size="6.4" text-anchor="end" font-weight="normal" fill="#333" stroke="#333" stroke-width="0.22" >0</text>
<text x="330.9" y="290.6" font-size="6.4" text-anchor="middle" fill="#2a2a2a" stroke="#2a2a2a" stroke-width="0.132">10<tspan dy="-3.1" font-size="4.9">2</tspan></text>
<text x="361.2" y="290.6" font-size="6.4" text-anchor="middle" fill="#2a2a2a" stroke="#2a2a2a" stroke-width="0.132">10<tspan dy="-3.1" font-size="4.9">3</tspan></text>
<text x="389.1" y="290.6" font-size="6.4" text-anchor="middle" fill="#2a2a2a" stroke="#2a2a2a" stroke-width="0.132">10<tspan dy="-3.1" font-size="4.9">4</tspan></text>
<text x="400.8" y="221.6" font-size="9.4" text-anchor="end" font-weight="bold" fill="#111" >6.9</text>
<text x="93.2" y="363.5" font-size="9.9" text-anchor="middle" font-weight="normal" fill="#222" stroke="#222" stroke-width="0.22" >control-CM</text>
<rect x="58.3" y="371.2" width="69.9" height="66.9" fill="#fff" stroke="#999" stroke-width="0.8"/>
<clipPath id="cg4"><rect x="58.7" y="371.6" width="69.1" height="66.1"/></clipPath><g clip-path="url(#cg4)">
<ellipse cx="114.5" cy="406" rx="13.2" ry="6.8" fill="#5a6ade" opacity="0.22" transform="rotate(-17.2 114.5 406)" filter="url(#bl2)"/>
<ellipse cx="113" cy="415" rx="14.7" ry="7.6" fill="#5a6ade" opacity="0.22" transform="rotate(-11.5 113 415)" filter="url(#bl2)"/>
<path d="M122.4 411.1h0m-20-8.3h0m23.3-0.3h0m-22-1h0m-4.8 11.2h0m-0.1-9.7h0m16.5-4.4h0m-11.5 6.4h0m20.5-5.6h0m-14-0.4h0m15.3-2.6h0m-8.2 0.8h0m-10-6.7h0m10.9 8.5h0m-8.5 0.4h0m12.8 0.8h0m-9.6-7.3h0m-12.8 16.6h0m20.5-11.6h0m-5.4-1.3h0m2.8 21.6h0m-22.2-0.4h0m16.7-21.9h0m-19.6 20.8h0m29.3-24.6h0m-23.7 14.4h0m3 3.1h0m3.2-9h0m2-2.8h0m-3.1 5.3h0m-5.5 7.3h0m27.9 3.2h0m-25.3-5.2h0m19-9h0m-4.6-1.9h0m1.4-1.2h0m1.2 25h0m-7.5-22.6h0m-16.3 6.5h0m15.5-7.9h0m15.9 6.6h0m-31.7 9.7h0m5.5-1.9h0m-0.2-6.7h0m-4.7 3.8h0m27.6-6.9h0m-20-0.2h0m-8.1 6.1h0m5.4-3.5h0m19-5.3h0m-20.7 16.8h0m28.7 4.7h0m-14.7 1.5h0m-7-1.8h0m-7-8.4h0m17 11.9h0m-1.8-3.7h0m7.5 1.3h0m-3.2-3.5h0m-31.4 1h0m19.3 7h0m-2.7-9h0m17.5 13.5h0m-14.8-7.7h0m2.2-1.1h0m10.7-4.3h0m-26.7-5.2h0m14.1 5.1h0m-5.3 3.2h0m-6.4-8.3h0m2.3 12.1h0m26.8-3.9h0m0.8-0.4h0m-6.8 1.2h0m6.2-3.5h0m0.1 1.8h0m-26.5-0.6h0m16 2.3h0m-12.2 1.3h0m9.3 3.6h0m2.3-7h0m-4.4 8.8h0m8.1-3h0m3.4-9.1h0m-15.5 10.4h0m17.3-8.3h0m-19.5-1.4h0m26 4.3h0m-12.2 2.2h0m7.5-6.7h0m-23.4 9h0m15.6-2.7h0m-11.1-2.5h0m14 0.2h0m-12.5-3h0m2.2 6.9h0m2-7.5h0m17.3 0.7h0m-34.5 10.8h0m3.4-12.4h0m30.2 1.9h0m-28.9 6.3h0m25.9-1.3h0m-21.9-8.5h0m22.9 2.6h0m-52.2 6.2h0m10.4 6.4h0m9.8-24.5h0m35.4 8.4h0m-35.2-12.6h0m11.7 4.8h0m-16.2 20.8h0m9.4-27h0m-3 1.4h0m9 17.2h0m-5.2-3.1h0m-6.4 12.9h0m1.1-5.8h0m-7.9 4.3h0m38.9-17.3h0m-28.1 17.9h0m8.2-26.4h0m-16.3 15.9h0m12.9 9.2h0m15.6-1.9h0m2.4-36.1h0m-29.2 24.6h0m2.5 14.1h0m28.7-34.7h0m-7.8 28.4h0m-17.9 1.8h0m15.3 2.3h0m-11.7-18.8h0m8.4 12.9h0m-2.5-14.6h0m-14.8 14.9h0m-0.7-12.6h0m5.2 1.8h0m8.4 12.9h0m-9.7-3.6h0m-17.8 19h0m21.5-33.7h0m5.6 17.8h0m-6.1 7.4h0m18.9-8.8h0m-23.9 3.4h0m20.7-25.8h0m-23.5-4h0m16.6 32h0m15.3-6.5h0m-14.6 0.3h0m-6.4-1.3h0m-5.8-6.1h0m9.8 16.6h0m5.1-2h0m-0.2-3h0m-1.2 1.7h0m-8-15.2h0m-4.3 10.7h0m10.8 4.8h0m-1.7-17.8h0m-7 7.2h0m8.6 4.8h0m-1.2 11.4h0m21.1-35.9h0m-24.9 26.7h0m-1.7-1.5h0m8.2 11.4h0m-15.9-14.3h0m6.6 2.2h0m3.5-6.6h0m-11.8 5.1h0m13 4.1h0m-14.8 7.9h0m3.8-5.7h0m3.6-12.1h0m0.4 0.6h0m11.3-12.4h0m2.7 22.1h0m0.9-0.9h0m1.2 1.9h0m-17.9-19.5h0m-17.4 20.5h0m-11.3 2.5h0m10.6-0.4h0m-8.3 6.2h0m6.8-12.2h0m-13 13.2h0m13.7-16.7h0m-13.4 14.1h0m20.2-10.9h0m-16.1 11.5h0m21.3-17.3h0m-13.6 8.6h0m1.5 4.9h0m14.3-9.9h0m-7-0.8h0m-11.8 14.7h0m-0.6-14.1h0m3 10.6h0m-3.7-3.5h0m9.3-4.1h0m6.9-2.3h0m-3.5 1.6h0m-9.2 2.3h0m1.7-0.4h0m16.1-2.6h0m-10.8-2.8h0m12.2-3.6h0m-19.4 17.6h0m15.9-4.2h0m-15.7-3.5h0m1.8 3.2h0m8 2.5h0m0.3-13.5h0m-14.5 10.9h0m4.1 0.2h0m14.9-17.3h0m-11.2 14h0m-9.9 4.5h0m-0.4 5.9h0m25.6-21.5h0m-10.4 5.1h0m-10.2 1.5h0m1.4 7.6h0m12.1 2.7h0m7-9.3h0m-2.6-5.8h0m-18.2 7.8h0m-6.2 14.4h0m1.6-12.2h0m16-1.7h0m-3.5-0.2h0m14.3-1.6h0m-25.7 7.2h0m1.8-2.9h0m16.9-10.7h0m-10.8 14.6h0m9.9-14.1h0m-21 13.2h0m15.1 0.8h0m-1.7 2h0m-1-7.9h0m12.4 2.4h0m-23.3 0.4h0m27.4-6.4h0m-28.2 12.7h0m5.4-4.7h0m9.9 3h0m-3.5-10.7h0m-11.7 13.2h0m23.7-3.9h0m-4.5-5.5h0m-19.4 13.3h0m20.9-18.9h0m-9.1 5.8h0m2.1 8.4h0m-8.7-7.2h0m13-11.9h0m-9.8 21.1h0m5.2-11.3h0m-4.3-0.7h0m-7.7 4.4h0m18.7-3.3h0m-11.7-7.7h0m-7.2 19.3h0m-2.5-8.6h0m26.1-7.4h0m-24.8 16.9h0m29.2-19.9h0m-3.2 4.5h0m-18.3 8.3h0m-3.2 0.6h0m15.7-19.2h0m-15.4 23h0m-6 1.3h0m1.4-5h0m14.3-9.2h0m1.8 1.4h0m10.3-0.7h0m-25.1 14.2h0m15.9-9.4h0m-13.2-1.2h0m-4.6 0.6h0m7.2 1.9h0m19.7-7.5h0m-27.2 6.4h0m23.6-5.6h0m-20.8 14.7h0m11.2-3.6h0m-8.9-2.3h0m11.1-6.2h0m-1 0.4h0m-16.1 8.3h0m13.2-7.9h0m17.6-7.3h0m-30.4 10h0m9.1-3.9h0m-4.7 4.1h0m28.4-8.1h0m-28.6 8h0m20.4-14.9h0m-4.8 5.8h0m5.3 3.5h0m-7.2 10.3h0m-4.8-3.2h0m-14.9 2.6h0m27.3-15.2h0m4.3 4.8h0m-16.3 10.2h0m11.6-20h0m-22.3 16h0m19.4-9.4h0m-24.4 11.8h0m4.1 7.3h0m-1.2-5.1h0m12.6-3.4h0m-8.5 3.5h0m1-5.8h0m-8.3 5.6h0m14-9.5h0m2.1 5.8h0m-6.7 5.2h0m-0.3-8h0" stroke="#acacee" stroke-width="0.8" stroke-linecap="square" fill="none" opacity="0.72"/>
<path d="M102.8 403.9h0m17-3.8h0m-6.9-1.6h0m4.3 0.6h0m-16 11.1h0m23.5-3.5h0m-3.7 3.5h0m-7.8-9.5h0m-14.6 4.6h0m-1.2 6.7h0m3.9-7.6h0m6.7-1.7h0m7.4-2.4h0m0.4 14.4h0m10-15.6h0m-17.3 2.4h0m16.7-3.4h0m-0.3 4.3h0m-7.8-4.3h0m8.6 6.6h0m-25.7-2.3h0m1.7 3.8h0m-1.4-0.6h0m17.9-7.6h0m5.4 3.5h0m-22.5 3.9h0m5.1-2.3h0m3.9-7.3h0m10.1 2.8h0m-26.3 16.9h0m20.3-14.1h0m10.4-8h0m-26.9 22h0m17.2-14.9h0m3.8-2.7h0m6.6 8.9h0m-22.1-2.5h0m0.7-3.6h0m21.6 4.4h0m-13.7-4.7h0m-8.8 1.3h0m16.9 8.7h0m-12.7 5h0m17.1-14.5h0m-15.6 1.1h0m15.8 2.5h0m-14.4-3.2h0m-13.7 4.6h0m30-7.6h0m0.6 6.6h0m-5.7-6.1h0m2.7 8h0m2.7-1.6h0m-21.3-3.6h0m16.2-8h0m-3.6 4.4h0m-7.9 3.8h0m-7.8 3.4h0m3.3-3.5h0m-8.8 0.3h0m4-1.6h0m20.3 0.3h0m-4.3-3.3h0m2.4-0.7h0m0.3 16.6h0m-18.3 8.3h0m18.7-3.1h0m-17.1-5.4h0m-1.1 8.7h0m8.4 1.5h0m9.4-2.2h0m-28.6-6h0m24.6 0.7h0m-3 2.7h0m5.4-3h0m-1.8 1.3h0m4.7-3.7h0m-10.3 3.9h0m-6.5-1.9h0m13.2 2.5h0m-14.1-0.8h0m-1.9 0.6h0m16.9-1.6h0m2.6-14.7h0m-23.1 20.7h0m13.5-0.4h0m-0.5-4.5h0m-11.3-3.2h0m12.1 6.4h0m-6.3-3.8h0m6.4-0.5h0m10.3-2.6h0m-17-6.1h0m-7.8 5.6h0m28.4 1.6h0m0.9-0.2h0m-1.2-14.6h0m-18.3 22.3h0m0.7-18.8h0m16 6.8h0m-14.9 12.7h0m-9.3-3.2h0m18.4-0.7h0m0.4-3.4h0m9.2 6.4h0m-17.9-2.8h0m4.8-3h0m-12.7-4.3h0m3.5 5h0m2.5-1.6h0m12 1.6h0m-13.7 8.3h0m1-5.7h0m-8.8-0.9h0m21.6-22.5h0m-26 25.5h0m7.6-3.2h0m-5.1-17.1h0m4 12.9h0m2.1-2.8h0m6.1-10.4h0m-3.1 16.5h0m-1 1.6h0m13.8 1.8h0m-26.5-15.2h0m13.6-5.4h0m-0.8 17.9h0m15 9.8h0m-11.3-10.1h0m-15.9 11.9h0m23.7-30h0m-11.6 4.8h0m19.8 8.7h0m-21.8-10.7h0m0.4 14.7h0m-0.5-1.7h0m3.5 3.6h0m-15.6-1.8h0m13.7-14.3h0m14.2 11.5h0m0.2 4.9h0m-15.6 3.6h0m16.1-4.3h0m-15.3-2.3h0m19.9-6h0m-18.1 13.4h0m-3.4-14.8h0m9.4 15.2h0m1.4-22.9h0m12.7 11.8h0m-0.3-15.4h0m-27.1 13.5h0m-6.9 20.7h0m6-7.1h0m10.7-3.7h0m1.3 2.6h0m-48.3 8.1h0m14-12.4h0m9.8 6.3h0m13.2-3.2h0m-21.7 2.3h0m6.2-7.4h0m6.2-7.9h0m-11.6 13.7h0m2.2 1h0m8.6-6.8h0m-15.2 8.1h0m3.8-7.9h0m7.1 6h0m-12.1-0.6h0m7.8-0.2h0m13.9-5.3h0m-18.3 3.7h0m2.5-5.3h0m10.8 2.8h0m-12.9 0.1h0m-8.6 8.2h0m22.6-13.7h0m-4.7 7.4h0m-25.1 1.4h0m15 4.7h0m-1.1-2.8h0m-8.8 1.5h0m17.2-12.6h0m8.1 4.5h0m-19.7 6.1h0m18-10.6h0m-6.2 1h0m-10.3 14.7h0m-5.1 0.3h0m17.9-5.4h0m-2.8-2h0m-12.7 9.7h0m9.9-6.8h0m-3.7 3.8h0m-4.7-4.2h0m4.5-3.1h0m-0.8 2.8h0m9.1 0h0m6.2-10.4h0m-18 15.1h0m3.4-3.3h0m-4.6 2.5h0m2.5 1.3h0m12.7-12.6h0m-11.3 6.7h0m-3 10.5h0m16-28.5h0m-4.2 13.8h0m-10.6 8.7h0m8.8-10.1h0m0.6 10.1h0m-15.8-2.4h0m3.2-2.8h0m6 0h0m7.3-4.9h0m-13.2 16.7h0m-3.9-0.8h0m-3 2.9h0m8-8.2h0m3.8 3.8h0m-13.5 3.5h0m14.6-17h0m-14.4 11.1h0m5.8-4.7h0m19.2-7.4h0m-19.5 10.5h0m1-6.7h0m6.6 0.8h0m10.9-8h0m-20.5 7.8h0m29.9-1.3h0m-6.3 0.1h0m-19.5 5.4h0m24.6-1.9h0m-15.9-1.1h0m-6.5 3.5h0m18.6-14.9h0m-12.9 5h0m9.1 5.2h0m-8.7-2.5h0m-6.8 2.4h0m-6.6 6.6h0m21.2-4.4h0m-3.9-9.2h0m4.5 0.1h0m4.2-1.5h0m-8 3.3h0m3.5-2.2h0m-6.4-1.4h0m-13 14.8h0m2 3.1h0m23.8-14.7h0m-16.2 5h0m1.6 6.9h0m-10.4 2.6h0m19.1-12.6h0m-22.3 12.7h0m5.2-1.6h0m23.2-12.9h0m-10.1-5.5h0m2.6 8.1h0m-6.5-1.7h0m-16.3 17.3h0m21.5-23.1h0m-11.8 14.2h0" stroke="#7a7ae6" stroke-width="0.8" stroke-linecap="square" fill="none" opacity="0.72"/>
<path d="M115.1 412.6h0m6.9-12.8h0m2.1 9h0m-16.2 3.4h0m-5.3-5.1h0m0.4 4.1h0m15.6-0.2h0m-12.9-6.8h0m-0.1 2.3h0m1.7-3.3h0m6.5 11.7h0m13.5-13.1h0m-6.1 2.5h0m0.1-3h0m-18.9 9.2h0m2-3.5h0m17.7-5.1h0m3.3 1.8h0m-20.5 2.6h0m11.1 4.8h0m-0.7 0.6h0m7.9-5.8h0m-14.5-1.5h0m-0.4 0.3h0m-2.8 0.2h0m21.9-4.7h0m-19.6 14.2h0m12.6-14.4h0m-21.3 12.5h0m23.4-11.1h0m-13.8 12.6h0m13.2-4.3h0m-1.5-6.7h0m-7.8 10.6h0m-6-11.6h0m1.4 2.5h0m3.4-2.7h0m-3.7 5h0m10.4-9.1h0m0.7 1.6h0m-23 10.7h0m18.6-12h0m5.1 3.2h0m2 9.5h0m-7.4 4.8h0m5.6-14.7h0m6.1 2.3h0m-18.1 10.1h0m10.3-13.3h0m-10.9 5.5h0m10.4 5.1h0m-10.7-6.8h0m15.5 8.1h0m-18.6 3.3h0m23.1-17.3h0m-7.4 12.8h0m-17 0.3h0m3.7 1.8h0m2.7-9.8h0m4 12.2h0m9.6-13.3h0m-21.4-2.7h0m1 13.9h0m8.7 0.3h0m0.9 2.9h0m12.2-6.5h0m-17.6-6.2h0m18.2 4.3h0m-15.8-7h0m-2.8 11.4h0m14.4-8.6h0m-13.8 8.3h0m10.3-8.2h0m6.8-6.8h0m-19.7 12h0m10.1-7.2h0m-2.9 14h0m8.7-14.7h0m1.5 2.1h0m-9.8 0.4h0m-10.8 7.7h0m11.9 1.7h0m1.6-12h0m9.7 1.1h0m2.4-2.4h0m-3.3 6.3h0m-12.5-4.5h0m-0.5 2.4h0m6.7-3.5h0m-13.2 3.9h0m19.8 1.2h0m-20.8 3h0m19.5-9.6h0m0.2 6.5h0m-17.5-0.2h0m17.4-0.7h0m-21.5 5.1h0m18.6-7.8h0m-16.3 12.5h0m2.1-4h0m20.8-4.6h0m-12.7-3.6h0m-11.7 2.9h0m1.3 4.7h0m1-4.8h0m-4.9 8.2h0m23.4-0.9h0m-2.2-14h0m2.7 5.3h0m-20.9 4.2h0m0.5 1.9h0m21.9-3.1h0m-11.5 6h0m-6.9-0.8h0m17.6-4.2h0m-10.5-8h0m8 2.1h0m3.9 9h0m-13.5-6.2h0m6.5-4.5h0m4.7 10.4h0m-3.9-5.3h0m-12.6 7.4h0m-0.1-4.8h0m18.4-19.8h0m-4.9 22.7h0m-5.4 4.1h0m6.6-4.7h0m-19.7 7.1h0m24.3-2.5h0m-19.3-10h0m10.2 14.4h0m4.6-6.1h0m-9.5-2.4h0m-4.6 4.2h0m0.1-1.5h0m19.4-3.8h0m-9.9 6.3h0m-6.1-1.7h0m3.2 4.1h0m0.8-4.6h0m-7.3 7.1h0m-3 1.8h0m14.5-5.2h0m-0.9-0.9h0m-2.4 0.5h0m-3.7-3.6h0m5.1-0.3h0m-3.1 5.2h0m-3.8-4.6h0m-9 5.1h0m17.8-5.1h0m-5.1 3.4h0m-11.8 0.8h0m4.5 4.3h0m9.9-9.2h0m-4.2 1.7h0m-3 3.6h0m5.1-5.5h0m-6.2 3.5h0m13.7-8.5h0m-11.6 9.2h0m3.9 0.1h0m-14.5-1.8h0m23.6-4.9h0m-14.2 8h0m6.1-2.6h0m1 3.7h0m-8.6 1h0m0.9-6.5h0m9.9 1.6h0m-6.3 1.7h0m5.2-0.5h0m-3.5 1.8h0m-5.9 1.6h0m1.7-5.5h0m-2.8-0.7h0m6.5 5.1h0m3.1-1.5h0m-7.4 0.5h0m-1.1-1.3h0m12.5-1h0m5-0.8h0m-1.8 0.6h0m-5.3 0.3h0m0.5 0.3h0m-13.3-5.2h0m-10 6.7h0m16.5-1.4h0m-0.7 2h0m-3.9-5h0m-1.2 1h0m12.9-1h0m-18.9-0.9h0m3.9 6.6h0m7.1-19.8h0m10.7 4.6h0m-8.9-2.5h0m5.6 10.3h0m-32.8 9.3h0m33.4-7.3h0m-13.9 8.2h0m6-20.2h0m1.3 12.9h0m1.1-12.7h0m-7.3 16.7h0m3.3-3.7h0m15.4-6.5h0m-21.3 3.6h0m12.6 3.8h0m-10.6-0.5h0m4.8 6.8h0m0.7-5.3h0m-27.4-8.1h0m20.1-1.5h0m18.7 5h0m-9.6 2.1h0m-13.1 2.2h0m16.4-14.7h0m-6.4 15.4h0m-0.9-15.2h0m-9 9.3h0m21-0.9h0m-21.1-4.6h0m6.7-2.5h0m-7.4 13.8h0m3.7-8h0m-2.7 4h0m17.9-12.6h0m10 2.6h0m-17.2-0.8h0m1 14.3h0m-13 2.6h0m17.1-17.9h0m-5.8 21.8h0m-16-4.9h0m-34.3 6h0m28.5-7.5h0m-24.4 18.7h0m-3.5-5.7h0m5.1-5.1h0m-1.7 0.5h0m5.4-0.7h0m-2.6 0.6h0m2.2-0.1h0m7.7-2.3h0m9-2.7h0m-3-0.4h0m-2.4 2.9h0m-12.3 9.1h0m20.5-21.8h0m-0.1-0.9h0m-11.6 16.1h0m10.7-9.4h0m-12.9 6.1h0m15.1 9.8h0m-21.7 1.9h0m8.9-5.3h0m7.3-21.2h0m-18.6 16.4h0m3.9 5.7h0m10.5-12.5h0m0.8-2.2h0" stroke="#3c4cd6" stroke-width="0.8" stroke-linecap="square" fill="none" opacity="0.72"/>
<path d="M115.7 401.9h0m-3 1.8h0m5.7-3.6h0m-2.9 3h0m-6.9 12.1h0m9-11.6h0m-9.2 5.8h0m15.2-2.8h0m-12.5-3.3h0m0.4 0.6h0m0.5 0.1h0m-4.7 7.6h0m-4.9 2h0m9.1-10.5h0m5.9-1h0m-3.6-0.7h0m9.3 2.6h0m-9.1-1h0m-1-1.4h0m10.4 0.5h0m-16.6 4h0m1.9-1.3h0m3.8-0.4h0m4.3 6h0m-13.8-0.2h0m1.3 0.8h0m13.5-0.1h0m-5.5-8.1h0m-2.7-1.1h0m-1.9 4.9h0m-0.7-0.5h0m13.5-2.5h0m-0.8 1.2h0m0.2-4.3h0m-14.4 7h0m2.9-3.3h0m2.3 7.3h0m6.7-0.6h0m-12.9-5.9h0m15.3 2.8h0m2-1.1h0m-0.8-5.6h0m-11.9 7.3h0m10.5-6.4h0m0.9-0.8h0m-2.8 1.1h0m-0.2 8.6h0m5.6-3.9h0m-17.8 5h0m2 0.6h0m11.1-1.9h0m-7.2-9.4h0m-5.9 10h0m15.9-3.2h0m-3.8 2.3h0m7.6-8.4h0m-16.7 2.2h0m13.4-2.5h0m-3.5 0.6h0m-5.6 0.7h0m-4.8 10.1h0m3.5-0.6h0m7.4-3.4h0m-6-6.4h0m-3.2 10.8h0m-6.6-4.4h0m17.3-8.9h0m-12.2 11.3h0m7.6-7.6h0m-8.7 6.6h0m-1.6 1.1h0m6.3-6.5h0m9.3-3h0m-1.5 8.8h0m-2.3-7.5h0m4 1.7h0m-9.8 8.8h0m-0.9-11.2h0m6.4-0.3h0m0.3 0.2h0m-10.2 8.8h0m10.8-1.9h0m-1.9 6h0m-9.5-1.7h0m10-12.6h0m5.9 0.8h0m-4-2.1h0m-2.9 1.7h0m-12.1 6.8h0m4.4-3.3h0m-1.3 7.4h0m12.6-10h0m-8.6 7.4h0m7.5 1.2h0m-1.8 1.2h0m-7.3 0.7h0m10.9-7h0m-10.3 8h0m10.7-4.3h0m-15.5 0.5h0m2 4.6h0m8.4 0.7h0m3.6-5.5h0m-13.4 2.1h0m6.7 3.4h0m-1.7-6.9h0m-2.8-2.5h0m4.3 8.8h0m11-2.3h0m-15.3-0.8h0m8.4 0.6h0m-6.6 1.3h0m1.6-0.5h0m11.6-5.5h0m-16.5-0.2h0m5.9 4.8h0m1.8 0.3h0m-1.7 6.6h0m7.7-7.4h0m-11.6-0.2h0m0.2 2.1h0m2.9 0.7h0m-3.5-3.8h0m1.4-0.7h0m1.3-8.7h0m-5.7 10.4h0m8-0.4h0m2.6 0.3h0m-6.3 0.6h0m3.8-9.3h0m-6.5 4.2h0m3.9-4.4h0m-2.3 11.7h0m-1.7-4h0m17.1-4.8h0m-17.7 3.7h0m3.1 7.4h0m-0.6-3.6h0m-5.3-5.9h0m5.6 8.2h0m13.8-6h0m0.9-3.1h0" stroke="#3466d6" stroke-width="0.8" stroke-linecap="square" fill="none" opacity="0.72"/>
<path d="M110.9 408.1h0m-2.2-0.4h0m4.5-4.2h0m3.4-0.8h0m-2.8 8.4h0m-2.7 0.8h0m-1.6 0.5h0m11.5-5.9h0m-2.5-2.3h0m-1.9-2.4h0m-9 6.5h0m-1.3 0.8h0m1.4-4.2h0m9.4 3.5h0m1.6-0.3h0m-0.2-4.9h0m2.8 0.5h0m-5.8 0.2h0m-7.6 7.2h0m12.3-6.1h0m-4.9-1.8h0m-7.6 5.1h0m5.6-5h0m-3.6 6.9h0m6.6-7.9h0m-3.3 7.5h0m-4.5-3.8h0m-1.8 2.1h0m0.9 4.7h0m8.2-1.8h0m-2.8-7.8h0m-5.9 7.1h0m12.4-3.9h0m-12.5-0.2h0m1.4 5.3h0m10.4-6.1h0m2-0.1h0m-13.6 4.1h0m13.6-7.6h0m-4 0.9h0m2.3 0.2h0m2.1 1.6h0m-5.9 7.5h0m-2.3-8.1h0m6.6 2.9h0m-3.4-3.6h0m0 3h0m1.9 6.9h0m-8.3-9.1h0m7.5 2.6h0m-6.4 3.7h0m9.2-6.5h0m-9.9 2.3h0m6.4 3.9h0m-7.8-3.2h0m-0.6-2h0m10.8 1.5h0m-7.9 2h0m10.7-1.4h0m-10.9 4.3h0m2.8-7.4h0m4.7 4.7h0m-10.7 1.2h0m4.3-2.6h0m-4.1 3.4h0m0.8-1.3h0m1.4 1.6h0m-0.9-0.9h0m6.3-0.9h0m1.3-5.1h0m-8.9 4h0m8 0.2h0m3.9-5.3h0m-10.7 0.5h0m12.1 0h0m-8.6 7.1h0m6.2-5h0m-5 5.1h0m-5.8-0.5h0m-0.2 2.4h0m7.4-3.3h0m-6.5 7h0m4.5-4.7h0m-3.7-3.2h0m4.2 6.8h0m-7.1-3.2h0m1.7-3.8h0m-0.4 0.5h0m5.7 4.9h0m-3.4-0.7h0m2.8-1.1h0m-2.3 2h0m-2.5-2.5h0m5-7.1h0m-4.3 3.4h0m9.9-2.7h0m-3.1-1.4h0m1.8 7.6h0m-1.7-8.9h0m2.5 0.9h0m-2.5 6.8h0m-6.3 2.2h0m9.9-8h0" stroke="#3494d0" stroke-width="0.8" stroke-linecap="square" fill="none" opacity="0.72"/>
<path d="M114.2 409.2h0m4.7-2.1h0m-2.1-1.5h0m0 2.8h0m-0.3-5.5h0m1.5 1.2h0m-8.6 3.1h0m8.6-1.6h0m-0.6 2.9h0m-9.9-2.4h0m8.9-1.8h0m-1.5 3.4h0m-2.5-3.5h0m0.2 5.5h0m3.6-3.8h0m2.7-1.9h0m-11.7 5.8h0m3.3 1.5h0m11.5-7.5h0m-6 4.9h0m-2.2-4.2h0m-4.5 4.3h0m1.2-4.1h0m6.3 2.6h0m-2.2 2.2h0m1-5h0m-5.8 1.4h0m-2-0.1h0m9-2.3h0m-3.2 1.1h0m-5.2 0.8h0m9.5 2h0m0.9-2.3h0m1.3 0.6h0m-10.2 1.5h0m6.5-1.5h0m-0.7 4.5h0m2.3-6.1h0m1 0.6h0m-8.8 1.3h0m7.4 0.8h0m-3.6 3.5h0m1.8-3.6h0m-3 5.6h0m2.9-5.5h0m-6.5 1.4h0m6.4-3.4h0m1.5 1h0m-7.6 2.4h0m-2-1h0m11.1-4.3h0m-1 7.3h0m0.5-6.4h0m-4.4 6.9h0m6.1-5.1h0m-9.8 0.8h0m8.4-0.7h0m-5.9-0.8h0m0.4 4.3h0m1.2-6.8h0m-2.6 7.5h0m-0.9-1.4h0m1.5 2.6h0m3.7-1.9h0m-6.8 5.1h0m2-3.3h0m7.4-4.5h0m-8 4.6h0m-2.3-0.6h0m5.2-5.1h0m1.5 2.3h0m0.1-3.6h0m-2.7 1.8h0m3.9-1.1h0m-7.3 2.7h0" stroke="#3cacb0" stroke-width="0.8" stroke-linecap="square" fill="none" opacity="0.72"/>
<path d="M116.7 412.1h0m-3.8-6.3h0m5.5-0.7h0m-4.4 0.3h0m0.3 2.6h0m-3.7 2.4h0m3-2.5h0m-1.8 2h0m8.7-3.9h0m-5.4 2.8h0m-5.8-2.8h0m9.2 3.4h0m-0.4-5.2h0m-6.1 1.3h0m-1.1 4h0m4.1-3.7h0m-4 4h0m3.9-1.5h0m2.7-3.4h0m-7.3 4.6h0m-0.8-1.4h0m8.1-1.5h0m-0.5 0.7h0m1.5-3.2h0m-6.2 1.6h0m2.6-0.3h0m1.7-0.5h0m-4.2 1.8h0m4.1 0h0m-5.1-1.4h0m-0.1 1.6h0m8.4-2.2h0m-8.5 4.1h0m3.3-4.6h0m1.2 2.8h0m2.1-2h0m-1.6 3.7h0m0.5 0.8h0m0.4 1.2h0m-2.8-0.8h0m-5.2-1.7h0m4.7-2.2h0m3.7 0.4h0m-6.9 4h0" stroke="#6cc250" stroke-width="0.8" stroke-linecap="square" fill="none" opacity="0.72"/>
<path d="M116.1 407.3h0m0.8 0.4h0m-1.5-0.9h0m-4 0.5h0m4.6-1.2h0m-4.1 1.9h0m1.3-2.8h0m-2.9 1.8h0m1.9 2.7h0m1.6-2.7h0m1.3-2.1h0m-5.1 4.7h0m7.1-2.3h0m-5.3 0.6h0m0.8 2.4h0m2.1-1.7h0m3-2.6h0m-4.8-0.1h0m-0.8 0.9h0m1.8 0h0m-1.6 0.3h0m1 1h0m-1.8-1.8h0m2.4 1.1h0m-2.5 0.1h0m3.1-1.2h0m1.6-1.8h0m0 2.7h0m-2.6-1.1h0m-1.6 1.6h0m-1.7-1.1h0m0.2 2.1h0m1.3-1.7h0m3.8 1.9h0m-1.5-2.1h0m5.1-1.5h0m-4.3-1.2h0m-1.3 4.8h0m-0.2 0h0m0.6-1.9h0m-3.8-2.5h0m5.7 0.9h0m-0.2 4.6h0m-4-0.8h0m4.8-4.5h0m-2.8 1h0m-0.5 0.4h0m-2.9 5.1h0m1.9-4.9h0" stroke="#c8d83c" stroke-width="0.8" stroke-linecap="square" fill="none" opacity="0.72"/>
</g>
<path d="M58.3 409.9H128.2M92 371.2V438.1" stroke="#555" stroke-width="0.9" fill="none"/>
<path d="M58.3 371.2V438.1H128.2" stroke="#666" stroke-width="0.8" fill="none"/>
<path d="M56.3 378.8h2M56.3 392.9h2M56.3 408.9h2M56.3 424.7h2M56.3 431.1h2M57.3 373.2h1M57.3 376h1M57.3 378.8h1M57.3 381.5h1M57.3 384.3h1M57.3 387.1h1M57.3 389.9h1M57.3 392.6h1M57.3 395.4h1M57.3 398.2h1M57.3 401h1M57.3 403.8h1M57.3 406.5h1M57.3 409.3h1M57.3 412.1h1M57.3 414.9h1M57.3 417.7h1M57.3 420.4h1M57.3 423.2h1M57.3 426h1M57.3 428.8h1M57.3 431.5h1M57.3 434.3h1M57.3 437.1h1M58.3 438.1v2M88.4 438.1v2M116.1 438.1v2M59.3 438.1v1M62 438.1v1M64.7 438.1v1M67.4 438.1v1M70.2 438.1v1M72.9 438.1v1M75.6 438.1v1M78.3 438.1v1M81 438.1v1M83.7 438.1v1M86.5 438.1v1M89.2 438.1v1M91.9 438.1v1M94.6 438.1v1M97.3 438.1v1M100 438.1v1M102.8 438.1v1M105.5 438.1v1M108.2 438.1v1M110.9 438.1v1M113.6 438.1v1M116.3 438.1v1M119.1 438.1v1M121.8 438.1v1M124.5 438.1v1M127.2 438.1v1" stroke="#555" stroke-width="0.55" fill="none"/>
<path d="M58.7 429.1v6" stroke="#222" stroke-width="1" fill="none"/>
<text x="52.8" y="381.1" font-size="6.4" text-anchor="end" fill="#2a2a2a" stroke="#2a2a2a" stroke-width="0.132">10<tspan dy="-3.1" font-size="4.9">5</tspan></text>
<text x="52.8" y="395.2" font-size="6.4" text-anchor="end" fill="#2a2a2a" stroke="#2a2a2a" stroke-width="0.132">10<tspan dy="-3.1" font-size="4.9">4</tspan></text>
<text x="52.8" y="411.2" font-size="6.4" text-anchor="end" fill="#2a2a2a" stroke="#2a2a2a" stroke-width="0.132">10<tspan dy="-3.1" font-size="4.9">3</tspan></text>
<text x="52.8" y="427" font-size="6.4" text-anchor="end" fill="#2a2a2a" stroke="#2a2a2a" stroke-width="0.132">10<tspan dy="-3.1" font-size="4.9">2</tspan></text>
<text x="51.3" y="433.4" font-size="6.4" text-anchor="end" font-weight="normal" fill="#333" stroke="#333" stroke-width="0.22" >0</text>
<text x="58.1" y="449.4" font-size="6.4" text-anchor="middle" fill="#2a2a2a" stroke="#2a2a2a" stroke-width="0.132">10<tspan dy="-3.1" font-size="4.9">2</tspan></text>
<text x="88.4" y="449.4" font-size="6.4" text-anchor="middle" fill="#2a2a2a" stroke="#2a2a2a" stroke-width="0.132">10<tspan dy="-3.1" font-size="4.9">3</tspan></text>
<text x="116.1" y="449.4" font-size="6.4" text-anchor="middle" fill="#2a2a2a" stroke="#2a2a2a" stroke-width="0.132">10<tspan dy="-3.1" font-size="4.9">4</tspan></text>
<text x="126" y="380.4" font-size="9.4" text-anchor="end" font-weight="bold" fill="#111" >18.2</text>
<text x="60.1" y="435.8" font-size="9.1" text-anchor="start" font-weight="bold" fill="#111" >Edu+ gated</text>
<text x="185.5" y="363" font-size="9.9" text-anchor="middle" font-weight="normal" fill="#222" stroke="#222" stroke-width="0.22" >control+IL-19-CM</text>
<rect x="149.5" y="370.3" width="72" height="68" fill="#fff" stroke="#999" stroke-width="0.8"/>
<clipPath id="cg5"><rect x="149.9" y="370.7" width="71.2" height="67.2"/></clipPath><g clip-path="url(#cg5)">
<ellipse cx="207.5" cy="405.2" rx="14.7" ry="6.4" fill="#5a6ade" opacity="0.22" transform="rotate(-11.5 207.5 405.2)" filter="url(#bl2)"/>
<ellipse cx="207" cy="419.2" rx="14.7" ry="7" fill="#5a6ade" opacity="0.22" transform="rotate(-11.5 207 419.2)" filter="url(#bl2)"/>
<path d="M198.5 397.7h0m11.7 0.4h0m-7.1-1.1h0m-1.9-1.7h0m17.2 12h0m-1.6 4.1h0m-30.9-3.1h0m5.5-3.1h0m11.5-8.4h0m-12 4.4h0m25.8-1.3h0m-0.8-4.6h0m0.8 2.9h0m-22.6 4.2h0m5.8-1.2h0m-14.1 4.2h0m28.9-6.2h0m-26.2 7.1h0m10.1-5.1h0m10.7-5.6h0m4.5 1.8h0m-25.9 19h0m1.6-10.2h0m11.1-5.3h0m-1.7-2h0m-18.3 14.7h0m0.1-10.5h0m39.1 8.7h0m-15.4-13.5h0m12.8-2.1h0m-10.4 0.9h0m-7 2.2h0m11.9-1.7h0m-7.4 0.8h0m12.7 0.3h0m-31.7 5.9h0m0.4 8.5h0m-7.1-4h0m10.5-1.6h0m9.8-8.5h0m18.3-0.9h0m-32.5 22.7h0m5.1-1.1h0m27.1 4.3h0m-30.4-3.8h0m28.7-8.1h0m-12.7 17.8h0m-8.8 5h0m-5-10.7h0m-0.7-6h0m29.4-5.3h0m-28.1 9.1h0m25.5 1.7h0m0.4-0.3h0m-1.9 1.6h0m-20.9-1.7h0m11.4 6.8h0m16-5.8h0m-1.1 1.7h0m-22.3-0.8h0m16.9-0.4h0m4.2-4.1h0m2-0.8h0m-22.8 5.5h0m-3.2-7.8h0m26.1-3.5h0m-0.7 5.1h0m-14.6 7.7h0m14.6-3.5h0m-18.8 4.5h0m-17.8-4.2h0m24.5 4.5h0m-14.8-1.6h0m6.8 1.9h0m-7.4 5.4h0m20.1-21.6h0m-20.6 13.4h0m16.7 2.4h0m-17.2-17.3h0m-1.2-4.1h0m0.9-3.1h0m-1.1 18.5h0m0.4-3.1h0m-9.7 9.7h0m11.2-8.3h0m-2 10.1h0m0.6-13.9h0m-4.9 7.1h0m-14.3 2h0m23.4-14.9h0m-9.8-1.2h0m-5.4 2h0m19.3-10.5h0m21.3 15.6h0m-31.4-2.5h0m3.3-7.9h0m18.8 21.1h0m8-6.6h0m-35.2-3.7h0m5.2-1.3h0m3.5 0.3h0m25.8 8.4h0m-27.8-2.4h0m31.4-32.1h0m-32.3 32.2h0m10.1 3.8h0m2.2-27.9h0m-6.6 0.1h0m-11.8 22.4h0m5.8 8.4h0m27.4-19h0m-32.1 10.7h0m15.4 8.4h0m-14.7-13.8h0m2.8-4.8h0m7.4-0.1h0m-12.7-8.5h0m5.6 11.8h0m2.4 5.6h0m-0.1-15.9h0m4 22.6h0m-7.3-11.1h0m3.6-18.9h0m-3 9.2h0m5.5 17.2h0m27.7-11.9h0m-27.3 3.7h0m23.7 10.4h0m-10.5-26h0m-14.1 22.9h0m-4.7 3h0m-33.5 3.3h0m14-8.8h0m13.5-1.5h0m-17.9 0.7h0m6.1 2.9h0m-16.9 9.3h0m5.1-3.9h0m-3.6 0.3h0m7.4 0.1h0m22.1 1.7h0m-33.1-6.6h0m10 0.9h0m5.3 7.3h0m-7.2-11.2h0m26 6.1h0m-14 2.1h0m-9.3-3.8h0m2.8-1h0m11.4 5.1h0m-7.4-10.4h0m8.6 5.8h0m-12.2 6h0m-1.7-1.9h0m5.5 1.2h0m-10.5 1.4h0m17.7-15.9h0m-16.8 19.2h0m9.3-6.9h0m-8.4 4.4h0m4.7-8h0m2.9-2.7h0m-10.5 5.3h0m24.2-11.8h0m0.5 13.7h0m-3.4-8.8h0m-8.4 4h0m9.3 1.5h0m-17.9 1.3h0m23.9-3.1h0m-14.5 8.1h0m-9.2-8.2h0m-2.4 11h0m12.5-10.5h0m-5.7 5.4h0m12.5-2.6h0m-1.5-3h0m-4.6-6.7h0m-1 1.7h0m-9.5 13.1h0m8.2-11.9h0m2.5 0.6h0m-13.4 12.5h0m-6-2.8h0m9.8-6.2h0m11.6 2.3h0m-20.6 5.2h0m2.8-7.4h0m1.3 11h0m23.1-17.7h0m2.2 9.9h0m-11.8 0.3h0m-10.6 2h0m3.5-8.3h0m3.2 3.4h0m5.9-11.9h0m5.2 15.7h0m-10.4 0.9h0m7.9-12h0m-6.9 21h0m3.8-14.5h0m0.7 2.5h0m1.9-9.4h0m-15.7 21.4h0m18.2-8.3h0m6.1-3.7h0m-28.7 5.4h0m18-7.8h0m-8.4 13.9h0m2.7-7.8h0m5.8-12.4h0m2.4 7.1h0m-24.6-4.8h0m6.7 19.2h0m22.3-21.6h0m-8.3 1.3h0m-2.3 12.9h0m7-16.4h0m-12.3 16.8h0m3-3.5h0m8.4 2.5h0m-4.5-7.3h0m-15.6 3.6h0m7.5-8.1h0m13.2-6.1h0m-15.6 10.9h0m17.8-2h0m-2.3 4h0m-0.5 4.9h0m-9.9-7.5h0m-12.3 7.5h0m10.5-1.9h0m0.2-1.5h0m4.2-4h0m-7.2-8.3h0m8.3 17.1h0m-10.7-8.6h0m19.5-1.7h0m-21 9.8h0m11.3-9.8h0m-9.1 15.9h0m6.8-16.5h0m-6 12.2h0m3.3-6.5h0m3.3 1.6h0m2-1h0m-4.7 9.2h0m-10.7-6h0m20.2-13.1h0m-19.3 1.9h0m7.7 10.5h0m11.5-10.9h0m2.8 10.5h0m-9.1-2.7h0m4.1-9.8h0m-12.5 0.3h0m8.7 6.6h0m12.2-11.9h0m-2.7-3.9h0m-14.3 17.5h0m15.7-11.3h0m-13.8 16h0m9.8-7.7h0m6-4.1h0m-24.7 12.3h0m14.5-8.1h0m2.4-5.8h0m-19.4 13.1h0m28.6-12.8h0m-11.6 11.5h0m0.9 2.1h0m-8.1-11.9h0m5-1.4h0m-11.2 6.5h0m-3.6 6.5h0m3.5 3.6h0m21-17.3h0m-17 14.7h0m3.7-11.4h0m12.2 9h0m3.1-12.2h0m-6.5 12.5h0m3.9-14.1h0m-4.1 13.5h0m0.6-8.6h0m-7 9.8h0m-2.9-10.5h0m-12.3 12.2h0m2.4 4.4h0m27.4-18.6h0m-26.4 13.2h0m15.4-8.1h0m-6.7-0.9h0m-0.2 8.5h0m5.6-5.5h0m5.4-6.1h0m-5.6-0.5h0" stroke="#acacee" stroke-width="0.8" stroke-linecap="square" fill="none" opacity="0.72"/>
<path d="M192.5 403.1h0m3.9-1.2h0m3.3 0.4h0m-7.7 4.1h0m5-2.3h0m-6.6 9.5h0m3.3-9.9h0m1.7 8.5h0m-5.8 3h0m3.2-9h0m1.8 3.2h0m18.2 0.9h0m-9.7-9.4h0m-17.1 10.8h0m19.7-11.8h0m14.8 2.1h0m-1.7 6h0m-1.6-1.1h0m-24.7 1.7h0m9.8-8.9h0m14 10.7h0m-7.7-14.8h0m-12.4 10h0m22.3-3.8h0m-30.4 9.2h0m22.2-11.3h0m-13.8 5.1h0m9-6.1h0m7.9 12.7h0m-17-1.5h0m0 0.5h0m-1.5 2.4h0m-10 0.2h0m27.5-14.5h0m7.7 7h0m0.4 10.2h0m-21.8 8h0m8 1.6h0m11.2-5.9h0m-15.7 6.7h0m16-5.4h0m-16.9 4.4h0m9.6-1.8h0m3.2-13h0m5-3.6h0m-35.6 13h0m37-12h0m-1.2 6.4h0m-31.9 5.5h0m3.9 6.2h0m18.7-1h0m8.2-8.5h0m-16.5 12.8h0m19-12.3h0m-2.5 3.7h0m-8.5-8.6h0m4.4 8.8h0m-21.5-1.8h0m7.8 6.8h0m18.6-16.9h0m-11.4 19.9h0m7.7-15.3h0m-13.9 9.6h0m-1.7 4.4h0m16.1-13.3h0m-8.1 10.8h0m8.7-1.7h0m-13.6 4.1h0m-14.1-8.5h0m5.3-8.1h0m-8 11h0m34-6.2h0m-22.7 9.8h0m-5.5 2.9h0m15.3-3.7h0m10.4-8.9h0m-30.3 11.7h0m16.2-0.1h0m10.3-3.7h0m-20.1 2h0m20.5 2.2h0m1.1-7.6h0m-20.9-3.6h0m-4.8 5.4h0m-1.2 4.6h0m27.8-12.7h0m-35.4 4.1h0m20.1-18.7h0m-6.7 5.3h0m-19.9 20.7h0m23.3 0.8h0m-13.1-13.8h0m1.9 5.1h0m5.7 0.6h0m3.4-6.7h0m-0.4-17.7h0m23.6 20.6h0m-13.5 11h0m-23.9-28.7h0m-4.7 17.8h0m3.4 7.8h0m15.3 9.1h0m-2.3-17.4h0m7.1-21h0m-9.9 21.5h0m-11.9-9.5h0m32.9 8.4h0m-17.9 0h0m-15.9 5.2h0m35-18.8h0m-0.2 25.5h0m8.6-28.3h0m-21.5 30.6h0m-9.7-3.5h0m14.3 4.5h0m-9.8-8.5h0m18.6-6h0m2.9-15.1h0m-55.2 23.4h0m2 5h0m20.4-9.8h0m-2.2 3.3h0m3.9 4.5h0m-24.3-3.2h0m19.7-6.6h0m-20-2.7h0m5.1 17.1h0m14.9-14.3h0m0.3 6.5h0m-21.4 3.9h0m18.5-3.7h0m-20.6 8.8h0m9-3.9h0m4.7-5.2h0m-14.7 11.5h0m1.4 2.3h0m6.3-3.9h0m20.8-9.1h0m-6.8-1.9h0m-18.8 3.2h0m10.8-4.8h0m-0.9 3h0m-4.1-5.4h0m9.8 5.3h0m-1.1-6.2h0m-9.3 8.2h0m-12.9 0.8h0m19.7 1.9h0m6.4-10.4h0m6.3 1.3h0m-16 6h0m10-1.7h0m-20.7 14.4h0m12.8-12.6h0m8.3-7h0m-3.4 3.1h0m-23.5 6.3h0m27.2-2.6h0m-3.7 2.7h0m-10.2-7.8h0m5.8-5.8h0m0.3 0.4h0m0 15.8h0m-6.9-4.5h0m8.4-2.3h0m0.5 6.5h0m-9.9 5.4h0m-5.7 1.2h0m7.8-11.8h0m16.2 0.2h0m-13.1 13.7h0m3-15h0m8.9-8.2h0m-26.9 9.1h0m9.4 4.1h0m4.7-6h0m-14 9.2h0m21.1-12.5h0m2.3 4.2h0m-23.4 5.8h0m1.4-5.6h0m25.8-3.1h0m-2.2-15.1h0m-20.5 29.9h0m17.7-21.6h0m-10.4 13.5h0m12.3-18.1h0m3.7 14.3h0m-23.2 6.1h0m15.2-14.8h0m-15.2 22.2h0m10.1-8.9h0m-9.6-0.5h0m20.3-13.1h0m-2.7-2.9h0m-13.3 15.1h0m1.5-4.2h0m-1.8-1.9h0m12.9 3.6h0m-19.4 1.2h0m5.2 2h0m-0.4 2.4h0m6.3-19h0m8.8-1.4h0m-18.7 12.4h0m19.9-3.3h0m-9.2-0.6h0m6.7 2.2h0m4.7-9.5h0m-6.7 10.1h0m-8.3 8h0m20.5-5.2h0m-5.3-2.8h0m-0.3 4.3h0m-0.4-1.3h0m-12.9 1.3h0m11.1-3h0m-4-6.5h0m4.8-2.4h0m-22.9 20h0m21.8-20.2h0m0.6-2h0m-19.1 19.8h0m8.8-5.7h0m6-0.6h0m-0.8-11.1h0" stroke="#7a7ae6" stroke-width="0.8" stroke-linecap="square" fill="none" opacity="0.72"/>
<path d="M195 409.3h0m2.8-4.3h0m18.3 8.6h0m0.3-13.8h0m-20.3 3.9h0m5.6-2h0m-5.2 2.4h0m11.3-4.3h0m-10.9 11.7h0m13.6 1h0m-11.5-7.6h0m-0.8 3.7h0m-6.8 1.3h0m9.5 0h0m16.4-4.5h0m-5.7 4.3h0m2.7-7.9h0m-11.5 10.6h0m15.2-13h0m-19.1 1.7h0m1.5 14h0m4.6-12.4h0m-3.2 13h0m10.3-8.8h0m-10.9-5h0m-3.5 2.7h0m19.9 3.1h0m-7.5-7.5h0m5.2 11.6h0m0.8 1.1h0m-0.2-8.1h0m-6 6h0m-0.2-11.4h0m1.4 14.2h0m-0.6-4.5h0m-14.2 0.5h0m15.1 1.5h0m-11.4-0.5h0m9.4 3.8h0m5.9-15.7h0m-2.7 12.5h0m2.1-2.1h0m-11.7 7.9h0m14.4-16.3h0m-8.7 9h0m-10.7 2h0m19.6-0.8h0m-4.3-9.9h0m-18.9 12.5h0m15.5-13.6h0m-10.7 3.5h0m15.8-3.6h0m-2.1 10.2h0m-6.4 1.4h0m-12.3-2.3h0m14.8 0.9h0m-8.6 0.5h0m-4.6-1.3h0m10.9-9.6h0m7.3 0.3h0m-0.2 6.2h0m-9.6-6h0m8 7.8h0m5.6-1.7h0m-19.5 7.1h0m7.5-12.4h0m12.3 4.5h0m-15.4 6.6h0m17.1-4.9h0m-21.8-3.5h0m4 7.2h0m16.9-8.2h0m-22 3.6h0m2.6-3.1h0m18.3-1.2h0m-19.3 13.5h0m20-9.5h0m-18.2 1.1h0m0.9 4h0m-5.3-6.9h0m1.4-0.5h0m20.1 2.1h0m-19.4-0.8h0m18.7-4.3h0m-1.2 8.5h0m-17.5 0.7h0m-0.3-0.6h0m16.2-1.7h0m6.5 3.4h0m-0.8-4.2h0m-23.8-3.3h0m-3.2 5.5h0m18.5 5.5h0m7.4-11.4h0m-2.9-4.6h0m-6.2 2.1h0m-5 10.7h0m-6.6 1.8h0m4-10h0m2.9 7.7h0m-5.8-7h0m3.3-2h0m9.6 10.2h0m-15.6-7h0m6.2-4.4h0m14.1 1.4h0m-15.5 0.1h0m-5.4 5.7h0m-1.7-0.3h0m24.1-6.6h0m-20.6 10.3h0m19.7-10.5h0m-24.9 3.3h0m13.2 18.4h0m-7.6-2.5h0m0.3 5.1h0m18.4-9.2h0m-6.7 10.1h0m-8-13.1h0m-0.6 2.1h0m4.6 0.1h0m6.8-3h0m-15.9 9.1h0m19.8-5.4h0m-12.7 7.5h0m-6.1-2.3h0m-3.9-2.9h0m-0.1 5.2h0m2.3-3.4h0m13 7.1h0m8.7-10.4h0m-13.2 8h0m3.1-0.4h0m-12.9 2.4h0m3.2-3.9h0m15.7 0.2h0m-17.8 5.9h0m20.3-7.6h0m-1.9-9.5h0m-18 5.8h0m16.4 5.5h0m-20.9-7.3h0m21.6-1.6h0m-10 9h0m-2.9-0.4h0m10.9-8.6h0m-3.9 10h0m1-10.7h0m-10.3 9.7h0m19.3-8.7h0m-21 2.9h0m23.6-1h0m-21.6 10.3h0m-1.1-6.4h0m4.6 1.4h0m-11.8-4.1h0m8.3-0.7h0m-7.6 4.8h0m20.2-10.2h0m-6.2 12.5h0m9.6-12.3h0m0.9-0.2h0m-6.3 10h0m-10.2-2.6h0m11.9 7.7h0m5.5-6.8h0m-23.9-0.5h0m24.5-1.8h0m-18.3 7.3h0m0.6 3.4h0m20.9-17.6h0m-4.9 5.3h0m-16.1-3.3h0m12.5-0.1h0m-15 9.7h0m-3.9-0.9h0m19.2 1.7h0m-19.6-0.8h0m8-4.2h0m5.4 7.3h0m12.5-3.2h0m-4.8-10.5h0m-22.1 8.6h0m24.7-7.6h0m-13.2 10.2h0m2.3-9.5h0m-4.9 10.4h0m10.5 2h0m-10.6-10.2h0m-3.8 2.6h0m-3.1-0.7h0m14.5 6.6h0m-1.6-11.8h0m13.9 3h0m-1.6 0.5h0m-18.4 6.8h0m17-7.2h0m-18.5 3.6h0m-2-2.1h0m18.6-2h0m-20.4 1.7h0m25.2 0.2h0m-21.4-3.2h0m21.1 3.6h0m-21.4 6.6h0m19.9-8.3h0m-19.4 6.7h0m5.6-9.3h0m13.7 5.2h0m-18.2 6.4h0m17.6-5.3h0m-2.5-4.5h0m-17.2 0.5h0m13.1-0.4h0m4 6.4h0m-18.8-1h0m4.3-1.3h0m0.4-3.6h0m10.9-2.3h0m-22.6 9.4h0m18.4 1.6h0m-7.9-8.6h0m17.2 0.3h0m-12.7 8.4h0m9.1-7.6h0m-15.1-0.4h0m17.3 4.3h0m-10.9 4.3h0m1.3-8.9h0m-7.8-1.7h0m11 9h0m0.7 2.3h0m5-5.2h0m-3.6 1.6h0m-11.9-2.2h0m3.5-4.5h0m10.8-1h0m-9.2 11.6h0m-8.6-13.3h0m13.5 12.5h0m-13.6-4.3h0m4.6-9h0m1.4 0.4h0m-1.2-1.4h0m1.3 14.9h0m-8.6-9.8h0m15.2-13h0m11 1.3h0m-21.5 0.4h0m16.6 6.5h0m5.1-8.4h0m-14.1 22.2h0m-7.8-16.1h0m-0.9 3.8h0m-1.1 3.2h0m14.8 7.9h0m-12.1-13.2h0m12.7 3.2h0m0.8 1h0m-11.7-3.2h0m-7.8 5.6h0m19.9-16.7h0m7.9 14.5h0m-24.4-3.5h0m-2 1.5h0m23.4 3.7h0m-2.2-2h0m-19.7 8.3h0m2.9-13.3h0m-0.9 7.2h0m16.1-2.4h0m-6.8 0.5h0m-16.6 10.4h0m4.8-9.2h0m2.6 8.5h0m1.8-10.7h0m3.7 0.8h0m-18.2 11.7h0m26.8-13.6h0m-22.4 9.2h0m4.7-15.3h0m10.7 18.7h0m-10.3-15.5h0m2.5 9.2h0m3.2-6.3h0m-5.5 8.9h0m16-7.2h0m-14.9-8h0m25.3-4.7h0m-7.3-1h0m-2 22h0m-50.1 2.1h0m16.3-13h0m-10.5 10h0m-12.8 4.3h0m24.5-8.1h0m-15.7 16.7h0m-5.7-0.9h0m8.2-1.5h0m16.9-14.9h0m-17 8.4h0m13.2-4.7h0m-10.7 2.4h0m15.8-3.5h0m-17.2 1.6h0m10.3-4.2h0m5.3-0.8h0m-13.1 14h0m3.3-15.2h0m7.7 10.4h0m-8.2-11.9h0m-16.2 20.2h0m10-3.5h0m4.9-10.8h0m-9.9 6.9h0m6.8-2h0m-15.1-4.1h0m22.9 3.6h0m0.6-14.5h0m-7.1 18.6h0m-10.3-5.6h0m19.2-1.5h0m-3.5-9.7h0m-9.6 12.3h0m-0.8 4.9h0m-0.9 8h0m8-13.3h0m-6.9 8.3h0m14.5-15.8h0m-3.5 9.4h0m-4.7 4.9h0m-9.2 0.8h0m15.8-24.5h0m-24.7 16.2h0m22-11.4h0m-18.2 10.7h0m9.4 6h0" stroke="#3c4cd6" stroke-width="0.8" stroke-linecap="square" fill="none" opacity="0.72"/>
<path d="M215.5 408.6h0m-5.2 1.1h0m3.9-9.2h0m-18.2 6.5h0m-0.1-1.3h0m6 1.1h0m10.1 0.8h0m1.3-5.4h0m-4.5-2h0m-8.1 4h0m1.6 7.5h0m3.3-9.8h0m6.4-0.2h0m-12 2.5h0m5.3 9h0m8.8-9.8h0m-1.9 14.2h0m-13.9-9.1h0m10.3-6.5h0m6.6-0.5h0m-9.8 9.6h0m-2.6-7.9h0m-1.8 6.8h0m11.8-10.6h0m3.8 6.8h0m-3.9 1.7h0m-17.1-1.5h0m14 1.1h0m6.9-5h0m-17.9 6.2h0m16.3-0.5h0m0.8-4.1h0m-7.9 5.8h0m-5.4-6.6h0m12.7 1.4h0m-6.8-3.8h0m7.3 1.9h0m-6.9-2.7h0m-14.4 8.2h0m7.8 1.6h0m0.5 1.7h0m2.7-10.1h0m-1 9.4h0m11.2-7.1h0m-17.9 10.6h0m19.6-7.5h0m-4-2.4h0m-4.8 6.7h0m-11.5 1.8h0m1.9-6.6h0m6.1 5.7h0m7.8-1.8h0m-10.7-0.5h0m11.6-2.3h0m-5.9-5.8h0m0.9 7.1h0m8.3-5.1h0m-1.2 0.1h0m-19.6 5.5h0m15 1h0m3.2-0.9h0m-11.5-4.2h0m0.9-3.3h0m2.7 11.2h0m10.2-5.1h0m-1.3-5.5h0m-20.1 3.7h0m21.6-3.9h0m-15.8 2.6h0m3.8-1.8h0m9.7 4h0m-3.3 11.3h0m-7.3-16.2h0m-0.7 8.2h0m11.5-5.2h0m-0.2-4.6h0m-11.1 10h0m-7.8-0.5h0m3.6-2.4h0m7.9 3.1h0m-6.2-7.4h0m14.2-1.5h0m1.3-0.8h0m-4.6-1h0m-13.1 9.9h0m-0.2-4h0m5.4 7.1h0m-1.5-10.2h0m8.1 20.4h0m-4.8-3.5h0m-5.4 3.5h0m-1.5-6.3h0m8.1 4.1h0m0.1 2h0m2.9-2.4h0m-1.6-5h0m-4.8 4.6h0m6-3h0m-4.3 5.6h0m12.3-8.3h0m-5.3 2.9h0m-2.9 3.4h0m2.7-3.3h0m-11.4 2h0m6.5-5.3h0m5.4 3.9h0m-0.8-5.8h0m-11.9 9.3h0m8.9-0.3h0m-6.6-7.4h0m12.3 3.9h0m-14.2 3.6h0m-0.9 0.3h0m5.1 0.6h0m-8.2-0.1h0m9.4 2h0m6-15.4h0m-7.3 6.5h0m4.7 1.2h0m-8.5 2.5h0m4.9 2.5h0m5.8-6.3h0m-12.3 1.5h0m8.8-2.7h0m-3 9.1h0m-4.7-5.2h0m4.6 3.8h0m7.7-5.8h0m-12.6 3.2h0m1.5-0.2h0m1.6 4.8h0m-4.4-2.3h0m6.2-7.3h0m1.1 5.8h0m8.8-0.8h0m-3.8-8.9h0m-5.8 6.6h0m-4.1 5.3h0m1.8-4.8h0m-6.4 5.7h0m9.6-0.8h0m1.6 0h0m5.5-4.8h0m-12 5.9h0m14-4.7h0m-14.6-9.2h0m12.6 3.3h0m-14.2 9.8h0m11-9.2h0m-3 9.9h0m8.1-4.5h0m-0.1-1.5h0m-8.3 5.7h0m-2.5-1.3h0m6.3-1.5h0m3.8-0.1h0m-12.8-0.9h0m11.2 0.9h0m0.4-0.7h0m-6.4 2.4h0m8.5-6.5h0m-16.9 4.7h0m12-5.9h0m2 0.7h0m-1.4 7.1h0m6.5-6.1h0m-12.5-1.1h0m4.2-2.4h0m-8.4 6.6h0m13.7-0.3h0m-4.6 4.1h0m-5.5 0.3h0m0.1-10.3h0m6.5 1.3h0m5.3 1.9h0m-6.8-2.4h0m-5.8 9.9h0m2.9-14.6h0m-2.4 13.9h0m0.6-7.9h0m11-13.5h0m-9 15.6h0m-6-13.5h0m6.3 10.5h0m-5.9-5.8h0m-1.3-0.4h0m6.5 6.6h0m-6.7-5.3h0m-0.9 9.7h0m16.7-12.2h0m-7.1 9.8h0m1 6.6h0m0.8-9.9h0m-3.4 9.1h0m-1.7-10.5h0m-5.5 2.8h0m10.1-3.9h0m-5.3 7.3h0m-6.3-12h0m-1 13.7h0m6.6-7.5h0m9.8-1h0m0-10.4h0m-1.8 7.1h0m-8.5 16h0m-3.3-5.1h0m-3.2-9h0m6.5 13.4h0m16-15.7h0m-17.5 5.8h0m1.6 2.2h0m-0.4-13.1h0m-3.9 8h0m17.1 4.1h0m-5.6 1.2h0" stroke="#3466d6" stroke-width="0.8" stroke-linecap="square" fill="none" opacity="0.72"/>
<path d="M201.6 409.2h0m-3.4-1.4h0m14.8-5.4h0m1.3 3.1h0m-7.4-1.7h0m-5.2 5.8h0m9.7-2h0m-9.6-0.5h0m7.4-3.9h0m5.7-1.5h0m-2.6 0.6h0m-8.8 0.8h0m5-0.4h0m2.9 0.4h0m-2.9 6h0m-4-0.3h0m4.6-7.4h0m-3.6 5.8h0m1.4 0.7h0m4.1-0.5h0m1.9-2.2h0m-13.8 2.4h0m1.4 0.9h0m7.7 6.9h0m-4.6-9.1h0m8.4 0.9h0m-11.4 0.3h0m8.4-0.4h0m7.6-4.6h0m-10.5 5.9h0m3-1h0m3.2-3.4h0m1.6 0h0m-11 0.8h0m12.3-2.9h0m1.6 1.2h0m-10.6 6.6h0m-4.9-1.7h0m10.2-6.5h0m-11.9 4.5h0m2.7 2.9h0m9-1.5h0m-9.5-1.7h0m9.1 2.5h0m-11.5-0.5h0m9.5 0.3h0m-11.9-0.9h0m12.5-4.9h0m2.8 0.2h0m-15.1 6.3h0m14.7-5.2h0m-10.8 6.2h0m1.5 12h0m-0.1-0.6h0m7.8-3.4h0m0.4-3.5h0m-1.6 6.9h0m-6.3-3.6h0m2.7-0.1h0m-0.6 0h0m-0.6-4.2h0m-2.1 3.5h0m1.7 7.1h0m-3.2-5.1h0m2.6 4.8h0m0.2-15.1h0m11.1 8.8h0m-14.1 4.2h0m-0.4-1.5h0m12.5-2.2h0m-1-0.9h0m-3.4-6.3h0m0.7 5.5h0m6.7 2.4h0m-15.1 1.5h0m4.7-3.7h0m3.3 4.6h0m2.1-0.1h0m-2.1-7.9h0m-2.7 10.5h0m-5.2-1.4h0m4.4-5.4h0m-1.8 3.3h0m2.2 2.6h0m-4.5-4h0m8.3 2.3h0m-5.9-1h0m5.3 1h0m-6.2-1.1h0m7.2-4.2h0m-1.2 3.2h0m-2.6 0.5h0m0.1-2.4h0m5.4 4.4h0m-1.5-2h0m-3.8 3.7h0m2.3-4.1h0m1.1-1.9h0m-4.5 5.1h0m-4.9-2.9h0m4.4-2.2h0m-4.3-9.8h0m2.5 14h0m-0.4-1.3h0m1.5-4.1h0m5.5-11.3h0m-2 10.6h0m7.5-9h0m-11.7 12.6h0m-5.1-10.5h0m7.2 7.8h0m6.1-14h0m-8.3 9.3h0m-4.3-3.3h0m1.3-3h0m2.2-0.7h0m-2.9 6.3h0m9.2-2.2h0" stroke="#3494d0" stroke-width="0.8" stroke-linecap="square" fill="none" opacity="0.72"/>
<path d="M205 405.4h0m-0.8 2.2h0m1.2-3.4h0m-4.7 3.8h0m-0.1-0.7h0m12.9-3.6h0m-9.6 3.1h0m5.6 0.2h0m-4.2 1.5h0m1.9-4.7h0m3.7-1.4h0m-4.7 1.6h0m-2.6-1h0m5.3-0.5h0m3.5 1h0m-3 4.1h0m0-3.8h0m-6.9 4.2h0m-0.4-4.8h0m2.5 0.5h0m2.1-0.7h0m-2.5 1.1h0m7.5 0.2h0m2.1-2.1h0m-6 3.3h0m-5.5-0.4h0m4.3-2.5h0m1 4.2h0m-2-4.3h0m5 4.6h0m0.1-3h0m0.1 4.4h0m-7.6-0.7h0m8.2-4.4h0m-4.3 5.8h0m-2.8-0.4h0m-0.5 9.9h0m-1.7 0.4h0m3.7-0.6h0m6.3-0.5h0m-13-0.4h0m2.8 3.9h0m8.7-1.4h0m-6.3-2.7h0m3.2 0.9h0m-0.7 0.5h0m1.5-3.2h0m3.8 0.9h0m-8.5 5.4h0m-0.9-2.3h0m8.1-0.4h0m2.6-1.2h0m-9.7 2.5h0m2.7-1.5h0m0.8 0.2h0m-4.3 1.4h0m4.6-3.4h0m-2.3 0.6h0m3.5 2h0m-3.2-0.2h0m1.6 0h0m-3.6-0.2h0m9.8-3.6h0m-6.9 1.9h0m-0.7-0.8h0m-1.3-0.6h0m2.4 0.7h0m2.3 2.8h0m-3.5-0.3h0m-1.9-13.8h0m4.5 9.4h0m-8.3-10.5h0m3.8 17.7h0m-2.3-15.1h0m7.7 0.5h0m-0.8 12.6h0m0.3-16.2h0m0 14.3h0m-4-8.8h0m4.5-5.6h0" stroke="#3cacb0" stroke-width="0.8" stroke-linecap="square" fill="none" opacity="0.72"/>
<path d="M206.2 403.9h0m3 2.2h0m-3.7 0.9h0m7.6-3.5h0m-10.6 1.8h0m3.3-1.4h0m3.1 3.3h0m-6.8 0.7h0m3.1-0.6h0m-2.6 0.4h0m-1-0.9h0m6 0.8h0m-7.6-1.4h0m8.1-2.6h0m-2.7 0h0m-1.3 1.9h0m-2.5 0.5h0m6.5-1.7h0m-1.6 3.9h0m-0.1 0h0m-2.1-1.8h0m6.7-3.7h0m-7 1.5h0m0.3 4.4h0m0.5-2.1h0m1.5-1h0m-3.9 2.5h0m-1.9-0.7h0m7.6-4.9h0m4 4.8h0m-4.8 9.8h0m-4.8 1.2h0m5.7-1.3h0m1.5 0.4h0m-4.9 1.9h0m2.5 1.8h0m-1.6-1.1h0m0.5 0.4h0m-1.6-2.5h0m6.1 1.9h0m-1.8-1.3h0m-1.9 0.5h0m0.8-13.1h0m-6 0.4h0m-2.1 0.4h0" stroke="#6cc250" stroke-width="0.8" stroke-linecap="square" fill="none" opacity="0.72"/>
<path d="M208.3 406.9h0m-1-0.6h0m-0.4 0.7h0m1.7-1.8h0m-0.3-0.2h0m-4.4 0h0m1.4-2.1h0m4.7 4.5h0m-2-1.1h0m-0.9-1.3h0m0.8 1.7h0m1.3-2.2h0m-3.3 1.4h0m-0.6 1.7h0m4.2-2.6h0m-0.2 0.8h0m3.4-0.8h0m-6.6-0.6h0m-2.5 2.1h0m-1-1.7h0m6.1 1.7h0m-4.5 0h0m7.8-2.4h0m-9.2 2.4h0m7.3-2h0m1.3 0.3h0m-6.7 2.6h0m7.3-2.5h0m-5.7 0.9h0m4.5-1.4h0m-5.6 13.8h0m-0.1-11.5h0m3.2 1.6h0m0.3-2.8h0m1.4-1.1h0m-4.1 0.8h0m-1-1.3h0m4 1.5h0m2.7 0.7h0" stroke="#c8d83c" stroke-width="0.8" stroke-linecap="square" fill="none" opacity="0.72"/>
</g>
<path d="M149.5 410.3H221.5M183.8 370.3V438.3" stroke="#555" stroke-width="0.9" fill="none"/>
<path d="M149.5 370.3V438.3H221.5" stroke="#666" stroke-width="0.8" fill="none"/>
<path d="M147.5 378h2M147.5 392.3h2M147.5 408.7h2M147.5 424.7h2M147.5 431.2h2M148.5 372.3h1M148.5 375.1h1M148.5 378h1M148.5 380.8h1M148.5 383.6h1M148.5 386.4h1M148.5 389.3h1M148.5 392.1h1M148.5 394.9h1M148.5 397.7h1M148.5 400.6h1M148.5 403.4h1M148.5 406.2h1M148.5 409h1M148.5 411.9h1M148.5 414.7h1M148.5 417.5h1M148.5 420.3h1M148.5 423.2h1M148.5 426h1M148.5 428.8h1M148.5 431.6h1M148.5 434.5h1M148.5 437.3h1M149.5 438.3v2M180.5 438.3v2M209 438.3v2M150.5 438.3v1M153.3 438.3v1M156.1 438.3v1M158.9 438.3v1M161.7 438.3v1M164.5 438.3v1M167.3 438.3v1M170.1 438.3v1M172.9 438.3v1M175.7 438.3v1M178.5 438.3v1M181.3 438.3v1M184.1 438.3v1M186.9 438.3v1M189.7 438.3v1M192.5 438.3v1M195.3 438.3v1M198.1 438.3v1M200.9 438.3v1M203.7 438.3v1M206.5 438.3v1M209.3 438.3v1M212.1 438.3v1M214.9 438.3v1M217.7 438.3v1M220.5 438.3v1" stroke="#555" stroke-width="0.55" fill="none"/>
<path d="M149.9 429.3v6" stroke="#222" stroke-width="1" fill="none"/>
<text x="144" y="380.3" font-size="6.4" text-anchor="end" fill="#2a2a2a" stroke="#2a2a2a" stroke-width="0.132">10<tspan dy="-3.1" font-size="4.9">5</tspan></text>
<text x="144" y="394.6" font-size="6.4" text-anchor="end" fill="#2a2a2a" stroke="#2a2a2a" stroke-width="0.132">10<tspan dy="-3.1" font-size="4.9">4</tspan></text>
<text x="144" y="411" font-size="6.4" text-anchor="end" fill="#2a2a2a" stroke="#2a2a2a" stroke-width="0.132">10<tspan dy="-3.1" font-size="4.9">3</tspan></text>
<text x="144" y="427" font-size="6.4" text-anchor="end" fill="#2a2a2a" stroke="#2a2a2a" stroke-width="0.132">10<tspan dy="-3.1" font-size="4.9">2</tspan></text>
<text x="142.5" y="433.5" font-size="6.4" text-anchor="end" font-weight="normal" fill="#333" stroke="#333" stroke-width="0.22" >0</text>
<text x="149.3" y="449.6" font-size="6.4" text-anchor="middle" fill="#2a2a2a" stroke="#2a2a2a" stroke-width="0.132">10<tspan dy="-3.1" font-size="4.9">2</tspan></text>
<text x="180.5" y="449.6" font-size="6.4" text-anchor="middle" fill="#2a2a2a" stroke="#2a2a2a" stroke-width="0.132">10<tspan dy="-3.1" font-size="4.9">3</tspan></text>
<text x="209" y="449.6" font-size="6.4" text-anchor="middle" fill="#2a2a2a" stroke="#2a2a2a" stroke-width="0.132">10<tspan dy="-3.1" font-size="4.9">4</tspan></text>
<text x="219.3" y="379.7" font-size="9.4" text-anchor="end" font-weight="bold" fill="#111" >30.2</text>
<rect x="151.9" y="372.6" width="3" height="1.6" fill="#999" opacity="0.8"/>
<rect x="151.9" y="434.9" width="3" height="1.6" fill="#999" opacity="0.8"/>
<rect x="215.7" y="434.9" width="3" height="1.6" fill="#999" opacity="0.8"/>
<rect x="217.9" y="372.8" width="3" height="1.6" fill="#999" opacity="0.8"/>
<text x="277.9" y="363" font-size="9.9" text-anchor="middle" font-weight="normal" fill="#222" stroke="#222" stroke-width="0.22" >Dmp1-Rheb-CM</text>
<rect x="243.4" y="370.1" width="68.9" height="68.2" fill="#fff" stroke="#999" stroke-width="0.8"/>
<clipPath id="cg6"><rect x="243.8" y="370.5" width="68.1" height="67.4"/></clipPath><g clip-path="url(#cg6)">
<ellipse cx="298" cy="415.5" rx="14.4" ry="6.8" fill="#5a6ade" opacity="0.22" transform="rotate(-17.2 298 415.5)" filter="url(#bl2)"/>
<ellipse cx="300" cy="403.5" rx="13.8" ry="6.1" fill="#5a6ade" opacity="0.22" transform="rotate(-5.7 300 403.5)" filter="url(#bl2)"/>
<path d="M302.3 424.2h0m-20.7 1.5h0m27.8-1.9h0m-25.7-11.5h0m21.8 5.6h0m-3.3 3.8h0m2.1 2.8h0m-24.9-1.4h0m26.3-3.9h0m-26.8-1.2h0m4.9 6h0m-4 2.6h0m8.3 1.8h0m-7.6-7.4h0m-0.8 0.2h0m3.7-3.1h0m15.4 8.5h0m1.7-5.9h0m4.1 0.7h0m-24.8-6.7h0m18 8.6h0m12.5-3.4h0m-30.3-3.2h0m-3.3 3.6h0m31.3-3.7h0m-21.1-3.6h0m13.4 13.6h0m-13.7-14.1h0m6.6 13.4h0m17.9-16.7h0m-0.6-5.9h0m-30.4 19.7h0m4.2 3.5h0m-2.7-4.9h0m0.5 3.4h0m14.1-0.6h0m-11.5 1.3h0m-7.1-5.4h0m0 1.1h0m2.3 2.7h0m16.2 2.1h0m11.3-3.8h0m-6.2 4.7h0m-18.9-30.5h0m11.2-1h0m-3.2 14.2h0m11-6.8h0m-12.8-2.7h0m21.4-6.4h0m-19.7 3.7h0m4 1.3h0m-1.5 3.6h0m0.3 1.3h0m-10.9 0.8h0m12.2-7.1h0m8.5-0.2h0m-1.9 2h0m-5.5-1.6h0m4.2 1.5h0m-5-1.4h0m-2.8 7.1h0m-10.3-1.3h0m10.4-2.2h0m-7.1 8h0m4.5-12.4h0m-1.8 4.1h0m1.2-6.3h0m-12 8.5h0m30.5-1.1h0m-20.7-1h0m1.9 5.2h0m-7.3-2.3h0m10.2-4.9h0m17 3.8h0m-7-3.6h0m-14.4 5.4h0m24.5-4.6h0m-5.1 0.8h0m-15.1 0.1h0m-1.2 2.6h0m11.3-6.1h0m-1.4 2.5h0m-11.1 5.7h0m17.1-5.6h0m0.1-4.6h0m-18 3.9h0m9.3 3.6h0m-1.7-4.3h0m-12.1 5.1h0m22.9-7.4h0m-1.8 2.4h0m-10.1-4.3h0m-2.6 6h0m-10.8 1.1h0m12.2 4.6h0m-5.7-10.4h0m16.3 32.4h0m-16.1 0.9h0m5.9-1.4h0m-7.6 6.7h0m-7.4-15.4h0m1.6 3.1h0m5.2 8.5h0m21.5-9.2h0m-2.4-29.2h0m-14.8 42.3h0m-14.8-8.5h0m5.1-22.7h0m10.3-7.4h0m17.2 26h0m-31.5-4.4h0m6.1 4.5h0m-5.5 5.9h0m18.4-3.5h0m-26.3 11.6h0m19.6-7.4h0m-11.5-14.9h0m0 7.1h0m6.6-0.9h0m0.1-7.1h0m-0.5 0.5h0m-15.7 20.4h0m-2.3-13.3h0m18.5-7.3h0m0.7 10.3h0m-10.3 5.4h0m-7.9-2.1h0m17.5-27.7h0m-4 15.3h0m19.3 11.5h0m-14.2-14.6h0m18.1 9.8h0m-22.3 8.1h0m12.7 0.1h0m-19.3-2.7h0m6.9-17.9h0m21.3 14.6h0m-21 2.6h0m-0.9-23.6h0m15.7-4.3h0m-21.6 27.2h0m-8.3 9.5h0m12.1 0.9h0m7.3-24.3h0m-11.7 21.6h0m17.4-6.4h0m-0.3 0.6h0m7.5-4h0m-20.5 9.2h0m4.3-23.7h0m4.8 13.6h0m-9.7 3.6h0m-27.7 1.4h0m-3.2 6.8h0m1.6-6h0m9.3-18.4h0m9.8 6.9h0m-3.8-0.1h0m12.2 7.1h0m-11.8 0.2h0m12.3-7.2h0m-13.6 4.6h0m16.1-1.7h0m-25.1 4h0m7.4-7.4h0m9.9 5h0m-23.1 11.2h0m14.3-8.6h0m5.3-6.7h0m-22.3 9.8h0m29.4-5.4h0m-4.4-4.3h0m-6.4 0.5h0m-11.4 3.2h0m10 5.8h0m-2.5-1.6h0m11.8-6.4h0m-15.9 6.9h0m-8 4.4h0m8.2-3.3h0m13.5-14.2h0m-24.4 14.8h0m29.1-15.4h0m3.4 13.6h0m-16.9 3.1h0m-10.3-3.1h0m15.8 0h0m-6.4-3.5h0m9.6-2h0m-17-0.7h0m-4.8 11.1h0m26.7-8.7h0m-4.4-3.8h0m-2.9-6.6h0m-5 16.5h0m-4.8-0.8h0m-12.4 1h0m2.9 3.3h0m25.4-20.4h0m-4.8 14.3h0m-23.7-1.1h0m24.8-9.1h0m0.5 2.9h0m-21.2 5.9h0m17.6-1.7h0m-8.4-3.5h0m11.2 3.3h0m-6.5-1.5h0m-6.5 3.4h0m11.2-8.9h0m-5.5 4.4h0m4.8 0.2h0m5.8-6.2h0m5.9 5.5h0m-20.5 9.4h0m11.1-8.5h0m-0.9 13h0m1.8-16.7h0m-16 11.5h0m5.4-5.7h0m2.9 3.5h0m-10.3 1.3h0m-3.6-2.8h0m0.6 6.2h0m25-6.8h0m-15.6-8.9h0m-13.1 8h0m0.6 8.5h0m5.3-4.7h0m1.8 8.1h0m9.7-11.8h0m8.2-2.4h0m-22.1 13.3h0m14.6-9.6h0m-16.4-1.7h0m3 3.4h0m9.3-1.7h0m9.7-3h0m-11.9 4.6h0m-6.3-2h0m16.5 6.2h0m4.5-20.5h0m-24 20h0m7.9-3h0m-3.1-4.5h0m6.8 0.1h0m-8.6 6.2h0m1.5-4.9h0m12.8-14.6h0m3.1 13.1h0m-12.4 3.2h0m-10.9 5.4h0m21.2-9.2h0m1.4 5h0m-16.3 3.6h0m-0.2 4h0m11.3-15.9h0m-12.3 5.4h0m7-0.1h0m-5.1 0.2h0m10.3-8h0m7.7 4.8h0m-8.6-2.6h0m-1.9 6.4h0m-10.4 2.1h0m8.3 1.7h0m17.2-11h0m-3.5 2.4h0m-25.8 6.8h0m18-7.4h0m-8.7 10h0m9.5-15.3h0m-11.5 19.4h0m1.1-6.4h0m15.3-4.2h0m5.1-3.4h0m-23.7 14.9h0m4.4-7.7h0m5.2-1.5h0m-12.8 6.6h0m5.3-10.1h0m8.2 3.8h0m-1.3 8.5h0m8.9-15.1h0m2-3.3h0m4.8 6.7h0m-10.1-0.7h0m0.7 7.1h0m-11.2 3.7h0m7.9-9.1h0m-13.3 8.6h0m8.8-17.4h0m-2.9 7h0m1.9 4.1h0m11.3-8.7h0m-2.4 5.1h0m6.6-5.8h0m3.5 1.9h0" stroke="#acacee" stroke-width="0.8" stroke-linecap="square" fill="none" opacity="0.72"/>
<path d="M309.3 421.4h0m2.1-14.9h0m-4 10.5h0m2.5-10.5h0m-5.8 15.8h0m-15.7-11.1h0m-5.2 5.9h0m17.3 3.7h0m-17-4.1h0m1.8-4.7h0m11.8-5.5h0m12 1.2h0m-25 18.2h0m20.1-4.4h0m-22.4-3.6h0m2.4 4.3h0m5.2 1.3h0m12.9-1.8h0m-21.8 0.9h0m8.3-11.3h0m2.6 0h0m18.3 2.1h0m-9.5 10h0m-6.7-0.5h0m7.2-0.7h0m10.1-3.1h0m-13.2 4.2h0m-6.3-18.2h0m10.6 19.6h0m-12.7-16.2h0m6.7 13.4h0m4.4 0.3h0m9.1-18.1h0m-1.9-2.2h0m-8.2 18.7h0m-8.3-11.9h0m1.8-0.6h0m2.1 16.7h0m-4.4-1.5h0m-8 0.4h0m15.7-1.4h0m9-2.2h0m-19.9-3.5h0m-0.9 4h0m24.9-10.2h0m-25.5 3h0m0.6 9.8h0m24.4-22.2h0m-6.6 3.1h0m2-2.2h0m2 4.4h0m-9.9-2.8h0m-9 2.6h0m-2.1-5.7h0m-3.3 5.8h0m1.2 3.1h0m5.7-8.6h0m7.8 5.8h0m-6.4-1.6h0m18 2.9h0m-5.4-8h0m3.5 6.3h0m-20.8 1.9h0m11.7-7.4h0m-12.8-1.2h0m11.2-0.6h0m-5.3 10.4h0m11-8.2h0m-24.8 2.7h0m15.8-2.3h0m-2.9-1.4h0m-10.3 9.6h0m11.9-9.6h0m4.9 1.2h0m3-4h0m-0.9 0.3h0m-9.7 5h0m-3.1 1.9h0m16.7 0.9h0m-19.5-2.7h0m14.7-1.7h0m-13.7 7.6h0m26-3.2h0m-23.4-4.9h0m3.1 1.6h0m-10.3 5.7h0m25.1-8.8h0m2.4 6h0m-0.5 2.7h0m-14.5-1.3h0m-12.5-0.8h0m21-7.9h0m-2.6 2.3h0m-5.2 0h0m-0.3 4.5h0m-5.4 7.1h0m15.8-5.7h0m-12.4 2.5h0m19.7-7.6h0m-14.9-1.4h0m15 5.7h0m-1.2-3h0m-27.7 3.7h0m6.5 4h0m20.6 8.1h0m-13.3-18.2h0m-15.9 12.1h0m5.8-3.7h0m1.1 16.5h0m20.8-14.1h0m-12.4 13.3h0m-18.3-4.4h0m9.5 3h0m1.4 9h0m-5.9-15.3h0m5.3-2.9h0m6.5 11.1h0m-7.3 5.6h0m-4.7-3.6h0m-5.2-5.4h0m12.4 12.7h0m-5.2-25.1h0m3.9 23h0m-11.4-14h0m15.7-11.7h0m-6.9 20.7h0m4.5-0.9h0m-4.8-12.6h0m17.5 13h0m1.2-23h0m-16.6 1h0m23 16h0m-20.3-10.9h0m-4.3 1.3h0m24.1-0.8h0m-22.7 14.2h0m-0.4-2.5h0m-1.8-4.6h0m22.3 1.2h0m-61.3 6.9h0m15.1-6.4h0m7.7-0.6h0m1.4-8.3h0m-23.9 18h0m28.2-6.4h0m-1.4-9.1h0m-13.3 24.3h0m-0.7-8.4h0m-1.2-0.5h0m-7.9 0.2h0m17.1-1.3h0m-12.1-2h0m-5.7 6.1h0m14.7-5.5h0m-16.7-1h0m22.8-0.5h0m6.8-4.4h0m-32 6.1h0m19-2.5h0m12.9-2.1h0m-10.2 6h0m-17.8 5.8h0m23.1-18.4h0m-19 12.8h0m21.1-11.8h0m1.3 5.7h0m-6.6-0.7h0m-21.4 15.1h0m17.5-9.3h0m1.6-10.8h0m6.3 0.2h0m-12.4 12.2h0m-10.5-5.6h0m4.7 2.3h0m17.9-5.6h0m-15.1 9.8h0m-10.8-1.7h0m27.1-4h0m-2.5-0.9h0m-2.7-5.2h0m-8.4 8.1h0m9.2-4.5h0m4.2-7.1h0m-11.1-1.2h0m-0.6 14h0m-2.3 1.1h0m-13.3 4.3h0m3.7-2.8h0m12.6-13h0m0.9 2h0m-14.1 10.6h0m5.8-3h0m8.6-8.4h0m-12.3 15.4h0m17.8-18h0m-4.2 4.9h0m5.4-1.3h0m-9 4.6h0m4.2-8.1h0m8.2 1.9h0m-8.5 3.9h0m-0.8-1.9h0m1.5-0.2h0m2.1 3.3h0m-4.1 5.9h0m4.5-9.3h0m-3.2 2.2h0m-0.1 5.7h0m-18.2 10h0m1.6-2.4h0m9.3 4.2h0m-0.6-16.7h0m4.3 0.6h0m-8.1 3h0m22.9-4.3h0m-20.3-10.2h0m-8.8 15.6h0m0.5-6.3h0m14.2 5.4h0m0.2-4.4h0m1.2 1.3h0m-3.8 1.8h0m-3 7.1h0m13.7-15.1h0m-23.8 11.8h0m21.5-13.1h0m-5.4 4.8h0m1.5 3.4h0m-6.8 10.2h0m10.7-16.7h0m-11.5 16.2h0m3.6-8.6h0m8.9-9.1h0m-1.1 3.5h0m-2.9 5h0m-19.2 1.7h0m20.7-6.5h0" stroke="#7a7ae6" stroke-width="0.8" stroke-linecap="square" fill="none" opacity="0.72"/>
<path d="M307.4 416.8h0m0.1-2.7h0m-23.2 1.3h0m4.1 3.9h0m16.1-11h0m-8.1 2.1h0m11.7 0.3h0m-23.2 5.7h0m8.2-6.2h0m-4.8 10.9h0m14.6-9.8h0m7.8 3.5h0m-2.9-0.2h0m-3-10.9h0m-19.8 21.2h0m7.5-4.1h0m4.7 1.4h0m14-9.5h0m-1.2-3.8h0m-13.9 12.1h0m-8-1.9h0m-5.1-0.1h0m26.6-5.7h0m-11.5-2.7h0m-2-4.1h0m12.6 5.3h0m-0.6 2.2h0m-9.1 4.3h0m8.4-6.9h0m-6.8-0.6h0m-15 1.6h0m15.8-7h0m3.9 4.6h0m-16.2 12.2h0m3.4-0.9h0m15.1-5.1h0m-20-4h0m19.6-2h0m-18.2 3.2h0m0.1 2.9h0m5.6 5.3h0m13-6.7h0m-10 7.9h0m-7.1-0.2h0m11.4-15.7h0m-2.1 14.2h0m8.9-6.8h0m-17.4-0.3h0m12.7-2.5h0m-19.6 8.9h0m14.5 0.8h0m10.4-4.1h0m-10.4 3.2h0m4-10.6h0m-8.9 1.9h0m-8.6 2.5h0m21.2-2h0m-0.1-2.1h0m1.6 2.9h0m-1.3-6.5h0m-8.4 3.1h0m4.4 11.7h0m-6.2 1.2h0m-0.5-12.7h0m-2.3 13h0m15.2-11.2h0m-16.5 8.4h0m0.3-8.6h0m3.7 10.3h0m-3.8-13.4h0m-7.5 11.3h0m5.5-4.9h0m2.2-3.4h0m12.2 5.5h0m0-7.5h0m-17.3 10.8h0m17.6-2.2h0m2.2-3h0m-20.4 7.5h0m4.8-12h0m16.2-1.2h0m-2.2 3.1h0m-14.7 11.3h0m13-3.9h0m3-8.9h0m-13.8-0.1h0m-6.2 0.9h0m19.3-1.1h0m-9.1-0.7h0m0.3-1.3h0m-5.9 14.2h0m9.2-3.1h0m4.5-1.6h0m-0.7-0.3h0m-12.1-7.4h0m1.1 13.8h0m11-16.2h0m2.4-1.2h0m-3.5 3.6h0m5.4 5.2h0m-5.8-1.9h0m-8.7 6.3h0m-3.8-4.8h0m-0.6 7.6h0m16.2-16.3h0m-7.5-0.7h0m-12.1 12.4h0m22-4.5h0m-23 3.9h0m24.9-18.1h0m-1.1 17.9h0m-19.8-2.9h0m0.8 7.1h0m19.8-6.9h0m-6.6-6.4h0m3.2-0.8h0m-11.1-0.7h0m-7.8-2.7h0m21.4 11.2h0m-4.6 2.5h0m4.4-8.7h0m-21.2 10.1h0m20.6-4.7h0m-20.3 1.6h0m8 4.3h0m4.9-11.5h0m3.6 6.5h0m-12.8 4.7h0m14.6-2h0m-7.7-14.1h0m3.6 2.2h0m-11.7-3.1h0m8.1 0h0m5.6 0.2h0m-7.6 4.8h0m2.6-3h0m-3.1 2.7h0m0.7-4.4h0m8.3 5.3h0m-11.2-1.8h0m1.5-2.4h0m3.5 2.9h0m2.1-3.4h0m-6.2-0.6h0m-2.7 3.6h0m5.9-2.3h0m-6.9 1.5h0m7.3-3.6h0m5.2 0.6h0m-2.8 0.4h0m-0.8 4.8h0m9 0.8h0m-10.8-4.8h0m7.3-1.1h0m3.9 0.5h0m-11.3 6.7h0m0-6.5h0m-5.1-1h0m5.9 6.1h0m7.9-3h0m-15.6 0.5h0m9.9 0.6h0m-3.8-6.9h0m12.4 2.5h0m-1.3 3.4h0m-4.4-5.3h0m-7.3-0.6h0m6.1 6.2h0m-14.9-0.8h0m7.4 2.5h0m3.9-3h0m-9.6 0h0m2.2-3.5h0m6 2.3h0m-2.1-0.7h0m-0.2-1.9h0m3.6 0.4h0m4.5 2.2h0m-0.7-2.5h0m-1.4 4.5h0m-7.7-1h0m11.6-1.6h0m-9.2 6h0m7.3-10.7h0m-3.1 8.2h0m2-4.1h0m4.4 7.4h0m-1.6-6.4h0m-8.7-1.5h0m-6.9 9.4h0m3.4-5.9h0m6.7 3.8h0m3.3 1h0m-4.5-7.1h0m2.2 1.7h0m2.7-6.1h0m-2.7 6.8h0m4.5-4.4h0m-14.1 11.3h0m17.2-11h0m-9.5-0.6h0m1-0.7h0m-8.1 4.8h0m4.2-3.4h0m3.2 6.3h0m-1.4-5.9h0m6 5.3h0m-5.4-6.1h0m10.5-2.5h0m0.8 4.2h0m-7.8 0.5h0m-1.6-0.6h0m3.6 3.7h0m1.9-3.3h0m-7.3-4h0m2.9 2.8h0m-10.9 4.7h0m6.7 0h0m1.5-3.3h0m-2.8 0.9h0m10.6-1.1h0m-7.6-0.2h0m12.2-1h0m-19.5 1.9h0m14.6 1.3h0m0.2 13.2h0m-11.2-9h0m-10.3 14.5h0m7.5-14.4h0m10.2-7.1h0m-5.9 3.8h0m0 1.9h0m8.4-6.7h0m-3.3 5.3h0m-17.3 13.9h0m8.6 0h0m-6.5-6.9h0m14.9 5.5h0m8.7-14.3h0m-15.5 1.6h0m-5.7 14h0m0.1-0.6h0m19.1-2.5h0m-0.9-11.5h0m-20.4 6.5h0m0 5.9h0m0.7-7.1h0m11.6 11.4h0m8.7-5.4h0m-21.8-2.8h0m-2.4 7.6h0m12.3-15.1h0m-3.4 14.8h0m7.1-2.3h0m-1.3-9.6h0m11.6-4.8h0m-7.4 0.6h0m-21.7 13.4h0m11.7 12.1h0m-5.3-10.9h0m10.8-9.2h0m-10.6 10.3h0m-5.4-8.9h0m-3.9 6.2h0m4.9-4.3h0m15.9-13.6h0m-11.6 24.3h0m13.5-23.5h0m7.2 11.2h0m-20.4 6.9h0m10.8-12.2h0m-11.2 7h0m13.8-11h0m-10.6 9.7h0m-2.1 7.4h0m11.5-17.4h0m2.5-2h0m-18.1 20.8h0m5.3-8.6h0m-3.4 2.9h0m-10.8 8h0m7.6-2.9h0m-33.7 6.1h0m-4.7 1.6h0m19.4-15.5h0m13.7 5.2h0m-5.3-4.5h0m0.5-4.5h0m-10.6 14.8h0m3.4-3.4h0m2.9-0.5h0m-11 2.8h0m-10.7 6.8h0m-1.6-1.6h0m22.7-15.1h0m6.1 5.5h0m-9.2-0.7h0m4.5 9.3h0m0.1-13.9h0m-1.6 4.5h0m-13.6 10.1h0m0.1-3.3h0m10.6-4.8h0m-3.9 1.4h0m3-2.8h0m-5.8 5.5h0m7.9-11.6h0m-5.5 15h0m2 0h0m-8.9-0.5h0m23.8-0.6h0m-15.4-5.6h0m-2.7 3.6h0m13.2 0.3h0m-2.7-8.2h0m-22.3 12.4h0m14.5-4.9h0m-2.4-1.1h0" stroke="#3c4cd6" stroke-width="0.8" stroke-linecap="square" fill="none" opacity="0.72"/>
<path d="M296.4 411.6h0m5 3.9h0m-7.4-2.2h0m-11.6 4.4h0m7.4-1.2h0m-0.8 3.1h0m-0.4-3.7h0m2.5-3.3h0m18.1-2.2h0m-14.8 3.1h0m11.9 1.8h0m-11.8 4.7h0m11.7-6.6h0m-13.8 0.7h0m13-3.3h0m2.2 0.6h0m-11.1 8.7h0m-1.1 1.3h0m-7.4-4.7h0m8.1 1.9h0m10.4-2.9h0m1.8-3.3h0m-4 2.6h0m0.8 2.8h0m-15.4-3.1h0m2.8-2.9h0m-3.9 6.8h0m-0.2-4h0m7.6 5.1h0m-6.2-3.4h0m9.9 2.8h0m3.2-3.5h0m-11.9-1h0m7.1-3.7h0m4.3-1.6h0m4.4 1.6h0m-4.6-2.4h0m2.2 9.4h0m-14.3 0.6h0m2.4-4.6h0m0.2-2.7h0m-0.3 3.5h0m2.1 5.8h0m2.4-10.6h0m-8.4 9.7h0m1.6-2.2h0m1 3.2h0m0-5.7h0m-0.5 5.7h0m-0.9-6.8h0m-0.3 2.7h0m17.9-6.3h0m-1.9 0.1h0m-1.2 7.6h0m-14.1-1.8h0m3.4 4.4h0m6.7-1.4h0m-9.6 0.5h0m-1.1-0.1h0m9.4-10.1h0m6.2 6h0m-1.3-6.6h0m0.8 4.2h0m-15.2 5h0m6.9 3.1h0m-2.9-7h0m3.2 5.1h0m-8.6-2.6h0m7.5-5.9h0m9.4 2.4h0m-8.7-5.3h0m1.2 11.4h0m9.3-3.5h0m-11.2 4.3h0m0-0.5h0m-4.2-9.5h0m2.8 2.2h0m15.6 0.2h0m-10.3 7.8h0m-9.8 0.1h0m11.3-10.5h0m1.7 4.4h0m5.5-2h0m-15.1-0.6h0m9.1 7.6h0m-12.1 1.9h0m3.3-0.9h0m8.5-1.3h0m-0.2-1.4h0m-4.6 1.2h0m2.5-0.3h0m1.5-10.3h0m-8.3 6.3h0m-1.1 4.5h0m-5.5-1.4h0m15.4-9.3h0m-0.5-6.9h0m1 6h0m-1.4 1h0m-4.1-5.5h0m3.4 2.9h0m-0.9-2.6h0m2.8 2.6h0m-4-2.6h0m1.9 3h0m-4.2-5.3h0m6.5 1.1h0m-3.7 1.2h0m5.1 4.3h0m-2.1-5.2h0m-4.8 1.2h0m2.2 1.3h0m6.1 3h0m-0.4-6h0m-2 3.4h0m2.3-1.8h0m-6.3 0.8h0m0.6 2h0m-3 0h0m1.8 0.5h0m-1.9-0.3h0m4.9 1.3h0m-8.2-0.9h0m7.6 0.5h0m-0.8 1.5h0m-1.7 0.7h0m5.8 1.7h0m1.3-8h0m-4.9 3.8h0m1.3-4.9h0m-2.6 4h0m-3.9 0.3h0m1.2-1.3h0m-12.3 14h0m9.2 1.2h0m13.1-4.5h0m-9.6-6.7h0m-6.1 4.7h0m13.1-5.4h0m-10.1 11.5h0m9.9-2.3h0m-7.6-5.7h0m-2.9-1.4h0m2 10.3h0m-3.5-5.8h0m9.7-2.8h0m2.2 1h0m-11.5 5.2h0m-0.2 2.2h0m6.5-0.1h0m3.8-13.5h0m-8.2 6.2h0m4.2 8.5h0m-7.6-2.4h0m-3.4-1.3h0m16.2-6.8h0m-13.6 4.1h0m7.6-9.3h0m-7.8 7.8h0m-3.2 8.6h0m6.1-2.7h0m9.1-15.6h0m-8.9 16.2h0m10.4-12.2h0m1.4-0.6h0" stroke="#3466d6" stroke-width="0.8" stroke-linecap="square" fill="none" opacity="0.72"/>
<path d="M301.1 412.8h0m-3.1-1.9h0m-3.6 5h0m8 0.1h0m-2.1-5h0m4.4 3.9h0m-6.9-1.8h0m-0.5-2.3h0m0.9 0.2h0m-3.3 0.7h0m8.2 3.6h0m0-6.1h0m0.7 6.8h0m-2.6 0.2h0m-10.6 0.6h0m14.4-3.2h0m-1.5 2h0m-10.6 0.9h0m2.2-4.3h0m3.4 0.2h0m0-2.2h0m3.4 6.5h0m1.1-7.4h0m-3 10h0m5-8.1h0m-0.7 4.4h0m0.6-1.2h0m-1.3 1.1h0m-1-1h0m-9.8 4h0m-2.3 0h0m1 0.8h0m-2.2-3.7h0m9.6 3.4h0m-8 1.6h0m0.5-5.6h0m1.6 1.6h0m12.1-4.5h0m-1 2.6h0m-8.7 4.1h0m8.9-2.4h0m-6.7-4.3h0m3.8 4.7h0m2.4-1.3h0m0.2 0.2h0m-2-4.1h0m2.4 0.9h0m0.6-1.2h0m-15.3 3.5h0m8.9 3.4h0m-0.3-10.7h0m4.5 9.5h0m-0.5-6.4h0m-3.3 0.7h0m-8.5 5.1h0m12.1-6.8h0m0.6 2.2h0m2.3 2.5h0m-16 3.5h0m4.4 3.2h0m5.3-2.8h0m-5.9 0.9h0m0.6-5.3h0m-3.7 2.1h0m2.8 1.7h0m8.9-3.9h0m5.1-1.9h0m-4.4 2.3h0m-11.8 5.2h0m12.8-2.7h0m-6.7-4.2h0m-6.3 6.6h0m0-0.4h0m16.2-4.1h0m-6.7 0.5h0m1.4 3.5h0m-9.4 1.8h0m5.7-4.9h0m-4.6-1h0m6.4-3.2h0m-4.8 8.2h0m8-14.1h0m-5.1 4.8h0m0.7-2.6h0m-2.5 4.9h0m-2.8 0.4h0m1-3.6h0m2.4 2.1h0m0.3-0.8h0m-3.3 9.5h0m9-5h0m-0.2-3.7h0m-7.6 6.3h0m-5-1.6h0m6.4 3h0m9-6.4h0m-10.3 7.2h0m3.1-5.3h0m-2-2.4h0m-4.5 7.9h0m-3.5-1.4h0m4.7-3.1h0m9.2-6.9h0m-4.1 1.5h0m4.6 5.7h0m-9.5 2.2h0m1.8-6.3h0m-5.3 4.4h0m7.3-3h0m6.8 3.8h0m-1.6-0.7h0m-8.4-0.2h0m12.6-1.9h0" stroke="#3494d0" stroke-width="0.8" stroke-linecap="square" fill="none" opacity="0.72"/>
<path d="M292 417.5h0m11.3-4.5h0m-8.7-0.4h0m8.5 3.1h0m-9.9 0.2h0m2.8-3.9h0m-1.4 1.2h0m0.3 6.2h0m1.8-2.8h0m-2.6-4.3h0m-3.2 4.5h0m2.4 0.6h0m3.7 1h0m-0.4-0.4h0m-4.3-2.7h0m5.4 3h0m-3.1-3.1h0m3.8 2.2h0m1.8-3.8h0m3.3-0.2h0m-13.3 5.9h0m7.7-4.5h0m-3.8-0.2h0m-1.6-1.1h0m8.5-0.5h0m-0.1-3.2h0m-0.4 5.2h0m-2 2.1h0m-1.2 1.2h0m3.1-7.9h0m-2.8 7.8h0m4.6-5.9h0m-8.5 3.7h0m7.9-3.6h0m0.3 3.8h0m-4.4-5.3h0m-3.3 2h0m6.5 4.3h0m0.8 0.3h0m-8.2-0.9h0m2.1 1h0m5.3-1.9h0m1.9-0.6h0m-6.9 3.4h0m6.5-5.5h0m-6.2 5.5h0m-2.1-3.7h0m-2.1 3.1h0m-2.3-1.2h0m6.5 2.3h0m1.6-0.4h0m2.3-2.1h0m-5.6 2.3h0m5.2-4.9h0m-5.9 2.5h0m10.3-0.9h0m-3.7-0.4h0m3.4 0.2h0m-7.4-0.2h0m-6.2 2.6h0m13.8-1.2h0m-1.3-1.7h0m-2.8-1.1h0m-0.9-8.7h0m1.2 4h0m1.4 4.5h0m1.5-6.1h0m-5.6 6.9h0m5.8-2.1h0m-2.7 0.7h0m0.6 4.7h0m3.5-3.9h0m-6.7-2.5h0m2.2 1.1h0m3.4 3.1h0m-6.9-4.4h0m-1.4 6.6h0m10.4-3.8h0m-14.2 4.1h0m9.6-5.2h0m0.3 4.2h0m-0.9-4.3h0m-2.1 5.4h0m-3 0.9h0m6.1-4h0m-9.3 2.7h0" stroke="#3cacb0" stroke-width="0.8" stroke-linecap="square" fill="none" opacity="0.72"/>
<path d="M297.6 418.5h0m1-0.7h0m-2.8-3.2h0m2.9-0.3h0m4.5-0.6h0m-10.5 1h0m-0.7 2.4h0m10.5-2.7h0m-2.4-1.3h0m-2 0.1h0m1.1 5.1h0m-3.2-0.5h0m7.2-4.6h0m-4.7-0.5h0m-0.7 0h0m-3.6 3.3h0m4.2 2.4h0m0.9-0.7h0m-5.7-1.6h0m2.2-2.9h0m4.2-0.2h0m-4 0.2h0m1.4 3.7h0m-0.1 1h0m3.2-6.2h0m-7.2 5.5h0m3.1 0h0m-1.4 1.5h0m2.2-2.3h0m0.4 0.5h0m0 0.5h0m-3.1-2.4h0m0.8-0.1h0m5 2.1h0m-0.5 1.7h0m-0.9-1.2h0m-3-2.2h0m5.7-2.6h0m-1.7-0.5h0m-3.4 2.3h0m6-2h0m-7.3 5.3h0m-3.9-2.5h0m4-0.9h0m2.3 4.3h0m-4.9 0.8h0m3.4-0.9h0m4-5.1h0" stroke="#6cc250" stroke-width="0.8" stroke-linecap="square" fill="none" opacity="0.72"/>
<path d="M298.9 415.6h0m3.7-2h0m-4.4 1.6h0m-2.5-1.6h0m-1.1 1.9h0m5.3 1.6h0m-2.7-3.4h0m1.6 0.8h0m0 1.9h0m-2.8 2.1h0m-0.5-0.7h0m0-3h0m4-0.4h0m-3.5 2.6h0m-1.4-2.3h0m1 3.1h0m0.4-2.3h0m-2.8 1.2h0m8.3-2.6h0m-3.5 2.9h0m-2.6-0.1h0m1.4-2.1h0m2.7-0.4h0m-0.5 0.8h0m-4.4 0.8h0m2.4-0.5h0m2.4-2.7h0m-1 3.3h0m-3 1.1h0m4.3-3.5h0m-2 1.5h0m-0.4-0.2h0m0.3 0.4h0m3.9-1.1h0m-4.4 0.6h0m1.4-2.2h0m-1.5 3.8h0m0.7-2.9h0m-1.1 0.4h0m1.8-1h0m-1.7 0.7h0m2.1 1h0m-1.9-1.3h0m2 1.3h0m-5.7 3.4h0m-0.6 0h0m7.9-6.4h0m-2.8 5.4h0m1.5-3.4h0m-1.2 0.8h0m3.1-1.8h0m-4.7 1.9h0m0 0.7h0m1.6-1.5h0m3.3 2.4h0m-3.1-3.2h0m2.1 2.1h0m-0.7 1.1h0m-1.6-2.4h0m3.6 1.1h0" stroke="#c8d83c" stroke-width="0.8" stroke-linecap="square" fill="none" opacity="0.72"/>
</g>
<path d="M243.4 410.5H312.3M276.5 370.1V438.3" stroke="#555" stroke-width="0.9" fill="none"/>
<path d="M243.4 370.1V438.3H312.3" stroke="#666" stroke-width="0.8" fill="none"/>
<path d="M241.4 377.8h2M241.4 392.2h2M241.4 408.6h2M241.4 424.7h2M241.4 431.1h2M242.4 372.1h1M242.4 374.9h1M242.4 377.8h1M242.4 380.6h1M242.4 383.4h1M242.4 386.3h1M242.4 389.1h1M242.4 391.9h1M242.4 394.8h1M242.4 397.6h1M242.4 400.4h1M242.4 403.3h1M242.4 406.1h1M242.4 409h1M242.4 411.8h1M242.4 414.6h1M242.4 417.5h1M242.4 420.3h1M242.4 423.1h1M242.4 426h1M242.4 428.8h1M242.4 431.6h1M242.4 434.5h1M242.4 437.3h1M243.4 438.3v2M273 438.3v2M300.4 438.3v2M244.4 438.3v1M247.1 438.3v1M249.8 438.3v1M252.4 438.3v1M255.1 438.3v1M257.8 438.3v1M260.5 438.3v1M263.1 438.3v1M265.8 438.3v1M268.5 438.3v1M271.2 438.3v1M273.8 438.3v1M276.5 438.3v1M279.2 438.3v1M281.9 438.3v1M284.5 438.3v1M287.2 438.3v1M289.9 438.3v1M292.6 438.3v1M295.2 438.3v1M297.9 438.3v1M300.6 438.3v1M303.3 438.3v1M305.9 438.3v1M308.6 438.3v1M311.3 438.3v1" stroke="#555" stroke-width="0.55" fill="none"/>
<path d="M243.8 429.3v6" stroke="#222" stroke-width="1" fill="none"/>
<text x="237.9" y="380.1" font-size="6.4" text-anchor="end" fill="#2a2a2a" stroke="#2a2a2a" stroke-width="0.132">10<tspan dy="-3.1" font-size="4.9">5</tspan></text>
<text x="237.9" y="394.5" font-size="6.4" text-anchor="end" fill="#2a2a2a" stroke="#2a2a2a" stroke-width="0.132">10<tspan dy="-3.1" font-size="4.9">4</tspan></text>
<text x="237.9" y="410.9" font-size="6.4" text-anchor="end" fill="#2a2a2a" stroke="#2a2a2a" stroke-width="0.132">10<tspan dy="-3.1" font-size="4.9">3</tspan></text>
<text x="237.9" y="427" font-size="6.4" text-anchor="end" fill="#2a2a2a" stroke="#2a2a2a" stroke-width="0.132">10<tspan dy="-3.1" font-size="4.9">2</tspan></text>
<text x="236.4" y="433.4" font-size="6.4" text-anchor="end" font-weight="normal" fill="#333" stroke="#333" stroke-width="0.22" >0</text>
<text x="243.2" y="449.6" font-size="6.4" text-anchor="middle" fill="#2a2a2a" stroke="#2a2a2a" stroke-width="0.132">10<tspan dy="-3.1" font-size="4.9">2</tspan></text>
<text x="273" y="449.6" font-size="6.4" text-anchor="middle" fill="#2a2a2a" stroke="#2a2a2a" stroke-width="0.132">10<tspan dy="-3.1" font-size="4.9">3</tspan></text>
<text x="300.4" y="449.6" font-size="6.4" text-anchor="middle" fill="#2a2a2a" stroke="#2a2a2a" stroke-width="0.132">10<tspan dy="-3.1" font-size="4.9">4</tspan></text>
<text x="311.2" y="378.6" font-size="9.4" text-anchor="end" font-weight="bold" fill="#111" >6.8</text>
<text x="367.4" y="351.3" font-size="9.9" text-anchor="middle" font-weight="normal" fill="#222" stroke="#222" stroke-width="0.22" >Dmp1-Rheb</text>
<text x="367.4" y="362.6" font-size="9.9" text-anchor="middle" font-weight="normal" fill="#222" stroke="#222" stroke-width="0.22" >+IL-19-CM</text>
<rect x="333.2" y="370.5" width="68.3" height="67.7" fill="#fff" stroke="#999" stroke-width="0.8"/>
<clipPath id="cg7"><rect x="333.6" y="370.9" width="67.5" height="66.9"/></clipPath><g clip-path="url(#cg7)">
<ellipse cx="390" cy="403.5" rx="10.3" ry="5.2" fill="#5a6ade" opacity="0.22" transform="rotate(-5.7 390 403.5)" filter="url(#bl2)"/>
<ellipse cx="390" cy="420" rx="14.7" ry="10.6" fill="#5a6ade" opacity="0.22" transform="rotate(-11.5 390 420)" filter="url(#bl2)"/>
<path d="M375.5 410h0m20.1-1.9h0m-13.2-8.4h0m0.1-0.9h0m-10.4 1h0m5.8 1.2h0m0.5 1.3h0m5.2 5h0m-1.7 0.3h0m-1.3 2.6h0m19.2-4.2h0m-15.3 3.8h0m-11.9-1h0m5.3-7.1h0m6 9.5h0m15-14.1h0m-21.9 9.2h0m6.3 1.3h0m0-11.9h0m-5.3 27.7h0m13.2-11.2h0m-18.5 19.8h0m14.1-12.9h0m10 5.6h0m1.1 8.1h0m-32.8-4.4h0m30.1-12.8h0m-30.5 9.8h0m31.4-7.2h0m-10.3 2.4h0m-1.8 4.4h0m-6.5-2.4h0m19.4-5h0m-15-3.4h0m2.2 18.9h0m-6.1-17.9h0m-9.2 7.2h0m14.3 5.8h0m-1.8-10.7h0m-7.5 1h0m2.2 13.4h0m-0.5-4.9h0m8.1 0.6h0m14.9-8.1h0m-4.9 0.6h0m-12.4 4.7h0m-9.7 2.4h0m26.8 0.3h0m-20.8-11.3h0m16.7-2.4h0m-6.7 11.7h0m-6.8-10.6h0m9.9 15.8h0m-14.3-3.9h0m9.9-1.7h0m-1.1-9.2h0m11.9 5.3h0m-13.8 3.7h0m-3.1-0.7h0m-20.7 3.5h0m27.1-16.3h0m-7.7 18h0m-16.8-0.9h0m17.1-1.3h0m-7.2 2.5h0m27.8-7h0m-18.5 7.9h0m2.9-14.6h0m-17.2-3.8h0m-0.1 12.4h0m2.9 5.3h0m-12.4-9h0m29 7.5h0m-7.9 0.9h0m4.8-4.6h0m-30.5 2.7h0m14.7-4.7h0m-9.9 7h0m11.1 3.7h0m13.1-20.3h0m2.7 2.2h0m6.9 16h0m-23.1-6.7h0m-16.6-6h0m-5.8 6.7h0m-7.5 4.6h0m31.3-18.7h0m-16.9 6h0m-14.9 8.3h0m1.6-2.9h0m17.6 1.5h0m-1.9-6.3h0m-15.6 10.6h0m19-14.2h0m-0.8 8.9h0m-16.7-0.8h0m11.1 5.2h0m-7.1-5.2h0m-10.4 3.2h0m11.5-14.2h0m24.2-3.3h0m-20.7 13h0m-8.9 3.1h0m-2.2 9.3h0m10.4-11.7h0m21.8-13h0m-13.3 6.8h0m7.1 5.3h0m-6-6.6h0m-5.5 6.5h0m0.2-6.2h0m-8.3 6.2h0m14.8 0.7h0m12.3-7.9h0m2.2-5.9h0m-5.5 7h0m-21.2 12.8h0m21-13.4h0m-6.2 5.6h0m9 3.8h0m-10.1 2.8h0m-4.1-2.3h0m20.5-6.5h0m-27.6 1.4h0m10.5 1.9h0m16.9-5.5h0m-27.7 8.9h0m-4.8 4.5h0m27.9-14h0m-32.7 5h0m-1.7 1.2h0m-2.5 8.4h0m18.9-12.1h0m19.9-10.1h0m-36.9 18h0m7.5 3.8h0m27.6-16.3h0m-16.3-0.3h0m-4.9 14h0m13.4-15.6h0m-1.9 11.9h0m7.6-14.4h0m-16.1 5.4h0m-8.1 8.5h0m11.4-4h0m-16.2 3.2h0m19-3.7h0m14.1-10.5h0m-0.6 2.2h0m-4.2 11.3h0m-9-5.4h0m-2.4 2.9h0m-14.6 15.9h0m-7.9-10.9h0m4.6 8.4h0m11.3-15.8h0m6 5.5h0m-12.3 0.2h0m-3.8 10.9h0m7.4-8.6h0m-13.7 4.2h0m22.5-7.7h0m-5.3 3h0m-5.8-2.7h0m-11.8 8.8h0m27.3-9h0m15.5-2.2h0m-10.3-8.8h0m-5.6 10.4h0m-9 4.5h0m1.5-7.3h0m15.2-2h0m-33.6 14.4h0m41.9-13.3h0m-35.8 5.6h0m0.8 4.8h0m23.7-13.7h0m1.5 3h0m-2.1-3.7h0m-24.1 16.4h0m31.1-8.1h0m-17.1 10.5h0m20.5-13.3h0m-28.3 3.5h0m25-13.8h0m-34.6 23.6h0m34.2-14.1h0m-21.6 7.5h0m26.1-12.3h0m-12.3 0h0m-29 15.5h0m18.1-14.1h0m-16.4 15.6h0m25.1-17.4h0m-9.4 6.3h0m1.2 6.2h0m-5.1-5.6h0m12.5-2.9h0m-11.1 2.7h0m-5.9 7.6h0m25.6-9.3h0m2.1-8.6h0m-11.8 10.9h0m14.5 0.6h0m-14-5.2h0m-17.4 13.7h0m7.3-7.3h0m21.5 1.8h0m-8.7 5.2h0m-13.3-10.5h0m3.6 2.9h0m22.3-4.7h0m-37.4 10.4h0m5.1-3.2h0m8 0.3h0m-13.2-4.5h0m37.4-4.2h0m-4.9 6.7h0m-31.6 7.4h0m19.8-7.9h0m19.6-2h0m-39.9 12.1h0m14.3-13.3h0m5.3 2.8h0m-11.2 5.6h0m-9.1-2.4h0m32.2-7.9h0m-11.9 9.2h0m-15.2 1.3h0m-9.6 1.9h0m3.3-6.1h0m8.5 0.4h0m4.3 5.4h0m-1.4 2.2h0m-3.6-8.7h0m19.5-5.1h0m4.4 0.6h0m-26.1 7.8h0m12.3-1.7h0m-10.9 4.1h0m19.2-7.2h0m-13.8 5.4h0m-7.7-2.6h0m2.7 0.4h0m0.2-1.5h0m8.5 5.3h0m-6.9-3.4h0m27.8-4.4h0m-37.8 4.8h0m30.1-7.1h0m-12 4h0m-8.1 9.9h0m7-7.6h0m-4.8 2.5h0m23.8-22.8h0m-9.2 19.3h0m-27.8 3.3h0m16 0.4h0m-1.9 0.7h0m-9.1 3.3h0m-5.1-4.3h0m31.5-12h0m-25.3 19.3h0m9.8-9.4h0m24.2-7.7h0m-22.4 9.5h0m21.9-15.5h0m-11 3.4h0m-22 5.3h0m-1.8 14.6h0m4.1-11.6h0m-3.6 4.4h0m6.8-0.7h0m1.2 3h0m-1-3.9h0m26.1-16.6h0m-17.5 9.8h0m16.6 1.2h0m-28.7 11.8h0m11.1-11.7h0m8.1-3.9h0m9.5-7.8h0m-2.6-3.4h0m-21.1 25.8h0m1.5-7.4h0m7.9-3.1h0m-19.4 2h0m26.4-12.5h0m-25.8 11.6h0m29.5-4.8h0m-2.5 6h0m-13.1-7.3h0m-13.9 13.5h0m2.6-4.3h0m-3.7-3.8h0m38.4-5.1h0m-33.7 9.3h0m20-7.7h0m-1.3 3.1h0m2.7 1.8h0m-19.6-3.2h0m-4 4.3h0m30.8-12.5h0m-22.4 9.3h0m-9.8 2.8h0m36.1-3.7h0m-29 14.7h0m9.6-2.8h0m-15.4-5.4h0m-4.1 7.9h0m4.3-7.8h0m-3.4-3h0m0.5-0.9h0m15.5-5.4h0m-15.3 6h0m2.5 5.8h0m31-21.7h0m-17.7 5.5h0m15.7-2.2h0m-14.9 5.1h0m4.1 7.5h0m-9.4 6.4h0m3.7-10.3h0m3.9 0.3h0m-5.9 3.7h0m-12.4 6.8h0m39.5-2.4h0m-4.5-2.6h0m-28.1-1.8h0" stroke="#acacee" stroke-width="0.8" stroke-linecap="square" fill="none" opacity="0.72"/>
<path d="M380 404.1h0m-4-1.9h0m22.7 9.4h0m-6.2-13.4h0m-2.5-3.1h0m6.7 2h0m-0.8 0.7h0m-0.1 11.6h0m-12.1-10.5h0m3-0.9h0m-7.8 7.4h0m16 4.6h0m-10.9-0.6h0m15.9-8.3h0m-5.7 7.8h0m-9.9-12.9h0m-2.6 3.3h0m14.4 9.8h0m-8.5-12.3h0m-5.5 2.8h0m15.9 8.5h0m-18.2-7.9h0m8.4 23h0m-13.2 5.1h0m19.2-10.7h0m1.6-7.2h0m2.6 2.3h0m-13.8 1.1h0m3.8 12.5h0m-4.8-7.5h0m7.2 10h0m4-12.9h0m-7.2 4.5h0m9.4 1.8h0m2.2 1.8h0m-18.4-14.3h0m8 7.2h0m-9.4 8.6h0m17.4-5.7h0m-0.1-1.1h0m-8.3 0.3h0m4.5-8.5h0m-7.9 9.6h0m5 4.5h0m6.2-8.3h0m-18 8.6h0m0.6 4.8h0m9.2-15.5h0m2.1 10.5h0m2.2-1.5h0m-17.8-11.7h0m3.1 5.5h0m4.3 5.7h0m-1.2-11.6h0m14.4-3.4h0m-18.1 18.3h0m14.4 2.3h0m-3.6-12.1h0m-3 0.1h0m10.8 3.4h0m-14.3 7.1h0m8.9 1.9h0m7.7-15.7h0m-9.4 7.8h0m-17.2 7.3h0m16.8 5.6h0m4-17.6h0m-0.3 0.3h0m-19.5 4.9h0m27.2-11.6h0m-9.6 14.6h0m-10.1 1.9h0m10.5-6.9h0m0.4 2h0m0.1-2h0m-12.6-2.9h0m16.4-0.6h0m-15.9 2.7h0m-7 1.7h0m11.5-5h0m-10.4 13.9h0m11-8.6h0m-11.7 13.6h0m27.4-23.9h0m-9.5 15.6h0m-5.8-1.6h0m-9.3 1.6h0m-13 10h0m31.1-17.5h0m-23.6 9h0m4.6-7.8h0m14.9-3.1h0m-11.7 8.9h0m13.3-1.2h0m-25.5-8.3h0m23.8-1.9h0m6.2-1.7h0m-15.7 4.5h0m-15.2 12.6h0m6.7-11.8h0m28.1-4.3h0m-27.3 21.6h0m2.1-9.3h0m7.7 6.5h0m-4.2-12.3h0m-0.6-2.2h0m-3.8 0.1h0m-6.8 17.7h0m30.7-19.6h0m-18.1 9.1h0m0.6 8.5h0m4.2-12.6h0m-1.2-4.4h0m-10.8 2.6h0m-3.1-5.3h0m-9.4 8.5h0m-9.3 3.2h0m11.4-2.9h0m-11.6 3h0m-14.1 0.7h0m23.8-4.6h0m-2.4-2.1h0m-17.6-3h0m11.3 7.2h0m-13.9 6.9h0m20.5-7.2h0m12.1-6.5h0m-28.5 12.3h0m10.9-2.1h0m8.1-8.7h0m10.5-9.3h0m-18.7 15.1h0m27.2-6.2h0m-30.1 10.6h0m-2.5-8.4h0m21.8-5.9h0m-10 5h0m14.9-2.4h0m-22.2 8.3h0m14-6.3h0m-15.6 2.5h0m8.4-2.4h0m6.2 10.8h0m-22-8h0m-1-0.3h0m14.4-0.2h0m18.9-3.5h0m3.2 3.9h0m-20.9 0.6h0m6-11.3h0m-27.3 17.4h0m29.1-5.2h0m-6.3 2.3h0m-15.7-2.4h0m30.6-11.9h0m-22.9 11.2h0m-10.6 6.8h0m15.6-8.9h0m-0.8 7.5h0m-14.3-4.6h0m11.3-1.4h0m14.1-1.2h0m-17.6 2.9h0m22.6-2.7h0m-11.5 1.2h0m5.7-8.8h0m-12.7 4.8h0m-7.3 14.2h0m27-19.7h0m-6 9.3h0m-26.3 9.2h0m34.6-14.8h0m-24.9-1.1h0m20.5-3.8h0m6.1-0.7h0m-7.6 11.1h0m2.1-12.7h0m-31.5 13.4h0m40.2-10.5h0m-13.6 1.1h0m2.8 6.3h0m-9.6-4.2h0m16.2-2.6h0m-6 5.5h0m-20.1 8.1h0m12.7-11.1h0m-14.1 11.6h0m-8.1-1h0m24.3-2h0m-11.6 1.7h0m7.9-9.3h0m-0.9 3.7h0m7.3 2h0m6.3-9.5h0m5.9 1.9h0m-19.3 4.2h0m-21.7 10.2h0m27.4-10.8h0m-16.6 5.6h0m16.8-2.3h0m-24 5.9h0m24-8.1h0m-4-1.3h0m-21.6 10.8h0m9.8-4.2h0m-0.8-1.8h0m19.2-10.6h0m-27.2 19.3h0m33.8-19.5h0m-21.1 13h0m21.7-4.8h0m-10.9-9.2h0m-0.6 3.7h0m-20.9 15.5h0m1.5-5.7h0m10-8.3h0m-2.2 9.2h0m-8.5-0.1h0m20.5-10.2h0m-16.5 7.2h0m-9.1 6h0m28.5-11.2h0m-11.4-3.1h0m9.3 4.1h0m-12.6 8.1h0m1.6-4h0m-18 0.7h0m23.1-7.3h0m-3.6 3.2h0m18.4-2.6h0m-35.8 4.2h0m19.3 7.4h0m-5.7-2.2h0m-5.4-1.8h0m-4.9 0.3h0m14.2-8.3h0m-0.6 0.7h0m-11 6.9h0m15.1 2.6h0m-15.6-0.5h0m14.2-12.7h0m-3.5 3.1h0m16.6 3.3h0m0.1 2.1h0m8.2-1.8h0m-22.1-6.9h0m0.4-6.3h0m-1.4 8.7h0m6.7 17.4h0m-23.1-6.5h0m9.9-0.6h0m14-3.8h0m-24 11.5h0m41.2-11h0m-28.7-1h0m-8.2 3h0m22.4 3.1h0m-28.7 1.1h0m27.7-13.9h0m-26.4 9h0m16.3 1.1h0m-6.7-2.9h0m22.2-11.4h0m-19.6 13.6h0m-4.4 0.5h0m-1.6-4.7h0m10-2.7h0m21.6-9h0m-26.6 15.1h0m22.9-18.3h0m-20.7 16.5h0m17.2 0.4h0m-32.1 7.9h0m24.8-4.2h0m-1.2-6.4h0m14.7-10.8h0m-38.8 20.4h0m7.5 2.3h0m3.8-11.5h0m22.9-7h0m-25.8 14.2h0m27.2-6.3h0m-15.2-1h0m12.3-0.2h0m8.7 3.1h0m-19.2-6.3h0m8.7 5.8h0m6.8-6.6h0m4.9 3.2h0m-22.7 11.8h0m-5.8-15.2h0m6.4 6.9h0" stroke="#7a7ae6" stroke-width="0.8" stroke-linecap="square" fill="none" opacity="0.72"/>
<path d="M393.9 398.1h0m6.7 2.7h0m-18.4 10.1h0m-3.6-5h0m20.5-6.6h0m-17.5 2.7h0m-1.3 3.1h0m2.6 1.6h0m2.3-0.2h0m0.5-7.7h0m0.3 0.3h0m-1.8 1.4h0m6.6 7.2h0m7.4-6.2h0m-19.7 5.3h0m18.7 1h0m-7.3-9.6h0m3.2 0.4h0m2.4 8.9h0m0.3 1h0m-15.6-3.8h0m11.6-7.8h0m-2 1.5h0m5.9 0.1h0m-10.7 1.5h0m13.9 1.4h0m-6.2 8.6h0m-3.4-1.2h0m10.7-7.6h0m-12.8-0.8h0m4.4 10h0m-2.7-11.4h0m-6.4 6.4h0m15.2 3h0m-6.9-10.1h0m-1.7 9.7h0m-6.8-6.3h0m10.2-3.4h0m-0.7 10.8h0m-5-8.8h0m-0.4-2.6h0m7.3 9.3h0m-3.4-8.2h0m-13.5 6.5h0m15.7 2.4h0m7.6-4.6h0m-1.6-0.2h0m-20.1 4.8h0m18.2-1.2h0m3.5-4.6h0m-24.9 2.4h0m16.1-6.5h0m7 8.8h0m-0.2-2h0m1 0.9h0m-18.8-1.7h0m15.2 3.4h0m2.4-1h0m-8.6 3.2h0m5.6-1.3h0m-19-4.1h0m24.3 2.6h0m-10.5-8.4h0m7.2 4.7h0m2.1 5.1h0m0-8.4h0m1.1 5.8h0m-12.8-6.1h0m-7.5 3.7h0m0.5 7.2h0m4-4.6h0m4.5 2.9h0m6.8-9.6h0m-0.7 9.7h0m-1.1-0.7h0m-5.6-8.6h0m2.5-0.5h0m-2.4-1h0m8 18.8h0m-1.9 5.6h0m-1.5-10.5h0m-4.6 13.7h0m4.5-2.9h0m-6.7-4.6h0m6.7 3h0m0.5 0.5h0m-13.9 7.8h0m7.5-5.6h0m3.6-5.1h0m1.7 0.7h0m-3.8 2.9h0m-10.8-20.4h0m20.5 11.8h0m-9.3 5.9h0m-5.8-10.6h0m0.6 4.4h0m3.4 12.2h0m1.5-16.6h0m-1.2 17.6h0m11.9-8.4h0m-10.8 1.1h0m-4.4 6.1h0m-8.9-7.1h0m23.6 7h0m-8.4-9h0m-6.7 9.4h0m11.7-16.3h0m-9.5 9.8h0m7.6-7.7h0m-3.3-1.4h0m-13.2 12.6h0m9.3-6.1h0m3.6 6.3h0m-1.1-1.5h0m-1.3-2.2h0m11.8-8.8h0m-0.3 8.1h0m-9.5 0.2h0m-4.6 5.3h0m-1.6 1.8h0m11.1-11h0m4.5 2.9h0m-7.1-3h0m-8.5 8.6h0m13.9-7.2h0m-6.1 1.7h0m4.8-2.4h0m-3.2 3.1h0m1.8 0.5h0m-7.9-1h0m-6.4-0.8h0m-0.6-5.3h0m6.1 1.3h0m13.9 4.7h0m-18.9 3.4h0m9.4 1.3h0m8.7-2.5h0m1.5 5.5h0m-33.6-4.4h0m33.9-3.5h0m-28.1-4.3h0m20.6 16.1h0m-0.8-15.8h0m-0.7 6.2h0m5.9-2.9h0m-0.8 3.5h0m1.2-5.6h0m-2.1 12.9h0m-14.7-9.9h0m8.3 0.8h0m-5.8 6.2h0m10.1-11.6h0m-13.9 4.9h0m0.2 7.1h0m16-9.7h0m-15.1 13.6h0m-2.2-14.6h0m-5.3 13.6h0m10.8-5.7h0m3.4 0.3h0m-3.1 11.1h0m-6.1-23.2h0m7.7-0.4h0m-7.5 15.7h0m0-17.7h0m8.9 1.5h0m-5.8 3.9h0m6.5-5h0m9.3 1.7h0m-25.5 11.9h0m19.8-0.9h0m-6.1 1.6h0m3.8-5.9h0m-10.3 7.9h0m5.4-7.4h0m-2.3-4.9h0m1.8 4h0m-22.6 9.5h0m38.9-17.4h0m-18.7 12.2h0m-0.5-2.9h0m12.7-1.2h0m1.7 5h0m-15-9h0m11.7 1.9h0m-16.9 2.5h0m13.9 2.8h0m3.5-12h0m-41.2 20.2h0m-9.3 1.8h0m27.7-11.7h0m-9.2-3.1h0m14.6-5.2h0m-7.9 8.3h0m-2.8 0.8h0m13.5 0.7h0m-6.9-4.8h0m-11.6 7.6h0m15.9-7.5h0m-24.4-0.5h0m18.7 1.2h0m-21 11h0m0.6-0.1h0m23.8-14.2h0m-0.3 4.3h0m4.8 0.9h0m-13.1 2.4h0m-19.6 3h0m29.2-9.9h0m-16.4 7.7h0m-15.6 5.1h0m2.3-5h0m17 4.7h0m-16.6 0.1h0m18.2-9.5h0m-14.2 7h0m-8.5 1.2h0m22.5-4.4h0m1.4-6.1h0m-23.7 15.1h0m7.7-9.6h0m17.5-12.1h0m-28.8 23.1h0m39.8-17.7h0m-14.7 5.9h0m2.1 0.8h0m-11.4-6.3h0m26.4 3.1h0m-37.4 9.2h0m23.3-0.7h0m-18.2-0.6h0m-3.5 2.8h0m7.2-5.4h0m15-0.5h0m-22.1 8.1h0m25.6-15.9h0m-8.6 3.2h0m8.8-0.6h0m3.1-4h0m-16.1 7.6h0m6.9-7.9h0m0.5 2.6h0m-4 11.8h0" stroke="#3c4cd6" stroke-width="0.8" stroke-linecap="square" fill="none" opacity="0.72"/>
<path d="M387.2 400.4h0m0.1 5.9h0m3.8-7.7h0m-5.1 8.8h0m-1.8-4.6h0m5.9 3.2h0m-3.4 0.8h0m2.4-0.9h0m-4.3-4h0m12.5 0.3h0m-5.9-3.2h0m2.8 8.2h0m-2.7-0.7h0m-5.4-6.2h0m10.3 2.4h0m-7.1-3.3h0m-0.3 7.7h0m-4.4-1.3h0m7.9 1.2h0m6.6-5.7h0m-13.6-0.5h0m11.3-1.3h0m-8.5 0.2h0m6.7 0.5h0m-1.4 6.4h0m4-1.8h0m-1.2-5.2h0m-20.5-0.2h0m15.5 8.7h0m0.9-8.1h0m-0.9 7.5h0m3.2-4.2h0m-4.8 4h0m-5.2 0.2h0m12.6-8.3h0m-11.5 7.2h0m12.6-3.6h0m-5.3-1.7h0m-15.8 5.4h0m10-6.1h0m1.9-0.9h0m-5.1 7.3h0m1.7 0.4h0m3.3 1h0m2-7.7h0m1.5-2h0m3 6.5h0m-4.1-5.9h0m-7.7 8.8h0m-0.2 2.5h0m4.7-2.6h0m7.7-8.3h0m-15.3 6.7h0m2.8-2.8h0m-1.3-0.4h0m9.4 3.9h0m-10.5-5.7h0m16.4 3.6h0m-5.5-4.5h0m-4.9-1.1h0m-2.3 9.2h0m9.1 8h0m-10.8 3.5h0m-3.4-13.5h0m4 8.7h0m4.2 5.6h0" stroke="#3466d6" stroke-width="0.8" stroke-linecap="square" fill="none" opacity="0.72"/>
<path d="M395.4 404.8h0m1.6-3.4h0m-7 5h0m6.1-4.8h0m-5.9 0.5h0m-6 2.5h0m1.5-0.8h0m6-4.4h0m0.9 5.7h0m0.9-3.8h0m-5.4-3.5h0m2.8 5.9h0m3.8 1.7h0m-9.1-2h0m-0.3 1.9h0m-2 0.4h0m9.4-3.4h0m-3 4.2h0m-3.9-4.8h0m7.2 2.8h0m4.9-3.3h0m-13.7 4.3h0m5.4 1.1h0m0.9-6.3h0m3.2 7.4h0m-4.7-1.6h0m0.9-6.1h0m-4.4 5.4h0m-0.7 1.4h0m4.4 0.9h0m4.9-2.5h0m-8-4h0m1.7 0.3h0m-0.5 4.3h0m3.8 0.9h0m3.5-6.5h0m-0.7 6.3h0m-11.6-1.5h0m1.4-0.1h0m2.9-3.8h0m4.3-0.8h0m-1 5.7h0m-6.2-1.4h0m5-5.5h0m9.9 1.9h0m-3.9 0.6h0m1.3 1h0m-11.6 4.4h0m3-1h0m-3.2-4.3h0m7.4-1.7h0m-2.3 6.1h0m4.7 1.8h0m-7.1-2.3h0m6.3-0.7h0m0.8-4h0m0-0.8h0m-1.7 4.5h0m-5.3 2.1h0" stroke="#3494d0" stroke-width="0.8" stroke-linecap="square" fill="none" opacity="0.72"/>
<path d="M394.5 403.7h0m-9 0.8h0m10.1-0.2h0m-7.1 1.4h0m-2.7-3.1h0m0.6 1.7h0m-0.9-0.1h0m2.5-1.2h0m-1.3 1.8h0m0.6-0.6h0m5.3-0.9h0m2.1 0.9h0m-10.3 0.9h0m1.2-1.3h0m5.6 1.3h0m2.5-1.8h0m0.7 2.8h0m-8.6-1.2h0m3.4-0.4h0m6.7 0.2h0m-4-3.6h0m-4.8 0.5h0m8.4 1.4h0m-11.7 1.7h0m3-3.5h0m6.1 3.9h0m-1.1-2.5h0m-5.2 0.8h0m2.6 3.1h0m1.7-0.1h0m-0.2-0.7h0m2.5-0.9h0m-4.5-0.9h0m-4.2-0.8h0m3.7 1.6h0m-4.6-3.7h0m9-1.3h0m6 3.4h0m-13.4 1h0m7.9-0.5h0m-5.4-2.7h0m-2.3 0.1h0m3.7-0.1h0m-0.5 2.4h0m-3.8 1.5h0m1.9 0.6h0m-1.3-2.2h0m5 1.5h0m5.5-0.6h0" stroke="#3cacb0" stroke-width="0.8" stroke-linecap="square" fill="none" opacity="0.72"/>
<path d="M393.2 405.4h0m-4-2.2h0m-0.6-0.2h0m-1-1.7h0m8 1.5h0m-2.8-1.1h0m-7.1 2.9h0m1.3-0.6h0m7.1 1.9h0m-8.5-2.2h0m3.8-2.1h0m1.6-0.1h0m-4.5 3.4h0m8.2 0.3h0m-5.3-4h0m-1.6 4.3h0m-4-1.5h0m3.6-0.4h0m4.7-3h0m-4.6 1.8h0m-1.5 0.7h0m6.2 2.4h0m2.2-4h0m-4.7 6.1h0m7.7-5.2h0m-10.3 1.5h0m8.4-0.6h0m-7.8 2.7h0m4.8-2.7h0m2.7-1.3h0m-2.2 0.3h0m-6.7 1.8h0m3 0.6h0m-3.3 0h0" stroke="#6cc250" stroke-width="0.8" stroke-linecap="square" fill="none" opacity="0.72"/>
<path d="M389 404.7h0m-1.7-1.5h0m2.3 2.4h0m-3.1-0.2h0m6.7-0.8h0m-5.1-1.3h0m4.4 0.5h0m-5.6 0.6h0m1.6-0.9h0m-0.4 2.4h0m2.1-3.3h0m-0.2 1.3h0m-3 1.7h0m-0.5-2.7h0m4.8 0.7h0m-2.4 2.5h0m1.3-2.9h0m2 0.1h0m-0.3-1.2h0m-1.7-0.2h0m-2.9 0.7h0m5.6-1.6h0m-7 4.6h0m3.8-0.6h0m-2.7-2.9h0m-2.7 3.1h0m8.2 1h0m-1.2-2.4h0m1.3 0.4h0m1.8-2h0m-2.4 2h0m0.2-1.9h0m-4.6 0.4h0m0.2 2.3h0m-0.9-1.6h0m0.5 2.5h0m2.3-4.3h0m-1.9 4.8h0m4.1-3.1h0m2.7-0.1h0m-6.9 0.8h0m0.4 0.5h0m4.6-0.6h0m-6.5-0.8h0m4.5 3.3h0" stroke="#c8d83c" stroke-width="0.8" stroke-linecap="square" fill="none" opacity="0.72"/>
</g>
<path d="M333.2 409.8H401.5M365.7 370.5V438.2" stroke="#555" stroke-width="0.9" fill="none"/>
<path d="M333.2 370.5V438.2H401.5" stroke="#666" stroke-width="0.8" fill="none"/>
<path d="M331.2 378.2h2M331.2 392.4h2M331.2 408.7h2M331.2 424.7h2M331.2 431.1h2M332.2 372.5h1M332.2 375.3h1M332.2 378.1h1M332.2 380.9h1M332.2 383.8h1M332.2 386.6h1M332.2 389.4h1M332.2 392.2h1M332.2 395h1M332.2 397.8h1M332.2 400.6h1M332.2 403.4h1M332.2 406.3h1M332.2 409.1h1M332.2 411.9h1M332.2 414.7h1M332.2 417.5h1M332.2 420.3h1M332.2 423.1h1M332.2 425.9h1M332.2 428.8h1M332.2 431.6h1M332.2 434.4h1M332.2 437.2h1M333.2 438.2v2M362.6 438.2v2M389.7 438.2v2M334.2 438.2v1M336.9 438.2v1M339.5 438.2v1M342.2 438.2v1M344.8 438.2v1M347.5 438.2v1M350.1 438.2v1M352.8 438.2v1M355.4 438.2v1M358.1 438.2v1M360.7 438.2v1M363.4 438.2v1M366 438.2v1M368.7 438.2v1M371.3 438.2v1M374 438.2v1M376.6 438.2v1M379.3 438.2v1M381.9 438.2v1M384.6 438.2v1M387.2 438.2v1M389.9 438.2v1M392.5 438.2v1M395.2 438.2v1M397.8 438.2v1M400.5 438.2v1" stroke="#555" stroke-width="0.55" fill="none"/>
<path d="M333.6 429.2v6" stroke="#222" stroke-width="1" fill="none"/>
<text x="327.7" y="380.5" font-size="6.4" text-anchor="end" fill="#2a2a2a" stroke="#2a2a2a" stroke-width="0.132">10<tspan dy="-3.1" font-size="4.9">5</tspan></text>
<text x="327.7" y="394.7" font-size="6.4" text-anchor="end" fill="#2a2a2a" stroke="#2a2a2a" stroke-width="0.132">10<tspan dy="-3.1" font-size="4.9">4</tspan></text>
<text x="327.7" y="411" font-size="6.4" text-anchor="end" fill="#2a2a2a" stroke="#2a2a2a" stroke-width="0.132">10<tspan dy="-3.1" font-size="4.9">3</tspan></text>
<text x="327.7" y="427" font-size="6.4" text-anchor="end" fill="#2a2a2a" stroke="#2a2a2a" stroke-width="0.132">10<tspan dy="-3.1" font-size="4.9">2</tspan></text>
<text x="326.2" y="433.4" font-size="6.4" text-anchor="end" font-weight="normal" fill="#333" stroke="#333" stroke-width="0.22" >0</text>
<text x="333" y="449.5" font-size="6.4" text-anchor="middle" fill="#2a2a2a" stroke="#2a2a2a" stroke-width="0.132">10<tspan dy="-3.1" font-size="4.9">2</tspan></text>
<text x="362.6" y="449.5" font-size="6.4" text-anchor="middle" fill="#2a2a2a" stroke="#2a2a2a" stroke-width="0.132">10<tspan dy="-3.1" font-size="4.9">3</tspan></text>
<text x="389.7" y="449.5" font-size="6.4" text-anchor="middle" fill="#2a2a2a" stroke="#2a2a2a" stroke-width="0.132">10<tspan dy="-3.1" font-size="4.9">4</tspan></text>
<text x="399.3" y="380.3" font-size="9.4" text-anchor="end" font-weight="bold" fill="#111" >33.9</text>
<path d="M32.6 260.3L32.6 222.6" stroke="#111" stroke-width="1.5" fill="none"/>
<path d="M32.60 215.60L36.10 223.60L32.60 222.00L29.10 223.60z" fill="#111"/>
<text transform="translate(36 278.8) rotate(-90) scale(0.65 1)" font-size="10.0" text-anchor="start" fill="#333" stroke="#333" stroke-width="0.22">Gr-1</text>
<text transform="translate(65.6 304.7) rotate(0) scale(0.73 1)" font-size="10.5" text-anchor="start" fill="#222" stroke="#222" stroke-width="0.22">CD11b</text>
<path d="M92.5 301.3L258.1 301.3" stroke="#111" stroke-width="1.3" fill="none"/>
<path d="M265.30 301.30L257.10 304.70L258.70 301.30L257.10 297.90z" fill="#111"/>
<path d="M32.6 415.2L32.6 377" stroke="#111" stroke-width="1.5" fill="none"/>
<path d="M32.60 370.00L36.10 378.00L32.60 376.40L29.10 378.00z" fill="#111"/>
<text transform="translate(35.8 434.6) rotate(-90) scale(0.65 1)" font-size="10.0" text-anchor="start" fill="#333" stroke="#333" stroke-width="0.22">Gr-1</text>
<text transform="translate(65.8 463.3) rotate(0) scale(0.73 1)" font-size="10.5" text-anchor="start" fill="#222" stroke="#222" stroke-width="0.22">CD11b</text>
<path d="M94 459.5L229.8 459.5" stroke="#111" stroke-width="1.3" fill="none"/>
<path d="M237.00 459.50L228.80 462.90L230.40 459.50L228.80 456.10z" fill="#111"/>
<rect x="1" y="1" width="518" height="505" fill="none" stroke="#000" stroke-width="2"/>
</svg>
</body></html>
